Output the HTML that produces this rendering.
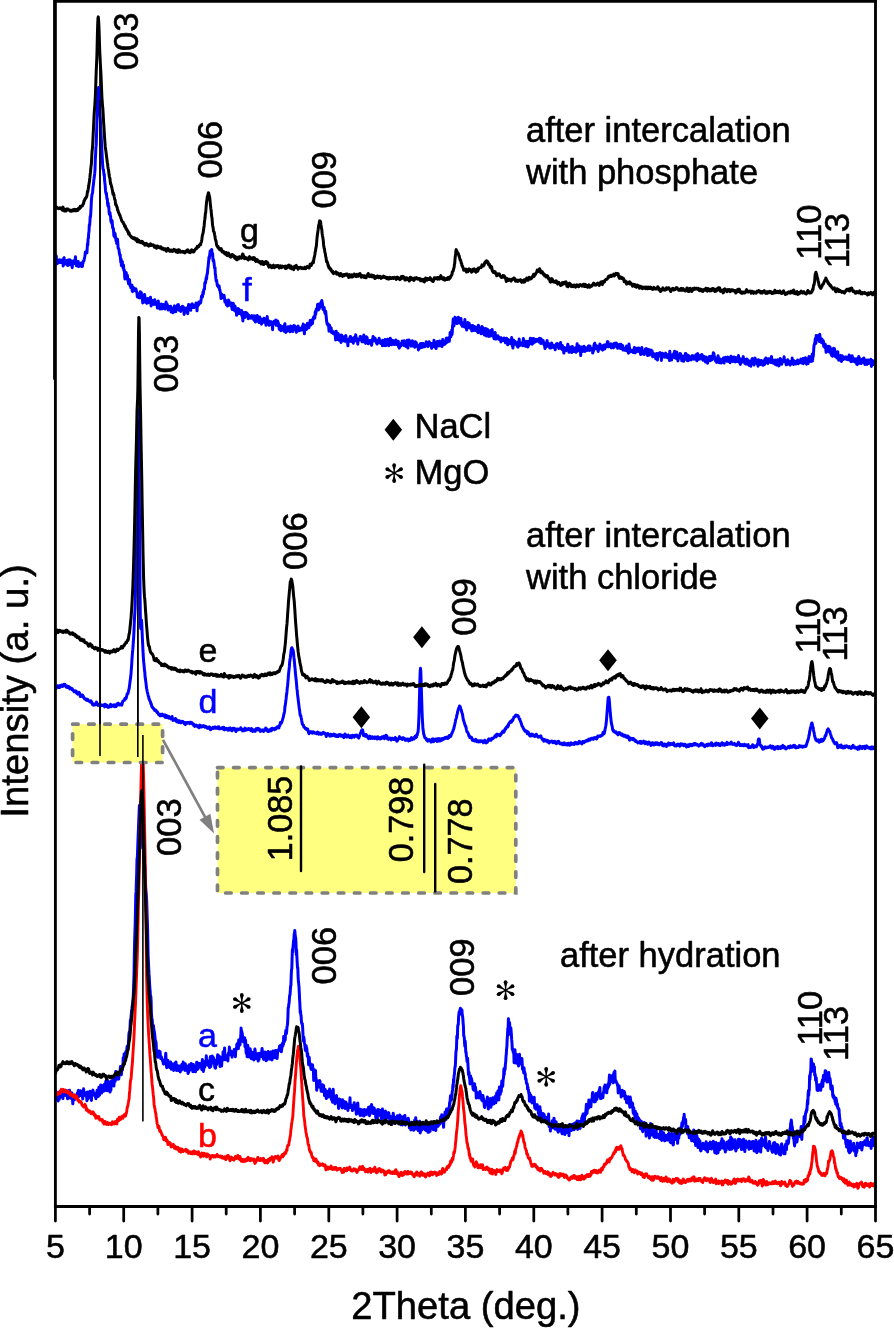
<!DOCTYPE html>
<html><head><meta charset="utf-8"><title>XRD</title>
<style>html,body{margin:0;padding:0;background:#fff}svg{display:block;will-change:transform}text{font-family:"Liberation Sans",sans-serif;stroke-width:0.55px;stroke-linejoin:round}text{stroke:#000}text[fill="#00f"]{stroke:#00f}text[fill="#f00"]{stroke:#f00}</style></head>
<body>
<svg width="894" height="1330" viewBox="0 0 894 1330">
<rect width="894" height="1330" fill="#fff"/>
<g stroke="#000" stroke-width="1.6">
<line x1="100" y1="60" x2="100" y2="756"/>
<line x1="137.8" y1="330" x2="137.8" y2="757"/>
</g>
<g id="top">
<path d="M55.4 261.6L55.7 260.2L56.0 260.0L56.3 256.1L56.6 262.8L56.9 263.9L57.2 261.5L57.5 262.8L57.8 262.3L58.1 260.6L58.4 262.9L58.7 261.3L59.0 260.7L59.3 259.7L59.6 261.7L59.9 261.3L60.2 262.5L60.5 260.7L60.8 261.5L61.1 259.9L61.4 262.6L61.7 262.3L62.0 262.5L62.3 262.8L62.6 260.2L62.9 262.7L63.2 266.0L63.5 260.2L63.8 258.0L64.1 257.7L64.4 262.1L64.7 262.3L65.0 264.1L65.3 264.1L65.6 263.2L65.9 263.0L66.2 262.1L66.5 263.8L66.8 260.6L67.1 260.8L67.4 262.2L67.7 265.6L68.0 262.0L68.3 260.1L68.6 260.5L68.9 263.5L69.2 262.3L69.5 264.8L69.8 259.7L70.1 263.6L70.4 264.7L70.7 260.5L71.0 262.0L71.3 264.6L71.6 263.4L71.9 264.6L72.2 267.7L72.5 264.8L72.8 262.8L73.1 261.1L73.4 263.2L73.7 262.4L74.0 262.1L74.3 262.2L74.6 263.6L74.9 260.9L75.2 259.1L75.5 256.7L75.8 262.9L76.1 262.9L76.4 265.8L76.7 264.0L77.0 262.1L77.3 263.9L77.6 263.6L77.9 261.4L78.2 261.4L78.5 266.6L78.8 265.8L79.1 265.8L79.4 264.6L79.7 263.4L80.0 266.1L80.3 265.1L80.6 263.6L80.9 264.2L81.2 262.9L81.5 264.4L81.8 266.6L82.1 263.5L82.4 266.4L82.7 263.2L83.0 263.3L83.3 261.1L83.6 261.1L83.9 261.0L84.2 259.5L84.5 257.8L84.8 256.5L85.1 254.9L85.4 252.0L85.7 252.5L86.0 252.9L86.3 252.9L86.6 251.2L86.9 252.8L87.2 248.1L87.5 243.7L87.8 245.1L88.1 238.6L88.4 238.5L88.7 233.0L89.0 231.7L89.3 224.9L89.6 225.7L89.9 221.8L90.2 216.5L90.5 217.0L90.8 212.7L91.1 207.0L91.4 200.4L91.7 197.2L92.0 194.3L92.3 193.6L92.6 192.5L92.9 188.3L93.2 186.1L93.5 184.0L93.8 180.2L94.1 178.3L94.4 176.0L94.7 173.4L95.0 169.6L95.3 159.6L95.6 154.8L95.9 147.5L96.2 145.4L96.5 135.5L96.8 126.6L97.1 113.6L97.4 103.7L97.7 98.0L98.0 92.3L98.3 90.8L98.6 87.5L98.9 92.4L99.2 93.9L99.5 103.0L99.8 106.8L100.1 115.8L100.4 119.9L100.7 129.2L101.0 133.1L101.3 138.6L101.6 145.4L101.9 150.5L102.2 156.5L102.5 162.4L102.8 167.0L103.1 169.2L103.4 169.2L103.7 171.8L104.0 175.1L104.3 174.1L104.6 180.8L104.9 183.1L105.2 185.6L105.5 190.2L105.8 192.6L106.1 193.8L106.4 193.1L106.7 196.6L107.0 199.0L107.3 198.8L107.6 203.8L107.9 205.9L108.2 203.1L108.5 207.1L108.8 206.9L109.1 212.2L109.4 214.3L109.7 212.2L110.0 212.7L110.3 215.5L110.6 216.6L110.9 221.1L111.2 222.0L111.5 221.3L111.8 223.6L112.1 220.5L112.4 224.8L112.7 228.2L113.0 228.3L113.3 228.2L113.6 231.3L113.9 235.8L114.2 234.8L114.5 232.7L114.8 237.5L115.1 233.6L115.4 237.4L115.7 237.3L116.0 240.8L116.3 239.2L116.6 243.4L116.9 243.5L117.2 240.3L117.5 239.3L117.8 242.8L118.1 247.8L118.4 248.2L118.7 249.1L119.0 249.8L119.3 252.9L119.6 254.3L119.9 255.6L120.2 254.6L120.5 259.3L120.8 262.3L121.1 259.1L121.4 265.6L121.7 265.7L122.0 264.0L122.3 261.4L122.6 265.9L122.9 267.9L123.2 267.1L123.5 265.1L123.8 270.5L124.1 269.7L124.4 270.2L124.7 277.2L125.0 278.9L125.3 277.7L125.6 275.2L125.9 276.9L126.2 272.5L126.5 276.0L126.8 276.0L127.1 275.5L127.4 275.3L127.7 279.6L128.0 280.7L128.3 281.7L128.6 283.8L128.9 281.7L129.2 280.6L129.5 279.6L129.8 282.4L130.1 285.8L130.4 285.6L130.7 287.4L131.0 284.9L131.3 285.7L131.6 285.8L131.9 285.2L132.2 291.1L132.5 291.6L132.8 288.9L133.1 288.3L133.4 289.6L133.7 287.7L134.0 290.8L134.3 288.8L134.6 290.1L134.9 289.5L135.2 290.5L135.5 289.4L135.8 288.8L136.1 289.8L136.4 290.9L136.7 292.2L137.0 293.5L137.3 296.9L137.6 296.9L137.9 295.0L138.2 296.3L138.5 294.3L138.8 297.7L139.1 297.4L139.4 293.8L139.7 296.7L140.0 297.9L140.3 291.8L140.6 293.5L140.9 294.7L141.2 292.5L141.5 293.5L141.8 294.2L142.1 297.3L142.4 298.1L142.7 302.9L143.0 299.0L143.3 300.6L143.6 299.3L143.9 299.3L144.2 296.7L144.5 294.5L144.8 296.0L145.1 299.5L145.4 302.3L145.7 301.6L146.0 301.3L146.3 298.7L146.6 302.4L146.9 303.4L147.2 300.3L147.5 300.3L147.8 298.5L148.1 302.7L148.4 302.2L148.7 301.2L149.0 301.9L149.3 302.3L149.6 300.9L149.9 298.9L150.2 298.2L150.5 297.2L150.8 301.1L151.1 305.9L151.4 300.2L151.7 301.8L152.0 302.9L152.3 300.8L152.6 302.3L152.9 300.5L153.2 304.3L153.5 302.3L153.8 303.0L154.1 304.4L154.4 302.9L154.7 299.8L155.0 301.2L155.3 304.2L155.6 303.7L155.9 304.2L156.2 302.0L156.5 303.6L156.8 305.3L157.1 304.7L157.4 308.1L157.7 305.3L158.0 302.9L158.3 301.0L158.6 305.6L158.9 305.0L159.2 306.9L159.5 306.6L159.8 308.7L160.1 308.9L160.4 305.9L160.7 306.1L161.0 307.8L161.3 304.1L161.6 307.9L161.9 308.9L162.2 308.9L162.5 306.7L162.8 306.9L163.1 304.4L163.4 305.8L163.7 305.1L164.0 306.2L164.3 305.6L164.6 306.9L164.9 309.1L165.2 305.2L165.5 308.2L165.8 303.7L166.1 301.9L166.4 305.2L166.7 306.7L167.0 308.0L167.3 304.6L167.6 306.5L167.9 307.5L168.2 310.1L168.5 308.5L168.8 309.2L169.1 306.6L169.4 307.2L169.7 307.0L170.0 309.2L170.3 306.8L170.6 306.2L170.9 308.8L171.2 312.0L171.5 310.5L171.8 309.8L172.1 308.4L172.4 310.7L172.7 310.5L173.0 312.7L173.3 310.8L173.6 307.8L173.9 307.4L174.2 306.6L174.5 305.8L174.8 310.3L175.1 311.0L175.4 307.4L175.7 311.8L176.0 310.5L176.3 307.8L176.6 309.4L176.9 309.1L177.2 307.7L177.5 305.0L177.8 307.8L178.1 309.2L178.4 304.4L178.7 308.6L179.0 310.2L179.3 308.7L179.6 309.3L179.9 308.7L180.2 307.5L180.5 308.0L180.8 311.4L181.1 307.3L181.4 309.0L181.7 309.5L182.0 308.0L182.3 308.0L182.6 306.2L182.9 306.5L183.2 308.3L183.5 309.5L183.8 307.6L184.1 314.4L184.4 309.9L184.7 309.6L185.0 308.8L185.3 308.2L185.6 311.2L185.9 308.9L186.2 311.4L186.5 312.0L186.8 308.0L187.1 310.5L187.4 308.1L187.7 313.7L188.0 309.7L188.3 307.2L188.6 304.5L188.9 304.6L189.2 306.0L189.5 305.6L189.8 305.0L190.1 305.7L190.4 306.9L190.7 310.3L191.0 305.5L191.3 306.0L191.6 305.3L191.9 303.9L192.2 303.8L192.5 304.4L192.8 307.6L193.1 306.9L193.4 305.9L193.7 307.6L194.0 307.5L194.3 306.4L194.6 307.1L194.9 304.9L195.2 306.8L195.5 307.0L195.8 305.3L196.1 303.0L196.4 307.3L196.7 305.9L197.0 310.8L197.3 305.4L197.6 306.2L197.9 303.8L198.2 304.1L198.5 305.0L198.8 302.1L199.1 302.1L199.4 302.3L199.7 302.0L200.0 302.5L200.3 303.2L200.6 302.7L200.9 301.1L201.2 299.0L201.5 296.3L201.8 295.7L202.1 295.4L202.4 297.0L202.7 295.0L203.0 292.0L203.3 293.8L203.6 291.1L203.9 289.4L204.2 289.0L204.5 289.3L204.8 283.0L205.1 282.2L205.4 283.3L205.7 281.6L206.0 278.8L206.3 277.2L206.6 279.0L206.9 274.8L207.2 274.1L207.5 272.6L207.8 268.3L208.1 267.0L208.4 263.4L208.7 260.5L209.0 257.2L209.3 258.6L209.6 255.6L209.9 253.4L210.2 250.9L210.5 255.1L210.8 254.4L211.1 252.6L211.4 251.1L211.7 249.5L212.0 253.0L212.3 255.0L212.6 253.4L212.9 258.8L213.2 261.0L213.5 259.8L213.8 261.3L214.1 263.4L214.4 266.5L214.7 268.2L215.0 267.3L215.3 274.0L215.6 275.4L215.9 278.7L216.2 281.0L216.5 280.0L216.8 281.7L217.1 284.0L217.4 285.7L217.7 285.4L218.0 285.2L218.3 287.1L218.6 286.8L218.9 287.9L219.2 286.0L219.5 289.9L219.8 289.7L220.1 291.0L220.4 292.9L220.7 294.6L221.0 298.6L221.3 297.2L221.6 294.0L221.9 296.1L222.2 295.8L222.5 297.8L222.8 296.7L223.1 296.5L223.4 297.1L223.7 297.3L224.0 295.3L224.3 296.9L224.6 298.9L224.9 302.1L225.2 300.5L225.5 300.0L225.8 301.7L226.1 302.4L226.4 304.8L226.7 303.8L227.0 302.5L227.3 304.8L227.6 306.1L227.9 302.9L228.2 303.2L228.5 300.0L228.8 301.5L229.1 301.3L229.4 302.6L229.7 302.8L230.0 303.6L230.3 304.2L230.6 305.7L230.9 305.9L231.2 304.7L231.5 303.0L231.8 307.4L232.1 309.4L232.4 306.8L232.7 307.9L233.0 304.5L233.3 303.4L233.6 305.6L233.9 309.9L234.2 306.8L234.5 306.3L234.8 310.9L235.1 306.1L235.4 309.3L235.7 310.4L236.0 309.6L236.3 310.3L236.6 315.3L236.9 310.1L237.2 310.0L237.5 310.3L237.8 309.7L238.1 308.4L238.4 313.7L238.7 313.1L239.0 309.2L239.3 310.0L239.6 312.5L239.9 313.5L240.2 310.4L240.5 312.0L240.8 313.3L241.1 314.1L241.4 314.5L241.7 310.6L242.0 316.2L242.3 315.1L242.6 317.9L242.9 320.9L243.2 316.3L243.5 312.8L243.8 315.6L244.1 314.7L244.4 313.9L244.7 312.6L245.0 317.4L245.3 315.1L245.6 312.5L245.9 313.5L246.2 312.6L246.5 314.8L246.8 314.5L247.1 313.3L247.4 316.1L247.7 314.7L248.0 316.9L248.3 318.7L248.6 316.4L248.9 315.1L249.2 316.3L249.5 318.0L249.8 317.0L250.1 317.0L250.4 316.7L250.7 317.3L251.0 318.2L251.3 316.0L251.6 315.8L251.9 316.7L252.2 315.8L252.5 317.0L252.8 318.3L253.1 317.7L253.4 316.5L253.7 315.8L254.0 320.3L254.3 320.4L254.6 316.7L254.9 316.0L255.2 320.9L255.5 322.0L255.8 319.8L256.1 321.1L256.4 316.6L256.7 317.9L257.0 319.8L257.3 315.6L257.6 316.3L257.9 319.5L258.2 321.4L258.5 318.8L258.8 319.7L259.1 322.5L259.4 319.8L259.7 317.1L260.0 318.7L260.3 318.6L260.6 321.9L260.9 320.9L261.2 318.9L261.5 324.2L261.8 320.7L262.1 321.4L262.4 322.0L262.7 322.5L263.0 321.6L263.3 322.2L263.6 321.2L263.9 318.3L264.2 319.7L264.5 320.2L264.8 320.5L265.1 321.3L265.4 320.2L265.7 323.5L266.0 325.2L266.3 318.8L266.6 320.8L266.9 320.1L267.2 316.4L267.5 320.9L267.8 320.5L268.1 320.9L268.4 320.6L268.7 323.9L269.0 325.3L269.3 324.1L269.6 324.5L269.9 323.2L270.2 323.3L270.5 321.7L270.8 322.7L271.1 321.7L271.4 323.4L271.7 325.0L272.0 324.6L272.3 326.2L272.6 329.7L272.9 321.9L273.2 323.3L273.5 322.7L273.8 322.8L274.1 321.2L274.4 323.4L274.7 323.6L275.0 323.1L275.3 323.7L275.6 323.3L275.9 320.0L276.2 325.3L276.5 324.7L276.8 323.3L277.1 325.3L277.4 324.2L277.7 321.1L278.0 325.8L278.3 322.7L278.6 324.5L278.9 325.8L279.2 328.6L279.5 329.4L279.8 327.8L280.1 325.6L280.4 325.6L280.7 328.4L281.0 330.8L281.3 329.4L281.6 326.7L281.9 329.0L282.2 327.3L282.5 326.6L282.8 326.7L283.1 328.5L283.4 328.6L283.7 330.0L284.0 331.1L284.3 330.1L284.6 324.5L284.9 323.7L285.2 327.0L285.5 327.8L285.8 332.4L286.1 329.9L286.4 328.8L286.7 330.6L287.0 331.4L287.3 329.4L287.6 330.0L287.9 327.2L288.2 326.7L288.5 330.6L288.8 327.0L289.1 330.2L289.4 330.9L289.7 331.3L290.0 331.8L290.3 331.3L290.6 326.1L290.9 326.4L291.2 327.3L291.5 330.5L291.8 327.7L292.1 327.6L292.4 328.2L292.7 331.6L293.0 327.5L293.3 326.3L293.6 329.6L293.9 325.5L294.2 328.7L294.5 328.3L294.8 326.1L295.1 327.4L295.4 326.8L295.7 328.8L296.0 329.8L296.3 332.3L296.6 330.3L296.9 329.8L297.2 328.3L297.5 328.8L297.8 330.9L298.1 326.1L298.4 329.2L298.7 328.0L299.0 328.7L299.3 329.4L299.6 330.6L299.9 329.8L300.2 328.3L300.5 329.1L300.8 328.7L301.1 328.2L301.4 328.7L301.7 330.1L302.0 329.2L302.3 328.8L302.6 325.9L302.9 327.0L303.2 324.1L303.5 327.9L303.8 326.0L304.1 329.5L304.4 333.8L304.7 328.9L305.0 330.3L305.3 329.0L305.6 326.7L305.9 325.2L306.2 327.3L306.5 329.5L306.8 328.2L307.1 324.1L307.4 323.4L307.7 324.6L308.0 327.9L308.3 326.9L308.6 326.4L308.9 327.8L309.2 325.4L309.5 324.6L309.8 324.0L310.1 320.5L310.4 323.3L310.7 324.0L311.0 325.0L311.3 321.0L311.6 320.0L311.9 322.6L312.2 322.1L312.5 323.5L312.8 319.4L313.1 319.6L313.4 317.6L313.7 318.3L314.0 316.6L314.3 317.5L314.6 318.3L314.9 317.3L315.2 311.8L315.5 314.5L315.8 313.9L316.1 310.4L316.4 308.9L316.7 309.5L317.0 310.2L317.3 307.9L317.6 304.4L317.9 306.2L318.2 306.2L318.5 310.0L318.8 303.9L319.1 308.6L319.4 308.6L319.7 305.6L320.0 307.0L320.3 304.5L320.6 305.4L320.9 302.6L321.2 303.3L321.5 301.8L321.8 300.5L322.1 302.9L322.4 303.5L322.7 306.5L323.0 309.4L323.3 308.3L323.6 309.0L323.9 310.1L324.2 307.6L324.5 311.0L324.8 312.4L325.1 313.5L325.4 312.5L325.7 311.2L326.0 314.6L326.3 317.5L326.6 321.1L326.9 322.5L327.2 324.2L327.5 323.3L327.8 325.1L328.1 323.6L328.4 325.2L328.7 326.8L329.0 331.2L329.3 328.6L329.6 325.2L329.9 329.5L330.2 327.2L330.5 328.2L330.8 328.5L331.1 327.8L331.4 332.1L331.7 332.5L332.0 330.7L332.3 331.6L332.6 331.3L332.9 333.4L333.2 332.5L333.5 331.7L333.8 331.8L334.1 332.5L334.4 334.3L334.7 332.8L335.0 334.1L335.3 335.7L335.6 340.0L335.9 338.8L336.2 331.3L336.5 333.5L336.8 334.6L337.1 336.4L337.4 339.6L337.7 339.2L338.0 333.4L338.3 336.4L338.6 337.2L338.9 338.1L339.2 340.3L339.5 336.5L339.8 339.4L340.1 335.3L340.4 337.1L340.7 338.4L341.0 342.5L341.3 338.4L341.6 335.1L341.9 338.5L342.2 337.2L342.5 340.9L342.8 338.0L343.1 336.7L343.4 340.3L343.7 339.4L344.0 340.8L344.3 336.8L344.6 341.2L344.9 338.6L345.2 340.3L345.5 337.5L345.8 335.5L346.1 337.3L346.4 338.8L346.7 342.0L347.0 340.8L347.3 341.1L347.6 341.1L347.9 345.8L348.2 340.0L348.5 341.9L348.8 339.9L349.1 340.1L349.4 338.6L349.7 341.3L350.0 337.7L350.3 336.4L350.6 338.0L350.9 336.8L351.2 339.9L351.5 341.4L351.8 338.8L352.1 340.8L352.4 338.8L352.7 339.3L353.0 339.5L353.3 343.2L353.6 340.9L353.9 338.4L354.2 337.5L354.5 341.2L354.8 337.1L355.1 338.0L355.4 338.4L355.7 334.7L356.0 337.1L356.3 340.8L356.6 340.6L356.9 338.4L357.2 340.7L357.5 341.1L357.8 344.2L358.1 340.0L358.4 339.2L358.7 339.8L359.0 339.6L359.3 340.0L359.6 339.8L359.9 338.6L360.2 336.5L360.5 337.7L360.8 336.6L361.1 336.9L361.4 337.9L361.7 340.3L362.0 341.8L362.3 338.7L362.6 340.2L362.9 341.7L363.2 340.6L363.5 337.2L363.8 335.1L364.1 339.9L364.4 341.9L364.7 341.3L365.0 338.7L365.3 342.5L365.6 343.4L365.9 341.3L366.2 340.3L366.5 336.7L366.8 340.5L367.1 337.4L367.4 340.7L367.7 342.0L368.0 341.2L368.3 343.8L368.6 341.1L368.9 341.9L369.2 342.6L369.5 341.9L369.8 340.4L370.1 343.0L370.4 342.4L370.7 341.0L371.0 340.6L371.3 341.1L371.6 345.3L371.9 342.7L372.2 341.2L372.5 339.1L372.8 338.1L373.1 336.5L373.4 340.0L373.7 340.9L374.0 339.2L374.3 337.8L374.6 339.5L374.9 339.8L375.2 338.3L375.5 341.0L375.8 341.6L376.1 341.5L376.4 343.0L376.7 340.9L377.0 344.0L377.3 340.6L377.6 342.3L377.9 343.2L378.2 341.8L378.5 342.5L378.8 339.7L379.1 338.3L379.4 340.3L379.7 340.1L380.0 342.5L380.3 342.3L380.6 343.4L380.9 343.2L381.2 342.9L381.5 342.7L381.8 341.7L382.1 341.2L382.4 345.8L382.7 340.3L383.0 341.3L383.3 344.0L383.6 343.8L383.9 345.6L384.2 344.7L384.5 340.9L384.8 341.4L385.1 339.6L385.4 343.5L385.7 345.7L386.0 342.9L386.3 343.9L386.6 342.4L386.9 340.0L387.2 341.0L387.5 339.2L387.8 340.5L388.1 342.5L388.4 344.2L388.7 345.8L389.0 343.4L389.3 343.6L389.6 344.0L389.9 344.5L390.2 338.2L390.5 339.9L390.8 343.5L391.1 341.2L391.4 343.0L391.7 344.7L392.0 340.2L392.3 341.8L392.6 343.2L392.9 343.3L393.2 340.4L393.5 343.0L393.8 342.2L394.1 344.6L394.4 344.6L394.7 342.8L395.0 343.6L395.3 342.3L395.6 341.8L395.9 340.0L396.2 341.9L396.5 344.5L396.8 344.2L397.1 343.8L397.4 342.5L397.7 342.3L398.0 344.6L398.3 341.2L398.6 346.8L398.9 344.7L399.2 348.2L399.5 347.6L399.8 344.4L400.1 345.4L400.4 344.9L400.7 345.2L401.0 345.9L401.3 343.6L401.6 342.7L401.9 342.8L402.2 341.0L402.5 342.5L402.8 344.0L403.1 344.5L403.4 344.6L403.7 343.6L404.0 345.5L404.3 340.8L404.6 342.3L404.9 342.9L405.2 345.5L405.5 346.0L405.8 346.4L406.1 345.1L406.4 346.4L406.7 343.2L407.0 344.1L407.3 340.3L407.6 346.2L407.9 348.0L408.2 344.6L408.5 342.9L408.8 340.0L409.1 340.0L409.4 343.2L409.7 343.8L410.0 341.5L410.3 342.6L410.6 342.6L410.9 344.8L411.2 346.1L411.5 344.8L411.8 344.9L412.1 344.8L412.4 340.8L412.7 343.7L413.0 344.3L413.3 346.0L413.6 341.8L413.9 345.2L414.2 343.8L414.5 345.0L414.8 347.2L415.1 342.9L415.4 341.8L415.7 345.7L416.0 343.1L416.3 342.5L416.6 345.3L416.9 344.7L417.2 346.4L417.5 346.1L417.8 345.4L418.1 347.0L418.4 349.9L418.7 346.6L419.0 348.4L419.3 348.4L419.6 346.5L419.9 346.5L420.2 343.8L420.5 343.5L420.8 345.1L421.1 345.1L421.4 347.6L421.7 343.6L422.0 344.1L422.3 343.6L422.6 344.3L422.9 347.1L423.2 343.6L423.5 346.2L423.8 344.5L424.1 344.3L424.4 346.8L424.7 345.2L425.0 346.5L425.3 345.9L425.6 345.1L425.9 344.5L426.2 341.7L426.5 342.5L426.8 344.6L427.1 345.3L427.4 342.4L427.7 346.1L428.0 346.5L428.3 343.2L428.6 342.4L428.9 345.1L429.2 341.7L429.5 342.5L429.8 344.0L430.1 344.4L430.4 344.7L430.7 345.6L431.0 343.6L431.3 343.5L431.6 348.3L431.9 343.4L432.2 343.4L432.5 344.5L432.8 343.4L433.1 346.5L433.4 345.4L433.7 346.3L434.0 340.2L434.3 345.3L434.6 346.9L434.9 343.9L435.2 346.7L435.5 345.7L435.8 346.5L436.1 348.5L436.4 345.9L436.7 342.8L437.0 343.6L437.3 341.5L437.6 341.6L437.9 341.7L438.2 341.8L438.5 345.3L438.8 345.9L439.1 342.8L439.4 345.5L439.7 341.1L440.0 341.5L440.3 342.5L440.6 345.4L440.9 345.4L441.2 344.9L441.5 346.3L441.8 345.6L442.1 346.5L442.4 342.7L442.7 339.6L443.0 340.9L443.3 343.6L443.6 343.4L443.9 344.4L444.2 344.4L444.5 343.9L444.8 344.2L445.1 341.3L445.4 343.6L445.7 340.3L446.0 340.8L446.3 338.3L446.6 341.0L446.9 337.9L447.2 342.3L447.5 338.5L447.8 340.0L448.1 339.6L448.4 337.9L448.7 341.1L449.0 338.8L449.3 341.3L449.6 337.1L449.9 335.7L450.2 332.5L450.5 335.7L450.8 336.9L451.1 335.3L451.4 333.3L451.7 330.3L452.0 334.5L452.3 332.0L452.6 325.2L452.9 324.6L453.2 319.1L453.5 324.2L453.8 326.0L454.1 325.1L454.4 321.8L454.7 319.6L455.0 317.2L455.3 320.0L455.6 318.5L455.9 318.6L456.2 318.2L456.5 318.6L456.8 321.1L457.1 323.5L457.4 321.5L457.7 320.6L458.0 318.2L458.3 317.2L458.6 317.3L458.9 321.1L459.2 321.3L459.5 322.9L459.8 322.5L460.1 320.9L460.4 318.9L460.7 320.0L461.0 318.5L461.3 324.6L461.6 323.6L461.9 322.1L462.2 326.3L462.5 323.3L462.8 324.2L463.1 323.3L463.4 324.1L463.7 323.1L464.0 324.5L464.3 326.9L464.6 322.8L464.9 319.6L465.2 325.4L465.5 325.3L465.8 326.7L466.1 325.1L466.4 328.2L466.7 329.9L467.0 324.9L467.3 326.7L467.6 325.0L467.9 322.6L468.2 324.4L468.5 326.7L468.8 324.0L469.1 323.2L469.4 327.9L469.7 327.3L470.0 327.9L470.3 325.2L470.6 325.3L470.9 326.9L471.2 327.7L471.5 327.9L471.8 330.9L472.1 329.3L472.4 325.6L472.7 325.6L473.0 327.2L473.3 330.4L473.6 327.8L473.9 327.6L474.2 328.2L474.5 327.2L474.8 326.7L475.1 327.7L475.4 330.5L475.7 330.5L476.0 329.1L476.3 330.0L476.6 327.2L476.9 330.6L477.2 331.4L477.5 330.8L477.8 327.0L478.1 332.7L478.4 325.3L478.7 326.5L479.0 327.1L479.3 330.4L479.6 327.5L479.9 329.8L480.2 329.9L480.5 329.7L480.8 331.9L481.1 333.8L481.4 332.6L481.7 330.9L482.0 326.6L482.3 332.2L482.6 330.9L482.9 327.5L483.2 330.2L483.5 333.7L483.8 331.9L484.1 329.4L484.4 335.1L484.7 334.0L485.0 333.2L485.3 334.2L485.6 328.5L485.9 330.6L486.2 331.2L486.5 336.1L486.8 332.5L487.1 331.3L487.4 329.3L487.7 329.8L488.0 331.2L488.3 332.6L488.6 332.3L488.9 336.4L489.2 335.0L489.5 334.9L489.8 336.3L490.1 335.5L490.4 333.1L490.7 330.4L491.0 333.2L491.3 332.0L491.6 335.8L491.9 333.2L492.2 329.6L492.5 332.8L492.8 336.0L493.1 334.8L493.4 335.2L493.7 335.5L494.0 338.7L494.3 337.2L494.6 336.1L494.9 334.8L495.2 332.5L495.5 337.6L495.8 339.1L496.1 335.7L496.4 337.6L496.7 337.9L497.0 336.7L497.3 336.6L497.6 338.7L497.9 335.8L498.2 336.3L498.5 337.4L498.8 338.0L499.1 338.0L499.4 338.9L499.7 339.9L500.0 337.7L500.3 338.9L500.6 338.2L500.9 342.0L501.2 337.8L501.5 338.7L501.8 340.9L502.1 339.9L502.4 339.5L502.7 339.1L503.0 340.6L503.3 338.4L503.6 339.8L503.9 340.3L504.2 337.9L504.5 340.4L504.8 339.9L505.1 341.3L505.4 342.8L505.7 342.4L506.0 339.4L506.3 341.3L506.6 338.3L506.9 338.8L507.2 343.7L507.5 342.3L507.8 344.8L508.1 342.4L508.4 341.9L508.7 339.7L509.0 342.8L509.3 341.8L509.6 343.0L509.9 343.1L510.2 343.4L510.5 343.1L510.8 342.3L511.1 342.2L511.4 340.8L511.7 337.6L512.0 341.6L512.3 346.0L512.6 345.7L512.9 348.0L513.2 345.3L513.5 341.6L513.8 340.3L514.1 343.2L514.4 343.4L514.7 342.6L515.0 344.0L515.3 341.5L515.6 343.3L515.9 342.4L516.2 342.9L516.5 345.1L516.8 343.3L517.1 345.6L517.4 346.4L517.7 342.6L518.0 347.2L518.3 342.1L518.6 342.4L518.9 344.2L519.2 339.0L519.5 343.6L519.8 345.4L520.1 343.6L520.4 343.7L520.7 343.7L521.0 342.9L521.3 345.0L521.6 343.0L521.9 342.9L522.2 343.7L522.5 344.9L522.8 345.8L523.1 341.1L523.4 338.4L523.7 341.1L524.0 342.2L524.3 340.6L524.6 342.6L524.9 343.9L525.2 343.9L525.5 346.3L525.8 342.0L526.1 342.4L526.4 346.2L526.7 345.1L527.0 341.3L527.3 342.4L527.6 344.7L527.9 347.1L528.2 345.3L528.5 345.5L528.8 341.3L529.1 341.4L529.4 344.2L529.7 341.0L530.0 341.6L530.3 338.3L530.6 343.6L530.9 342.3L531.2 343.2L531.5 339.5L531.8 338.6L532.1 344.2L532.4 342.0L532.7 340.9L533.0 342.5L533.3 343.1L533.6 338.5L533.9 338.7L534.2 340.7L534.5 341.3L534.8 342.2L535.1 340.9L535.4 340.8L535.7 341.6L536.0 340.1L536.3 339.3L536.6 339.5L536.9 340.6L537.2 340.6L537.5 340.0L537.8 340.1L538.1 340.6L538.4 341.4L538.7 341.8L539.0 338.7L539.3 342.0L539.6 338.3L539.9 341.1L540.2 339.8L540.5 341.9L540.8 343.6L541.1 338.7L541.4 341.8L541.7 342.3L542.0 341.2L542.3 342.6L542.6 341.5L542.9 342.4L543.2 340.6L543.5 343.5L543.8 344.3L544.1 345.0L544.4 342.7L544.7 346.7L545.0 348.5L545.3 345.3L545.6 343.7L545.9 343.2L546.2 345.2L546.5 346.7L546.8 343.9L547.1 340.6L547.4 344.2L547.7 344.6L548.0 345.2L548.3 346.2L548.6 343.5L548.9 344.9L549.2 344.7L549.5 346.0L549.8 348.1L550.1 346.6L550.4 344.5L550.7 347.8L551.0 348.0L551.3 346.4L551.6 342.9L551.9 343.4L552.2 345.6L552.5 347.2L552.8 345.8L553.1 347.1L553.4 345.6L553.7 345.5L554.0 347.4L554.3 346.5L554.6 347.1L554.9 348.7L555.2 349.8L555.5 346.9L555.8 346.6L556.1 344.5L556.4 343.8L556.7 346.6L557.0 346.1L557.3 343.4L557.6 347.0L557.9 345.7L558.2 346.3L558.5 347.9L558.8 348.4L559.1 347.8L559.4 343.9L559.7 347.5L560.0 346.5L560.3 344.7L560.6 342.5L560.9 348.5L561.2 348.4L561.5 348.3L561.8 349.3L562.1 348.3L562.4 345.4L562.7 348.5L563.0 350.2L563.3 349.9L563.6 351.8L563.9 353.1L564.2 348.5L564.5 347.6L564.8 349.8L565.1 349.3L565.4 349.2L565.7 350.6L566.0 350.7L566.3 348.5L566.6 348.9L566.9 347.4L567.2 347.9L567.5 346.4L567.8 344.3L568.1 346.3L568.4 346.9L568.7 349.9L569.0 352.3L569.3 350.2L569.6 350.4L569.9 348.3L570.2 347.1L570.5 347.9L570.8 348.2L571.1 349.4L571.4 349.5L571.7 352.5L572.0 350.0L572.3 346.5L572.6 348.6L572.9 347.9L573.2 349.2L573.5 351.5L573.8 349.0L574.1 349.1L574.4 350.3L574.7 348.0L575.0 349.4L575.3 350.5L575.6 351.4L575.9 352.3L576.2 351.6L576.5 351.0L576.8 347.5L577.1 343.8L577.4 345.8L577.7 351.0L578.0 350.3L578.3 345.6L578.6 347.4L578.9 349.6L579.2 346.1L579.5 349.5L579.8 347.4L580.1 350.8L580.4 350.1L580.7 355.6L581.0 349.2L581.3 350.0L581.6 346.9L581.9 350.8L582.2 350.2L582.5 351.5L582.8 350.4L583.1 347.6L583.4 347.5L583.7 346.4L584.0 346.3L584.3 348.5L584.6 351.0L584.9 351.5L585.2 351.0L585.5 348.7L585.8 350.0L586.1 347.8L586.4 349.0L586.7 350.6L587.0 349.2L587.3 348.1L587.6 347.8L587.9 349.6L588.2 348.5L588.5 346.0L588.8 347.0L589.1 346.1L589.4 350.6L589.7 349.3L590.0 346.0L590.3 348.1L590.6 349.7L590.9 349.6L591.2 348.1L591.5 348.6L591.8 348.9L592.1 350.4L592.4 349.7L592.7 353.0L593.0 349.5L593.3 351.5L593.6 349.3L593.9 345.3L594.2 344.9L594.5 343.5L594.8 343.2L595.1 348.6L595.4 346.9L595.7 348.7L596.0 346.5L596.3 347.4L596.6 345.7L596.9 348.7L597.2 347.6L597.5 346.8L597.8 347.1L598.1 351.5L598.4 349.8L598.7 349.9L599.0 346.1L599.3 345.8L599.6 347.4L599.9 343.9L600.2 348.7L600.5 348.3L600.8 347.6L601.1 347.0L601.4 346.7L601.7 346.1L602.0 349.4L602.3 349.2L602.6 350.1L602.9 347.5L603.2 345.5L603.5 348.9L603.8 345.3L604.1 345.1L604.4 347.5L604.7 349.0L605.0 345.0L605.3 345.5L605.6 346.2L605.9 346.1L606.2 344.6L606.5 347.0L606.8 345.5L607.1 345.5L607.4 341.7L607.7 344.3L608.0 341.8L608.3 345.8L608.6 346.8L608.9 345.2L609.2 345.9L609.5 346.0L609.8 345.5L610.1 346.3L610.4 345.6L610.7 344.7L611.0 343.8L611.3 348.0L611.6 346.7L611.9 345.9L612.2 347.0L612.5 345.2L612.8 344.6L613.1 346.4L613.4 347.7L613.7 347.5L614.0 343.4L614.3 344.8L614.6 345.2L614.9 346.3L615.2 344.2L615.5 343.1L615.8 344.5L616.1 343.6L616.4 343.0L616.7 344.7L617.0 347.2L617.3 346.7L617.6 348.3L617.9 345.0L618.2 347.1L618.5 346.6L618.8 344.8L619.1 345.1L619.4 344.4L619.7 345.5L620.0 344.9L620.3 348.5L620.6 346.8L620.9 344.3L621.2 345.8L621.5 347.5L621.8 346.8L622.1 348.9L622.4 346.3L622.7 345.6L623.0 350.1L623.3 348.7L623.6 349.2L623.9 349.4L624.2 349.7L624.5 348.9L624.8 348.2L625.1 350.4L625.4 348.3L625.7 348.8L626.0 350.1L626.3 348.6L626.6 346.0L626.9 348.9L627.2 351.1L627.5 350.4L627.8 346.6L628.1 349.6L628.4 353.2L628.7 348.0L629.0 344.1L629.3 347.3L629.6 349.1L629.9 351.1L630.2 351.9L630.5 350.9L630.8 351.4L631.1 351.3L631.4 350.9L631.7 350.4L632.0 350.1L632.3 351.7L632.6 351.7L632.9 350.2L633.2 352.5L633.5 350.0L633.8 350.1L634.1 350.8L634.4 347.4L634.7 349.0L635.0 351.9L635.3 352.9L635.6 349.5L635.9 349.1L636.2 348.5L636.5 349.9L636.8 350.7L637.1 348.2L637.4 350.9L637.7 351.4L638.0 351.3L638.3 350.2L638.6 350.8L638.9 348.1L639.2 350.8L639.5 351.8L639.8 351.6L640.1 349.6L640.4 353.4L640.7 354.5L641.0 349.4L641.3 351.8L641.6 352.2L641.9 347.4L642.2 351.4L642.5 353.1L642.8 353.8L643.1 353.0L643.4 351.3L643.7 351.0L644.0 352.8L644.3 354.6L644.6 352.3L644.9 351.9L645.2 353.5L645.5 348.9L645.8 352.1L646.1 352.0L646.4 348.4L646.7 352.6L647.0 351.0L647.3 353.6L647.6 355.6L647.9 351.5L648.2 350.2L648.5 351.9L648.8 349.4L649.1 353.1L649.4 353.4L649.7 355.0L650.0 350.4L650.3 352.5L650.6 353.8L650.9 350.1L651.2 353.8L651.5 351.0L651.8 352.8L652.1 350.8L652.4 354.0L652.7 356.8L653.0 354.8L653.3 354.1L653.6 356.2L653.9 353.7L654.2 353.8L654.5 355.3L654.8 355.1L655.1 357.2L655.4 357.3L655.7 358.7L656.0 355.6L656.3 356.7L656.6 353.5L656.9 355.6L657.2 358.0L657.5 359.9L657.8 354.0L658.1 353.9L658.4 355.6L658.7 353.3L659.0 355.1L659.3 355.8L659.6 354.1L659.9 353.5L660.2 352.6L660.5 354.6L660.8 357.0L661.1 356.1L661.4 360.4L661.7 354.1L662.0 353.6L662.3 355.7L662.6 353.2L662.9 355.1L663.2 356.6L663.5 356.0L663.8 355.1L664.1 356.9L664.4 356.6L664.7 357.1L665.0 357.0L665.3 354.7L665.6 353.1L665.9 353.9L666.2 355.3L666.5 355.1L666.8 357.1L667.1 356.6L667.4 357.8L667.7 356.6L668.0 354.7L668.3 356.9L668.6 357.1L668.9 354.7L669.2 354.7L669.5 360.6L669.8 351.3L670.1 356.4L670.4 356.2L670.7 355.9L671.0 355.4L671.3 354.9L671.6 360.0L671.9 356.6L672.2 355.7L672.5 357.5L672.8 357.3L673.1 356.2L673.4 355.7L673.7 353.6L674.0 357.3L674.3 354.7L674.6 351.2L674.9 356.5L675.2 357.8L675.5 357.5L675.8 355.8L676.1 358.4L676.4 355.1L676.7 351.9L677.0 355.2L677.3 357.5L677.6 358.0L677.9 360.9L678.2 359.7L678.5 357.2L678.8 356.5L679.1 358.2L679.4 357.1L679.7 356.6L680.0 353.4L680.3 355.0L680.6 353.7L680.9 356.1L681.2 356.8L681.5 358.2L681.8 360.7L682.1 357.9L682.4 359.9L682.7 355.9L683.0 356.9L683.3 358.7L683.6 361.3L683.9 356.4L684.2 356.4L684.5 357.1L684.8 356.9L685.1 355.2L685.4 353.4L685.7 353.5L686.0 355.8L686.3 354.2L686.6 359.5L686.9 360.4L687.2 354.8L687.5 355.5L687.8 359.2L688.1 360.7L688.4 360.6L688.7 355.8L689.0 356.2L689.3 359.4L689.6 358.3L689.9 356.9L690.2 358.2L690.5 359.6L690.8 358.5L691.1 358.4L691.4 359.9L691.7 357.3L692.0 355.8L692.3 358.4L692.6 355.7L692.9 357.9L693.2 356.4L693.5 358.9L693.8 355.9L694.1 359.3L694.4 358.8L694.7 357.6L695.0 356.1L695.3 357.0L695.6 355.8L695.9 354.9L696.2 358.9L696.5 359.4L696.8 360.8L697.1 356.4L697.4 353.8L697.7 353.5L698.0 357.7L698.3 359.4L698.6 355.1L698.9 359.0L699.2 357.6L699.5 355.7L699.8 357.1L700.1 358.9L700.4 358.0L700.7 357.8L701.0 356.5L701.3 354.9L701.6 356.4L701.9 354.5L702.2 358.1L702.5 356.6L702.8 360.2L703.1 356.0L703.4 360.2L703.7 357.3L704.0 356.4L704.3 358.3L704.6 360.1L704.9 358.9L705.2 358.0L705.5 362.1L705.8 360.7L706.1 357.0L706.4 357.5L706.7 361.4L707.0 360.2L707.3 360.7L707.6 363.2L707.9 359.1L708.2 359.5L708.5 357.7L708.8 358.4L709.1 359.6L709.4 356.5L709.7 358.3L710.0 358.9L710.3 360.8L710.6 358.4L710.9 356.3L711.2 358.7L711.5 356.7L711.8 358.5L712.1 359.8L712.4 357.6L712.7 358.2L713.0 356.7L713.3 352.8L713.6 354.1L713.9 353.3L714.2 357.1L714.5 356.3L714.8 357.8L715.1 358.5L715.4 360.9L715.7 359.1L716.0 358.3L716.3 359.8L716.6 362.4L716.9 360.2L717.2 360.2L717.5 359.2L717.8 357.9L718.1 355.8L718.4 357.9L718.7 358.3L719.0 358.5L719.3 362.8L719.6 359.9L719.9 360.2L720.2 359.0L720.5 361.5L720.8 359.6L721.1 363.0L721.4 360.2L721.7 361.2L722.0 362.0L722.3 359.9L722.6 361.3L722.9 360.3L723.2 358.4L723.5 357.9L723.8 359.6L724.1 363.0L724.4 359.9L724.7 360.8L725.0 358.5L725.3 359.8L725.6 357.3L725.9 357.4L726.2 358.9L726.5 358.0L726.8 358.7L727.1 361.3L727.4 360.1L727.7 358.6L728.0 357.1L728.3 357.9L728.6 361.4L728.9 360.3L729.2 359.8L729.5 361.2L729.8 362.0L730.1 362.6L730.4 360.2L730.7 358.4L731.0 356.3L731.3 357.4L731.6 358.5L731.9 360.9L732.2 361.0L732.5 359.4L732.8 361.5L733.1 358.3L733.4 357.5L733.7 357.0L734.0 357.0L734.3 358.6L734.6 358.1L734.9 358.1L735.2 362.0L735.5 358.1L735.8 357.6L736.1 358.9L736.4 360.7L736.7 361.4L737.0 360.2L737.3 359.7L737.6 359.7L737.9 361.6L738.2 359.1L738.5 355.6L738.8 359.1L739.1 357.8L739.4 359.5L739.7 362.8L740.0 361.5L740.3 364.4L740.6 358.9L740.9 360.5L741.2 361.3L741.5 362.5L741.8 359.9L742.1 360.7L742.4 360.9L742.7 361.0L743.0 358.2L743.3 356.6L743.6 360.4L743.9 361.3L744.2 361.1L744.5 362.1L744.8 363.3L745.1 359.5L745.4 361.9L745.7 364.1L746.0 364.0L746.3 363.1L746.6 363.1L746.9 359.0L747.2 359.4L747.5 362.4L747.8 364.3L748.1 363.1L748.4 360.9L748.7 360.8L749.0 362.6L749.3 365.5L749.6 364.2L749.9 361.3L750.2 362.4L750.5 362.5L750.8 366.2L751.1 364.1L751.4 362.4L751.7 361.6L752.0 359.1L752.3 358.6L752.6 359.5L752.9 359.2L753.2 361.0L753.5 361.5L753.8 363.2L754.1 364.9L754.4 363.0L754.7 361.6L755.0 358.0L755.3 361.0L755.6 362.6L755.9 360.4L756.2 360.4L756.5 359.8L756.8 362.9L757.1 363.2L757.4 364.4L757.7 360.3L758.0 366.2L758.3 361.6L758.6 359.7L758.9 361.3L759.2 360.4L759.5 364.6L759.8 361.9L760.1 360.4L760.4 363.0L760.7 364.4L761.0 361.0L761.3 360.5L761.6 360.6L761.9 361.0L762.2 364.6L762.5 365.1L762.8 364.9L763.1 365.2L763.4 362.9L763.7 363.8L764.0 362.3L764.3 360.5L764.6 364.4L764.9 359.3L765.2 360.9L765.5 360.3L765.8 358.1L766.1 359.7L766.4 361.1L766.7 362.4L767.0 360.4L767.3 362.6L767.6 362.6L767.9 363.5L768.2 358.7L768.5 359.8L768.8 359.9L769.1 362.1L769.4 360.4L769.7 360.3L770.0 359.0L770.3 358.5L770.6 358.8L770.9 362.5L771.2 360.0L771.5 356.5L771.8 360.4L772.1 360.4L772.4 362.3L772.7 362.9L773.0 361.5L773.3 360.8L773.6 360.4L773.9 361.2L774.2 360.1L774.5 361.5L774.8 364.2L775.1 361.3L775.4 360.4L775.7 360.1L776.0 362.3L776.3 363.2L776.6 364.9L776.9 364.2L777.2 362.9L777.5 363.0L777.8 359.7L778.1 362.1L778.4 362.2L778.7 365.9L779.0 365.8L779.3 361.6L779.6 360.7L779.9 363.1L780.2 358.4L780.5 358.9L780.8 361.5L781.1 362.9L781.4 362.6L781.7 364.3L782.0 362.2L782.3 362.1L782.6 361.6L782.9 359.7L783.2 361.2L783.5 360.6L783.8 361.6L784.1 356.8L784.4 360.3L784.7 360.3L785.0 360.2L785.3 361.3L785.6 360.8L785.9 363.2L786.2 364.7L786.5 364.5L786.8 364.6L787.1 363.5L787.4 362.5L787.7 359.7L788.0 360.4L788.3 363.7L788.6 363.9L788.9 361.7L789.2 362.0L789.5 363.9L789.8 362.3L790.1 365.1L790.4 361.6L790.7 363.3L791.0 363.7L791.3 362.8L791.6 362.8L791.9 363.2L792.2 358.1L792.5 361.4L792.8 363.9L793.1 363.3L793.4 364.5L793.7 360.6L794.0 361.3L794.3 362.3L794.6 361.5L794.9 364.0L795.2 363.5L795.5 361.5L795.8 363.3L796.1 363.9L796.4 361.8L796.7 363.0L797.0 363.0L797.3 362.9L797.6 359.9L797.9 363.6L798.2 363.7L798.5 362.4L798.8 362.7L799.1 362.8L799.4 361.6L799.7 360.6L800.0 361.6L800.3 360.6L800.6 360.4L800.9 359.1L801.2 360.3L801.5 363.1L801.8 362.6L802.1 362.1L802.4 361.2L802.7 360.7L803.0 358.5L803.3 363.7L803.6 361.0L803.9 358.6L804.2 361.3L804.5 361.9L804.8 360.7L805.1 358.4L805.4 357.7L805.7 363.0L806.0 361.6L806.3 360.0L806.6 364.2L806.9 361.0L807.2 359.1L807.5 361.1L807.8 361.4L808.1 363.6L808.4 358.4L808.7 359.9L809.0 356.6L809.3 359.3L809.6 358.0L809.9 357.8L810.2 357.0L810.5 359.5L810.8 361.6L811.1 358.8L811.4 357.2L811.7 355.9L812.0 356.9L812.3 353.9L812.6 360.9L812.9 355.6L813.2 356.7L813.5 353.2L813.8 348.2L814.1 345.0L814.4 344.8L814.7 343.0L815.0 342.0L815.3 338.7L815.6 343.0L815.9 343.4L816.2 335.6L816.5 337.3L816.8 339.2L817.1 337.0L817.4 336.5L817.7 338.8L818.0 338.7L818.3 335.6L818.6 339.2L818.9 337.5L819.2 341.5L819.5 337.9L819.8 334.3L820.1 337.9L820.4 341.5L820.7 341.8L821.0 341.5L821.3 339.6L821.6 342.8L821.9 338.9L822.2 342.8L822.5 340.7L822.8 341.4L823.1 340.6L823.4 341.3L823.7 346.4L824.0 343.3L824.3 345.1L824.6 344.1L824.9 347.5L825.2 344.3L825.5 346.1L825.8 348.6L826.1 352.3L826.4 347.2L826.7 346.2L827.0 347.6L827.3 351.3L827.6 347.9L827.9 350.5L828.2 348.8L828.5 347.6L828.8 346.2L829.1 349.2L829.4 352.0L829.7 351.1L830.0 347.1L830.3 348.8L830.6 352.4L830.9 353.7L831.2 353.1L831.5 355.3L831.8 351.0L832.1 349.7L832.4 356.2L832.7 355.4L833.0 353.5L833.3 352.5L833.6 348.2L833.9 353.4L834.2 349.7L834.5 348.7L834.8 352.2L835.1 356.4L835.4 354.4L835.7 355.3L836.0 354.1L836.3 355.4L836.6 352.0L836.9 358.1L837.2 354.4L837.5 356.2L837.8 351.8L838.1 357.7L838.4 357.3L838.7 360.2L839.0 356.2L839.3 358.1L839.6 356.5L839.9 356.3L840.2 358.9L840.5 355.6L840.8 357.7L841.1 360.8L841.4 361.5L841.7 360.6L842.0 358.9L842.3 355.8L842.6 359.5L842.9 356.7L843.2 359.4L843.5 357.5L843.8 357.5L844.1 357.6L844.4 358.8L844.7 357.3L845.0 358.0L845.3 357.0L845.6 358.7L845.9 358.8L846.2 359.2L846.5 357.0L846.8 358.5L847.1 358.5L847.4 359.6L847.7 359.0L848.0 356.9L848.3 359.4L848.6 357.7L848.9 359.0L849.2 354.9L849.5 358.5L849.8 360.1L850.1 357.7L850.4 359.7L850.7 358.7L851.0 361.7L851.3 361.4L851.6 357.7L851.9 358.4L852.2 355.7L852.5 357.6L852.8 359.9L853.1 361.3L853.4 360.0L853.7 359.4L854.0 359.9L854.3 358.7L854.6 360.1L854.9 362.1L855.2 361.0L855.5 362.0L855.8 359.2L856.1 358.8L856.4 360.3L856.7 364.1L857.0 363.5L857.3 364.6L857.6 361.9L857.9 363.2L858.2 358.1L858.5 360.6L858.8 356.5L859.1 361.4L859.4 361.7L859.7 363.2L860.0 362.3L860.3 360.2L860.6 359.1L860.9 360.5L861.2 363.5L861.5 362.9L861.8 360.5L862.1 359.6L862.4 359.1L862.7 359.9L863.0 360.4L863.3 359.8L863.6 360.6L863.9 357.9L864.2 362.9L864.5 362.2L864.8 364.4L865.1 362.8L865.4 361.4L865.7 361.4L866.0 361.7L866.3 360.1L866.6 360.2L866.9 364.5L867.2 364.2L867.5 361.4L867.8 362.4L868.1 360.1L868.4 363.6L868.7 360.3L869.0 362.8L869.3 362.0L869.6 361.7L869.9 360.0L870.2 360.5L870.5 359.7L870.8 359.3L871.1 361.7L871.4 366.4L871.7 362.6L872.0 363.9L872.3 362.4L872.6 360.5L872.9 363.8L873.2 363.6L873.5 364.5L873.8 362.9L874.1 362.4L874.4 360.4" fill="none" stroke="#00f" stroke-width="3.00" stroke-linejoin="round" stroke-linecap="butt"/>
<path d="M55.4 207.7L55.7 208.2L56.0 208.1L56.3 206.9L56.6 207.9L56.9 208.1L57.2 207.6L57.5 208.1L57.8 208.3L58.1 208.4L58.4 208.3L58.7 208.7L59.0 208.0L59.3 208.0L59.6 207.9L59.9 208.6L60.2 208.6L60.5 208.5L60.8 208.0L61.1 208.2L61.4 208.5L61.7 208.5L62.0 209.7L62.3 210.2L62.6 207.9L62.9 207.1L63.2 207.9L63.5 208.2L63.8 208.9L64.1 209.3L64.4 211.0L64.7 209.7L65.0 209.5L65.3 211.1L65.6 211.1L65.9 211.1L66.2 210.3L66.5 209.0L66.8 209.6L67.1 209.9L67.4 209.1L67.7 209.1L68.0 209.5L68.3 209.2L68.6 209.6L68.9 210.0L69.2 210.2L69.5 210.0L69.8 210.6L70.1 211.2L70.4 211.2L70.7 210.4L71.0 211.0L71.3 210.5L71.6 211.2L71.9 210.2L72.2 211.0L72.5 210.9L72.8 209.9L73.1 210.0L73.4 210.3L73.7 210.6L74.0 209.9L74.3 209.3L74.6 209.9L74.9 209.8L75.2 210.2L75.5 210.8L75.8 209.4L76.1 209.9L76.4 210.8L76.7 210.2L77.0 209.5L77.3 210.1L77.6 210.0L77.9 210.4L78.2 209.6L78.5 208.3L78.8 208.4L79.1 208.1L79.4 208.7L79.7 208.5L80.0 206.9L80.3 206.2L80.6 207.0L80.9 207.3L81.2 206.3L81.5 206.0L81.8 206.0L82.1 205.8L82.4 205.8L82.7 205.1L83.0 204.3L83.3 203.4L83.6 203.6L83.9 201.1L84.2 200.9L84.5 200.6L84.8 199.1L85.1 199.2L85.4 198.3L85.7 198.5L86.0 197.5L86.3 197.1L86.6 196.9L86.9 195.7L87.2 193.6L87.5 191.3L87.8 191.7L88.1 189.9L88.4 187.7L88.7 186.1L89.0 184.0L89.3 182.4L89.6 179.9L89.9 177.4L90.2 174.3L90.5 172.2L90.8 168.5L91.1 166.0L91.4 163.5L91.7 158.1L92.0 152.4L92.3 149.3L92.6 146.8L92.9 140.4L93.2 133.9L93.5 128.5L93.8 121.1L94.1 114.9L94.4 110.3L94.7 106.8L95.0 102.2L95.3 97.2L95.6 90.1L95.9 80.5L96.2 72.0L96.5 64.9L96.8 58.2L97.1 48.1L97.4 34.4L97.7 24.6L98.0 18.0L98.3 16.9L98.6 20.4L98.9 25.7L99.2 33.7L99.5 44.2L99.8 52.7L100.1 58.4L100.4 64.8L100.7 69.7L101.0 75.3L101.3 82.6L101.6 89.9L101.9 97.3L102.2 101.1L102.5 105.6L102.8 108.1L103.1 112.8L103.4 118.4L103.7 123.5L104.0 128.2L104.3 133.2L104.6 137.8L104.9 141.8L105.2 146.2L105.5 148.6L105.8 150.4L106.1 152.7L106.4 155.1L106.7 157.5L107.0 159.9L107.3 162.5L107.6 163.7L107.9 167.0L108.2 168.6L108.5 169.7L108.8 172.3L109.1 174.9L109.4 176.5L109.7 177.8L110.0 178.5L110.3 182.3L110.6 183.9L110.9 184.1L111.2 185.1L111.5 186.8L111.8 187.1L112.1 189.0L112.4 190.2L112.7 192.5L113.0 194.1L113.3 192.8L113.6 194.4L113.9 194.6L114.2 197.0L114.5 198.2L114.8 199.7L115.1 199.8L115.4 202.4L115.7 204.7L116.0 204.3L116.3 205.5L116.6 205.9L116.9 207.0L117.2 207.2L117.5 210.0L117.8 209.9L118.1 210.8L118.4 212.2L118.7 212.6L119.0 213.4L119.3 214.0L119.6 215.0L119.9 215.1L120.2 216.0L120.5 217.0L120.8 217.8L121.1 218.8L121.4 219.4L121.7 220.8L122.0 221.1L122.3 221.7L122.6 221.9L122.9 222.3L123.2 222.3L123.5 223.7L123.8 223.7L124.1 224.1L124.4 225.4L124.7 226.5L125.0 226.8L125.3 226.0L125.6 227.5L125.9 228.5L126.2 228.2L126.5 229.7L126.8 229.8L127.1 229.8L127.4 230.8L127.7 231.5L128.0 232.3L128.3 231.7L128.6 234.0L128.9 233.8L129.2 233.2L129.5 234.6L129.8 234.8L130.1 235.6L130.4 235.8L130.7 236.2L131.0 236.7L131.3 236.5L131.6 237.5L131.9 237.3L132.2 237.0L132.5 237.6L132.8 238.3L133.1 238.3L133.4 237.9L133.7 238.8L134.0 237.7L134.3 237.7L134.6 238.5L134.9 238.0L135.2 238.8L135.5 239.3L135.8 240.3L136.1 239.7L136.4 239.6L136.7 240.2L137.0 238.7L137.3 241.8L137.6 241.0L137.9 240.6L138.2 241.5L138.5 241.5L138.8 240.2L139.1 241.3L139.4 242.1L139.7 241.8L140.0 241.7L140.3 242.3L140.6 241.7L140.9 242.3L141.2 242.6L141.5 242.1L141.8 241.4L142.1 241.9L142.4 241.7L142.7 243.0L143.0 243.2L143.3 243.8L143.6 243.8L143.9 243.9L144.2 243.2L144.5 243.9L144.8 245.2L145.1 244.5L145.4 243.9L145.7 243.9L146.0 243.7L146.3 243.4L146.6 243.9L146.9 243.9L147.2 245.2L147.5 245.0L147.8 245.1L148.1 245.7L148.4 245.2L148.7 246.1L149.0 245.3L149.3 244.6L149.6 244.6L149.9 244.8L150.2 244.0L150.5 244.6L150.8 243.8L151.1 245.5L151.4 245.5L151.7 245.2L152.0 244.8L152.3 245.0L152.6 245.2L152.9 244.8L153.2 244.7L153.5 245.2L153.8 245.3L154.1 246.4L154.4 247.2L154.7 247.0L155.0 247.2L155.3 246.0L155.6 246.8L155.9 246.8L156.2 247.2L156.5 248.2L156.8 246.1L157.1 246.7L157.4 246.1L157.7 247.0L158.0 246.2L158.3 246.3L158.6 247.0L158.9 247.6L159.2 247.7L159.5 247.1L159.8 247.0L160.1 248.0L160.4 248.0L160.7 246.8L161.0 247.9L161.3 248.3L161.6 248.9L161.9 248.5L162.2 249.0L162.5 248.0L162.8 248.7L163.1 248.3L163.4 248.9L163.7 249.6L164.0 248.8L164.3 248.8L164.6 248.9L164.9 249.8L165.2 250.0L165.5 248.8L165.8 249.3L166.1 249.9L166.4 251.2L166.7 249.3L167.0 249.0L167.3 250.2L167.6 249.0L167.9 248.4L168.2 249.3L168.5 250.2L168.8 249.6L169.1 250.1L169.4 250.2L169.7 251.2L170.0 250.7L170.3 251.2L170.6 250.2L170.9 250.1L171.2 250.1L171.5 251.0L171.8 251.2L172.1 250.4L172.4 250.9L172.7 251.3L173.0 251.0L173.3 250.7L173.6 250.5L173.9 249.4L174.2 250.1L174.5 250.6L174.8 250.1L175.1 251.0L175.4 250.0L175.7 250.0L176.0 250.1L176.3 252.0L176.6 250.5L176.9 251.2L177.2 251.9L177.5 251.9L177.8 252.5L178.1 251.4L178.4 249.7L178.7 251.0L179.0 250.3L179.3 250.5L179.6 250.1L179.9 251.4L180.2 252.1L180.5 251.3L180.8 252.0L181.1 251.9L181.4 251.7L181.7 251.6L182.0 251.4L182.3 251.9L182.6 251.9L182.9 251.5L183.2 252.2L183.5 251.5L183.8 251.6L184.1 251.8L184.4 252.7L184.7 251.8L185.0 252.9L185.3 252.4L185.6 251.8L185.9 251.1L186.2 251.6L186.5 251.5L186.8 250.5L187.1 250.0L187.4 250.0L187.7 249.9L188.0 251.2L188.3 252.1L188.6 252.2L188.9 252.0L189.2 251.2L189.5 251.1L189.8 251.6L190.1 252.7L190.4 252.5L190.7 251.5L191.0 251.1L191.3 250.5L191.6 249.8L191.9 249.9L192.2 250.1L192.5 251.4L192.8 250.8L193.1 251.4L193.4 252.0L193.7 251.1L194.0 251.6L194.3 251.2L194.6 250.1L194.9 249.8L195.2 249.5L195.5 249.0L195.8 248.6L196.1 248.6L196.4 248.7L196.7 247.7L197.0 247.6L197.3 246.4L197.6 246.8L197.9 247.2L198.2 246.9L198.5 246.7L198.8 246.6L199.1 245.4L199.4 244.8L199.7 244.7L200.0 244.7L200.3 244.0L200.6 244.8L200.9 243.0L201.2 242.3L201.5 241.6L201.8 239.7L202.1 237.4L202.4 235.3L202.7 234.2L203.0 233.6L203.3 231.8L203.6 229.8L203.9 227.2L204.2 225.4L204.5 221.3L204.8 219.5L205.1 217.0L205.4 213.4L205.7 212.6L206.0 208.3L206.3 204.8L206.6 201.6L206.9 200.4L207.2 197.4L207.5 196.2L207.8 195.2L208.1 194.3L208.4 192.8L208.7 193.0L209.0 195.4L209.3 195.5L209.6 196.9L209.9 199.3L210.2 202.6L210.5 205.3L210.8 208.5L211.1 210.2L211.4 213.8L211.7 216.7L212.0 217.9L212.3 221.9L212.6 225.7L212.9 226.6L213.2 228.5L213.5 231.3L213.8 231.6L214.1 232.0L214.4 233.3L214.7 235.1L215.0 236.6L215.3 238.8L215.6 240.3L215.9 240.4L216.2 242.1L216.5 244.4L216.8 245.5L217.1 246.3L217.4 246.3L217.7 247.2L218.0 246.5L218.3 247.5L218.6 247.7L218.9 248.8L219.2 249.1L219.5 248.3L219.8 248.8L220.1 250.0L220.4 249.2L220.7 249.2L221.0 249.1L221.3 248.7L221.6 250.2L221.9 251.5L222.2 252.0L222.5 251.9L222.8 251.8L223.1 251.9L223.4 251.4L223.7 252.3L224.0 253.0L224.3 253.5L224.6 252.7L224.9 252.8L225.2 252.8L225.5 254.2L225.8 254.0L226.1 252.5L226.4 253.3L226.7 255.0L227.0 255.2L227.3 255.6L227.6 255.3L227.9 253.8L228.2 253.0L228.5 253.1L228.8 254.0L229.1 255.0L229.4 255.9L229.7 255.8L230.0 256.8L230.3 256.5L230.6 256.1L230.9 257.1L231.2 256.4L231.5 254.8L231.8 255.0L232.1 256.1L232.4 254.4L232.7 255.4L233.0 256.1L233.3 255.7L233.6 255.4L233.9 256.0L234.2 256.3L234.5 257.8L234.8 258.1L235.1 256.9L235.4 256.7L235.7 257.7L236.0 259.1L236.3 259.0L236.6 258.8L236.9 259.8L237.2 259.1L237.5 258.5L237.8 257.3L238.1 257.2L238.4 259.1L238.7 257.7L239.0 257.8L239.3 256.8L239.6 257.3L239.9 258.1L240.2 257.7L240.5 258.0L240.8 258.0L241.1 257.6L241.4 258.1L241.7 257.4L242.0 256.1L242.3 254.9L242.6 254.0L242.9 254.6L243.2 254.6L243.5 257.1L243.8 258.2L244.1 257.6L244.4 257.4L244.7 258.8L245.0 257.2L245.3 257.3L245.6 258.5L245.9 257.9L246.2 257.8L246.5 257.9L246.8 258.7L247.1 258.8L247.4 259.1L247.7 259.4L248.0 259.2L248.3 259.9L248.6 259.0L248.9 257.9L249.2 257.1L249.5 256.7L249.8 257.2L250.1 258.7L250.4 259.0L250.7 258.6L251.0 258.1L251.3 258.2L251.6 258.3L251.9 258.4L252.2 257.8L252.5 258.1L252.8 259.5L253.1 258.0L253.4 258.5L253.7 257.6L254.0 258.7L254.3 258.7L254.6 257.8L254.9 258.9L255.2 260.8L255.5 260.8L255.8 261.5L256.1 261.2L256.4 259.5L256.7 260.4L257.0 260.4L257.3 259.7L257.6 260.9L257.9 261.4L258.2 261.1L258.5 262.0L258.8 261.3L259.1 262.1L259.4 261.4L259.7 262.1L260.0 261.5L260.3 263.0L260.6 263.0L260.9 264.0L261.2 263.0L261.5 262.7L261.8 263.5L262.1 261.5L262.4 261.5L262.7 263.1L263.0 263.7L263.3 264.4L263.6 264.0L263.9 264.5L264.2 263.8L264.5 263.1L264.8 262.4L265.1 262.9L265.4 263.2L265.7 263.4L266.0 261.4L266.3 261.4L266.6 262.5L266.9 263.8L267.2 264.0L267.5 263.9L267.8 262.8L268.1 265.4L268.4 264.7L268.7 266.3L269.0 267.2L269.3 266.8L269.6 266.0L269.9 266.0L270.2 265.2L270.5 265.7L270.8 265.8L271.1 266.3L271.4 266.9L271.7 267.8L272.0 266.9L272.3 267.4L272.6 266.4L272.9 265.7L273.2 265.5L273.5 265.2L273.8 266.4L274.1 267.1L274.4 267.7L274.7 267.2L275.0 267.2L275.3 266.5L275.6 265.7L275.9 266.4L276.2 266.7L276.5 265.9L276.8 266.7L277.1 265.5L277.4 265.9L277.7 265.8L278.0 265.8L278.3 265.5L278.6 266.7L278.9 267.2L279.2 268.0L279.5 267.7L279.8 266.5L280.1 266.4L280.4 265.8L280.7 266.6L281.0 267.7L281.3 267.7L281.6 267.0L281.9 266.8L282.2 267.1L282.5 266.1L282.8 266.6L283.1 267.0L283.4 266.7L283.7 266.6L284.0 267.0L284.3 266.5L284.6 266.3L284.9 267.2L285.2 267.4L285.5 268.6L285.8 267.4L286.1 266.1L286.4 267.3L286.7 268.1L287.0 267.3L287.3 266.3L287.6 266.7L287.9 265.8L288.2 266.2L288.5 265.2L288.8 266.0L289.1 265.1L289.4 265.9L289.7 267.7L290.0 267.4L290.3 268.1L290.6 267.4L290.9 266.9L291.2 266.1L291.5 267.5L291.8 267.5L292.1 268.8L292.4 267.5L292.7 267.4L293.0 267.6L293.3 268.7L293.6 269.6L293.9 268.4L294.2 267.4L294.5 266.3L294.8 267.9L295.1 267.8L295.4 267.4L295.7 267.5L296.0 265.8L296.3 265.4L296.6 267.1L296.9 267.7L297.2 267.9L297.5 267.2L297.8 267.9L298.1 269.2L298.4 267.9L298.7 267.9L299.0 267.7L299.3 268.1L299.6 268.1L299.9 268.0L300.2 267.4L300.5 267.7L300.8 267.4L301.1 267.6L301.4 267.8L301.7 268.4L302.0 267.8L302.3 267.7L302.6 268.6L302.9 268.3L303.2 268.0L303.5 268.6L303.8 268.6L304.1 268.4L304.4 268.4L304.7 267.3L305.0 267.8L305.3 268.8L305.6 268.8L305.9 267.2L306.2 267.5L306.5 266.9L306.8 266.9L307.1 267.1L307.4 266.3L307.7 267.5L308.0 267.2L308.3 267.6L308.6 267.6L308.9 268.1L309.2 268.1L309.5 266.2L309.8 266.0L310.1 264.2L310.4 264.1L310.7 264.8L311.0 265.2L311.3 265.5L311.6 264.3L311.9 263.8L312.2 263.0L312.5 263.1L312.8 263.1L313.1 261.3L313.4 262.7L313.7 260.4L314.0 258.3L314.3 257.1L314.6 255.9L314.9 254.3L315.2 251.8L315.5 251.0L315.8 248.7L316.1 247.4L316.4 245.6L316.7 241.7L317.0 238.4L317.3 235.5L317.6 233.6L317.9 231.3L318.2 229.2L318.5 226.3L318.8 224.8L319.1 224.2L319.4 221.6L319.7 220.8L320.0 220.9L320.3 221.2L320.6 221.9L320.9 224.5L321.2 226.5L321.5 228.4L321.8 229.5L322.1 233.2L322.4 235.2L322.7 236.7L323.0 238.8L323.3 240.9L323.6 244.9L323.9 246.8L324.2 248.6L324.5 248.9L324.8 251.8L325.1 252.9L325.4 254.1L325.7 256.6L326.0 257.5L326.3 259.8L326.6 261.8L326.9 261.2L327.2 262.5L327.5 262.5L327.8 263.9L328.1 265.7L328.4 265.3L328.7 267.6L329.0 267.7L329.3 267.3L329.6 268.0L329.9 269.2L330.2 268.6L330.5 269.3L330.8 268.8L331.1 270.5L331.4 270.9L331.7 270.8L332.0 271.9L332.3 271.0L332.6 271.1L332.9 272.9L333.2 272.7L333.5 273.6L333.8 273.4L334.1 272.7L334.4 272.7L334.7 273.0L335.0 272.8L335.3 272.5L335.6 272.3L335.9 271.8L336.2 272.7L336.5 273.4L336.8 274.2L337.1 272.8L337.4 273.9L337.7 274.0L338.0 273.1L338.3 273.6L338.6 274.5L338.9 274.8L339.2 275.2L339.5 275.6L339.8 275.8L340.1 275.3L340.4 273.6L340.7 273.5L341.0 274.3L341.3 274.1L341.6 274.9L341.9 275.5L342.2 275.3L342.5 276.5L342.8 275.2L343.1 275.8L343.4 275.2L343.7 274.6L344.0 275.2L344.3 274.8L344.6 275.6L344.9 274.6L345.2 274.9L345.5 274.4L345.8 274.6L346.1 274.6L346.4 274.1L346.7 275.1L347.0 274.3L347.3 274.1L347.6 275.3L347.9 276.0L348.2 276.3L348.5 276.2L348.8 277.6L349.1 275.9L349.4 275.2L349.7 274.7L350.0 275.7L350.3 275.9L350.6 276.6L350.9 276.9L351.2 276.2L351.5 275.4L351.8 274.8L352.1 276.8L352.4 277.0L352.7 276.9L353.0 276.2L353.3 275.9L353.6 275.6L353.9 275.4L354.2 273.9L354.5 274.6L354.8 274.8L355.1 275.4L355.4 275.7L355.7 276.4L356.0 276.2L356.3 276.6L356.6 274.5L356.9 274.3L357.2 276.2L357.5 275.2L357.8 275.3L358.1 276.0L358.4 275.4L358.7 276.1L359.0 275.0L359.3 274.0L359.6 273.9L359.9 273.5L360.2 274.5L360.5 274.9L360.8 275.6L361.1 275.0L361.4 277.2L361.7 276.7L362.0 276.4L362.3 276.6L362.6 276.2L362.9 275.7L363.2 275.9L363.5 276.7L363.8 276.9L364.1 277.3L364.4 276.4L364.7 275.8L365.0 277.4L365.3 276.7L365.6 276.9L365.9 277.1L366.2 277.8L366.5 276.2L366.8 275.9L367.1 275.7L367.4 275.7L367.7 274.2L368.0 275.0L368.3 273.5L368.6 274.8L368.9 275.8L369.2 276.5L369.5 275.6L369.8 276.6L370.1 275.9L370.4 275.3L370.7 275.0L371.0 275.0L371.3 275.7L371.6 276.7L371.9 275.1L372.2 275.3L372.5 276.5L372.8 276.7L373.1 277.0L373.4 275.8L373.7 276.8L374.0 275.7L374.3 276.2L374.6 277.4L374.9 278.5L375.2 278.2L375.5 278.3L375.8 277.2L376.1 276.7L376.4 277.6L376.7 277.3L377.0 277.1L377.3 276.0L377.6 276.5L377.9 277.1L378.2 276.5L378.5 276.3L378.8 277.7L379.1 277.6L379.4 277.2L379.7 276.3L380.0 276.2L380.3 276.4L380.6 277.6L380.9 277.0L381.2 278.4L381.5 277.2L381.8 276.9L382.1 277.7L382.4 277.3L382.7 276.7L383.0 276.8L383.3 277.3L383.6 276.1L383.9 276.4L384.2 276.7L384.5 276.7L384.8 277.5L385.1 277.0L385.4 276.9L385.7 277.1L386.0 277.8L386.3 277.5L386.6 278.6L386.9 277.5L387.2 278.4L387.5 277.4L387.8 277.4L388.1 277.7L388.4 279.1L388.7 279.1L389.0 278.2L389.3 278.9L389.6 278.2L389.9 277.4L390.2 277.8L390.5 277.8L390.8 278.5L391.1 277.8L391.4 278.0L391.7 278.4L392.0 278.3L392.3 278.1L392.6 277.5L392.9 278.2L393.2 278.2L393.5 278.4L393.8 277.9L394.1 277.9L394.4 277.2L394.7 277.5L395.0 278.2L395.3 278.2L395.6 278.7L395.9 278.7L396.2 279.4L396.5 278.7L396.8 277.3L397.1 277.9L397.4 277.9L397.7 277.3L398.0 278.1L398.3 278.3L398.6 278.6L398.9 278.2L399.2 278.3L399.5 278.5L399.8 279.7L400.1 278.6L400.4 278.5L400.7 278.7L401.0 277.3L401.3 276.6L401.6 278.8L401.9 277.4L402.2 278.2L402.5 277.7L402.8 277.4L403.1 276.4L403.4 276.6L403.7 277.9L404.0 277.2L404.3 278.1L404.6 278.5L404.9 280.0L405.2 279.1L405.5 279.8L405.8 280.0L406.1 279.2L406.4 277.8L406.7 279.3L407.0 278.1L407.3 278.0L407.6 278.9L407.9 279.7L408.2 278.7L408.5 278.7L408.8 278.6L409.1 279.5L409.4 281.1L409.7 278.9L410.0 279.5L410.3 277.2L410.6 277.9L410.9 277.5L411.2 279.5L411.5 279.4L411.8 278.7L412.1 278.5L412.4 278.3L412.7 278.7L413.0 278.7L413.3 279.4L413.6 280.4L413.9 280.4L414.2 279.0L414.5 277.9L414.8 277.8L415.1 279.1L415.4 278.9L415.7 278.5L416.0 278.9L416.3 278.0L416.6 277.7L416.9 278.7L417.2 278.7L417.5 278.6L417.8 279.1L418.1 278.8L418.4 278.5L418.7 278.5L419.0 279.3L419.3 279.3L419.6 278.5L419.9 278.6L420.2 279.4L420.5 280.7L420.8 279.4L421.1 279.6L421.4 279.4L421.7 280.0L422.0 280.1L422.3 280.9L422.6 280.7L422.9 279.8L423.2 279.3L423.5 279.7L423.8 279.9L424.1 281.4L424.4 281.9L424.7 280.1L425.0 280.1L425.3 278.9L425.6 278.0L425.9 279.1L426.2 279.7L426.5 278.9L426.8 280.3L427.1 279.3L427.4 278.5L427.7 279.4L428.0 279.6L428.3 279.5L428.6 279.4L428.9 279.6L429.2 279.5L429.5 279.4L429.8 278.1L430.1 277.7L430.4 278.8L430.7 278.6L431.0 279.4L431.3 280.3L431.6 279.7L431.9 279.7L432.2 281.0L432.5 280.7L432.8 281.4L433.1 281.5L433.4 280.9L433.7 279.9L434.0 278.7L434.3 277.7L434.6 278.3L434.9 278.5L435.2 278.1L435.5 278.6L435.8 277.8L436.1 278.5L436.4 278.2L436.7 277.9L437.0 277.7L437.3 277.5L437.6 279.3L437.9 277.4L438.2 277.6L438.5 278.5L438.8 278.6L439.1 278.0L439.4 279.1L439.7 277.8L440.0 276.9L440.3 277.7L440.6 276.8L440.9 275.6L441.2 277.2L441.5 278.1L441.8 278.7L442.1 278.2L442.4 278.4L442.7 277.7L443.0 279.3L443.3 279.5L443.6 279.7L443.9 277.8L444.2 278.7L444.5 279.8L444.8 280.2L445.1 280.1L445.4 279.5L445.7 278.8L446.0 279.1L446.3 279.1L446.6 278.9L446.9 278.4L447.2 279.5L447.5 278.1L447.8 278.0L448.1 277.5L448.4 278.2L448.7 278.9L449.0 279.2L449.3 278.8L449.6 277.0L449.9 278.3L450.2 277.9L450.5 277.0L450.8 276.5L451.1 275.7L451.4 275.6L451.7 275.2L452.0 274.2L452.3 271.7L452.6 271.7L452.9 271.5L453.2 271.0L453.5 269.5L453.8 268.4L454.1 267.3L454.4 264.7L454.7 263.6L455.0 259.4L455.3 256.4L455.6 254.0L455.9 250.8L456.2 249.6L456.5 250.6L456.8 251.6L457.1 251.6L457.4 253.0L457.7 253.1L458.0 253.0L458.3 253.9L458.6 254.6L458.9 256.0L459.2 255.8L459.5 257.8L459.8 258.4L460.1 260.1L460.4 259.7L460.7 260.7L461.0 261.9L461.3 263.6L461.6 263.3L461.9 265.5L462.2 266.2L462.5 266.1L462.8 267.5L463.1 267.7L463.4 268.7L463.7 270.3L464.0 270.3L464.3 269.5L464.6 269.1L464.9 269.8L465.2 270.0L465.5 269.4L465.8 269.2L466.1 270.1L466.4 271.9L466.7 269.5L467.0 270.5L467.3 270.4L467.6 271.1L467.9 271.6L468.2 271.3L468.5 270.4L468.8 269.6L469.1 268.8L469.4 270.6L469.7 270.6L470.0 270.4L470.3 270.4L470.6 269.7L470.9 270.4L471.2 271.6L471.5 272.2L471.8 270.6L472.1 271.7L472.4 270.9L472.7 269.5L473.0 269.2L473.3 269.1L473.6 269.8L473.9 269.4L474.2 268.8L474.5 269.3L474.8 271.2L475.1 270.3L475.4 270.6L475.7 270.5L476.0 272.2L476.3 269.9L476.6 270.6L476.9 269.3L477.2 268.9L477.5 269.0L477.8 271.3L478.1 269.8L478.4 268.0L478.7 269.1L479.0 268.1L479.3 267.9L479.6 267.8L479.9 267.7L480.2 267.4L480.5 267.4L480.8 267.4L481.1 267.6L481.4 266.7L481.7 265.8L482.0 264.9L482.3 265.4L482.6 265.2L482.9 265.3L483.2 265.3L483.5 266.0L483.8 265.3L484.1 265.2L484.4 263.6L484.7 262.7L485.0 262.6L485.3 261.9L485.6 262.8L485.9 261.9L486.2 262.3L486.5 260.8L486.8 260.9L487.1 261.6L487.4 262.1L487.7 261.5L488.0 262.6L488.3 264.0L488.6 264.8L488.9 264.5L489.2 264.5L489.5 264.3L489.8 265.7L490.1 267.3L490.4 267.0L490.7 266.2L491.0 267.2L491.3 268.4L491.6 266.8L491.9 268.1L492.2 270.5L492.5 271.1L492.8 271.5L493.1 271.7L493.4 272.5L493.7 271.7L494.0 271.4L494.3 272.2L494.6 272.0L494.9 272.7L495.2 271.7L495.5 273.1L495.8 274.1L496.1 274.2L496.4 274.5L496.7 275.8L497.0 274.7L497.3 274.2L497.6 273.9L497.9 274.2L498.2 274.1L498.5 274.8L498.8 274.8L499.1 274.3L499.4 273.9L499.7 275.8L500.0 276.0L500.3 276.1L500.6 276.3L500.9 276.5L501.2 277.2L501.5 277.5L501.8 276.9L502.1 276.4L502.4 276.0L502.7 275.6L503.0 277.3L503.3 276.8L503.6 275.6L503.9 275.8L504.2 276.0L504.5 277.0L504.8 276.7L505.1 277.6L505.4 278.1L505.7 279.0L506.0 280.2L506.3 281.5L506.6 281.2L506.9 279.2L507.2 278.6L507.5 278.8L507.8 280.2L508.1 280.1L508.4 280.4L508.7 279.6L509.0 279.7L509.3 279.9L509.6 279.2L509.9 279.7L510.2 280.2L510.5 279.7L510.8 280.2L511.1 281.1L511.4 280.4L511.7 280.0L512.0 279.6L512.3 279.1L512.6 279.4L512.9 279.2L513.2 279.2L513.5 278.8L513.8 278.1L514.1 278.1L514.4 279.1L514.7 278.6L515.0 278.7L515.3 280.4L515.6 281.1L515.9 280.2L516.2 280.6L516.5 280.0L516.8 281.2L517.1 280.4L517.4 280.4L517.7 281.4L518.0 280.4L518.3 281.3L518.6 280.4L518.9 280.6L519.2 280.3L519.5 280.3L519.8 280.5L520.1 280.4L520.4 279.7L520.7 280.7L521.0 281.1L521.3 281.8L521.6 282.3L521.9 280.6L522.2 281.5L522.5 282.0L522.8 281.0L523.1 281.5L523.4 282.1L523.7 281.1L524.0 279.8L524.3 279.7L524.6 282.0L524.9 281.4L525.2 280.1L525.5 279.9L525.8 279.3L526.1 279.3L526.4 279.6L526.7 277.9L527.0 278.9L527.3 280.2L527.6 279.8L527.9 279.4L528.2 280.1L528.5 278.8L528.8 278.0L529.1 277.4L529.4 277.8L529.7 278.4L530.0 278.3L530.3 278.6L530.6 279.0L530.9 278.8L531.2 277.7L531.5 277.4L531.8 278.1L532.1 276.8L532.4 276.5L532.7 276.1L533.0 275.9L533.3 275.0L533.6 274.2L533.9 276.4L534.2 276.4L534.5 275.1L534.8 274.6L535.1 274.8L535.4 274.0L535.7 274.1L536.0 273.1L536.3 272.6L536.6 272.4L536.9 271.9L537.2 270.1L537.5 270.7L537.8 271.1L538.1 271.5L538.4 270.6L538.7 271.0L539.0 271.1L539.3 269.8L539.6 268.7L539.9 270.0L540.2 269.8L540.5 271.1L540.8 272.8L541.1 271.9L541.4 271.4L541.7 271.6L542.0 272.4L542.3 271.7L542.6 273.0L542.9 273.8L543.2 274.1L543.5 273.6L543.8 274.5L544.1 275.1L544.4 274.1L544.7 276.0L545.0 275.5L545.3 275.8L545.6 275.5L545.9 276.1L546.2 277.1L546.5 276.5L546.8 275.6L547.1 276.0L547.4 275.8L547.7 276.1L548.0 276.9L548.3 277.5L548.6 278.9L548.9 278.2L549.2 278.9L549.5 278.7L549.8 280.1L550.1 281.8L550.4 281.3L550.7 282.1L551.0 281.0L551.3 279.7L551.6 279.2L551.9 278.7L552.2 279.0L552.5 279.7L552.8 281.2L553.1 281.8L553.4 282.0L553.7 281.6L554.0 281.2L554.3 281.5L554.6 281.8L554.9 282.1L555.2 282.4L555.5 282.3L555.8 281.0L556.1 280.8L556.4 280.9L556.7 282.8L557.0 282.5L557.3 283.1L557.6 284.1L557.9 283.9L558.2 283.2L558.5 283.0L558.8 282.3L559.1 282.9L559.4 283.9L559.7 284.1L560.0 284.3L560.3 284.5L560.6 285.5L560.9 284.3L561.2 284.1L561.5 284.4L561.8 285.0L562.1 282.8L562.4 282.8L562.7 283.1L563.0 282.7L563.3 283.8L563.6 284.0L563.9 283.8L564.2 282.7L564.5 282.3L564.8 282.4L565.1 283.5L565.4 282.9L565.7 282.0L566.0 281.9L566.3 282.5L566.6 284.5L566.9 286.3L567.2 285.3L567.5 285.7L567.8 286.3L568.1 286.6L568.4 285.8L568.7 284.5L569.0 284.3L569.3 283.2L569.6 284.1L569.9 285.0L570.2 283.7L570.5 284.2L570.8 284.8L571.1 285.9L571.4 286.6L571.7 286.7L572.0 285.7L572.3 285.3L572.6 286.2L572.9 285.5L573.2 285.4L573.5 286.6L573.8 286.3L574.1 285.0L574.4 285.0L574.7 285.7L575.0 285.6L575.3 286.5L575.6 287.1L575.9 286.1L576.2 285.6L576.5 285.6L576.8 284.8L577.1 285.5L577.4 285.5L577.7 286.2L578.0 285.6L578.3 285.0L578.6 286.7L578.9 285.7L579.2 285.3L579.5 285.0L579.8 285.1L580.1 284.7L580.4 285.1L580.7 284.8L581.0 284.9L581.3 285.5L581.6 286.1L581.9 286.2L582.2 285.5L582.5 285.8L582.8 285.7L583.1 285.5L583.4 284.3L583.7 285.3L584.0 285.3L584.3 286.6L584.6 286.6L584.9 285.3L585.2 284.4L585.5 285.6L585.8 284.9L586.1 285.5L586.4 285.2L586.7 286.7L587.0 286.2L587.3 286.9L587.6 287.2L587.9 286.0L588.2 285.4L588.5 286.4L588.8 285.8L589.1 284.9L589.4 285.8L589.7 287.3L590.0 286.4L590.3 286.8L590.6 286.0L590.9 286.5L591.2 285.7L591.5 286.3L591.8 286.1L592.1 285.5L592.4 285.4L592.7 284.7L593.0 283.9L593.3 283.4L593.6 283.9L593.9 283.4L594.2 284.2L594.5 284.7L594.8 284.9L595.1 284.3L595.4 284.4L595.7 284.3L596.0 285.2L596.3 284.2L596.6 283.9L596.9 283.7L597.2 283.7L597.5 283.2L597.8 283.0L598.1 284.0L598.4 283.3L598.7 284.0L599.0 285.2L599.3 285.4L599.6 283.2L599.9 283.7L600.2 283.7L600.5 283.7L600.8 282.1L601.1 282.8L601.4 281.9L601.7 282.9L602.0 283.4L602.3 284.6L602.6 283.2L602.9 281.5L603.2 282.2L603.5 282.4L603.8 281.6L604.1 282.3L604.4 282.1L604.7 280.5L605.0 280.2L605.3 279.8L605.6 279.7L605.9 279.8L606.2 279.2L606.5 279.0L606.8 279.4L607.1 279.1L607.4 278.6L607.7 278.3L608.0 278.1L608.3 276.6L608.6 277.1L608.9 276.4L609.2 276.7L609.5 275.7L609.8 276.7L610.1 276.7L610.4 275.5L610.7 275.8L611.0 275.2L611.3 276.6L611.6 276.4L611.9 275.3L612.2 275.3L612.5 275.1L612.8 275.7L613.1 275.5L613.4 275.4L613.7 274.1L614.0 274.7L614.3 276.0L614.6 275.7L614.9 275.0L615.2 274.8L615.5 273.8L615.8 274.1L616.1 273.4L616.4 273.8L616.7 273.8L617.0 273.5L617.3 274.5L617.6 273.6L617.9 274.2L618.2 273.8L618.5 275.8L618.8 277.3L619.1 277.5L619.4 278.4L619.7 278.2L620.0 278.1L620.3 277.5L620.6 276.9L620.9 277.3L621.2 277.3L621.5 277.4L621.8 278.5L622.1 278.6L622.4 277.7L622.7 278.3L623.0 278.3L623.3 278.8L623.6 278.6L623.9 280.2L624.2 281.8L624.5 280.7L624.8 281.4L625.1 281.9L625.4 281.0L625.7 281.5L626.0 282.7L626.3 283.2L626.6 284.1L626.9 282.7L627.2 282.2L627.5 282.8L627.8 283.2L628.1 283.3L628.4 283.1L628.7 283.0L629.0 282.9L629.3 283.6L629.6 281.8L629.9 283.9L630.2 283.7L630.5 283.0L630.8 284.0L631.1 283.2L631.4 284.1L631.7 284.1L632.0 284.9L632.3 285.5L632.6 286.3L632.9 285.5L633.2 285.2L633.5 285.2L633.8 284.3L634.1 285.2L634.4 285.4L634.7 284.5L635.0 285.8L635.3 286.8L635.6 285.4L635.9 286.0L636.2 286.8L636.5 287.1L636.8 285.9L637.1 285.0L637.4 285.3L637.7 285.3L638.0 285.6L638.3 285.8L638.6 286.4L638.9 286.0L639.2 286.0L639.5 288.3L639.8 287.5L640.1 287.7L640.4 287.5L640.7 287.3L641.0 286.4L641.3 286.9L641.6 286.9L641.9 287.5L642.2 288.7L642.5 288.2L642.8 288.3L643.1 287.1L643.4 287.2L643.7 288.3L644.0 287.9L644.3 287.2L644.6 287.4L644.9 287.3L645.2 287.2L645.5 287.1L645.8 288.7L646.1 287.6L646.4 287.4L646.7 287.1L647.0 288.2L647.3 287.9L647.6 288.8L647.9 288.5L648.2 288.3L648.5 287.1L648.8 288.3L649.1 288.6L649.4 288.6L649.7 288.3L650.0 287.9L650.3 287.1L650.6 288.2L650.9 288.4L651.2 288.0L651.5 287.6L651.8 288.0L652.1 288.0L652.4 289.3L652.7 289.4L653.0 288.6L653.3 287.7L653.6 287.8L653.9 287.4L654.2 287.8L654.5 288.4L654.8 288.8L655.1 289.0L655.4 288.6L655.7 289.0L656.0 288.2L656.3 288.3L656.6 289.0L656.9 289.0L657.2 287.9L657.5 287.4L657.8 286.7L658.1 288.8L658.4 287.6L658.7 287.9L659.0 289.6L659.3 290.0L659.6 290.4L659.9 289.4L660.2 289.7L660.5 291.5L660.8 290.4L661.1 290.1L661.4 289.3L661.7 289.1L662.0 289.3L662.3 290.1L662.6 289.0L662.9 287.9L663.2 288.3L663.5 288.7L663.8 289.8L664.1 290.0L664.4 289.1L664.7 289.5L665.0 290.1L665.3 289.9L665.6 289.3L665.9 289.7L666.2 289.2L666.5 287.8L666.8 289.2L667.1 288.2L667.4 288.3L667.7 288.4L668.0 288.4L668.3 288.5L668.6 287.7L668.9 288.7L669.2 288.9L669.5 289.0L669.8 289.8L670.1 290.4L670.4 290.8L670.7 291.5L671.0 290.9L671.3 289.1L671.6 289.3L671.9 289.3L672.2 289.3L672.5 288.9L672.8 288.4L673.1 289.3L673.4 290.0L673.7 288.9L674.0 289.4L674.3 289.3L674.6 289.0L674.9 289.6L675.2 289.5L675.5 289.0L675.8 289.2L676.1 287.8L676.4 288.0L676.7 288.2L677.0 287.7L677.3 288.5L677.6 289.0L677.9 288.8L678.2 288.9L678.5 289.6L678.8 290.3L679.1 289.4L679.4 289.6L679.7 290.3L680.0 289.9L680.3 289.2L680.6 288.7L680.9 288.8L681.2 288.3L681.5 290.2L681.8 289.5L682.1 289.8L682.4 289.8L682.7 290.1L683.0 289.6L683.3 288.6L683.6 290.2L683.9 289.8L684.2 289.8L684.5 289.8L684.8 290.6L685.1 290.7L685.4 291.1L685.7 291.1L686.0 290.6L686.3 290.4L686.6 289.5L686.9 288.1L687.2 288.5L687.5 288.2L687.8 290.6L688.1 291.3L688.4 291.5L688.7 290.3L689.0 291.5L689.3 289.5L689.6 288.7L689.9 288.5L690.2 288.3L690.5 288.9L690.8 289.3L691.1 290.8L691.4 291.1L691.7 291.4L692.0 291.0L692.3 290.4L692.6 289.6L692.9 288.5L693.2 288.4L693.5 288.6L693.8 289.6L694.1 288.4L694.4 288.0L694.7 288.8L695.0 288.4L695.3 289.2L695.6 289.1L695.9 288.8L696.2 288.2L696.5 288.8L696.8 288.6L697.1 288.6L697.4 288.6L697.7 289.2L698.0 289.5L698.3 288.4L698.6 288.8L698.9 289.5L699.2 290.4L699.5 290.7L699.8 290.5L700.1 289.4L700.4 289.0L700.7 290.0L701.0 289.4L701.3 290.3L701.6 291.0L701.9 289.8L702.2 290.1L702.5 289.9L702.8 291.4L703.1 291.4L703.4 290.4L703.7 290.5L704.0 289.6L704.3 289.6L704.6 289.8L704.9 290.0L705.2 290.2L705.5 289.4L705.8 288.3L706.1 288.7L706.4 288.5L706.7 288.6L707.0 290.6L707.3 291.2L707.6 290.6L707.9 289.3L708.2 288.6L708.5 289.4L708.8 290.4L709.1 290.0L709.4 290.1L709.7 290.2L710.0 290.9L710.3 289.2L710.6 289.6L710.9 290.1L711.2 290.7L711.5 290.7L711.8 289.6L712.1 289.4L712.4 288.5L712.7 289.3L713.0 289.7L713.3 290.2L713.6 289.5L713.9 288.9L714.2 290.4L714.5 290.4L714.8 291.5L715.1 291.3L715.4 289.7L715.7 290.5L716.0 291.2L716.3 290.4L716.6 288.9L716.9 289.9L717.2 289.9L717.5 290.2L717.8 288.2L718.1 289.3L718.4 287.7L718.7 288.1L719.0 289.5L719.3 288.5L719.6 287.8L719.9 288.5L720.2 290.3L720.5 291.4L720.8 290.5L721.1 291.1L721.4 291.2L721.7 291.0L722.0 291.0L722.3 290.2L722.6 290.8L722.9 291.4L723.2 292.9L723.5 292.5L723.8 289.9L724.1 289.2L724.4 289.9L724.7 290.1L725.0 288.9L725.3 289.4L725.6 289.5L725.9 289.8L726.2 290.0L726.5 290.8L726.8 291.7L727.1 291.7L727.4 290.4L727.7 289.8L728.0 289.6L728.3 289.9L728.6 289.9L728.9 289.9L729.2 289.5L729.5 290.6L729.8 291.2L730.1 291.7L730.4 291.2L730.7 291.3L731.0 290.4L731.3 289.8L731.6 289.8L731.9 290.6L732.2 290.5L732.5 289.8L732.8 290.3L733.1 290.8L733.4 290.9L733.7 290.4L734.0 290.6L734.3 290.4L734.6 290.4L734.9 290.5L735.2 291.2L735.5 292.4L735.8 293.0L736.1 292.6L736.4 291.7L736.7 291.2L737.0 290.9L737.3 291.8L737.6 289.5L737.9 290.3L738.2 289.2L738.5 290.0L738.8 291.4L739.1 290.7L739.4 289.2L739.7 291.0L740.0 292.1L740.3 292.1L740.6 292.7L740.9 291.6L741.2 292.3L741.5 293.1L741.8 292.9L742.1 292.5L742.4 293.0L742.7 293.2L743.0 291.9L743.3 292.7L743.6 292.7L743.9 292.4L744.2 292.9L744.5 293.0L744.8 293.0L745.1 292.0L745.4 292.5L745.7 291.3L746.0 291.3L746.3 290.2L746.6 289.6L746.9 290.7L747.2 291.1L747.5 291.4L747.8 291.9L748.1 292.1L748.4 291.3L748.7 291.6L749.0 291.6L749.3 291.3L749.6 291.4L749.9 291.3L750.2 291.1L750.5 291.2L750.8 291.6L751.1 293.2L751.4 292.1L751.7 292.4L752.0 291.2L752.3 292.6L752.6 292.1L752.9 292.2L753.2 293.0L753.5 293.3L753.8 291.8L754.1 292.3L754.4 292.0L754.7 292.5L755.0 292.5L755.3 292.9L755.6 292.8L755.9 292.4L756.2 293.2L756.5 291.7L756.8 291.6L757.1 291.1L757.4 291.5L757.7 291.5L758.0 291.7L758.3 291.5L758.6 291.5L758.9 290.6L759.2 291.3L759.5 291.9L759.8 291.6L760.1 291.4L760.4 291.3L760.7 292.9L761.0 292.8L761.3 292.9L761.6 292.5L761.9 292.1L762.2 291.6L762.5 293.0L762.8 291.5L763.1 292.1L763.4 292.2L763.7 292.1L764.0 291.1L764.3 290.7L764.6 292.1L764.9 291.7L765.2 292.6L765.5 293.0L765.8 293.2L766.1 293.4L766.4 292.2L766.7 291.9L767.0 292.6L767.3 291.7L767.6 293.2L767.9 292.5L768.2 292.4L768.5 291.7L768.8 292.3L769.1 291.8L769.4 291.9L769.7 291.3L770.0 292.7L770.3 291.4L770.6 292.2L770.9 292.5L771.2 292.8L771.5 292.0L771.8 292.9L772.1 293.5L772.4 293.2L772.7 293.2L773.0 292.8L773.3 293.2L773.6 292.3L773.9 292.8L774.2 293.0L774.5 291.8L774.8 290.2L775.1 291.1L775.4 291.6L775.7 292.8L776.0 292.8L776.3 292.3L776.6 291.5L776.9 291.9L777.2 291.7L777.5 291.3L777.8 291.7L778.1 292.8L778.4 292.8L778.7 292.0L779.0 292.5L779.3 291.7L779.6 291.0L779.9 292.0L780.2 291.8L780.5 293.0L780.8 293.1L781.1 292.3L781.4 292.6L781.7 293.5L782.0 293.1L782.3 292.1L782.6 291.9L782.9 291.6L783.2 291.2L783.5 290.8L783.8 291.9L784.1 293.0L784.4 292.6L784.7 293.2L785.0 293.6L785.3 294.5L785.6 293.6L785.9 293.0L786.2 293.2L786.5 293.0L786.8 293.1L787.1 293.9L787.4 293.1L787.7 293.1L788.0 292.2L788.3 292.3L788.6 292.0L788.9 291.7L789.2 291.9L789.5 291.9L789.8 292.5L790.1 293.1L790.4 291.9L790.7 292.9L791.0 291.2L791.3 292.0L791.6 292.8L791.9 292.3L792.2 292.3L792.5 291.9L792.8 292.8L793.1 290.5L793.4 290.7L793.7 290.1L794.0 291.3L794.3 292.8L794.6 293.6L794.9 293.7L795.2 293.5L795.5 292.6L795.8 293.5L796.1 293.6L796.4 292.6L796.7 291.7L797.0 291.6L797.3 292.8L797.6 293.6L797.9 294.4L798.2 293.1L798.5 292.7L798.8 293.6L799.1 293.4L799.4 293.6L799.7 292.3L800.0 292.1L800.3 292.3L800.6 292.2L800.9 292.0L801.2 291.1L801.5 292.8L801.8 292.8L802.1 291.6L802.4 292.8L802.7 292.7L803.0 293.1L803.3 292.7L803.6 292.0L803.9 291.7L804.2 292.2L804.5 292.8L804.8 293.0L805.1 293.2L805.4 293.7L805.7 293.3L806.0 293.6L806.3 293.9L806.6 293.4L806.9 292.8L807.2 292.2L807.5 291.3L807.8 290.5L808.1 292.0L808.4 291.9L808.7 291.5L809.0 292.7L809.3 293.0L809.6 292.5L809.9 292.8L810.2 292.1L810.5 292.0L810.8 292.9L811.1 292.8L811.4 291.7L811.7 291.6L812.0 291.7L812.3 290.6L812.6 289.4L812.9 290.0L813.2 288.2L813.5 285.9L813.8 284.7L814.1 284.7L814.4 282.6L814.7 280.6L815.0 276.2L815.3 273.9L815.6 273.5L815.9 272.2L816.2 273.2L816.5 273.8L816.8 274.9L817.1 277.2L817.4 277.8L817.7 278.8L818.0 280.5L818.3 282.1L818.6 282.1L818.9 284.6L819.2 285.6L819.5 286.1L819.8 287.1L820.1 287.1L820.4 288.2L820.7 288.0L821.0 288.3L821.3 287.2L821.6 286.7L821.9 286.7L822.2 285.5L822.5 284.6L822.8 284.2L823.1 284.4L823.4 283.9L823.7 283.2L824.0 282.1L824.3 281.5L824.6 281.3L824.9 280.2L825.2 279.8L825.5 279.8L825.8 278.1L826.1 278.6L826.4 279.4L826.7 280.4L827.0 280.4L827.3 281.6L827.6 281.4L827.9 281.8L828.2 283.6L828.5 282.8L828.8 283.4L829.1 283.9L829.4 284.5L829.7 284.7L830.0 285.8L830.3 285.5L830.6 285.2L830.9 286.5L831.2 286.2L831.5 287.3L831.8 287.8L832.1 287.6L832.4 287.9L832.7 288.3L833.0 289.1L833.3 288.8L833.6 289.0L833.9 288.3L834.2 288.8L834.5 287.9L834.8 288.8L835.1 289.0L835.4 291.1L835.7 291.7L836.0 291.1L836.3 291.6L836.6 291.4L836.9 290.3L837.2 288.7L837.5 290.3L837.8 290.8L838.1 289.4L838.4 290.5L838.7 291.4L839.0 290.7L839.3 291.4L839.6 290.1L839.9 290.4L840.2 290.7L840.5 291.5L840.8 291.7L841.1 291.7L841.4 292.0L841.7 291.3L842.0 292.4L842.3 291.8L842.6 292.2L842.9 291.9L843.2 291.6L843.5 292.0L843.8 292.2L844.1 292.9L844.4 293.1L844.7 292.0L845.0 292.1L845.3 291.9L845.6 291.0L845.9 290.2L846.2 290.7L846.5 290.3L846.8 289.4L847.1 289.8L847.4 290.2L847.7 290.2L848.0 289.3L848.3 289.1L848.6 290.4L848.9 289.6L849.2 289.4L849.5 291.1L849.8 290.8L850.1 289.9L850.4 288.4L850.7 289.1L851.0 288.4L851.3 289.0L851.6 288.8L851.9 288.1L852.2 290.2L852.5 290.2L852.8 291.1L853.1 291.5L853.4 290.8L853.7 291.1L854.0 291.0L854.3 291.9L854.6 292.2L854.9 291.8L855.2 293.1L855.5 293.2L855.8 293.2L856.1 292.3L856.4 292.7L856.7 291.6L857.0 292.3L857.3 291.8L857.6 292.2L857.9 292.2L858.2 292.6L858.5 292.9L858.8 292.8L859.1 292.8L859.4 291.7L859.7 290.8L860.0 292.6L860.3 293.1L860.6 292.0L860.9 293.8L861.2 293.0L861.5 293.4L861.8 293.6L862.1 293.5L862.4 293.8L862.7 292.5L863.0 292.8L863.3 292.8L863.6 293.0L863.9 292.9L864.2 292.6L864.5 292.4L864.8 293.4L865.1 292.8L865.4 293.3L865.7 293.6L866.0 293.4L866.3 293.7L866.6 294.0L866.9 293.4L867.2 293.7L867.5 295.0L867.8 293.6L868.1 293.4L868.4 292.9L868.7 294.6L869.0 293.2L869.3 293.3L869.6 294.1L869.9 293.3L870.2 293.3L870.5 292.9L870.8 292.3L871.1 292.8L871.4 293.5L871.7 293.3L872.0 293.5L872.3 294.1L872.6 294.8L872.9 293.5L873.2 294.0L873.5 293.4L873.8 292.2L874.1 292.2L874.4 293.3" fill="none" stroke="#000" stroke-width="3.00" stroke-linejoin="round" stroke-linecap="butt"/>
</g>
<g id="mid">
<path d="M55.4 686.8L55.7 686.9L56.0 688.2L56.3 688.2L56.6 686.7L56.9 686.8L57.2 686.5L57.5 686.7L57.8 685.7L58.1 686.2L58.4 686.5L58.7 687.5L59.0 687.2L59.3 687.2L59.6 685.8L59.9 687.4L60.2 685.6L60.5 686.5L60.8 686.1L61.1 685.4L61.4 685.1L61.7 685.0L62.0 685.5L62.3 685.5L62.6 686.5L62.9 685.0L63.2 685.2L63.5 684.8L63.8 685.6L64.1 684.2L64.4 684.6L64.7 685.2L65.0 684.5L65.3 685.7L65.6 686.0L65.9 686.7L66.2 687.1L66.5 686.2L66.8 685.9L67.1 686.1L67.4 686.9L67.7 687.5L68.0 686.9L68.3 686.7L68.6 686.5L68.9 686.6L69.2 686.9L69.5 687.3L69.8 688.9L70.1 688.3L70.4 688.2L70.7 688.6L71.0 688.1L71.3 688.2L71.6 688.6L71.9 689.4L72.2 688.6L72.5 689.9L72.8 689.7L73.1 690.0L73.4 690.6L73.7 691.0L74.0 691.6L74.3 691.5L74.6 691.3L74.9 691.6L75.2 690.9L75.5 692.1L75.8 691.6L76.1 691.1L76.4 693.0L76.7 692.8L77.0 692.1L77.3 693.8L77.6 693.4L77.9 694.2L78.2 693.6L78.5 693.7L78.8 692.9L79.1 692.3L79.4 692.7L79.7 693.6L80.0 694.8L80.3 696.6L80.6 695.6L80.9 696.4L81.2 695.9L81.5 696.0L81.8 695.2L82.1 694.9L82.4 695.2L82.7 695.2L83.0 696.0L83.3 696.1L83.6 697.6L83.9 697.8L84.2 698.0L84.5 698.8L84.8 699.0L85.1 698.8L85.4 698.7L85.7 698.7L86.0 699.6L86.3 700.0L86.6 700.0L86.9 700.4L87.2 699.8L87.5 700.2L87.8 699.3L88.1 700.6L88.4 700.6L88.7 700.8L89.0 701.2L89.3 701.1L89.6 701.0L89.9 701.9L90.2 701.8L90.5 701.2L90.8 701.7L91.1 700.8L91.4 702.4L91.7 702.3L92.0 702.4L92.3 703.9L92.6 704.8L92.9 704.1L93.2 704.1L93.5 704.4L93.8 705.1L94.1 704.3L94.4 704.1L94.7 704.7L95.0 704.5L95.3 704.7L95.6 704.8L95.9 703.8L96.2 703.4L96.5 702.1L96.8 702.8L97.1 704.3L97.4 703.7L97.7 704.9L98.0 705.4L98.3 705.1L98.6 705.0L98.9 705.0L99.2 704.4L99.5 704.4L99.8 704.6L100.1 705.2L100.4 705.7L100.7 705.0L101.0 705.6L101.3 704.9L101.6 704.9L101.9 705.3L102.2 705.3L102.5 705.2L102.8 705.5L103.1 705.1L103.4 704.8L103.7 704.9L104.0 705.8L104.3 705.6L104.6 706.9L104.9 706.5L105.2 704.3L105.5 704.6L105.8 706.1L106.1 706.0L106.4 705.6L106.7 705.2L107.0 706.3L107.3 706.8L107.6 706.9L107.9 706.8L108.2 707.4L108.5 707.3L108.8 706.0L109.1 706.5L109.4 706.4L109.7 706.2L110.0 706.6L110.3 706.4L110.6 704.3L110.9 706.0L111.2 706.6L111.5 706.3L111.8 705.9L112.1 706.1L112.4 705.2L112.7 705.7L113.0 705.6L113.3 705.5L113.6 705.0L113.9 704.9L114.2 705.9L114.5 706.7L114.8 706.6L115.1 706.1L115.4 705.3L115.7 705.8L116.0 706.7L116.3 705.0L116.6 705.8L116.9 704.1L117.2 704.2L117.5 704.7L117.8 703.8L118.1 703.2L118.4 703.8L118.7 704.6L119.0 704.1L119.3 705.0L119.6 704.0L119.9 705.0L120.2 704.5L120.5 704.2L120.8 704.2L121.1 703.9L121.4 704.6L121.7 705.1L122.0 704.3L122.3 703.2L122.6 701.7L122.9 701.0L123.2 701.0L123.5 700.7L123.8 700.5L124.1 700.3L124.4 700.3L124.7 699.0L125.0 698.2L125.3 698.9L125.6 699.0L125.9 697.8L126.2 698.1L126.5 696.6L126.8 695.7L127.1 693.9L127.4 694.1L127.7 693.4L128.0 693.2L128.3 692.3L128.6 690.8L128.9 689.2L129.2 688.2L129.5 685.9L129.8 683.5L130.1 681.2L130.4 679.0L130.7 676.5L131.0 674.0L131.3 669.6L131.6 665.9L131.9 660.6L132.2 656.4L132.5 652.1L132.8 649.4L133.1 645.6L133.4 640.9L133.7 636.5L134.0 630.7L134.3 622.8L134.6 616.6L134.9 611.6L135.2 606.2L135.5 590.6L135.8 568.9L136.1 543.1L136.4 515.8L136.7 488.4L137.0 461.5L137.3 438.2L137.6 419.1L137.9 409.4L138.2 410.5L138.5 420.7L138.8 442.0L139.1 470.1L139.4 505.3L139.7 543.9L140.0 584.4L140.3 614.9L140.6 627.7L140.9 628.8L141.2 622.9L141.5 619.9L141.8 624.7L142.1 631.8L142.4 638.8L142.7 644.9L143.0 651.4L143.3 656.3L143.6 660.8L143.9 663.8L144.2 666.9L144.5 670.3L144.8 672.2L145.1 677.0L145.4 679.1L145.7 680.9L146.0 683.1L146.3 686.0L146.6 688.5L146.9 689.7L147.2 691.5L147.5 692.8L147.8 693.5L148.1 695.1L148.4 696.5L148.7 696.8L149.0 699.0L149.3 699.0L149.6 700.4L149.9 700.7L150.2 701.3L150.5 702.0L150.8 703.6L151.1 703.5L151.4 704.4L151.7 706.4L152.0 706.3L152.3 706.8L152.6 707.8L152.9 707.7L153.2 708.4L153.5 708.3L153.8 709.2L154.1 709.5L154.4 709.1L154.7 710.5L155.0 710.5L155.3 710.4L155.6 710.1L155.9 710.3L156.2 710.8L156.5 711.4L156.8 712.4L157.1 711.6L157.4 711.9L157.7 713.1L158.0 713.3L158.3 713.6L158.6 714.7L158.9 714.5L159.2 714.6L159.5 714.4L159.8 715.5L160.1 715.8L160.4 714.8L160.7 715.1L161.0 714.3L161.3 715.2L161.6 715.6L161.9 715.3L162.2 715.1L162.5 714.1L162.8 715.2L163.1 715.3L163.4 715.3L163.7 716.0L164.0 715.6L164.3 715.5L164.6 715.4L164.9 714.9L165.2 717.2L165.5 716.9L165.8 716.7L166.1 717.5L166.4 715.4L166.7 716.2L167.0 716.8L167.3 716.5L167.6 717.4L167.9 716.3L168.2 717.1L168.5 718.1L168.8 716.8L169.1 716.5L169.4 717.3L169.7 717.8L170.0 717.8L170.3 718.5L170.6 718.8L170.9 718.1L171.2 718.4L171.5 717.9L171.8 717.2L172.1 716.5L172.4 718.4L172.7 718.8L173.0 720.4L173.3 719.2L173.6 719.2L173.9 719.7L174.2 719.7L174.5 720.2L174.8 720.3L175.1 719.9L175.4 718.5L175.7 718.7L176.0 720.5L176.3 721.0L176.6 721.8L176.9 721.0L177.2 720.8L177.5 720.3L177.8 720.8L178.1 721.0L178.4 721.4L178.7 722.5L179.0 721.5L179.3 721.9L179.6 720.9L179.9 721.9L180.2 721.5L180.5 721.5L180.8 721.7L181.1 722.9L181.4 722.5L181.7 722.0L182.0 721.3L182.3 721.8L182.6 721.4L182.9 721.5L183.2 721.8L183.5 722.5L183.8 722.1L184.1 722.7L184.4 723.9L184.7 722.5L185.0 723.5L185.3 724.6L185.6 723.6L185.9 723.8L186.2 722.6L186.5 723.1L186.8 722.9L187.1 723.3L187.4 722.7L187.7 722.5L188.0 722.6L188.3 722.5L188.6 722.5L188.9 722.9L189.2 722.5L189.5 722.9L189.8 723.6L190.1 722.2L190.4 723.1L190.7 723.0L191.0 722.7L191.3 722.4L191.6 722.6L191.9 722.8L192.2 723.7L192.5 723.2L192.8 724.4L193.1 723.9L193.4 724.7L193.7 725.4L194.0 724.4L194.3 725.3L194.6 726.5L194.9 725.7L195.2 725.8L195.5 725.5L195.8 725.5L196.1 725.3L196.4 725.0L196.7 725.7L197.0 726.2L197.3 726.0L197.6 726.9L197.9 727.1L198.2 727.1L198.5 726.1L198.8 727.3L199.1 727.6L199.4 725.6L199.7 725.1L200.0 725.2L200.3 726.2L200.6 727.0L200.9 726.6L201.2 726.6L201.5 727.0L201.8 726.0L202.1 726.6L202.4 726.4L202.7 726.6L203.0 726.6L203.3 725.9L203.6 725.6L203.9 726.1L204.2 726.5L204.5 726.5L204.8 727.3L205.1 726.9L205.4 726.2L205.7 726.3L206.0 726.5L206.3 726.6L206.6 727.6L206.9 727.8L207.2 728.2L207.5 728.2L207.8 727.8L208.1 728.3L208.4 727.7L208.7 727.8L209.0 727.0L209.3 727.2L209.6 727.1L209.9 727.5L210.2 728.7L210.5 729.8L210.8 729.6L211.1 728.8L211.4 728.9L211.7 728.6L212.0 727.9L212.3 727.8L212.6 727.7L212.9 727.3L213.2 728.5L213.5 727.9L213.8 727.6L214.1 728.2L214.4 727.7L214.7 727.1L215.0 726.9L215.3 727.7L215.6 728.1L215.9 728.3L216.2 727.9L216.5 727.5L216.8 728.3L217.1 727.4L217.4 727.6L217.7 727.0L218.0 727.3L218.3 727.6L218.6 728.7L218.9 726.7L219.2 728.3L219.5 727.8L219.8 728.2L220.1 728.8L220.4 728.2L220.7 728.3L221.0 728.7L221.3 728.6L221.6 728.1L221.9 728.4L222.2 728.6L222.5 727.6L222.8 728.9L223.1 729.0L223.4 727.3L223.7 727.3L224.0 729.0L224.3 729.9L224.6 729.6L224.9 728.2L225.2 728.3L225.5 729.2L225.8 729.3L226.1 728.9L226.4 728.4L226.7 729.1L227.0 728.9L227.3 729.1L227.6 729.4L227.9 730.3L228.2 729.9L228.5 729.7L228.8 728.3L229.1 729.3L229.4 729.8L229.7 729.5L230.0 727.9L230.3 728.0L230.6 728.5L230.9 730.1L231.2 730.1L231.5 730.2L231.8 730.4L232.1 730.8L232.4 729.4L232.7 728.8L233.0 728.2L233.3 728.4L233.6 728.6L233.9 728.9L234.2 728.4L234.5 728.8L234.8 728.5L235.1 730.2L235.4 729.5L235.7 731.1L236.0 731.5L236.3 729.9L236.6 730.3L236.9 730.3L237.2 729.0L237.5 729.6L237.8 729.5L238.1 729.7L238.4 729.1L238.7 729.2L239.0 729.6L239.3 729.4L239.6 729.1L239.9 729.2L240.2 728.7L240.5 729.3L240.8 727.7L241.1 729.5L241.4 729.6L241.7 729.9L242.0 730.3L242.3 729.3L242.6 730.9L242.9 729.7L243.2 730.0L243.5 730.1L243.8 730.8L244.1 730.3L244.4 729.2L244.7 729.6L245.0 728.1L245.3 728.6L245.6 728.8L245.9 730.2L246.2 729.8L246.5 729.5L246.8 729.1L247.1 728.9L247.4 728.9L247.7 729.6L248.0 728.9L248.3 729.1L248.6 728.5L248.9 728.9L249.2 729.4L249.5 728.8L249.8 728.9L250.1 729.3L250.4 730.1L250.7 730.6L251.0 730.3L251.3 729.5L251.6 728.6L251.9 729.6L252.2 730.7L252.5 730.6L252.8 731.4L253.1 730.5L253.4 730.0L253.7 731.0L254.0 730.0L254.3 730.4L254.6 730.5L254.9 730.4L255.2 731.4L255.5 730.3L255.8 729.9L256.1 728.6L256.4 728.5L256.7 728.8L257.0 729.0L257.3 729.3L257.6 729.8L257.9 729.5L258.2 728.4L258.5 729.2L258.8 729.8L259.1 729.2L259.4 729.0L259.7 730.6L260.0 731.1L260.3 731.4L260.6 731.3L260.9 730.9L261.2 730.3L261.5 730.6L261.8 730.3L262.1 729.9L262.4 730.0L262.7 730.0L263.0 730.6L263.3 729.8L263.6 731.5L263.9 730.3L264.2 730.0L264.5 730.6L264.8 729.9L265.1 729.7L265.4 729.8L265.7 728.0L266.0 728.5L266.3 728.5L266.6 729.0L266.9 729.7L267.2 730.2L267.5 731.1L267.8 731.6L268.1 731.6L268.4 730.9L268.7 731.2L269.0 730.0L269.3 729.9L269.6 730.8L269.9 730.9L270.2 729.5L270.5 729.2L270.8 730.0L271.1 730.2L271.4 730.7L271.7 729.1L272.0 728.4L272.3 728.6L272.6 728.3L272.9 728.7L273.2 728.9L273.5 729.2L273.8 729.1L274.1 729.4L274.4 729.7L274.7 729.4L275.0 728.3L275.3 729.3L275.6 729.1L275.9 729.0L276.2 728.8L276.5 727.4L276.8 728.0L277.1 727.4L277.4 726.7L277.7 727.7L278.0 727.3L278.3 727.2L278.6 727.5L278.9 728.0L279.2 726.0L279.5 725.3L279.8 725.6L280.1 724.8L280.4 722.4L280.7 722.9L281.0 723.0L281.3 723.2L281.6 722.6L281.9 721.5L282.2 720.8L282.5 719.9L282.8 718.5L283.1 717.7L283.4 716.7L283.7 714.6L284.0 714.0L284.3 712.7L284.6 711.2L284.9 707.1L285.2 705.6L285.5 703.6L285.8 700.8L286.1 699.0L286.4 695.5L286.7 693.9L287.0 691.2L287.3 687.7L287.6 685.5L287.9 682.2L288.2 678.8L288.5 674.4L288.8 671.5L289.1 669.1L289.4 666.2L289.7 661.7L290.0 659.7L290.3 657.8L290.6 655.3L290.9 652.5L291.2 649.7L291.5 648.3L291.8 647.7L292.1 648.2L292.4 649.1L292.7 649.4L293.0 649.9L293.3 651.9L293.6 653.5L293.9 657.4L294.2 659.3L294.5 662.8L294.8 666.5L295.1 668.8L295.4 672.8L295.7 675.8L296.0 678.4L296.3 681.2L296.6 684.7L296.9 688.7L297.2 690.2L297.5 693.9L297.8 696.6L298.1 698.8L298.4 701.4L298.7 703.9L299.0 706.2L299.3 708.9L299.6 710.1L299.9 713.3L300.2 715.1L300.5 715.8L300.8 715.8L301.1 717.6L301.4 718.8L301.7 720.6L302.0 722.1L302.3 724.0L302.6 724.2L302.9 725.1L303.2 725.1L303.5 725.4L303.8 727.0L304.1 727.0L304.4 727.3L304.7 727.4L305.0 728.0L305.3 728.7L305.6 728.8L305.9 728.3L306.2 729.1L306.5 728.9L306.8 729.1L307.1 729.8L307.4 730.2L307.7 728.9L308.0 730.8L308.3 731.4L308.6 732.6L308.9 733.7L309.2 732.2L309.5 731.6L309.8 731.8L310.1 732.4L310.4 731.9L310.7 731.7L311.0 732.6L311.3 731.9L311.6 732.2L311.9 733.0L312.2 732.6L312.5 733.1L312.8 732.9L313.1 731.8L313.4 731.8L313.7 732.1L314.0 732.2L314.3 732.5L314.6 733.0L314.9 733.2L315.2 733.3L315.5 733.0L315.8 732.9L316.1 732.8L316.4 732.7L316.7 733.8L317.0 732.4L317.3 733.0L317.6 732.1L317.9 732.3L318.2 733.3L318.5 733.3L318.8 734.3L319.1 733.5L319.4 733.4L319.7 733.1L320.0 733.4L320.3 733.3L320.6 733.3L320.9 733.6L321.2 734.4L321.5 734.3L321.8 734.2L322.1 733.9L322.4 733.5L322.7 732.7L323.0 732.6L323.3 733.2L323.6 732.3L323.9 733.4L324.2 733.4L324.5 733.1L324.8 733.2L325.1 734.0L325.4 734.3L325.7 734.4L326.0 735.5L326.3 736.5L326.6 734.8L326.9 735.2L327.2 734.4L327.5 733.6L327.8 733.6L328.1 734.7L328.4 734.4L328.7 734.2L329.0 735.3L329.3 735.4L329.6 735.1L329.9 736.2L330.2 736.0L330.5 735.1L330.8 734.3L331.1 734.3L331.4 734.7L331.7 735.5L332.0 735.9L332.3 735.6L332.6 734.7L332.9 735.5L333.2 735.4L333.5 734.6L333.8 734.1L334.1 734.7L334.4 735.1L334.7 735.7L335.0 734.7L335.3 736.2L335.6 734.7L335.9 734.9L336.2 735.9L336.5 736.4L336.8 735.3L337.1 735.7L337.4 736.4L337.7 736.5L338.0 735.4L338.3 736.5L338.6 735.0L338.9 735.2L339.2 734.6L339.5 734.7L339.8 734.8L340.1 735.4L340.4 734.6L340.7 735.1L341.0 736.1L341.3 736.0L341.6 736.2L341.9 736.2L342.2 735.5L342.5 735.3L342.8 735.5L343.1 735.9L343.4 737.1L343.7 737.6L344.0 736.6L344.3 736.0L344.6 735.2L344.9 734.0L345.2 735.6L345.5 736.0L345.8 734.7L346.1 735.2L346.4 737.0L346.7 736.9L347.0 736.9L347.3 736.6L347.6 735.9L347.9 735.2L348.2 735.0L348.5 735.5L348.8 735.6L349.1 736.3L349.4 737.4L349.7 737.3L350.0 737.4L350.3 736.7L350.6 735.7L350.9 737.3L351.2 737.4L351.5 737.7L351.8 736.9L352.1 735.6L352.4 736.8L352.7 735.2L353.0 735.6L353.3 735.6L353.6 736.0L353.9 736.7L354.2 737.2L354.5 735.5L354.8 736.5L355.1 735.3L355.4 736.2L355.7 736.0L356.0 735.4L356.3 735.5L356.6 735.0L356.9 735.6L357.2 736.5L357.5 737.0L357.8 736.8L358.1 737.3L358.4 737.2L358.7 738.1L359.0 737.6L359.3 736.4L359.6 735.6L359.9 734.6L360.2 733.9L360.5 733.1L360.8 732.7L361.1 732.1L361.4 730.9L361.7 730.5L362.0 729.9L362.3 730.3L362.6 729.9L362.9 731.3L363.2 732.6L363.5 735.6L363.8 735.0L364.1 735.6L364.4 735.8L364.7 735.1L365.0 735.9L365.3 736.2L365.6 735.5L365.9 734.5L366.2 735.4L366.5 735.0L366.8 736.2L367.1 736.3L367.4 736.9L367.7 736.7L368.0 737.9L368.3 738.0L368.6 738.6L368.9 738.1L369.2 737.0L369.5 736.1L369.8 736.2L370.1 736.8L370.4 736.5L370.7 738.4L371.0 737.9L371.3 737.9L371.6 737.7L371.9 736.7L372.2 737.7L372.5 738.0L372.8 738.3L373.1 737.3L373.4 737.4L373.7 737.4L374.0 738.2L374.3 737.0L374.6 737.6L374.9 738.4L375.2 737.8L375.5 737.1L375.8 738.2L376.1 738.1L376.4 738.6L376.7 738.7L377.0 739.0L377.3 738.3L377.6 736.7L377.9 737.5L378.2 737.1L378.5 737.8L378.8 737.4L379.1 738.6L379.4 738.1L379.7 738.5L380.0 739.0L380.3 738.5L380.6 738.4L380.9 738.2L381.2 737.4L381.5 738.6L381.8 737.7L382.1 736.8L382.4 736.9L382.7 737.4L383.0 737.7L383.3 737.6L383.6 737.4L383.9 736.2L384.2 737.4L384.5 738.8L384.8 738.0L385.1 736.8L385.4 737.8L385.7 737.8L386.0 735.3L386.3 735.9L386.6 735.8L386.9 736.0L387.2 738.2L387.5 738.8L387.8 738.5L388.1 738.4L388.4 739.4L388.7 738.2L389.0 738.7L389.3 738.1L389.6 738.8L389.9 738.8L390.2 738.1L390.5 738.9L390.8 739.1L391.1 740.0L391.4 739.1L391.7 739.0L392.0 738.3L392.3 739.2L392.6 738.4L392.9 738.5L393.2 739.4L393.5 739.4L393.8 739.3L394.1 739.2L394.4 739.2L394.7 739.4L395.0 738.9L395.3 737.5L395.6 738.9L395.9 738.1L396.2 739.6L396.5 739.4L396.8 741.3L397.1 741.1L397.4 740.4L397.7 740.4L398.0 738.8L398.3 739.0L398.6 738.7L398.9 738.8L399.2 737.5L399.5 736.6L399.8 738.0L400.1 738.4L400.4 738.3L400.7 738.5L401.0 738.3L401.3 738.2L401.6 739.0L401.9 738.9L402.2 739.4L402.5 738.8L402.8 737.7L403.1 737.8L403.4 738.3L403.7 737.9L404.0 738.1L404.3 738.2L404.6 739.2L404.9 739.8L405.2 740.3L405.5 739.4L405.8 739.5L406.1 740.3L406.4 740.0L406.7 739.7L407.0 739.0L407.3 739.7L407.6 739.7L407.9 740.2L408.2 739.8L408.5 741.0L408.8 740.3L409.1 739.1L409.4 739.3L409.7 739.7L410.0 740.4L410.3 739.6L410.6 739.1L410.9 739.0L411.2 738.9L411.5 737.6L411.8 738.7L412.1 739.7L412.4 739.0L412.7 738.3L413.0 738.5L413.3 738.1L413.6 738.9L413.9 738.4L414.2 738.9L414.5 737.8L414.8 737.0L415.1 736.4L415.4 736.0L415.7 736.8L416.0 737.5L416.3 737.2L416.6 736.8L416.9 734.7L417.2 735.2L417.5 733.2L417.8 732.8L418.1 731.8L418.4 727.5L418.7 722.2L419.0 714.8L419.3 704.1L419.6 692.2L419.9 680.3L420.2 671.3L420.5 668.3L420.8 671.5L421.1 680.6L421.4 690.6L421.7 700.3L422.0 710.1L422.3 717.9L422.6 722.9L422.9 728.3L423.2 730.6L423.5 732.5L423.8 734.4L424.1 734.9L424.4 736.4L424.7 737.3L425.0 738.0L425.3 738.3L425.6 738.2L425.9 738.0L426.2 738.7L426.5 739.9L426.8 740.2L427.1 740.2L427.4 740.7L427.7 741.2L428.0 739.8L428.3 739.8L428.6 740.7L428.9 740.0L429.2 739.7L429.5 740.2L429.8 740.0L430.1 740.9L430.4 740.3L430.7 740.7L431.0 742.1L431.3 742.1L431.6 740.4L431.9 739.6L432.2 739.1L432.5 739.5L432.8 738.8L433.1 739.6L433.4 740.9L433.7 741.6L434.0 740.4L434.3 740.1L434.6 739.8L434.9 739.3L435.2 740.6L435.5 739.9L435.8 739.1L436.1 739.6L436.4 739.9L436.7 740.8L437.0 741.4L437.3 740.5L437.6 738.8L437.9 739.5L438.2 740.1L438.5 741.0L438.8 739.3L439.1 738.6L439.4 739.9L439.7 740.8L440.0 741.0L440.3 740.3L440.6 740.7L440.9 739.8L441.2 738.7L441.5 738.8L441.8 739.0L442.1 739.5L442.4 740.0L442.7 738.4L443.0 738.8L443.3 739.1L443.6 738.2L443.9 738.2L444.2 738.4L444.5 738.8L444.8 738.1L445.1 737.8L445.4 737.3L445.7 737.9L446.0 737.8L446.3 737.5L446.6 738.1L446.9 737.9L447.2 737.0L447.5 738.0L447.8 738.4L448.1 738.2L448.4 737.1L448.7 737.7L449.0 736.8L449.3 735.4L449.6 735.5L449.9 736.7L450.2 735.8L450.5 735.8L450.8 736.1L451.1 735.3L451.4 734.3L451.7 733.6L452.0 733.3L452.3 732.1L452.6 731.7L452.9 731.2L453.2 729.9L453.5 729.4L453.8 728.6L454.1 727.1L454.4 725.8L454.7 724.7L455.0 723.4L455.3 722.0L455.6 720.1L455.9 719.1L456.2 718.4L456.5 717.3L456.8 715.2L457.1 714.3L457.4 713.3L457.7 711.3L458.0 710.6L458.3 709.4L458.6 708.4L458.9 708.0L459.2 707.5L459.5 705.9L459.8 706.7L460.1 706.6L460.4 707.4L460.7 708.8L461.0 709.4L461.3 710.1L461.6 711.3L461.9 712.8L462.2 713.4L462.5 714.4L462.8 716.2L463.1 718.6L463.4 719.4L463.7 721.1L464.0 721.5L464.3 722.7L464.6 723.9L464.9 724.2L465.2 725.6L465.5 726.7L465.8 726.3L466.1 727.9L466.4 729.5L466.7 730.7L467.0 731.7L467.3 731.7L467.6 732.2L467.9 733.1L468.2 733.3L468.5 734.0L468.8 735.6L469.1 735.4L469.4 735.8L469.7 737.5L470.0 737.4L470.3 737.0L470.6 737.6L470.9 738.0L471.2 738.3L471.5 737.4L471.8 738.2L472.1 738.8L472.4 740.3L472.7 740.4L473.0 739.8L473.3 740.0L473.6 740.3L473.9 740.1L474.2 740.1L474.5 741.0L474.8 741.0L475.1 741.1L475.4 740.2L475.7 740.6L476.0 739.4L476.3 740.7L476.6 740.4L476.9 740.9L477.2 741.8L477.5 740.7L477.8 741.6L478.1 741.5L478.4 742.0L478.7 741.4L479.0 740.8L479.3 741.8L479.6 741.8L479.9 741.6L480.2 740.7L480.5 741.8L480.8 741.4L481.1 741.2L481.4 740.8L481.7 741.0L482.0 741.5L482.3 741.4L482.6 741.3L482.9 741.0L483.2 742.1L483.5 742.8L483.8 742.0L484.1 741.2L484.4 741.4L484.7 740.3L485.0 740.9L485.3 741.2L485.6 741.3L485.9 742.2L486.2 742.9L486.5 742.4L486.8 741.6L487.1 741.9L487.4 742.1L487.7 740.8L488.0 740.2L488.3 740.1L488.6 739.1L488.9 738.8L489.2 740.3L489.5 739.3L489.8 740.0L490.1 739.3L490.4 739.9L490.7 739.8L491.0 740.1L491.3 738.7L491.6 738.9L491.9 738.4L492.2 738.9L492.5 739.0L492.8 738.7L493.1 738.3L493.4 738.0L493.7 737.9L494.0 737.3L494.3 737.0L494.6 736.5L494.9 735.9L495.2 736.8L495.5 735.8L495.8 736.7L496.1 736.9L496.4 735.3L496.7 734.3L497.0 734.7L497.3 734.3L497.6 734.7L497.9 735.3L498.2 735.3L498.5 734.8L498.8 734.5L499.1 735.3L499.4 734.5L499.7 735.3L500.0 735.8L500.3 734.6L500.6 734.1L500.9 734.7L501.2 733.4L501.5 733.2L501.8 733.4L502.1 732.1L502.4 732.1L502.7 731.8L503.0 731.1L503.3 731.9L503.6 731.2L503.9 732.2L504.2 731.6L504.5 730.3L504.8 729.9L505.1 728.9L505.4 729.2L505.7 729.1L506.0 727.8L506.3 727.3L506.6 727.4L506.9 727.1L507.2 726.1L507.5 726.6L507.8 726.9L508.1 725.2L508.4 725.8L508.7 723.8L509.0 723.6L509.3 723.0L509.6 722.6L509.9 722.6L510.2 721.6L510.5 721.5L510.8 722.4L511.1 722.0L511.4 722.2L511.7 721.8L512.0 719.9L512.3 720.7L512.6 720.5L512.9 720.1L513.2 719.0L513.5 718.2L513.8 717.2L514.1 717.1L514.4 717.1L514.7 716.9L515.0 716.6L515.3 715.3L515.6 715.2L515.9 715.0L516.2 715.6L516.5 715.4L516.8 715.3L517.1 715.6L517.4 715.4L517.7 715.5L518.0 716.6L518.3 716.7L518.6 716.5L518.9 717.6L519.2 718.6L519.5 719.5L519.8 719.0L520.1 720.5L520.4 721.1L520.7 721.8L521.0 722.6L521.3 723.5L521.6 724.4L521.9 725.8L522.2 726.2L522.5 726.4L522.8 727.3L523.1 727.6L523.4 728.7L523.7 729.0L524.0 729.8L524.3 729.6L524.6 730.6L524.9 731.2L525.2 730.7L525.5 730.9L525.8 731.4L526.1 730.9L526.4 730.9L526.7 732.0L527.0 732.7L527.3 733.8L527.6 732.9L527.9 733.0L528.2 732.0L528.5 733.9L528.8 733.2L529.1 733.5L529.4 735.0L529.7 735.7L530.0 734.7L530.3 736.1L530.6 735.8L530.9 734.8L531.2 735.0L531.5 735.4L531.8 735.6L532.1 734.1L532.4 735.7L532.7 734.5L533.0 734.7L533.3 735.8L533.6 735.9L533.9 735.7L534.2 735.2L534.5 735.7L534.8 736.5L535.1 735.8L535.4 736.0L535.7 735.6L536.0 735.4L536.3 734.2L536.6 735.0L536.9 735.9L537.2 735.8L537.5 736.5L537.8 736.5L538.1 737.1L538.4 736.9L538.7 736.5L539.0 736.3L539.3 736.5L539.6 736.9L539.9 736.5L540.2 736.7L540.5 736.2L540.8 735.9L541.1 737.1L541.4 737.7L541.7 738.4L542.0 738.5L542.3 738.7L542.6 739.8L542.9 739.0L543.2 739.2L543.5 740.2L543.8 741.2L544.1 740.9L544.4 740.4L544.7 739.6L545.0 739.7L545.3 740.0L545.6 740.2L545.9 740.6L546.2 741.0L546.5 740.6L546.8 740.2L547.1 740.3L547.4 740.9L547.7 742.0L548.0 740.7L548.3 741.6L548.6 741.3L548.9 742.0L549.2 743.0L549.5 742.7L549.8 741.6L550.1 741.3L550.4 741.7L550.7 741.5L551.0 741.6L551.3 741.2L551.6 741.4L551.9 741.2L552.2 742.1L552.5 742.3L552.8 742.7L553.1 741.5L553.4 741.5L553.7 741.4L554.0 741.5L554.3 741.3L554.6 741.3L554.9 742.7L555.2 742.5L555.5 741.7L555.8 741.9L556.1 743.6L556.4 743.7L556.7 742.7L557.0 742.6L557.3 742.6L557.6 742.7L557.9 741.6L558.2 741.6L558.5 742.0L558.8 741.3L559.1 741.9L559.4 742.4L559.7 743.1L560.0 743.8L560.3 743.4L560.6 743.4L560.9 743.8L561.2 744.2L561.5 743.9L561.8 743.2L562.1 743.6L562.4 744.0L562.7 743.9L563.0 744.1L563.3 744.8L563.6 744.0L563.9 743.4L564.2 742.8L564.5 743.3L564.8 744.1L565.1 743.6L565.4 744.8L565.7 744.0L566.0 744.1L566.3 743.9L566.6 744.7L566.9 744.0L567.2 745.0L567.5 744.4L567.8 743.4L568.1 743.3L568.4 743.5L568.7 744.7L569.0 744.1L569.3 744.1L569.6 745.3L569.9 744.9L570.2 744.2L570.5 743.7L570.8 742.9L571.1 743.6L571.4 744.5L571.7 744.1L572.0 743.4L572.3 743.8L572.6 743.9L572.9 743.9L573.2 744.2L573.5 744.1L573.8 743.8L574.1 744.4L574.4 743.0L574.7 742.6L575.0 742.9L575.3 742.4L575.6 743.8L575.9 742.4L576.2 743.3L576.5 743.7L576.8 743.8L577.1 743.9L577.4 743.3L577.7 742.8L578.0 743.8L578.3 743.4L578.6 742.3L578.9 741.8L579.2 741.3L579.5 742.0L579.8 743.0L580.1 742.6L580.4 742.7L580.7 742.3L581.0 742.8L581.3 743.1L581.6 743.3L581.9 743.9L582.2 742.4L582.5 742.7L582.8 741.4L583.1 742.0L583.4 742.4L583.7 742.5L584.0 742.6L584.3 742.0L584.6 741.3L584.9 741.8L585.2 741.1L585.5 741.5L585.8 740.7L586.1 741.0L586.4 741.1L586.7 740.4L587.0 740.2L587.3 740.9L587.6 740.7L587.9 740.8L588.2 740.2L588.5 740.2L588.8 739.2L589.1 739.0L589.4 740.1L589.7 740.2L590.0 740.0L590.3 739.8L590.6 738.8L590.9 739.3L591.2 738.5L591.5 738.3L591.8 739.0L592.1 738.5L592.4 738.3L592.7 738.4L593.0 738.5L593.3 739.4L593.6 737.9L593.9 737.8L594.2 738.4L594.5 738.0L594.8 737.8L595.1 737.4L595.4 737.4L595.7 738.0L596.0 738.6L596.3 738.4L596.6 738.9L596.9 738.4L597.2 737.0L597.5 737.5L597.8 736.1L598.1 736.4L598.4 736.6L598.7 736.0L599.0 736.1L599.3 735.9L599.6 736.2L599.9 736.0L600.2 736.3L600.5 735.9L600.8 736.1L601.1 735.8L601.4 735.7L601.7 735.4L602.0 734.8L602.3 735.3L602.6 735.1L602.9 733.1L603.2 732.3L603.5 733.4L603.8 732.6L604.1 733.7L604.4 732.6L604.7 731.5L605.0 729.7L605.3 728.2L605.6 726.7L605.9 725.3L606.2 722.8L606.5 719.8L606.8 715.8L607.1 712.0L607.4 707.8L607.7 703.9L608.0 700.0L608.3 697.4L608.6 697.2L608.9 697.2L609.2 699.5L609.5 702.9L609.8 707.3L610.1 710.7L610.4 713.6L610.7 717.3L611.0 719.8L611.3 722.9L611.6 724.3L611.9 725.2L612.2 726.4L612.5 728.6L612.8 730.1L613.1 730.3L613.4 731.2L613.7 730.4L614.0 731.6L614.3 731.9L614.6 731.9L614.9 732.1L615.2 732.4L615.5 732.3L615.8 732.3L616.1 731.8L616.4 733.3L616.7 732.7L617.0 732.8L617.3 733.7L617.6 734.3L617.9 734.8L618.2 734.0L618.5 733.6L618.8 733.6L619.1 732.5L619.4 733.6L619.7 732.7L620.0 733.1L620.3 734.0L620.6 734.5L620.9 734.1L621.2 734.7L621.5 735.2L621.8 733.9L622.1 734.0L622.4 734.6L622.7 735.0L623.0 734.8L623.3 734.8L623.6 736.3L623.9 735.7L624.2 736.2L624.5 735.2L624.8 735.7L625.1 736.4L625.4 735.9L625.7 735.6L626.0 737.0L626.3 736.6L626.6 737.2L626.9 736.2L627.2 737.5L627.5 736.1L627.8 736.0L628.1 736.2L628.4 736.7L628.7 737.2L629.0 738.5L629.3 739.6L629.6 740.2L629.9 740.0L630.2 739.6L630.5 738.0L630.8 738.3L631.1 738.3L631.4 739.0L631.7 738.5L632.0 738.4L632.3 738.5L632.6 739.4L632.9 739.7L633.2 739.2L633.5 738.6L633.8 739.0L634.1 739.2L634.4 739.4L634.7 740.0L635.0 740.8L635.3 741.3L635.6 740.8L635.9 740.5L636.2 741.7L636.5 741.5L636.8 741.9L637.1 741.9L637.4 742.0L637.7 742.9L638.0 742.3L638.3 742.8L638.6 742.8L638.9 742.4L639.2 742.0L639.5 741.7L639.8 742.6L640.1 743.1L640.4 742.3L640.7 742.5L641.0 741.4L641.3 741.9L641.6 743.4L641.9 742.3L642.2 742.6L642.5 742.3L642.8 742.5L643.1 741.9L643.4 742.4L643.7 741.1L644.0 741.7L644.3 742.0L644.6 742.3L644.9 743.8L645.2 742.8L645.5 742.5L645.8 741.9L646.1 742.7L646.4 742.9L646.7 742.3L647.0 743.2L647.3 743.4L647.6 744.2L647.9 744.3L648.2 744.0L648.5 743.3L648.8 742.0L649.1 742.2L649.4 743.4L649.7 743.3L650.0 742.9L650.3 743.3L650.6 743.8L650.9 745.5L651.2 744.1L651.5 743.7L651.8 743.0L652.1 742.8L652.4 743.7L652.7 743.7L653.0 742.8L653.3 744.0L653.6 745.0L653.9 745.0L654.2 743.9L654.5 743.3L654.8 744.3L655.1 743.5L655.4 743.3L655.7 742.7L656.0 744.4L656.3 743.8L656.6 743.8L656.9 743.4L657.2 743.3L657.5 742.9L657.8 744.0L658.1 743.7L658.4 744.7L658.7 743.7L659.0 744.2L659.3 744.8L659.6 743.9L659.9 744.2L660.2 743.8L660.5 743.3L660.8 743.5L661.1 742.6L661.4 743.1L661.7 742.7L662.0 743.8L662.3 745.0L662.6 745.6L662.9 744.7L663.2 744.5L663.5 745.7L663.8 746.0L664.1 745.8L664.4 744.0L664.7 744.0L665.0 745.6L665.3 745.5L665.6 744.9L665.9 744.8L666.2 746.3L666.5 746.5L666.8 745.0L667.1 744.2L667.4 744.4L667.7 745.4L668.0 744.7L668.3 744.4L668.6 742.9L668.9 743.3L669.2 744.3L669.5 744.9L669.8 744.0L670.1 744.8L670.4 744.3L670.7 743.6L671.0 744.4L671.3 743.6L671.6 743.8L671.9 743.7L672.2 744.1L672.5 744.5L672.8 744.4L673.1 744.1L673.4 744.1L673.7 742.9L674.0 743.6L674.3 745.4L674.6 745.5L674.9 746.0L675.2 745.6L675.5 745.4L675.8 745.5L676.1 745.8L676.4 745.9L676.7 745.1L677.0 745.1L677.3 744.2L677.6 745.2L677.9 745.1L678.2 745.0L678.5 744.2L678.8 744.9L679.1 745.6L679.4 745.7L679.7 746.2L680.0 745.3L680.3 745.8L680.6 745.5L680.9 743.7L681.2 744.5L681.5 744.1L681.8 744.4L682.1 744.3L682.4 744.1L682.7 745.2L683.0 744.8L683.3 745.1L683.6 745.6L683.9 745.2L684.2 744.4L684.5 744.7L684.8 744.9L685.1 744.4L685.4 744.8L685.7 745.8L686.0 746.2L686.3 746.8L686.6 747.0L686.9 746.4L687.2 746.0L687.5 745.0L687.8 745.8L688.1 745.2L688.4 745.6L688.7 746.5L689.0 746.0L689.3 744.8L689.6 744.3L689.9 744.4L690.2 745.6L690.5 745.2L690.8 745.1L691.1 744.4L691.4 744.9L691.7 745.0L692.0 745.6L692.3 744.8L692.6 745.3L692.9 744.3L693.2 744.1L693.5 744.1L693.8 744.4L694.1 744.9L694.4 743.4L694.7 744.0L695.0 744.1L695.3 743.6L695.6 743.9L695.9 744.6L696.2 744.4L696.5 744.3L696.8 745.0L697.1 744.4L697.4 745.3L697.7 745.4L698.0 745.4L698.3 745.6L698.6 746.1L698.9 745.1L699.2 745.7L699.5 744.8L699.8 745.0L700.1 745.3L700.4 745.2L700.7 744.3L701.0 743.7L701.3 743.4L701.6 743.9L701.9 744.4L702.2 744.9L702.5 743.8L702.8 744.4L703.1 745.2L703.4 745.1L703.7 744.9L704.0 745.3L704.3 746.1L704.6 746.5L704.9 746.7L705.2 745.1L705.5 745.8L705.8 745.2L706.1 745.5L706.4 744.8L706.7 744.9L707.0 744.4L707.3 744.3L707.6 745.7L707.9 744.5L708.2 745.1L708.5 744.9L708.8 744.1L709.1 745.1L709.4 744.9L709.7 744.4L710.0 744.7L710.3 744.1L710.6 745.3L710.9 744.0L711.2 743.9L711.5 742.8L711.8 743.6L712.1 744.5L712.4 745.1L712.7 745.8L713.0 745.3L713.3 744.6L713.6 745.1L713.9 744.5L714.2 744.7L714.5 744.3L714.8 743.8L715.1 744.0L715.4 744.9L715.7 745.3L716.0 745.0L716.3 743.1L716.6 743.6L716.9 744.1L717.2 744.6L717.5 744.0L717.8 744.8L718.1 744.8L718.4 743.4L718.7 744.3L719.0 745.3L719.3 745.1L719.6 744.3L719.9 745.5L720.2 745.6L720.5 743.9L720.8 744.7L721.1 744.8L721.4 744.8L721.7 743.4L722.0 742.7L722.3 743.4L722.6 745.0L722.9 744.8L723.2 744.6L723.5 744.0L723.8 743.8L724.1 744.6L724.4 743.9L724.7 745.2L725.0 745.1L725.3 744.9L725.6 744.5L725.9 743.9L726.2 743.8L726.5 743.0L726.8 743.4L727.1 742.4L727.4 744.5L727.7 744.2L728.0 743.1L728.3 743.6L728.6 743.8L728.9 743.5L729.2 743.8L729.5 743.3L729.8 743.5L730.1 743.5L730.4 744.0L730.7 743.6L731.0 743.9L731.3 742.1L731.6 743.5L731.9 743.8L732.2 744.2L732.5 744.0L732.8 744.5L733.1 744.3L733.4 744.3L733.7 744.3L734.0 743.9L734.3 743.4L734.6 744.0L734.9 744.5L735.2 744.4L735.5 745.1L735.8 744.9L736.1 745.0L736.4 745.5L736.7 745.5L737.0 745.0L737.3 744.1L737.6 743.8L737.9 743.4L738.2 744.4L738.5 742.2L738.8 744.5L739.1 744.0L739.4 745.0L739.7 745.1L740.0 745.4L740.3 744.4L740.6 745.3L740.9 745.1L741.2 745.5L741.5 744.7L741.8 744.9L742.1 744.5L742.4 745.0L742.7 745.5L743.0 745.3L743.3 745.6L743.6 745.8L743.9 745.6L744.2 745.4L744.5 744.2L744.8 745.4L745.1 745.6L745.4 745.5L745.7 745.7L746.0 745.4L746.3 745.4L746.6 745.9L746.9 744.9L747.2 745.2L747.5 745.7L747.8 744.9L748.1 744.7L748.4 746.2L748.7 747.7L749.0 747.4L749.3 747.5L749.6 746.6L749.9 747.5L750.2 747.2L750.5 747.1L750.8 747.3L751.1 746.8L751.4 746.4L751.7 746.6L752.0 746.1L752.3 746.1L752.6 744.8L752.9 745.1L753.2 746.2L753.5 747.2L753.8 747.6L754.1 746.8L754.4 746.9L754.7 746.3L755.0 745.8L755.3 746.8L755.6 746.5L755.9 746.3L756.2 746.3L756.5 746.6L756.8 746.1L757.1 745.2L757.4 744.6L757.7 743.5L758.0 742.3L758.3 739.9L758.6 739.1L758.9 739.2L759.2 739.0L759.5 741.3L759.8 743.5L760.1 745.0L760.4 744.6L760.7 745.5L761.0 746.2L761.3 746.7L761.6 745.8L761.9 747.0L762.2 748.2L762.5 748.4L762.8 749.3L763.1 748.4L763.4 748.4L763.7 748.9L764.0 747.7L764.3 747.6L764.6 747.1L764.9 747.9L765.2 747.0L765.5 747.5L765.8 747.2L766.1 747.9L766.4 747.5L766.7 747.4L767.0 747.7L767.3 747.2L767.6 747.1L767.9 747.2L768.2 747.0L768.5 747.4L768.8 747.0L769.1 747.3L769.4 747.2L769.7 747.0L770.0 746.5L770.3 745.7L770.6 746.0L770.9 746.9L771.2 746.9L771.5 748.1L771.8 747.2L772.1 747.0L772.4 746.2L772.7 747.4L773.0 746.5L773.3 747.1L773.6 747.4L773.9 749.0L774.2 749.2L774.5 748.9L774.8 748.4L775.1 749.2L775.4 748.2L775.7 747.1L776.0 747.7L776.3 747.5L776.6 747.0L776.9 747.4L777.2 747.7L777.5 746.5L777.8 747.5L778.1 748.7L778.4 747.9L778.7 746.7L779.0 747.1L779.3 747.1L779.6 747.7L779.9 748.1L780.2 747.7L780.5 748.5L780.8 746.8L781.1 746.6L781.4 747.0L781.7 747.4L782.0 747.3L782.3 747.6L782.6 746.6L782.9 745.4L783.2 746.7L783.5 747.8L783.8 747.6L784.1 746.7L784.4 746.5L784.7 747.2L785.0 747.4L785.3 748.2L785.6 748.9L785.9 749.0L786.2 748.2L786.5 748.5L786.8 748.3L787.1 748.0L787.4 747.8L787.7 747.5L788.0 746.8L788.3 747.2L788.6 746.7L788.9 746.9L789.2 747.5L789.5 747.9L789.8 746.4L790.1 746.3L790.4 745.9L790.7 746.6L791.0 746.3L791.3 747.2L791.6 746.9L791.9 747.3L792.2 746.6L792.5 746.3L792.8 746.4L793.1 746.9L793.4 745.6L793.7 746.2L794.0 745.6L794.3 746.2L794.6 745.4L794.9 745.7L795.2 746.9L795.5 747.8L795.8 746.8L796.1 747.9L796.4 747.2L796.7 747.0L797.0 747.2L797.3 747.1L797.6 747.2L797.9 747.1L798.2 747.5L798.5 747.3L798.8 746.7L799.1 746.0L799.4 745.5L799.7 745.9L800.0 746.5L800.3 746.7L800.6 746.4L800.9 746.6L801.2 746.1L801.5 746.2L801.8 746.5L802.1 746.1L802.4 746.9L802.7 747.2L803.0 746.5L803.3 746.6L803.6 746.4L803.9 746.3L804.2 746.1L804.5 746.6L804.8 746.2L805.1 745.9L805.4 746.0L805.7 746.0L806.0 746.3L806.3 744.8L806.6 744.7L806.9 742.8L807.2 742.6L807.5 741.3L807.8 740.2L808.1 739.8L808.4 738.5L808.7 737.7L809.0 734.9L809.3 735.2L809.6 731.9L809.9 730.4L810.2 730.1L810.5 727.2L810.8 726.7L811.1 725.6L811.4 724.0L811.7 723.1L812.0 723.1L812.3 724.0L812.6 725.7L812.9 727.8L813.2 727.5L813.5 729.9L813.8 731.9L814.1 732.4L814.4 734.5L814.7 736.2L815.0 737.5L815.3 738.0L815.6 739.1L815.9 740.2L816.2 739.8L816.5 739.8L816.8 739.8L817.1 741.0L817.4 741.1L817.7 740.7L818.0 740.3L818.3 739.9L818.6 740.6L818.9 741.5L819.2 742.3L819.5 741.3L819.8 740.7L820.1 740.4L820.4 740.2L820.7 739.7L821.0 741.3L821.3 741.5L821.6 741.0L821.9 739.3L822.2 740.7L822.5 741.1L822.8 740.8L823.1 740.8L823.4 739.8L823.7 739.9L824.0 739.0L824.3 738.8L824.6 738.1L824.9 736.6L825.2 735.6L825.5 736.0L825.8 735.8L826.1 734.6L826.4 733.2L826.7 732.1L827.0 731.7L827.3 730.1L827.6 730.5L827.9 729.6L828.2 728.9L828.5 729.4L828.8 731.1L829.1 730.8L829.4 731.1L829.7 731.2L830.0 732.5L830.3 733.7L830.6 734.5L830.9 735.2L831.2 736.3L831.5 737.6L831.8 737.9L832.1 738.5L832.4 738.8L832.7 739.2L833.0 740.8L833.3 740.6L833.6 741.3L833.9 742.5L834.2 742.3L834.5 743.0L834.8 743.7L835.1 742.8L835.4 743.8L835.7 743.3L836.0 743.8L836.3 743.1L836.6 742.7L836.9 743.3L837.2 745.0L837.5 746.6L837.8 747.8L838.1 747.6L838.4 747.5L838.7 747.2L839.0 746.9L839.3 746.2L839.6 745.7L839.9 746.0L840.2 746.3L840.5 745.7L840.8 745.1L841.1 745.0L841.4 747.6L841.7 746.6L842.0 747.3L842.3 747.7L842.6 747.8L842.9 746.9L843.2 748.0L843.5 747.5L843.8 746.7L844.1 746.2L844.4 746.3L844.7 747.8L845.0 746.5L845.3 746.1L845.6 746.4L845.9 746.8L846.2 746.1L846.5 745.8L846.8 745.9L847.1 746.7L847.4 746.7L847.7 746.6L848.0 746.9L848.3 747.0L848.6 747.6L848.9 746.9L849.2 747.0L849.5 746.6L849.8 747.3L850.1 747.8L850.4 747.4L850.7 748.1L851.0 747.6L851.3 748.4L851.6 747.7L851.9 747.2L852.2 746.3L852.5 746.1L852.8 746.3L853.1 745.4L853.4 746.2L853.7 747.2L854.0 747.6L854.3 747.7L854.6 748.0L854.9 747.4L855.2 747.1L855.5 747.8L855.8 747.6L856.1 748.2L856.4 747.6L856.7 748.0L857.0 748.6L857.3 748.1L857.6 749.0L857.9 749.4L858.2 747.1L858.5 749.0L858.8 747.4L859.1 749.1L859.4 747.9L859.7 746.5L860.0 746.1L860.3 747.0L860.6 746.6L860.9 746.7L861.2 747.9L861.5 747.1L861.8 747.7L862.1 748.5L862.4 747.0L862.7 746.5L863.0 747.2L863.3 747.4L863.6 747.7L863.9 746.5L864.2 746.4L864.5 747.2L864.8 747.8L865.1 748.6L865.4 748.1L865.7 747.5L866.0 747.0L866.3 746.7L866.6 745.9L866.9 747.7L867.2 747.5L867.5 747.2L867.8 747.0L868.1 747.7L868.4 747.8L868.7 747.3L869.0 748.2L869.3 748.2L869.6 748.0L869.9 747.9L870.2 748.7L870.5 748.8L870.8 748.4L871.1 748.8L871.4 747.0L871.7 747.8L872.0 747.3L872.3 747.1L872.6 747.3L872.9 748.7L873.2 748.3L873.5 748.0L873.8 748.4L874.1 746.9L874.4 747.1" fill="none" stroke="#00f" stroke-width="3.00" stroke-linejoin="round" stroke-linecap="butt"/>
<path d="M55.4 634.9L55.7 632.1L56.0 632.1L56.3 631.5L56.6 631.2L56.9 631.1L57.2 630.0L57.5 630.3L57.8 630.2L58.1 632.5L58.4 632.1L58.7 631.5L59.0 631.1L59.3 630.7L59.6 630.2L59.9 630.3L60.2 630.8L60.5 630.8L60.8 631.4L61.1 631.1L61.4 631.1L61.7 632.0L62.0 631.9L62.3 631.3L62.6 631.1L62.9 631.4L63.2 632.5L63.5 631.8L63.8 631.4L64.1 631.9L64.4 631.1L64.7 631.0L65.0 631.7L65.3 631.9L65.6 631.8L65.9 632.1L66.2 630.2L66.5 631.5L66.8 631.1L67.1 630.4L67.4 631.3L67.7 632.1L68.0 631.9L68.3 631.5L68.6 632.0L68.9 632.2L69.2 633.3L69.5 633.7L69.8 633.6L70.1 634.1L70.4 633.7L70.7 633.1L71.0 633.7L71.3 634.1L71.6 634.0L71.9 633.6L72.2 634.0L72.5 632.7L72.8 633.9L73.1 634.5L73.4 633.7L73.7 634.3L74.0 634.1L74.3 635.1L74.6 634.1L74.9 634.2L75.2 635.3L75.5 636.3L75.8 635.1L76.1 635.3L76.4 636.1L76.7 636.0L77.0 637.4L77.3 636.6L77.6 637.2L77.9 636.8L78.2 638.0L78.5 638.0L78.8 637.9L79.1 637.1L79.4 638.7L79.7 639.2L80.0 639.6L80.3 640.2L80.6 640.1L80.9 639.6L81.2 639.2L81.5 639.1L81.8 640.4L82.1 639.6L82.4 639.6L82.7 639.9L83.0 640.5L83.3 641.2L83.6 640.5L83.9 639.9L84.2 640.7L84.5 641.9L84.8 642.5L85.1 642.5L85.4 642.3L85.7 642.6L86.0 642.6L86.3 643.2L86.6 642.8L86.9 643.1L87.2 643.2L87.5 643.7L87.8 643.9L88.1 645.5L88.4 645.9L88.7 646.2L89.0 644.4L89.3 644.3L89.6 644.2L89.9 644.9L90.2 643.7L90.5 645.1L90.8 645.9L91.1 645.1L91.4 644.9L91.7 644.9L92.0 645.5L92.3 646.3L92.6 647.6L92.9 647.2L93.2 647.5L93.5 647.5L93.8 648.4L94.1 648.5L94.4 648.9L94.7 647.8L95.0 647.7L95.3 647.3L95.6 648.6L95.9 648.8L96.2 648.5L96.5 648.3L96.8 648.7L97.1 648.4L97.4 648.1L97.7 648.8L98.0 650.4L98.3 649.8L98.6 649.4L98.9 648.8L99.2 648.3L99.5 649.2L99.8 650.0L100.1 650.0L100.4 650.3L100.7 650.3L101.0 650.4L101.3 649.5L101.6 649.6L101.9 650.0L102.2 649.8L102.5 649.9L102.8 649.7L103.1 649.9L103.4 650.8L103.7 650.6L104.0 650.6L104.3 651.2L104.6 651.5L104.9 652.3L105.2 650.5L105.5 651.2L105.8 650.9L106.1 651.0L106.4 651.5L106.7 652.0L107.0 652.2L107.3 651.9L107.6 652.5L107.9 651.8L108.2 651.4L108.5 651.7L108.8 651.2L109.1 652.4L109.4 652.5L109.7 653.2L110.0 652.3L110.3 651.6L110.6 651.5L110.9 651.7L111.2 651.1L111.5 651.3L111.8 651.2L112.1 652.0L112.4 651.2L112.7 651.7L113.0 651.0L113.3 650.4L113.6 650.1L113.9 649.7L114.2 650.2L114.5 651.0L114.8 650.9L115.1 651.2L115.4 651.9L115.7 651.4L116.0 651.1L116.3 650.6L116.6 649.5L116.9 650.2L117.2 649.1L117.5 649.8L117.8 649.8L118.1 650.4L118.4 650.0L118.7 649.3L119.0 649.5L119.3 649.0L119.6 648.8L119.9 648.8L120.2 648.6L120.5 648.4L120.8 647.8L121.1 647.8L121.4 646.5L121.7 646.9L122.0 646.4L122.3 647.4L122.6 648.0L122.9 646.4L123.2 646.5L123.5 646.3L123.8 645.5L124.1 645.8L124.4 645.3L124.7 644.0L125.0 643.9L125.3 643.6L125.6 643.4L125.9 642.4L126.2 642.7L126.5 642.8L126.8 641.6L127.1 641.0L127.4 640.7L127.7 639.9L128.0 640.4L128.3 639.3L128.6 637.2L128.9 635.3L129.2 633.6L129.5 632.9L129.8 629.9L130.1 627.0L130.4 624.2L130.7 620.8L131.0 618.6L131.3 613.9L131.6 610.0L131.9 605.1L132.2 599.9L132.5 593.1L132.8 587.5L133.1 579.3L133.4 570.2L133.7 559.5L134.0 548.3L134.3 536.7L134.6 523.6L134.9 508.7L135.2 493.0L135.5 476.6L135.8 463.6L136.1 453.4L136.4 442.1L136.7 427.0L137.0 411.6L137.3 405.1L137.6 399.2L137.9 386.6L138.2 360.8L138.5 332.6L138.8 317.4L139.1 318.1L139.4 332.9L139.7 361.0L140.0 384.2L140.3 399.3L140.6 414.6L140.9 433.5L141.2 450.4L141.5 464.7L141.8 480.9L142.1 500.2L142.4 517.9L142.7 534.9L143.0 551.6L143.3 564.7L143.6 577.6L143.9 585.8L144.2 592.5L144.5 596.9L144.8 599.4L145.1 603.6L145.4 608.8L145.7 612.9L146.0 616.9L146.3 622.0L146.6 626.0L146.9 629.2L147.2 633.0L147.5 637.1L147.8 639.6L148.1 642.4L148.4 644.9L148.7 645.9L149.0 646.1L149.3 646.6L149.6 648.0L149.9 649.9L150.2 650.9L150.5 652.0L150.8 652.2L151.1 653.0L151.4 653.2L151.7 653.7L152.0 653.6L152.3 653.7L152.6 654.8L152.9 655.2L153.2 655.8L153.5 657.2L153.8 657.8L154.1 660.0L154.4 660.3L154.7 659.6L155.0 660.1L155.3 660.3L155.6 659.8L155.9 660.7L156.2 660.1L156.5 658.5L156.8 659.9L157.1 659.9L157.4 661.3L157.7 660.9L158.0 660.4L158.3 661.8L158.6 661.2L158.9 661.7L159.2 662.8L159.5 662.8L159.8 662.9L160.1 663.1L160.4 663.7L160.7 663.2L161.0 663.8L161.3 664.2L161.6 665.6L161.9 664.9L162.2 664.2L162.5 664.8L162.8 664.6L163.1 664.9L163.4 665.0L163.7 665.8L164.0 665.2L164.3 665.3L164.6 663.9L164.9 664.1L165.2 665.7L165.5 665.4L165.8 665.2L166.1 664.9L166.4 665.8L166.7 666.1L167.0 665.6L167.3 666.4L167.6 666.7L167.9 667.2L168.2 666.7L168.5 667.9L168.8 667.9L169.1 667.6L169.4 667.3L169.7 667.2L170.0 667.9L170.3 667.7L170.6 668.5L170.9 668.6L171.2 669.2L171.5 669.3L171.8 668.9L172.1 667.6L172.4 668.1L172.7 668.8L173.0 668.8L173.3 669.1L173.6 668.7L173.9 668.6L174.2 668.2L174.5 669.3L174.8 669.4L175.1 669.0L175.4 668.3L175.7 668.6L176.0 669.8L176.3 670.0L176.6 669.4L176.9 670.3L177.2 670.9L177.5 671.0L177.8 671.0L178.1 671.2L178.4 671.0L178.7 671.1L179.0 670.2L179.3 671.0L179.6 670.8L179.9 671.8L180.2 670.0L180.5 670.5L180.8 671.0L181.1 670.6L181.4 670.8L181.7 671.1L182.0 671.3L182.3 670.7L182.6 670.6L182.9 671.3L183.2 671.8L183.5 671.5L183.8 671.3L184.1 671.3L184.4 671.8L184.7 670.8L185.0 670.1L185.3 670.6L185.6 670.1L185.9 670.2L186.2 670.7L186.5 671.2L186.8 670.6L187.1 671.4L187.4 670.3L187.7 671.1L188.0 670.3L188.3 670.0L188.6 671.0L188.9 671.0L189.2 670.7L189.5 670.8L189.8 671.4L190.1 671.5L190.4 671.5L190.7 672.2L191.0 671.6L191.3 671.4L191.6 671.3L191.9 672.2L192.2 672.7L192.5 673.1L192.8 672.6L193.1 672.3L193.4 672.7L193.7 672.2L194.0 672.6L194.3 672.8L194.6 672.1L194.9 672.1L195.2 672.1L195.5 673.1L195.8 674.3L196.1 673.4L196.4 673.0L196.7 671.4L197.0 671.9L197.3 672.1L197.6 671.6L197.9 672.4L198.2 671.5L198.5 671.8L198.8 672.2L199.1 671.6L199.4 672.6L199.7 673.3L200.0 672.3L200.3 671.6L200.6 672.5L200.9 672.7L201.2 672.1L201.5 672.3L201.8 672.5L202.1 672.7L202.4 673.4L202.7 673.5L203.0 674.5L203.3 674.8L203.6 674.7L203.9 674.8L204.2 675.1L204.5 674.9L204.8 673.6L205.1 674.1L205.4 674.0L205.7 674.9L206.0 674.5L206.3 674.5L206.6 674.5L206.9 675.3L207.2 674.8L207.5 674.4L207.8 674.4L208.1 674.0L208.4 674.2L208.7 674.2L209.0 674.4L209.3 675.5L209.6 674.8L209.9 674.7L210.2 674.4L210.5 674.9L210.8 674.0L211.1 673.8L211.4 674.1L211.7 674.6L212.0 674.6L212.3 674.3L212.6 674.0L212.9 674.6L213.2 675.5L213.5 675.4L213.8 675.3L214.1 675.4L214.4 674.7L214.7 674.6L215.0 674.6L215.3 675.0L215.6 675.0L215.9 674.3L216.2 675.3L216.5 676.3L216.8 675.7L217.1 675.8L217.4 675.7L217.7 676.1L218.0 674.9L218.3 676.1L218.6 675.5L218.9 676.3L219.2 676.0L219.5 675.6L219.8 675.5L220.1 676.1L220.4 675.4L220.7 675.3L221.0 675.2L221.3 674.4L221.6 675.7L221.9 676.1L222.2 676.0L222.5 676.6L222.8 675.8L223.1 675.8L223.4 676.9L223.7 677.1L224.0 675.4L224.3 673.6L224.6 674.0L224.9 675.5L225.2 675.4L225.5 675.6L225.8 676.2L226.1 675.6L226.4 676.0L226.7 676.5L227.0 676.7L227.3 676.7L227.6 676.2L227.9 676.5L228.2 676.2L228.5 677.0L228.8 678.2L229.1 677.0L229.4 675.4L229.7 675.5L230.0 676.1L230.3 676.8L230.6 677.2L230.9 676.4L231.2 675.9L231.5 676.8L231.8 676.0L232.1 676.8L232.4 676.5L232.7 676.9L233.0 677.1L233.3 677.2L233.6 677.4L233.9 676.4L234.2 676.5L234.5 676.5L234.8 676.6L235.1 677.2L235.4 676.7L235.7 676.2L236.0 675.8L236.3 675.8L236.6 676.5L236.9 676.0L237.2 676.8L237.5 676.8L237.8 676.5L238.1 675.6L238.4 676.1L238.7 676.6L239.0 675.5L239.3 676.5L239.6 677.4L239.9 677.2L240.2 677.2L240.5 678.3L240.8 678.2L241.1 676.9L241.4 676.7L241.7 676.5L242.0 676.3L242.3 674.9L242.6 675.9L242.9 675.7L243.2 676.1L243.5 676.1L243.8 676.7L244.1 676.4L244.4 675.9L244.7 676.4L245.0 677.2L245.3 676.6L245.6 677.3L245.9 677.0L246.2 676.4L246.5 677.3L246.8 676.4L247.1 676.9L247.4 676.4L247.7 676.6L248.0 675.7L248.3 675.4L248.6 676.4L248.9 676.4L249.2 676.4L249.5 676.0L249.8 676.4L250.1 675.5L250.4 675.1L250.7 675.4L251.0 675.2L251.3 675.2L251.6 675.5L251.9 675.7L252.2 675.7L252.5 676.8L252.8 677.1L253.1 677.4L253.4 676.9L253.7 676.2L254.0 675.3L254.3 675.4L254.6 674.4L254.9 674.7L255.2 675.6L255.5 676.7L255.8 677.0L256.1 676.0L256.4 676.3L256.7 675.6L257.0 676.2L257.3 676.0L257.6 676.4L257.9 677.7L258.2 677.4L258.5 678.1L258.8 677.3L259.1 676.4L259.4 676.9L259.7 677.4L260.0 676.3L260.3 676.0L260.6 675.0L260.9 675.0L261.2 675.7L261.5 675.5L261.8 675.1L262.1 674.3L262.4 674.9L262.7 675.5L263.0 675.7L263.3 675.6L263.6 674.7L263.9 675.9L264.2 675.5L264.5 675.2L264.8 675.5L265.1 674.0L265.4 674.3L265.7 674.4L266.0 674.8L266.3 675.6L266.6 675.5L266.9 674.1L267.2 674.1L267.5 674.4L267.8 674.5L268.1 673.7L268.4 673.0L268.7 673.9L269.0 674.3L269.3 674.3L269.6 673.3L269.9 674.7L270.2 672.8L270.5 673.1L270.8 674.7L271.1 674.4L271.4 674.4L271.7 673.5L272.0 674.5L272.3 673.4L272.6 673.7L272.9 673.8L273.2 673.1L273.5 673.8L273.8 672.8L274.1 672.7L274.4 672.9L274.7 672.8L275.0 673.2L275.3 673.7L275.6 673.2L275.9 672.7L276.2 672.4L276.5 672.2L276.8 672.7L277.1 672.4L277.4 672.4L277.7 672.1L278.0 671.4L278.3 671.8L278.6 670.8L278.9 670.7L279.2 671.4L279.5 670.1L279.8 669.7L280.1 668.3L280.4 667.9L280.7 666.8L281.0 666.4L281.3 665.8L281.6 665.4L281.9 665.5L282.2 664.3L282.5 663.3L282.8 661.6L283.1 659.8L283.4 657.6L283.7 654.8L284.0 653.3L284.3 652.4L284.6 650.1L284.9 646.9L285.2 645.0L285.5 641.4L285.8 637.7L286.1 633.6L286.4 629.8L286.7 626.3L287.0 623.9L287.3 619.5L287.6 614.7L287.9 610.4L288.2 606.3L288.5 601.4L288.8 598.0L289.1 594.9L289.4 591.5L289.7 588.6L290.0 584.8L290.3 581.7L290.6 581.2L290.9 580.7L291.2 579.0L291.5 579.5L291.8 580.4L292.1 582.1L292.4 584.0L292.7 586.0L293.0 589.0L293.3 592.3L293.6 595.8L293.9 598.4L294.2 600.9L294.5 605.4L294.8 609.3L295.1 614.4L295.4 619.3L295.7 623.5L296.0 627.1L296.3 631.0L296.6 635.3L296.9 638.1L297.2 641.9L297.5 645.3L297.8 648.0L298.1 651.4L298.4 653.1L298.7 655.9L299.0 657.2L299.3 658.9L299.6 660.3L299.9 662.7L300.2 663.8L300.5 665.5L300.8 666.3L301.1 668.5L301.4 670.6L301.7 671.3L302.0 672.8L302.3 673.3L302.6 674.8L302.9 674.7L303.2 673.9L303.5 675.3L303.8 675.4L304.1 675.1L304.4 675.2L304.7 674.9L305.0 675.6L305.3 675.7L305.6 677.3L305.9 677.9L306.2 676.9L306.5 676.5L306.8 676.9L307.1 676.4L307.4 677.2L307.7 677.8L308.0 677.8L308.3 677.9L308.6 678.7L308.9 679.7L309.2 680.4L309.5 680.0L309.8 680.3L310.1 679.6L310.4 679.8L310.7 679.2L311.0 679.8L311.3 679.1L311.6 678.8L311.9 679.2L312.2 679.8L312.5 679.0L312.8 679.1L313.1 679.5L313.4 679.9L313.7 679.5L314.0 679.8L314.3 679.7L314.6 680.7L314.9 680.8L315.2 679.8L315.5 678.6L315.8 679.3L316.1 680.4L316.4 680.4L316.7 680.9L317.0 680.4L317.3 679.5L317.6 680.3L317.9 680.4L318.2 680.8L318.5 679.8L318.8 680.2L319.1 679.9L319.4 680.6L319.7 680.2L320.0 680.0L320.3 679.9L320.6 680.9L320.9 680.8L321.2 680.3L321.5 679.9L321.8 679.6L322.1 680.9L322.4 679.8L322.7 679.7L323.0 680.5L323.3 681.4L323.6 681.1L323.9 681.5L324.2 681.7L324.5 682.0L324.8 681.6L325.1 682.4L325.4 682.0L325.7 682.5L326.0 681.3L326.3 681.8L326.6 680.8L326.9 680.1L327.2 680.8L327.5 680.5L327.8 681.1L328.1 680.5L328.4 681.8L328.7 681.6L329.0 680.9L329.3 681.2L329.6 681.8L329.9 681.2L330.2 681.6L330.5 682.8L330.8 682.8L331.1 682.3L331.4 681.7L331.7 682.0L332.0 680.9L332.3 679.4L332.6 679.9L332.9 680.0L333.2 681.7L333.5 681.8L333.8 681.2L334.1 680.7L334.4 681.5L334.7 681.1L335.0 681.0L335.3 681.3L335.6 681.6L335.9 681.8L336.2 681.9L336.5 682.7L336.8 683.4L337.1 681.8L337.4 683.4L337.7 682.9L338.0 683.3L338.3 682.3L338.6 682.4L338.9 682.4L339.2 682.3L339.5 682.7L339.8 682.9L340.1 682.0L340.4 682.0L340.7 682.5L341.0 682.7L341.3 682.3L341.6 682.1L341.9 682.0L342.2 681.4L342.5 681.0L342.8 682.4L343.1 682.1L343.4 682.2L343.7 681.8L344.0 682.7L344.3 683.6L344.6 682.9L344.9 683.0L345.2 682.3L345.5 683.3L345.8 683.5L346.1 682.5L346.4 683.2L346.7 683.1L347.0 683.0L347.3 683.0L347.6 682.3L347.9 682.0L348.2 682.5L348.5 682.5L348.8 681.9L349.1 683.3L349.4 682.8L349.7 682.3L350.0 682.0L350.3 682.6L350.6 683.1L350.9 683.0L351.2 683.3L351.5 682.1L351.8 682.0L352.1 681.9L352.4 682.1L352.7 682.6L353.0 681.3L353.3 683.7L353.6 682.7L353.9 682.8L354.2 683.2L354.5 683.4L354.8 683.2L355.1 681.2L355.4 681.1L355.7 682.1L356.0 681.7L356.3 681.4L356.6 680.5L356.9 682.0L357.2 682.5L357.5 682.0L357.8 682.1L358.1 682.2L358.4 681.7L358.7 681.9L359.0 682.3L359.3 682.7L359.6 683.4L359.9 683.1L360.2 682.6L360.5 682.8L360.8 682.3L361.1 681.6L361.4 682.6L361.7 682.3L362.0 682.4L362.3 682.8L362.6 681.9L362.9 682.5L363.2 682.6L363.5 682.4L363.8 682.5L364.1 681.9L364.4 680.6L364.7 681.0L365.0 680.8L365.3 681.8L365.6 682.0L365.9 681.6L366.2 681.7L366.5 682.5L366.8 682.8L367.1 682.6L367.4 682.4L367.7 681.9L368.0 681.7L368.3 681.9L368.6 681.7L368.9 681.8L369.2 681.0L369.5 680.2L369.8 679.6L370.1 680.1L370.4 681.4L370.7 682.1L371.0 681.3L371.3 680.4L371.6 681.3L371.9 681.7L372.2 680.9L372.5 681.8L372.8 681.9L373.1 682.6L373.4 682.5L373.7 682.8L374.0 682.6L374.3 681.8L374.6 681.8L374.9 681.5L375.2 682.3L375.5 681.7L375.8 681.1L376.1 682.0L376.4 682.9L376.7 683.6L377.0 683.9L377.3 682.5L377.6 682.2L377.9 682.1L378.2 682.4L378.5 681.3L378.8 682.0L379.1 682.5L379.4 682.2L379.7 682.6L380.0 683.5L380.3 683.4L380.6 683.9L380.9 684.2L381.2 684.0L381.5 683.9L381.8 683.4L382.1 684.1L382.4 683.5L382.7 683.0L383.0 683.5L383.3 683.0L383.6 683.4L383.9 684.0L384.2 683.8L384.5 683.7L384.8 684.2L385.1 684.3L385.4 683.1L385.7 682.5L386.0 683.7L386.3 683.8L386.6 682.5L386.9 682.1L387.2 682.7L387.5 682.5L387.8 683.2L388.1 683.4L388.4 683.8L388.7 683.1L389.0 683.7L389.3 684.9L389.6 683.9L389.9 684.6L390.2 684.9L390.5 684.8L390.8 684.4L391.1 683.4L391.4 683.1L391.7 683.8L392.0 684.4L392.3 684.9L392.6 685.1L392.9 685.1L393.2 684.4L393.5 683.5L393.8 683.8L394.1 684.2L394.4 684.1L394.7 683.2L395.0 683.2L395.3 682.7L395.6 683.3L395.9 683.0L396.2 683.3L396.5 683.8L396.8 684.0L397.1 684.9L397.4 683.9L397.7 682.7L398.0 683.9L398.3 684.8L398.6 685.4L398.9 685.1L399.2 685.1L399.5 684.8L399.8 683.8L400.1 683.7L400.4 684.2L400.7 683.9L401.0 685.2L401.3 683.9L401.6 683.8L401.9 684.7L402.2 684.2L402.5 683.6L402.8 683.1L403.1 683.2L403.4 684.6L403.7 684.8L404.0 685.0L404.3 684.5L404.6 685.0L404.9 684.8L405.2 684.2L405.5 684.0L405.8 684.4L406.1 685.1L406.4 684.9L406.7 685.1L407.0 686.1L407.3 685.0L407.6 684.1L407.9 684.9L408.2 685.1L408.5 684.8L408.8 684.9L409.1 684.6L409.4 685.0L409.7 684.7L410.0 685.2L410.3 684.3L410.6 684.0L410.9 684.4L411.2 684.2L411.5 684.9L411.8 684.8L412.1 684.5L412.4 684.7L412.7 684.5L413.0 683.7L413.3 683.5L413.6 683.6L413.9 683.8L414.2 684.3L414.5 685.1L414.8 685.3L415.1 686.2L415.4 686.5L415.7 685.7L416.0 686.4L416.3 686.5L416.6 685.6L416.9 685.6L417.2 686.0L417.5 685.7L417.8 686.1L418.1 685.9L418.4 686.0L418.7 685.4L419.0 685.5L419.3 685.1L419.6 685.5L419.9 684.3L420.2 684.8L420.5 685.7L420.8 685.8L421.1 685.5L421.4 685.7L421.7 685.0L422.0 684.5L422.3 684.6L422.6 684.7L422.9 685.5L423.2 684.8L423.5 685.6L423.8 684.5L424.1 684.3L424.4 684.6L424.7 685.5L425.0 685.0L425.3 683.8L425.6 684.6L425.9 684.9L426.2 684.4L426.5 684.1L426.8 684.1L427.1 684.6L427.4 685.3L427.7 684.4L428.0 686.1L428.3 685.7L428.6 685.3L428.9 685.7L429.2 685.6L429.5 686.8L429.8 686.8L430.1 686.0L430.4 685.5L430.7 685.1L431.0 684.9L431.3 685.5L431.6 685.0L431.9 686.0L432.2 685.7L432.5 685.4L432.8 685.9L433.1 684.4L433.4 684.2L433.7 684.9L434.0 685.0L434.3 685.1L434.6 685.3L434.9 684.9L435.2 684.9L435.5 684.2L435.8 683.4L436.1 684.8L436.4 684.4L436.7 684.2L437.0 685.4L437.3 685.8L437.6 685.2L437.9 684.8L438.2 684.8L438.5 684.3L438.8 684.8L439.1 684.9L439.4 684.9L439.7 685.3L440.0 685.5L440.3 686.3L440.6 686.5L440.9 684.7L441.2 685.2L441.5 684.2L441.8 683.5L442.1 684.3L442.4 683.9L442.7 683.8L443.0 684.6L443.3 684.0L443.6 683.5L443.9 683.8L444.2 684.5L444.5 684.5L444.8 683.2L445.1 682.9L445.4 682.9L445.7 684.1L446.0 684.2L446.3 684.1L446.6 684.1L446.9 683.1L447.2 682.9L447.5 682.6L447.8 681.4L448.1 681.1L448.4 681.1L448.7 679.9L449.0 680.1L449.3 679.9L449.6 679.7L449.9 678.2L450.2 677.4L450.5 677.4L450.8 676.7L451.1 674.8L451.4 673.9L451.7 673.5L452.0 671.9L452.3 670.6L452.6 670.6L452.9 668.4L453.2 666.4L453.5 664.0L453.8 662.1L454.1 661.6L454.4 659.6L454.7 657.2L455.0 655.2L455.3 653.9L455.6 653.0L455.9 651.1L456.2 650.3L456.5 648.8L456.8 648.1L457.1 647.6L457.4 647.4L457.7 646.6L458.0 646.6L458.3 647.1L458.6 646.7L458.9 647.8L459.2 649.1L459.5 650.7L459.8 651.5L460.1 652.5L460.4 654.0L460.7 654.9L461.0 656.4L461.3 658.3L461.6 659.9L461.9 660.8L462.2 662.3L462.5 662.7L462.8 665.2L463.1 666.4L463.4 668.1L463.7 668.8L464.0 670.3L464.3 671.9L464.6 673.6L464.9 673.5L465.2 675.2L465.5 675.9L465.8 676.2L466.1 677.4L466.4 678.0L466.7 678.5L467.0 678.8L467.3 679.7L467.6 680.3L467.9 680.7L468.2 680.6L468.5 681.0L468.8 681.8L469.1 683.0L469.4 683.0L469.7 683.9L470.0 683.7L470.3 683.0L470.6 683.7L470.9 683.2L471.2 683.8L471.5 684.6L471.8 684.3L472.1 684.3L472.4 685.9L472.7 685.5L473.0 685.3L473.3 685.6L473.6 685.2L473.9 685.1L474.2 685.3L474.5 683.8L474.8 685.1L475.1 684.5L475.4 684.2L475.7 684.9L476.0 685.1L476.3 684.5L476.6 685.0L476.9 684.5L477.2 684.5L477.5 684.0L477.8 684.1L478.1 684.9L478.4 685.3L478.7 685.6L479.0 686.1L479.3 685.9L479.6 685.4L479.9 685.4L480.2 686.5L480.5 686.2L480.8 686.2L481.1 686.0L481.4 686.0L481.7 686.2L482.0 686.0L482.3 685.8L482.6 685.3L482.9 685.0L483.2 685.6L483.5 686.1L483.8 686.5L484.1 686.3L484.4 685.6L484.7 686.0L485.0 686.3L485.3 685.2L485.6 685.8L485.9 686.1L486.2 686.9L486.5 685.6L486.8 684.8L487.1 685.5L487.4 684.3L487.7 684.2L488.0 683.9L488.3 683.7L488.6 683.0L488.9 683.5L489.2 684.5L489.5 684.7L489.8 684.8L490.1 684.3L490.4 685.0L490.7 684.8L491.0 685.0L491.3 683.5L491.6 683.6L491.9 682.8L492.2 683.1L492.5 683.1L492.8 682.2L493.1 682.4L493.4 683.1L493.7 683.0L494.0 682.9L494.3 682.0L494.6 681.4L494.9 680.8L495.2 681.1L495.5 681.8L495.8 681.7L496.1 681.3L496.4 680.4L496.7 680.7L497.0 680.4L497.3 679.1L497.6 678.4L497.9 678.8L498.2 678.6L498.5 679.9L498.8 679.7L499.1 678.9L499.4 678.7L499.7 679.7L500.0 678.8L500.3 679.2L500.6 679.2L500.9 679.7L501.2 679.4L501.5 678.6L501.8 678.6L502.1 678.3L502.4 678.6L502.7 678.0L503.0 678.8L503.3 678.0L503.6 677.7L503.9 676.9L504.2 676.7L504.5 676.5L504.8 676.3L505.1 676.5L505.4 675.7L505.7 675.0L506.0 675.6L506.3 675.0L506.6 674.3L506.9 674.8L507.2 674.8L507.5 672.7L507.8 672.6L508.1 673.2L508.4 673.4L508.7 672.6L509.0 673.2L509.3 672.1L509.6 671.6L509.9 671.4L510.2 671.0L510.5 671.2L510.8 671.2L511.1 670.5L511.4 670.8L511.7 669.6L512.0 669.0L512.3 669.7L512.6 669.0L512.9 669.0L513.2 668.0L513.5 667.4L513.8 667.0L514.1 666.8L514.4 666.3L514.7 666.0L515.0 666.2L515.3 666.5L515.6 666.0L515.9 665.9L516.2 665.9L516.5 664.7L516.8 663.6L517.1 664.8L517.4 665.3L517.7 664.8L518.0 664.7L518.3 663.9L518.6 663.1L518.9 663.7L519.2 663.1L519.5 664.4L519.8 664.4L520.1 665.2L520.4 666.9L520.7 668.2L521.0 668.0L521.3 669.0L521.6 668.7L521.9 669.0L522.2 670.1L522.5 671.6L522.8 671.7L523.1 672.6L523.4 673.2L523.7 673.0L524.0 673.7L524.3 675.4L524.6 675.6L524.9 676.3L525.2 677.1L525.5 676.8L525.8 678.0L526.1 679.0L526.4 679.7L526.7 680.2L527.0 679.5L527.3 679.1L527.6 678.8L527.9 678.7L528.2 678.8L528.5 679.9L528.8 681.0L529.1 680.4L529.4 681.0L529.7 680.1L530.0 680.2L530.3 680.0L530.6 679.4L530.9 680.2L531.2 680.6L531.5 680.7L531.8 680.7L532.1 680.4L532.4 680.8L532.7 680.7L533.0 681.2L533.3 680.7L533.6 681.2L533.9 681.8L534.2 682.5L534.5 682.9L534.8 682.6L535.1 681.9L535.4 680.9L535.7 681.3L536.0 682.4L536.3 683.3L536.6 681.3L536.9 681.2L537.2 681.4L537.5 681.1L537.8 681.7L538.1 682.0L538.4 681.9L538.7 682.2L539.0 681.5L539.3 681.4L539.6 681.5L539.9 682.7L540.2 681.9L540.5 682.3L540.8 683.2L541.1 683.3L541.4 684.0L541.7 683.5L542.0 684.0L542.3 684.5L542.6 685.7L542.9 685.6L543.2 686.0L543.5 685.5L543.8 685.2L544.1 686.0L544.4 686.0L544.7 686.5L545.0 686.4L545.3 687.3L545.6 688.0L545.9 686.5L546.2 687.3L546.5 686.9L546.8 686.8L547.1 686.4L547.4 686.7L547.7 685.8L548.0 685.5L548.3 685.3L548.6 685.9L548.9 686.6L549.2 686.9L549.5 686.9L549.8 686.4L550.1 685.4L550.4 686.1L550.7 686.4L551.0 686.7L551.3 687.6L551.6 687.1L551.9 686.9L552.2 685.5L552.5 686.4L552.8 686.6L553.1 686.3L553.4 686.8L553.7 686.3L554.0 686.3L554.3 687.8L554.6 688.0L554.9 688.3L555.2 688.3L555.5 688.3L555.8 688.0L556.1 689.1L556.4 688.4L556.7 688.5L557.0 687.9L557.3 687.6L557.6 686.1L557.9 685.6L558.2 687.3L558.5 688.3L558.8 687.8L559.1 687.7L559.4 688.1L559.7 687.4L560.0 688.6L560.3 687.6L560.6 687.3L560.9 685.9L561.2 687.6L561.5 687.7L561.8 688.8L562.1 687.8L562.4 688.1L562.7 688.1L563.0 688.2L563.3 689.4L563.6 690.2L563.9 690.2L564.2 689.1L564.5 689.3L564.8 689.6L565.1 689.4L565.4 689.3L565.7 689.1L566.0 688.3L566.3 688.4L566.6 689.3L566.9 688.3L567.2 688.4L567.5 688.9L567.8 687.9L568.1 688.0L568.4 687.2L568.7 687.3L569.0 686.9L569.3 687.0L569.6 687.3L569.9 687.6L570.2 687.9L570.5 686.7L570.8 688.4L571.1 688.3L571.4 687.8L571.7 687.7L572.0 688.3L572.3 687.8L572.6 687.9L572.9 687.9L573.2 688.5L573.5 688.2L573.8 688.6L574.1 688.9L574.4 688.7L574.7 689.4L575.0 689.2L575.3 688.3L575.6 688.6L575.9 688.7L576.2 688.7L576.5 688.9L576.8 690.2L577.1 689.8L577.4 689.6L577.7 689.1L578.0 689.7L578.3 689.3L578.6 688.6L578.9 687.9L579.2 688.5L579.5 689.0L579.8 688.0L580.1 687.8L580.4 688.5L580.7 689.2L581.0 688.2L581.3 688.1L581.6 688.8L581.9 688.3L582.2 688.1L582.5 687.9L582.8 687.4L583.1 687.8L583.4 688.2L583.7 687.4L584.0 687.8L584.3 688.6L584.6 688.5L584.9 688.9L585.2 688.3L585.5 689.0L585.8 688.1L586.1 689.1L586.4 688.3L586.7 687.7L587.0 687.2L587.3 687.1L587.6 687.0L587.9 686.8L588.2 686.9L588.5 687.5L588.8 687.9L589.1 687.5L589.4 688.1L589.7 687.1L590.0 686.5L590.3 686.0L590.6 686.7L590.9 685.9L591.2 685.4L591.5 686.7L591.8 687.7L592.1 688.0L592.4 686.5L592.7 686.5L593.0 686.9L593.3 686.7L593.6 685.5L593.9 685.6L594.2 684.7L594.5 684.5L594.8 686.3L595.1 686.5L595.4 685.3L595.7 684.6L596.0 685.2L596.3 685.0L596.6 685.5L596.9 685.0L597.2 685.0L597.5 685.2L597.8 684.5L598.1 683.6L598.4 683.4L598.7 683.6L599.0 683.9L599.3 684.2L599.6 684.3L599.9 684.7L600.2 684.1L600.5 685.0L600.8 685.9L601.1 685.4L601.4 685.0L601.7 685.3L602.0 685.1L602.3 684.7L602.6 684.1L602.9 683.4L603.2 682.7L603.5 683.3L603.8 684.0L604.1 682.9L604.4 682.9L604.7 682.9L605.0 682.6L605.3 682.1L605.6 681.9L605.9 680.8L606.2 681.3L606.5 681.3L606.8 682.7L607.1 682.8L607.4 682.0L607.7 681.7L608.0 682.4L608.3 682.7L608.6 682.0L608.9 681.3L609.2 680.0L609.5 679.9L609.8 679.8L610.1 679.3L610.4 680.4L610.7 678.9L611.0 678.9L611.3 679.2L611.6 679.2L611.9 680.0L612.2 678.5L612.5 677.9L612.8 678.0L613.1 678.0L613.4 677.6L613.7 677.0L614.0 677.7L614.3 676.8L614.6 676.5L614.9 677.4L615.2 678.1L615.5 677.9L615.8 676.7L616.1 675.9L616.4 675.4L616.7 674.9L617.0 674.9L617.3 675.9L617.6 675.9L617.9 675.2L618.2 674.8L618.5 674.3L618.8 675.4L619.1 674.1L619.4 674.7L619.7 674.0L620.0 673.8L620.3 673.5L620.6 674.8L620.9 675.0L621.2 676.9L621.5 675.9L621.8 675.3L622.1 676.1L622.4 676.7L622.7 676.6L623.0 675.7L623.3 677.3L623.6 677.9L623.9 678.3L624.2 678.1L624.5 678.8L624.8 678.6L625.1 679.0L625.4 679.3L625.7 680.4L626.0 680.2L626.3 680.2L626.6 681.2L626.9 681.4L627.2 681.5L627.5 681.5L627.8 682.3L628.1 682.0L628.4 682.5L628.7 683.8L629.0 683.7L629.3 683.1L629.6 682.5L629.9 683.0L630.2 682.6L630.5 682.1L630.8 682.5L631.1 682.5L631.4 683.7L631.7 683.2L632.0 684.6L632.3 684.2L632.6 684.5L632.9 685.0L633.2 685.1L633.5 685.5L633.8 684.8L634.1 683.6L634.4 684.1L634.7 683.6L635.0 684.0L635.3 685.1L635.6 685.1L635.9 685.0L636.2 684.5L636.5 684.8L636.8 685.0L637.1 684.4L637.4 685.1L637.7 684.7L638.0 685.3L638.3 685.3L638.6 686.1L638.9 686.5L639.2 686.3L639.5 686.1L639.8 686.3L640.1 687.0L640.4 687.3L640.7 686.9L641.0 686.8L641.3 687.5L641.6 686.1L641.9 686.5L642.2 685.9L642.5 686.9L642.8 686.5L643.1 686.4L643.4 685.9L643.7 686.2L644.0 686.9L644.3 687.8L644.6 686.7L644.9 686.5L645.2 689.0L645.5 688.8L645.8 688.1L646.1 688.0L646.4 686.1L646.7 687.5L647.0 687.5L647.3 686.6L647.6 687.6L647.9 687.2L648.2 686.7L648.5 687.4L648.8 687.7L649.1 687.5L649.4 687.5L649.7 686.8L650.0 686.4L650.3 687.5L650.6 688.5L650.9 688.6L651.2 688.6L651.5 688.2L651.8 688.1L652.1 687.6L652.4 688.9L652.7 688.3L653.0 688.6L653.3 688.5L653.6 687.6L653.9 689.1L654.2 688.6L654.5 688.1L654.8 688.3L655.1 687.9L655.4 688.2L655.7 687.8L656.0 688.5L656.3 688.6L656.6 687.8L656.9 688.8L657.2 688.9L657.5 688.2L657.8 688.6L658.1 689.0L658.4 690.0L658.7 689.1L659.0 689.5L659.3 689.2L659.6 689.5L659.9 689.1L660.2 689.0L660.5 689.3L660.8 688.5L661.1 687.5L661.4 688.1L661.7 688.3L662.0 688.7L662.3 689.2L662.6 689.1L662.9 689.9L663.2 689.6L663.5 689.5L663.8 689.9L664.1 690.0L664.4 689.7L664.7 689.6L665.0 689.1L665.3 688.8L665.6 689.1L665.9 689.7L666.2 689.4L666.5 689.9L666.8 690.9L667.1 691.6L667.4 690.8L667.7 691.0L668.0 690.8L668.3 690.8L668.6 690.8L668.9 690.7L669.2 690.8L669.5 690.5L669.8 690.0L670.1 690.0L670.4 690.2L670.7 690.8L671.0 690.6L671.3 690.7L671.6 691.2L671.9 690.1L672.2 689.8L672.5 690.2L672.8 690.1L673.1 689.4L673.4 690.2L673.7 690.0L674.0 689.4L674.3 690.7L674.6 689.7L674.9 689.8L675.2 689.5L675.5 689.7L675.8 690.2L676.1 689.6L676.4 689.7L676.7 689.8L677.0 689.3L677.3 690.3L677.6 690.3L677.9 690.0L678.2 689.6L678.5 689.6L678.8 689.9L679.1 689.7L679.4 690.6L679.7 688.9L680.0 688.1L680.3 688.8L680.6 688.2L680.9 688.9L681.2 689.0L681.5 689.8L681.8 690.2L682.1 691.0L682.4 691.2L682.7 691.6L683.0 691.3L683.3 691.5L683.6 691.3L683.9 690.5L684.2 689.7L684.5 689.2L684.8 689.9L685.1 688.6L685.4 689.4L685.7 689.3L686.0 690.1L686.3 690.3L686.6 689.9L686.9 690.1L687.2 688.8L687.5 689.6L687.8 690.2L688.1 689.1L688.4 690.1L688.7 690.2L689.0 690.3L689.3 689.5L689.6 690.2L689.9 690.6L690.2 690.5L690.5 689.9L690.8 690.6L691.1 691.2L691.4 691.2L691.7 691.5L692.0 690.7L692.3 690.7L692.6 690.8L692.9 690.8L693.2 692.3L693.5 691.9L693.8 691.0L694.1 691.3L694.4 690.3L694.7 690.6L695.0 691.1L695.3 690.6L695.6 690.4L695.9 689.9L696.2 690.3L696.5 690.0L696.8 691.3L697.1 691.4L697.4 690.9L697.7 690.0L698.0 691.5L698.3 691.9L698.6 691.7L698.9 691.4L699.2 691.2L699.5 690.7L699.8 691.8L700.1 691.5L700.4 690.3L700.7 690.1L701.0 688.8L701.3 689.9L701.6 690.7L701.9 691.8L702.2 692.6L702.5 691.4L702.8 691.4L703.1 691.7L703.4 691.8L703.7 691.1L704.0 691.4L704.3 691.4L704.6 692.0L704.9 691.5L705.2 691.0L705.5 690.6L705.8 690.5L706.1 690.1L706.4 690.2L706.7 690.7L707.0 691.0L707.3 691.7L707.6 692.0L707.9 691.9L708.2 690.7L708.5 691.1L708.8 691.7L709.1 690.5L709.4 690.0L709.7 689.7L710.0 689.5L710.3 689.8L710.6 689.7L710.9 690.3L711.2 689.8L711.5 690.1L711.8 690.1L712.1 689.8L712.4 690.8L712.7 690.8L713.0 691.1L713.3 690.8L713.6 691.2L713.9 691.4L714.2 691.1L714.5 689.9L714.8 690.7L715.1 691.2L715.4 691.1L715.7 691.1L716.0 691.1L716.3 691.1L716.6 690.4L716.9 690.5L717.2 690.8L717.5 690.4L717.8 690.0L718.1 691.4L718.4 691.5L718.7 691.0L719.0 690.6L719.3 689.1L719.6 688.9L719.9 689.5L720.2 690.8L720.5 689.6L720.8 689.6L721.1 691.2L721.4 691.4L721.7 691.4L722.0 691.9L722.3 691.3L722.6 691.0L722.9 691.3L723.2 691.6L723.5 690.6L723.8 691.6L724.1 690.2L724.4 690.0L724.7 692.1L725.0 691.2L725.3 691.4L725.6 690.5L725.9 690.4L726.2 690.1L726.5 690.1L726.8 690.7L727.1 691.7L727.4 691.8L727.7 692.2L728.0 691.3L728.3 691.9L728.6 691.7L728.9 692.0L729.2 691.2L729.5 690.8L729.8 691.5L730.1 691.5L730.4 691.1L730.7 690.5L731.0 690.4L731.3 690.7L731.6 691.0L731.9 690.4L732.2 690.2L732.5 690.5L732.8 689.8L733.1 690.6L733.4 690.5L733.7 690.3L734.0 688.9L734.3 688.5L734.6 688.5L734.9 688.8L735.2 688.7L735.5 689.5L735.8 689.8L736.1 689.8L736.4 688.7L736.7 690.1L737.0 689.9L737.3 690.3L737.6 689.8L737.9 689.9L738.2 690.3L738.5 690.3L738.8 690.7L739.1 690.2L739.4 691.2L739.7 689.5L740.0 689.2L740.3 689.9L740.6 689.6L740.9 689.3L741.2 688.3L741.5 689.4L741.8 688.2L742.1 688.9L742.4 689.1L742.7 689.6L743.0 690.2L743.3 689.3L743.6 688.6L743.9 688.5L744.2 687.6L744.5 688.5L744.8 688.4L745.1 688.6L745.4 687.9L745.7 688.2L746.0 688.0L746.3 688.2L746.6 687.8L746.9 688.8L747.2 688.4L747.5 687.0L747.8 688.1L748.1 688.3L748.4 688.0L748.7 689.9L749.0 689.6L749.3 688.6L749.6 688.5L749.9 689.0L750.2 689.1L750.5 690.0L750.8 690.4L751.1 689.6L751.4 689.7L751.7 690.1L752.0 689.8L752.3 689.6L752.6 690.3L752.9 690.5L753.2 689.5L753.5 689.5L753.8 689.6L754.1 689.8L754.4 689.6L754.7 690.8L755.0 690.1L755.3 689.6L755.6 690.1L755.9 689.0L756.2 689.0L756.5 690.0L756.8 689.5L757.1 689.4L757.4 690.6L757.7 690.9L758.0 690.9L758.3 691.0L758.6 690.5L758.9 690.8L759.2 690.7L759.5 692.2L759.8 692.0L760.1 691.3L760.4 691.1L760.7 691.1L761.0 690.2L761.3 690.0L761.6 691.3L761.9 690.3L762.2 690.2L762.5 691.1L762.8 692.0L763.1 691.0L763.4 691.9L763.7 691.3L764.0 692.2L764.3 692.1L764.6 691.5L764.9 691.8L765.2 691.8L765.5 691.1L765.8 692.4L766.1 691.7L766.4 692.2L766.7 691.5L767.0 690.3L767.3 690.0L767.6 690.4L767.9 691.1L768.2 692.2L768.5 691.9L768.8 691.5L769.1 690.7L769.4 690.9L769.7 691.2L770.0 689.9L770.3 691.3L770.6 692.0L770.9 693.1L771.2 691.8L771.5 691.7L771.8 691.5L772.1 690.7L772.4 690.4L772.7 690.2L773.0 691.0L773.3 691.4L773.6 692.2L773.9 691.6L774.2 690.7L774.5 691.3L774.8 691.5L775.1 691.9L775.4 692.4L775.7 691.7L776.0 692.1L776.3 691.2L776.6 691.4L776.9 691.8L777.2 691.6L777.5 691.7L777.8 690.8L778.1 690.7L778.4 691.1L778.7 690.5L779.0 690.4L779.3 692.3L779.6 692.1L779.9 691.4L780.2 690.8L780.5 691.9L780.8 690.1L781.1 690.5L781.4 691.2L781.7 691.0L782.0 691.5L782.3 690.9L782.6 691.1L782.9 691.3L783.2 691.4L783.5 691.5L783.8 691.5L784.1 692.2L784.4 691.7L784.7 691.3L785.0 691.2L785.3 691.1L785.6 690.4L785.9 689.7L786.2 689.6L786.5 690.5L786.8 690.5L787.1 690.7L787.4 692.7L787.7 692.9L788.0 692.2L788.3 691.6L788.6 692.4L788.9 691.6L789.2 692.3L789.5 692.3L789.8 692.8L790.1 691.9L790.4 692.3L790.7 690.9L791.0 691.0L791.3 691.9L791.6 692.2L791.9 690.8L792.2 691.5L792.5 691.8L792.8 691.6L793.1 691.2L793.4 691.1L793.7 690.9L794.0 691.7L794.3 691.9L794.6 692.4L794.9 692.4L795.2 691.3L795.5 691.4L795.8 692.7L796.1 691.6L796.4 691.7L796.7 691.1L797.0 690.7L797.3 691.1L797.6 691.8L797.9 692.1L798.2 692.1L798.5 692.3L798.8 690.9L799.1 691.6L799.4 691.7L799.7 691.4L800.0 691.3L800.3 690.7L800.6 691.6L800.9 690.9L801.2 690.1L801.5 690.5L801.8 690.3L802.1 690.5L802.4 691.5L802.7 691.1L803.0 691.0L803.3 692.2L803.6 690.7L803.9 690.8L804.2 691.3L804.5 691.7L804.8 692.4L805.1 691.0L805.4 690.8L805.7 690.2L806.0 689.5L806.3 688.8L806.6 687.7L806.9 688.0L807.2 688.2L807.5 686.9L807.8 686.9L808.1 685.6L808.4 684.0L808.7 681.4L809.0 681.3L809.3 680.1L809.6 677.6L809.9 675.0L810.2 671.6L810.5 669.5L810.8 666.8L811.1 664.9L811.4 663.3L811.7 661.7L812.0 661.5L812.3 663.7L812.6 664.9L812.9 668.0L813.2 671.4L813.5 673.0L813.8 676.0L814.1 678.2L814.4 680.3L814.7 681.4L815.0 682.8L815.3 684.2L815.6 686.1L815.9 686.8L816.2 687.3L816.5 686.6L816.8 687.2L817.1 687.1L817.4 687.4L817.7 687.9L818.0 688.6L818.3 688.9L818.6 688.8L818.9 688.7L819.2 689.4L819.5 688.6L819.8 688.6L820.1 689.5L820.4 689.0L820.7 689.4L821.0 689.6L821.3 690.4L821.6 690.4L821.9 688.6L822.2 688.6L822.5 688.7L822.8 689.0L823.1 688.9L823.4 689.7L823.7 689.6L824.0 688.1L824.3 687.4L824.6 686.0L824.9 687.3L825.2 686.7L825.5 686.1L825.8 684.6L826.1 684.0L826.4 683.8L826.7 682.7L827.0 681.5L827.3 680.0L827.6 680.1L827.9 677.9L828.2 675.3L828.5 673.7L828.8 672.2L829.1 670.9L829.4 669.7L829.7 668.5L830.0 668.5L830.3 669.2L830.6 669.2L830.9 671.8L831.2 673.9L831.5 673.8L831.8 675.2L832.1 677.6L832.4 679.7L832.7 681.8L833.0 681.4L833.3 681.9L833.6 683.0L833.9 684.6L834.2 684.8L834.5 686.1L834.8 687.1L835.1 688.0L835.4 687.5L835.7 688.3L836.0 688.7L836.3 688.8L836.6 690.0L836.9 689.8L837.2 690.8L837.5 690.2L837.8 691.3L838.1 692.0L838.4 691.0L838.7 691.1L839.0 691.2L839.3 690.5L839.6 691.2L839.9 691.6L840.2 690.9L840.5 691.1L840.8 691.8L841.1 691.6L841.4 691.1L841.7 692.3L842.0 691.4L842.3 691.8L842.6 692.4L842.9 692.7L843.2 691.2L843.5 691.3L843.8 691.5L844.1 691.6L844.4 692.1L844.7 692.4L845.0 692.4L845.3 692.5L845.6 693.0L845.9 693.4L846.2 691.8L846.5 693.4L846.8 692.6L847.1 693.0L847.4 691.8L847.7 691.7L848.0 691.3L848.3 692.4L848.6 693.0L848.9 692.8L849.2 692.6L849.5 692.9L849.8 692.2L850.1 692.0L850.4 691.8L850.7 692.7L851.0 692.7L851.3 692.0L851.6 692.5L851.9 692.9L852.2 693.7L852.5 693.0L852.8 693.2L853.1 694.3L853.4 693.6L853.7 693.1L854.0 693.3L854.3 692.9L854.6 692.9L854.9 692.6L855.2 692.3L855.5 693.1L855.8 692.9L856.1 692.3L856.4 692.5L856.7 692.6L857.0 693.0L857.3 693.6L857.6 694.5L857.9 693.2L858.2 693.1L858.5 692.0L858.8 692.6L859.1 693.2L859.4 692.8L859.7 692.4L860.0 692.2L860.3 691.7L860.6 692.7L860.9 694.1L861.2 693.1L861.5 694.1L861.8 693.7L862.1 692.7L862.4 693.3L862.7 693.8L863.0 693.8L863.3 693.5L863.6 694.5L863.9 693.9L864.2 694.1L864.5 694.2L864.8 693.3L865.1 692.3L865.4 691.7L865.7 692.2L866.0 692.9L866.3 692.1L866.6 692.2L866.9 693.6L867.2 692.5L867.5 693.2L867.8 693.5L868.1 694.0L868.4 692.9L868.7 693.4L869.0 692.6L869.3 693.8L869.6 693.2L869.9 693.6L870.2 693.1L870.5 693.4L870.8 692.6L871.1 693.2L871.4 693.7L871.7 693.7L872.0 694.7L872.3 694.5L872.6 694.6L872.9 694.6L873.2 695.4L873.5 694.3L873.8 693.9L874.1 693.7L874.4 694.1" fill="none" stroke="#000" stroke-width="3.00" stroke-linejoin="round" stroke-linecap="butt"/>
</g>
<g id="bot">
<path d="M55.4 1092.2L55.7 1090.7L56.0 1093.3L56.3 1096.1L56.6 1099.2L56.9 1097.3L57.2 1094.8L57.5 1093.2L57.8 1097.1L58.1 1101.0L58.4 1098.4L58.7 1093.3L59.0 1092.2L59.3 1099.2L59.6 1097.7L59.9 1091.6L60.2 1094.2L60.5 1092.0L60.8 1092.8L61.1 1093.5L61.4 1093.1L61.7 1096.6L62.0 1096.0L62.3 1094.3L62.6 1096.6L62.9 1098.6L63.2 1092.2L63.5 1094.0L63.8 1092.5L64.1 1094.3L64.4 1091.8L64.7 1094.6L65.0 1095.4L65.3 1095.0L65.6 1092.7L65.9 1093.7L66.2 1092.1L66.5 1090.8L66.8 1094.9L67.1 1092.5L67.4 1098.1L67.7 1098.8L68.0 1091.3L68.3 1095.2L68.6 1092.6L68.9 1094.9L69.2 1095.8L69.5 1090.2L69.8 1093.3L70.1 1094.3L70.4 1098.2L70.7 1093.4L71.0 1097.2L71.3 1093.2L71.6 1094.0L71.9 1092.9L72.2 1099.0L72.5 1098.6L72.8 1103.8L73.1 1100.5L73.4 1099.9L73.7 1099.7L74.0 1095.4L74.3 1095.5L74.6 1099.6L74.9 1096.0L75.2 1096.4L75.5 1095.9L75.8 1097.5L76.1 1095.3L76.4 1095.1L76.7 1096.2L77.0 1096.1L77.3 1093.3L77.6 1097.4L77.9 1092.5L78.2 1091.1L78.5 1090.3L78.8 1096.5L79.1 1094.8L79.4 1092.5L79.7 1091.2L80.0 1095.2L80.3 1092.4L80.6 1090.7L80.9 1095.6L81.2 1092.0L81.5 1093.3L81.8 1094.7L82.1 1093.9L82.4 1094.7L82.7 1099.0L83.0 1095.2L83.3 1091.7L83.6 1088.8L83.9 1092.5L84.2 1093.3L84.5 1095.4L84.8 1094.0L85.1 1093.5L85.4 1092.6L85.7 1092.9L86.0 1094.9L86.3 1094.1L86.6 1095.1L86.9 1100.7L87.2 1098.5L87.5 1091.9L87.8 1099.0L88.1 1097.5L88.4 1093.3L88.7 1097.1L89.0 1095.8L89.3 1093.6L89.6 1092.7L89.9 1091.3L90.2 1093.8L90.5 1097.6L90.8 1094.9L91.1 1096.0L91.4 1100.5L91.7 1093.2L92.0 1094.8L92.3 1093.6L92.6 1091.0L92.9 1090.1L93.2 1092.6L93.5 1094.6L93.8 1092.5L94.1 1093.3L94.4 1095.4L94.7 1094.9L95.0 1096.2L95.3 1095.4L95.6 1095.1L95.9 1098.7L96.2 1096.4L96.5 1094.0L96.8 1094.8L97.1 1090.2L97.4 1090.2L97.7 1093.3L98.0 1093.8L98.3 1096.5L98.6 1092.9L98.9 1087.3L99.2 1095.0L99.5 1095.2L99.8 1088.9L100.1 1093.6L100.4 1091.3L100.7 1085.1L101.0 1086.8L101.3 1087.1L101.6 1093.1L101.9 1088.2L102.2 1088.0L102.5 1087.7L102.8 1087.2L103.1 1085.4L103.4 1087.9L103.7 1091.2L104.0 1090.9L104.3 1086.2L104.6 1083.9L104.9 1086.5L105.2 1085.0L105.5 1084.6L105.8 1081.3L106.1 1090.4L106.4 1090.5L106.7 1085.0L107.0 1088.4L107.3 1090.7L107.6 1080.6L107.9 1082.3L108.2 1083.2L108.5 1086.3L108.8 1085.1L109.1 1084.2L109.4 1084.2L109.7 1089.5L110.0 1092.1L110.3 1085.2L110.6 1081.4L110.9 1090.3L111.2 1082.7L111.5 1081.0L111.8 1082.0L112.1 1083.5L112.4 1085.3L112.7 1084.0L113.0 1079.6L113.3 1081.9L113.6 1081.7L113.9 1086.1L114.2 1081.9L114.5 1076.4L114.8 1075.1L115.1 1081.5L115.4 1077.7L115.7 1071.6L116.0 1073.5L116.3 1075.5L116.6 1079.3L116.9 1074.0L117.2 1076.6L117.5 1077.5L117.8 1073.2L118.1 1072.8L118.4 1077.9L118.7 1079.1L119.0 1076.7L119.3 1074.0L119.6 1074.9L119.9 1071.2L120.2 1069.6L120.5 1066.4L120.8 1067.4L121.1 1067.0L121.4 1074.7L121.7 1068.4L122.0 1069.9L122.3 1070.2L122.6 1065.5L122.9 1067.2L123.2 1057.7L123.5 1060.4L123.8 1062.9L124.1 1053.9L124.4 1053.7L124.7 1059.4L125.0 1056.9L125.3 1053.0L125.6 1052.9L125.9 1051.6L126.2 1054.0L126.5 1053.1L126.8 1049.8L127.1 1046.5L127.4 1046.1L127.7 1048.8L128.0 1045.8L128.3 1044.3L128.6 1040.3L128.9 1034.2L129.2 1032.3L129.5 1034.0L129.8 1031.3L130.1 1025.8L130.4 1019.9L130.7 1020.8L131.0 1017.6L131.3 1014.2L131.6 1010.5L131.9 1008.7L132.2 1005.9L132.5 1004.6L132.8 1001.6L133.1 998.8L133.4 993.0L133.7 983.5L134.0 976.0L134.3 956.9L134.6 942.8L134.9 932.9L135.2 924.2L135.5 909.0L135.8 894.7L136.1 891.9L136.4 881.4L136.7 873.6L137.0 858.9L137.3 858.2L137.6 851.4L137.9 842.8L138.2 834.5L138.5 827.3L138.8 819.2L139.1 812.6L139.4 805.5L139.7 808.6L140.0 806.1L140.3 806.8L140.6 809.3L140.9 806.3L141.2 817.5L141.5 823.7L141.8 831.3L142.1 838.5L142.4 840.5L142.7 848.2L143.0 847.9L143.3 848.4L143.6 850.1L143.9 855.5L144.2 861.8L144.5 863.9L144.8 866.1L145.1 877.5L145.4 878.7L145.7 888.8L146.0 892.0L146.3 894.7L146.6 899.5L146.9 908.3L147.2 917.8L147.5 925.5L147.8 939.5L148.1 955.3L148.4 961.0L148.7 967.8L149.0 973.9L149.3 977.8L149.6 984.3L149.9 989.0L150.2 991.4L150.5 999.9L150.8 996.0L151.1 1000.4L151.4 1013.5L151.7 1017.2L152.0 1018.9L152.3 1021.1L152.6 1027.2L152.9 1027.4L153.2 1027.7L153.5 1025.5L153.8 1029.5L154.1 1030.4L154.4 1032.2L154.7 1034.1L155.0 1038.1L155.3 1039.8L155.6 1045.0L155.9 1041.6L156.2 1044.7L156.5 1052.4L156.8 1050.6L157.1 1053.9L157.4 1055.6L157.7 1057.3L158.0 1056.9L158.3 1051.2L158.6 1053.0L158.9 1053.7L159.2 1051.1L159.5 1053.8L159.8 1052.8L160.1 1051.7L160.4 1057.0L160.7 1058.5L161.0 1057.4L161.3 1056.6L161.6 1057.7L161.9 1058.8L162.2 1059.3L162.5 1060.7L162.8 1060.2L163.1 1062.6L163.4 1063.9L163.7 1064.1L164.0 1061.3L164.3 1060.6L164.6 1063.4L164.9 1062.7L165.2 1063.0L165.5 1056.1L165.8 1053.2L166.1 1060.9L166.4 1063.7L166.7 1067.7L167.0 1067.3L167.3 1065.7L167.6 1064.6L167.9 1060.2L168.2 1065.3L168.5 1062.9L168.8 1065.3L169.1 1065.3L169.4 1065.6L169.7 1067.6L170.0 1064.3L170.3 1063.6L170.6 1062.0L170.9 1062.9L171.2 1069.2L171.5 1065.6L171.8 1068.8L172.1 1069.0L172.4 1068.8L172.7 1069.0L173.0 1063.9L173.3 1066.2L173.6 1070.5L173.9 1065.5L174.2 1065.7L174.5 1063.9L174.8 1066.2L175.1 1063.1L175.4 1069.7L175.7 1066.4L176.0 1061.9L176.3 1069.9L176.6 1070.4L176.9 1069.3L177.2 1069.0L177.5 1066.4L177.8 1065.9L178.1 1068.4L178.4 1069.9L178.7 1070.5L179.0 1068.6L179.3 1066.1L179.6 1066.0L179.9 1069.7L180.2 1071.9L180.5 1067.6L180.8 1065.8L181.1 1070.1L181.4 1070.1L181.7 1070.0L182.0 1064.3L182.3 1064.9L182.6 1064.8L182.9 1066.8L183.2 1062.1L183.5 1068.9L183.8 1068.6L184.1 1068.8L184.4 1064.3L184.7 1066.0L185.0 1070.5L185.3 1063.8L185.6 1066.8L185.9 1069.0L186.2 1065.8L186.5 1069.0L186.8 1066.8L187.1 1070.5L187.4 1069.8L187.7 1068.7L188.0 1073.4L188.3 1071.7L188.6 1072.4L188.9 1065.5L189.2 1064.7L189.5 1068.6L189.8 1070.2L190.1 1067.9L190.4 1069.5L190.7 1064.8L191.0 1066.8L191.3 1063.6L191.6 1066.7L191.9 1065.4L192.2 1064.4L192.5 1066.1L192.8 1071.7L193.1 1065.5L193.4 1064.5L193.7 1068.9L194.0 1066.1L194.3 1071.4L194.6 1068.8L194.9 1067.5L195.2 1067.8L195.5 1071.8L195.8 1070.1L196.1 1069.0L196.4 1067.9L196.7 1062.2L197.0 1062.2L197.3 1068.9L197.6 1069.3L197.9 1068.5L198.2 1068.6L198.5 1065.2L198.8 1066.5L199.1 1063.4L199.4 1065.9L199.7 1063.6L200.0 1064.2L200.3 1066.3L200.6 1064.7L200.9 1067.0L201.2 1067.1L201.5 1066.9L201.8 1069.5L202.1 1062.4L202.4 1059.5L202.7 1064.8L203.0 1067.5L203.3 1071.5L203.6 1069.3L203.9 1068.6L204.2 1063.5L204.5 1066.3L204.8 1067.0L205.1 1062.3L205.4 1061.0L205.7 1062.8L206.0 1064.5L206.3 1055.8L206.6 1061.4L206.9 1063.7L207.2 1063.3L207.5 1064.4L207.8 1065.3L208.1 1061.4L208.4 1064.1L208.7 1063.1L209.0 1060.7L209.3 1063.1L209.6 1067.6L209.9 1060.7L210.2 1057.7L210.5 1056.6L210.8 1066.6L211.1 1063.7L211.4 1063.2L211.7 1060.9L212.0 1059.7L212.3 1056.1L212.6 1061.1L212.9 1063.1L213.2 1057.3L213.5 1058.0L213.8 1059.0L214.1 1061.4L214.4 1063.0L214.7 1066.0L215.0 1067.7L215.3 1067.4L215.6 1068.1L215.9 1061.0L216.2 1060.3L216.5 1064.8L216.8 1063.9L217.1 1062.7L217.4 1056.6L217.7 1054.7L218.0 1061.3L218.3 1062.5L218.6 1061.0L218.9 1060.0L219.2 1055.9L219.5 1060.3L219.8 1063.7L220.1 1066.5L220.4 1062.9L220.7 1060.8L221.0 1057.4L221.3 1062.8L221.6 1065.9L221.9 1060.3L222.2 1060.8L222.5 1060.3L222.8 1058.2L223.1 1051.8L223.4 1055.6L223.7 1059.6L224.0 1055.0L224.3 1055.0L224.6 1047.9L224.9 1058.4L225.2 1059.7L225.5 1058.7L225.8 1057.4L226.1 1055.7L226.4 1056.6L226.7 1056.1L227.0 1055.9L227.3 1056.3L227.6 1056.8L227.9 1060.9L228.2 1053.6L228.5 1055.8L228.8 1053.8L229.1 1051.6L229.4 1047.1L229.7 1053.9L230.0 1051.6L230.3 1051.3L230.6 1054.6L230.9 1051.1L231.2 1053.0L231.5 1053.2L231.8 1055.7L232.1 1057.1L232.4 1052.1L232.7 1055.3L233.0 1053.4L233.3 1053.3L233.6 1052.2L233.9 1054.5L234.2 1049.4L234.5 1051.7L234.8 1054.9L235.1 1051.6L235.4 1056.8L235.7 1050.5L236.0 1050.6L236.3 1048.3L236.6 1046.7L236.9 1044.2L237.2 1044.5L237.5 1045.4L237.8 1043.0L238.1 1046.3L238.4 1048.6L238.7 1039.9L239.0 1042.8L239.3 1041.2L239.6 1040.0L239.9 1045.1L240.2 1042.5L240.5 1038.5L240.8 1036.0L241.1 1028.1L241.4 1033.5L241.7 1030.9L242.0 1032.9L242.3 1033.6L242.6 1036.7L242.9 1041.4L243.2 1040.6L243.5 1041.9L243.8 1038.7L244.1 1040.3L244.4 1042.5L244.7 1037.7L245.0 1046.7L245.3 1042.7L245.6 1040.3L245.9 1048.4L246.2 1053.3L246.5 1047.4L246.8 1046.1L247.1 1056.8L247.4 1052.4L247.7 1045.3L248.0 1047.0L248.3 1055.5L248.6 1054.9L248.9 1055.2L249.2 1056.9L249.5 1056.2L249.8 1053.2L250.1 1048.7L250.4 1053.2L250.7 1050.4L251.0 1052.6L251.3 1058.7L251.6 1057.4L251.9 1055.7L252.2 1055.2L252.5 1057.1L252.8 1058.3L253.1 1052.4L253.4 1054.8L253.7 1060.0L254.0 1059.2L254.3 1054.6L254.6 1053.3L254.9 1049.0L255.2 1051.1L255.5 1058.8L255.8 1056.8L256.1 1053.9L256.4 1053.7L256.7 1055.0L257.0 1055.5L257.3 1055.0L257.6 1053.7L257.9 1057.3L258.2 1061.1L258.5 1056.5L258.8 1054.9L259.1 1059.4L259.4 1053.3L259.7 1053.7L260.0 1054.5L260.3 1056.3L260.6 1055.7L260.9 1053.7L261.2 1056.4L261.5 1053.1L261.8 1050.4L262.1 1048.6L262.4 1055.9L262.7 1051.3L263.0 1056.0L263.3 1058.2L263.6 1059.4L263.9 1057.0L264.2 1055.0L264.5 1056.1L264.8 1054.6L265.1 1052.0L265.4 1058.4L265.7 1054.4L266.0 1060.7L266.3 1059.2L266.6 1055.8L266.9 1057.2L267.2 1059.9L267.5 1053.3L267.8 1052.3L268.1 1051.5L268.4 1054.7L268.7 1056.4L269.0 1055.9L269.3 1053.5L269.6 1053.2L269.9 1057.9L270.2 1059.3L270.5 1056.9L270.8 1051.9L271.1 1055.6L271.4 1055.8L271.7 1055.7L272.0 1059.9L272.3 1058.6L272.6 1052.9L272.9 1050.9L273.2 1056.8L273.5 1055.4L273.8 1056.8L274.1 1054.3L274.4 1050.9L274.7 1053.3L275.0 1057.7L275.3 1055.6L275.6 1050.5L275.9 1051.0L276.2 1050.5L276.5 1052.1L276.8 1055.0L277.1 1058.5L277.4 1054.7L277.7 1051.3L278.0 1051.4L278.3 1051.0L278.6 1049.5L278.9 1050.0L279.2 1049.9L279.5 1046.3L279.8 1049.7L280.1 1048.1L280.4 1045.5L280.7 1048.5L281.0 1046.4L281.3 1051.8L281.6 1049.7L281.9 1047.5L282.2 1043.9L282.5 1043.2L282.8 1046.1L283.1 1042.3L283.4 1044.5L283.7 1036.6L284.0 1039.8L284.3 1042.0L284.6 1040.7L284.9 1038.5L285.2 1039.8L285.5 1034.0L285.8 1030.6L286.1 1031.4L286.4 1033.7L286.7 1031.1L287.0 1027.0L287.3 1025.5L287.6 1023.7L287.9 1016.5L288.2 1007.7L288.5 1007.6L288.8 1004.1L289.1 1003.2L289.4 998.5L289.7 995.2L290.0 995.0L290.3 990.9L290.6 986.0L290.9 985.9L291.2 976.4L291.5 969.8L291.8 968.8L292.1 958.2L292.4 949.7L292.7 952.1L293.0 947.3L293.3 944.0L293.6 940.9L293.9 939.3L294.2 934.0L294.5 933.2L294.8 930.5L295.1 934.1L295.4 937.0L295.7 937.9L296.0 943.7L296.3 954.8L296.6 949.7L296.9 956.6L297.2 962.4L297.5 968.0L297.8 967.8L298.1 976.6L298.4 981.3L298.7 983.8L299.0 987.1L299.3 992.8L299.6 999.6L299.9 1004.5L300.2 1012.8L300.5 1010.5L300.8 1014.8L301.1 1015.5L301.4 1021.3L301.7 1023.4L302.0 1023.9L302.3 1023.7L302.6 1026.8L302.9 1032.4L303.2 1039.3L303.5 1041.1L303.8 1037.3L304.1 1039.2L304.4 1042.5L304.7 1044.3L305.0 1046.4L305.3 1050.1L305.6 1050.7L305.9 1049.1L306.2 1045.8L306.5 1050.0L306.8 1048.3L307.1 1052.8L307.4 1056.3L307.7 1053.5L308.0 1056.5L308.3 1057.5L308.6 1064.8L308.9 1063.7L309.2 1057.2L309.5 1062.1L309.8 1064.2L310.1 1063.8L310.4 1063.7L310.7 1067.0L311.0 1068.9L311.3 1069.4L311.6 1066.1L311.9 1067.6L312.2 1065.0L312.5 1064.8L312.8 1068.0L313.1 1068.2L313.4 1070.7L313.7 1080.4L314.0 1078.6L314.3 1074.5L314.6 1069.9L314.9 1072.6L315.2 1072.3L315.5 1070.4L315.8 1078.5L316.1 1078.3L316.4 1081.3L316.7 1090.3L317.0 1085.7L317.3 1083.9L317.6 1084.3L317.9 1082.9L318.2 1081.1L318.5 1082.5L318.8 1087.1L319.1 1084.9L319.4 1081.3L319.7 1080.6L320.0 1081.2L320.3 1084.6L320.6 1087.4L320.9 1088.6L321.2 1091.3L321.5 1088.5L321.8 1090.7L322.1 1090.2L322.4 1091.4L322.7 1084.7L323.0 1091.4L323.3 1086.0L323.6 1085.5L323.9 1091.0L324.2 1089.7L324.5 1095.6L324.8 1093.3L325.1 1089.3L325.4 1091.4L325.7 1090.7L326.0 1096.2L326.3 1098.6L326.6 1097.0L326.9 1093.3L327.2 1093.6L327.5 1096.6L327.8 1092.5L328.1 1091.2L328.4 1095.6L328.7 1097.0L329.0 1094.8L329.3 1094.1L329.6 1089.1L329.9 1096.5L330.2 1095.5L330.5 1091.5L330.8 1091.1L331.1 1091.8L331.4 1099.6L331.7 1099.6L332.0 1093.9L332.3 1101.1L332.6 1102.3L332.9 1096.0L333.2 1089.3L333.5 1097.5L333.8 1096.0L334.1 1096.9L334.4 1096.3L334.7 1101.3L335.0 1103.8L335.3 1102.8L335.6 1099.9L335.9 1100.2L336.2 1101.4L336.5 1095.6L336.8 1101.8L337.1 1099.6L337.4 1100.6L337.7 1100.7L338.0 1103.1L338.3 1104.5L338.6 1108.4L338.9 1102.5L339.2 1099.0L339.5 1100.8L339.8 1099.3L340.1 1103.2L340.4 1099.9L340.7 1101.6L341.0 1104.6L341.3 1105.9L341.6 1104.2L341.9 1107.2L342.2 1107.9L342.5 1099.7L342.8 1102.9L343.1 1103.6L343.4 1102.5L343.7 1101.3L344.0 1102.9L344.3 1104.5L344.6 1104.9L344.9 1108.2L345.2 1108.4L345.5 1104.1L345.8 1102.1L346.1 1106.1L346.4 1103.2L346.7 1104.8L347.0 1106.3L347.3 1108.5L347.6 1107.8L347.9 1110.4L348.2 1105.9L348.5 1107.6L348.8 1104.5L349.1 1105.9L349.4 1106.3L349.7 1103.5L350.0 1097.8L350.3 1106.1L350.6 1107.4L350.9 1107.3L351.2 1104.9L351.5 1105.2L351.8 1107.7L352.1 1107.4L352.4 1110.6L352.7 1108.8L353.0 1105.6L353.3 1108.6L353.6 1106.2L353.9 1107.9L354.2 1102.8L354.5 1105.2L354.8 1108.8L355.1 1106.6L355.4 1107.8L355.7 1110.0L356.0 1109.4L356.3 1114.2L356.6 1110.1L356.9 1108.9L357.2 1108.7L357.5 1103.4L357.8 1103.0L358.1 1108.8L358.4 1108.4L358.7 1113.3L359.0 1110.9L359.3 1109.8L359.6 1113.0L359.9 1112.0L360.2 1115.5L360.5 1109.2L360.8 1111.3L361.1 1112.8L361.4 1113.0L361.7 1114.8L362.0 1115.2L362.3 1112.5L362.6 1109.9L362.9 1113.4L363.2 1112.0L363.5 1114.2L363.8 1116.1L364.1 1113.5L364.4 1109.5L364.7 1109.9L365.0 1113.1L365.3 1111.3L365.6 1114.7L365.9 1112.6L366.2 1112.2L366.5 1109.9L366.8 1110.5L367.1 1114.2L367.4 1111.3L367.7 1110.4L368.0 1108.7L368.3 1112.6L368.6 1107.3L368.9 1107.9L369.2 1112.6L369.5 1115.7L369.8 1112.0L370.1 1114.1L370.4 1106.4L370.7 1111.5L371.0 1111.9L371.3 1107.7L371.6 1104.6L371.9 1107.2L372.2 1110.2L372.5 1111.6L372.8 1111.3L373.1 1113.1L373.4 1113.5L373.7 1107.7L374.0 1108.5L374.3 1108.4L374.6 1112.8L374.9 1110.0L375.2 1113.4L375.5 1111.9L375.8 1117.9L376.1 1113.3L376.4 1111.8L376.7 1111.1L377.0 1111.6L377.3 1118.5L377.6 1112.5L377.9 1109.5L378.2 1110.5L378.5 1113.4L378.8 1109.8L379.1 1113.8L379.4 1115.2L379.7 1113.1L380.0 1112.3L380.3 1110.6L380.6 1111.6L380.9 1110.6L381.2 1116.2L381.5 1119.4L381.8 1115.1L382.1 1114.5L382.4 1109.0L382.7 1111.2L383.0 1114.5L383.3 1115.6L383.6 1115.6L383.9 1117.8L384.2 1116.5L384.5 1114.8L384.8 1119.9L385.1 1111.7L385.4 1111.1L385.7 1112.1L386.0 1112.6L386.3 1112.7L386.6 1114.3L386.9 1113.6L387.2 1115.2L387.5 1117.7L387.8 1117.0L388.1 1117.1L388.4 1114.2L388.7 1112.6L389.0 1114.5L389.3 1118.7L389.6 1118.7L389.9 1120.7L390.2 1121.2L390.5 1121.8L390.8 1116.6L391.1 1120.6L391.4 1120.7L391.7 1124.5L392.0 1121.7L392.3 1120.0L392.6 1118.1L392.9 1118.4L393.2 1113.3L393.5 1115.6L393.8 1117.0L394.1 1120.5L394.4 1117.1L394.7 1118.2L395.0 1123.4L395.3 1118.6L395.6 1120.9L395.9 1117.8L396.2 1118.0L396.5 1119.7L396.8 1121.5L397.1 1118.3L397.4 1115.7L397.7 1122.1L398.0 1120.6L398.3 1121.8L398.6 1122.7L398.9 1122.6L399.2 1119.7L399.5 1119.1L399.8 1114.9L400.1 1118.4L400.4 1117.9L400.7 1119.0L401.0 1124.8L401.3 1123.6L401.6 1121.4L401.9 1116.7L402.2 1121.0L402.5 1124.9L402.8 1119.6L403.1 1121.4L403.4 1119.4L403.7 1119.9L404.0 1119.5L404.3 1115.9L404.6 1117.8L404.9 1115.4L405.2 1123.2L405.5 1125.0L405.8 1122.9L406.1 1122.9L406.4 1122.3L406.7 1122.6L407.0 1122.8L407.3 1121.7L407.6 1121.6L407.9 1118.3L408.2 1118.2L408.5 1119.4L408.8 1122.2L409.1 1121.6L409.4 1127.9L409.7 1124.3L410.0 1122.6L410.3 1124.3L410.6 1126.7L410.9 1129.9L411.2 1128.7L411.5 1123.9L411.8 1123.5L412.1 1126.8L412.4 1125.9L412.7 1127.1L413.0 1125.2L413.3 1129.3L413.6 1130.3L413.9 1129.9L414.2 1127.1L414.5 1121.2L414.8 1119.9L415.1 1124.3L415.4 1126.8L415.7 1117.7L416.0 1121.4L416.3 1127.4L416.6 1129.0L416.9 1125.5L417.2 1127.6L417.5 1126.7L417.8 1125.7L418.1 1129.2L418.4 1130.6L418.7 1126.5L419.0 1123.9L419.3 1122.1L419.6 1121.2L419.9 1128.7L420.2 1132.9L420.5 1129.8L420.8 1131.1L421.1 1126.8L421.4 1127.1L421.7 1130.0L422.0 1129.4L422.3 1128.3L422.6 1123.4L422.9 1122.3L423.2 1124.9L423.5 1125.4L423.8 1127.0L424.1 1126.0L424.4 1126.9L424.7 1128.0L425.0 1129.7L425.3 1129.0L425.6 1127.1L425.9 1127.2L426.2 1130.6L426.5 1128.6L426.8 1125.8L427.1 1124.7L427.4 1127.9L427.7 1129.8L428.0 1132.3L428.3 1128.8L428.6 1132.3L428.9 1128.7L429.2 1127.7L429.5 1126.3L429.8 1128.9L430.1 1131.2L430.4 1128.9L430.7 1126.8L431.0 1123.0L431.3 1126.4L431.6 1126.1L431.9 1126.4L432.2 1125.2L432.5 1124.0L432.8 1124.8L433.1 1127.4L433.4 1129.7L433.7 1127.7L434.0 1127.8L434.3 1126.4L434.6 1125.9L434.9 1122.3L435.2 1127.1L435.5 1127.9L435.8 1130.5L436.1 1125.6L436.4 1125.8L436.7 1122.8L437.0 1124.9L437.3 1124.5L437.6 1126.5L437.9 1124.8L438.2 1126.2L438.5 1123.5L438.8 1125.4L439.1 1123.4L439.4 1122.2L439.7 1123.1L440.0 1124.0L440.3 1119.3L440.6 1117.1L440.9 1121.0L441.2 1121.4L441.5 1115.9L441.8 1114.7L442.1 1116.6L442.4 1120.1L442.7 1120.7L443.0 1122.9L443.3 1123.9L443.6 1127.3L443.9 1117.6L444.2 1117.8L444.5 1120.6L444.8 1114.8L445.1 1112.0L445.4 1115.1L445.7 1118.3L446.0 1119.4L446.3 1111.0L446.6 1109.1L446.9 1111.1L447.2 1110.1L447.5 1111.6L447.8 1111.0L448.1 1114.8L448.4 1110.4L448.7 1108.8L449.0 1107.3L449.3 1108.9L449.6 1102.5L449.9 1103.6L450.2 1099.8L450.5 1095.8L450.8 1100.5L451.1 1099.3L451.4 1100.2L451.7 1096.1L452.0 1094.5L452.3 1091.1L452.6 1089.7L452.9 1084.9L453.2 1087.5L453.5 1079.5L453.8 1082.1L454.1 1075.7L454.4 1074.5L454.7 1069.9L455.0 1066.9L455.3 1066.5L455.6 1060.1L455.9 1052.4L456.2 1050.5L456.5 1048.3L456.8 1036.3L457.1 1039.0L457.4 1037.6L457.7 1026.6L458.0 1024.7L458.3 1024.5L458.6 1016.7L458.9 1014.1L459.2 1011.8L459.5 1012.2L459.8 1013.0L460.1 1009.4L460.4 1008.3L460.7 1010.5L461.0 1010.7L461.3 1009.7L461.6 1014.5L461.9 1009.8L462.2 1014.1L462.5 1015.7L462.8 1017.9L463.1 1022.6L463.4 1025.8L463.7 1035.8L464.0 1036.3L464.3 1037.8L464.6 1044.0L464.9 1046.4L465.2 1041.1L465.5 1046.7L465.8 1052.3L466.1 1052.2L466.4 1056.4L466.7 1057.3L467.0 1061.5L467.3 1058.8L467.6 1058.3L467.9 1063.3L468.2 1068.5L468.5 1074.6L468.8 1073.2L469.1 1072.4L469.4 1077.7L469.7 1078.0L470.0 1083.9L470.3 1081.4L470.6 1076.0L470.9 1078.0L471.2 1078.8L471.5 1078.5L471.8 1080.6L472.1 1082.1L472.4 1084.2L472.7 1084.7L473.0 1087.9L473.3 1089.5L473.6 1089.7L473.9 1090.2L474.2 1084.7L474.5 1083.7L474.8 1085.9L475.1 1090.1L475.4 1087.0L475.7 1089.1L476.0 1091.9L476.3 1098.1L476.6 1095.5L476.9 1092.6L477.2 1096.4L477.5 1095.4L477.8 1093.8L478.1 1097.4L478.4 1093.1L478.7 1094.9L479.0 1095.4L479.3 1098.0L479.6 1093.4L479.9 1091.5L480.2 1093.6L480.5 1094.8L480.8 1096.4L481.1 1095.9L481.4 1098.2L481.7 1100.0L482.0 1099.5L482.3 1095.9L482.6 1101.1L482.9 1095.5L483.2 1097.4L483.5 1101.5L483.8 1098.8L484.1 1103.4L484.4 1107.0L484.7 1107.5L485.0 1104.5L485.3 1105.2L485.6 1101.4L485.9 1102.8L486.2 1103.6L486.5 1102.9L486.8 1103.0L487.1 1102.1L487.4 1096.9L487.7 1101.8L488.0 1103.4L488.3 1108.9L488.6 1107.1L488.9 1104.6L489.2 1106.1L489.5 1105.9L489.8 1104.0L490.1 1102.3L490.4 1098.6L490.7 1101.8L491.0 1107.2L491.3 1099.1L491.6 1098.8L491.9 1103.5L492.2 1103.5L492.5 1104.1L492.8 1097.7L493.1 1099.1L493.4 1102.6L493.7 1103.9L494.0 1103.4L494.3 1099.8L494.6 1102.4L494.9 1098.2L495.2 1097.2L495.5 1096.0L495.8 1102.8L496.1 1099.7L496.4 1099.6L496.7 1092.9L497.0 1099.6L497.3 1099.9L497.6 1093.6L497.9 1091.1L498.2 1099.2L498.5 1094.3L498.8 1100.0L499.1 1095.0L499.4 1087.1L499.7 1094.1L500.0 1094.3L500.3 1094.3L500.6 1090.4L500.9 1089.3L501.2 1091.6L501.5 1086.6L501.8 1080.9L502.1 1086.3L502.4 1083.0L502.7 1086.3L503.0 1081.4L503.3 1078.7L503.6 1077.0L503.9 1069.0L504.2 1074.7L504.5 1069.9L504.8 1067.6L505.1 1069.5L505.4 1064.1L505.7 1062.1L506.0 1057.2L506.3 1054.0L506.6 1048.7L506.9 1046.5L507.2 1039.0L507.5 1035.6L507.8 1028.6L508.1 1029.5L508.4 1018.7L508.7 1020.8L509.0 1021.9L509.3 1022.6L509.6 1023.0L509.9 1028.5L510.2 1034.4L510.5 1030.7L510.8 1027.7L511.1 1031.0L511.4 1034.8L511.7 1039.9L512.0 1043.5L512.3 1049.4L512.6 1048.5L512.9 1050.4L513.2 1052.4L513.5 1051.1L513.8 1052.9L514.1 1062.8L514.4 1058.3L514.7 1054.5L515.0 1049.7L515.3 1057.3L515.6 1056.1L515.9 1054.8L516.2 1063.2L516.5 1063.3L516.8 1054.5L517.1 1055.6L517.4 1060.1L517.7 1061.4L518.0 1056.5L518.3 1063.2L518.6 1066.0L518.9 1058.7L519.2 1054.5L519.5 1054.3L519.8 1060.3L520.1 1063.8L520.4 1062.6L520.7 1060.3L521.0 1061.4L521.3 1064.2L521.6 1060.6L521.9 1058.6L522.2 1063.2L522.5 1069.3L522.8 1069.1L523.1 1069.8L523.4 1068.3L523.7 1073.0L524.0 1067.7L524.3 1071.3L524.6 1071.8L524.9 1074.0L525.2 1073.5L525.5 1078.9L525.8 1079.4L526.1 1079.0L526.4 1082.9L526.7 1083.6L527.0 1083.5L527.3 1084.1L527.6 1089.2L527.9 1086.9L528.2 1089.0L528.5 1090.4L528.8 1093.3L529.1 1093.6L529.4 1101.1L529.7 1093.1L530.0 1097.5L530.3 1097.7L530.6 1101.4L530.9 1095.3L531.2 1101.7L531.5 1096.8L531.8 1101.5L532.1 1102.9L532.4 1102.4L532.7 1100.4L533.0 1099.8L533.3 1102.5L533.6 1101.3L533.9 1097.8L534.2 1097.3L534.5 1104.9L534.8 1107.9L535.1 1108.3L535.4 1107.4L535.7 1108.3L536.0 1109.2L536.3 1109.1L536.6 1106.3L536.9 1105.8L537.2 1104.6L537.5 1108.2L537.8 1106.4L538.1 1108.4L538.4 1113.5L538.7 1110.7L539.0 1113.8L539.3 1116.8L539.6 1108.3L539.9 1106.7L540.2 1111.8L540.5 1110.4L540.8 1113.7L541.1 1115.5L541.4 1112.9L541.7 1116.0L542.0 1119.9L542.3 1119.2L542.6 1113.9L542.9 1114.3L543.2 1113.6L543.5 1119.5L543.8 1116.8L544.1 1114.6L544.4 1116.1L544.7 1118.2L545.0 1116.6L545.3 1117.5L545.6 1117.8L545.9 1120.2L546.2 1121.8L546.5 1120.6L546.8 1118.2L547.1 1120.1L547.4 1117.2L547.7 1122.0L548.0 1121.7L548.3 1121.5L548.6 1114.0L548.9 1125.2L549.2 1126.7L549.5 1126.8L549.8 1123.8L550.1 1124.4L550.4 1131.1L550.7 1123.4L551.0 1125.0L551.3 1125.2L551.6 1124.2L551.9 1124.6L552.2 1121.0L552.5 1124.6L552.8 1120.4L553.1 1128.0L553.4 1127.9L553.7 1123.3L554.0 1118.2L554.3 1122.9L554.6 1125.8L554.9 1122.6L555.2 1129.3L555.5 1127.8L555.8 1125.2L556.1 1121.8L556.4 1124.4L556.7 1125.3L557.0 1128.1L557.3 1130.4L557.6 1128.4L557.9 1129.1L558.2 1132.2L558.5 1131.1L558.8 1128.4L559.1 1130.1L559.4 1127.5L559.7 1129.5L560.0 1129.2L560.3 1125.9L560.6 1129.7L560.9 1129.6L561.2 1131.6L561.5 1126.4L561.8 1131.7L562.1 1133.7L562.4 1130.1L562.7 1129.7L563.0 1129.9L563.3 1129.9L563.6 1132.3L563.9 1128.7L564.2 1126.2L564.5 1127.9L564.8 1134.6L565.1 1130.4L565.4 1127.1L565.7 1126.2L566.0 1128.9L566.3 1132.8L566.6 1128.6L566.9 1129.7L567.2 1130.1L567.5 1131.0L567.8 1130.3L568.1 1132.6L568.4 1132.3L568.7 1128.5L569.0 1135.8L569.3 1127.4L569.6 1124.6L569.9 1130.3L570.2 1129.8L570.5 1128.3L570.8 1129.0L571.1 1130.6L571.4 1127.9L571.7 1126.3L572.0 1124.5L572.3 1124.3L572.6 1124.3L572.9 1129.8L573.2 1129.2L573.5 1129.6L573.8 1126.4L574.1 1129.8L574.4 1123.4L574.7 1126.9L575.0 1128.6L575.3 1125.3L575.6 1122.8L575.9 1126.2L576.2 1123.7L576.5 1122.1L576.8 1123.8L577.1 1121.1L577.4 1122.8L577.7 1129.4L578.0 1124.5L578.3 1126.4L578.6 1121.3L578.9 1122.5L579.2 1121.7L579.5 1121.6L579.8 1123.9L580.1 1128.5L580.4 1123.4L580.7 1125.5L581.0 1123.3L581.3 1123.4L581.6 1119.7L581.9 1117.4L582.2 1117.7L582.5 1115.8L582.8 1117.0L583.1 1114.0L583.4 1115.7L583.7 1116.3L584.0 1120.8L584.3 1121.7L584.6 1118.1L584.9 1113.5L585.2 1114.7L585.5 1115.2L585.8 1112.0L586.1 1108.6L586.4 1104.2L586.7 1107.3L587.0 1113.5L587.3 1109.1L587.6 1108.9L587.9 1108.3L588.2 1108.0L588.5 1108.3L588.8 1100.0L589.1 1102.0L589.4 1103.8L589.7 1102.8L590.0 1105.8L590.3 1101.9L590.6 1104.0L590.9 1106.8L591.2 1101.7L591.5 1100.5L591.8 1098.9L592.1 1101.1L592.4 1093.4L592.7 1092.5L593.0 1095.4L593.3 1099.6L593.6 1100.2L593.9 1096.3L594.2 1101.9L594.5 1099.5L594.8 1096.5L595.1 1098.7L595.4 1101.7L595.7 1098.7L596.0 1093.4L596.3 1094.3L596.6 1096.4L596.9 1099.5L597.2 1094.9L597.5 1096.9L597.8 1093.3L598.1 1095.6L598.4 1092.2L598.7 1093.4L599.0 1090.7L599.3 1091.2L599.6 1089.5L599.9 1087.6L600.2 1096.0L600.5 1098.6L600.8 1097.4L601.1 1094.4L601.4 1098.4L601.7 1094.6L602.0 1095.1L602.3 1097.1L602.6 1094.9L602.9 1097.6L603.2 1093.6L603.5 1091.9L603.8 1091.9L604.1 1087.9L604.4 1086.5L604.7 1091.0L605.0 1085.1L605.3 1090.9L605.6 1090.2L605.9 1092.2L606.2 1091.4L606.5 1090.3L606.8 1092.8L607.1 1088.2L607.4 1086.1L607.7 1088.6L608.0 1084.0L608.3 1087.2L608.6 1086.6L608.9 1082.7L609.2 1078.8L609.5 1074.9L609.8 1084.5L610.1 1077.8L610.4 1076.0L610.7 1081.1L611.0 1081.5L611.3 1080.7L611.6 1079.8L611.9 1077.9L612.2 1075.7L612.5 1075.3L612.8 1078.9L613.1 1081.5L613.4 1082.8L613.7 1079.7L614.0 1072.4L614.3 1077.9L614.6 1078.1L614.9 1071.1L615.2 1080.6L615.5 1080.9L615.8 1080.6L616.1 1081.5L616.4 1082.0L616.7 1083.0L617.0 1083.4L617.3 1083.7L617.6 1085.8L617.9 1086.4L618.2 1093.0L618.5 1089.2L618.8 1086.5L619.1 1085.8L619.4 1088.8L619.7 1089.6L620.0 1090.6L620.3 1090.2L620.6 1090.5L620.9 1093.7L621.2 1097.0L621.5 1095.6L621.8 1094.2L622.1 1091.0L622.4 1090.3L622.7 1093.8L623.0 1094.5L623.3 1095.5L623.6 1093.2L623.9 1095.5L624.2 1091.4L624.5 1092.3L624.8 1094.0L625.1 1098.8L625.4 1097.3L625.7 1096.0L626.0 1099.2L626.3 1099.5L626.6 1102.7L626.9 1102.3L627.2 1102.0L627.5 1100.8L627.8 1103.0L628.1 1100.0L628.4 1096.8L628.7 1102.9L629.0 1101.4L629.3 1102.6L629.6 1104.9L629.9 1107.2L630.2 1097.0L630.5 1099.1L630.8 1106.7L631.1 1101.3L631.4 1106.1L631.7 1105.7L632.0 1104.5L632.3 1106.6L632.6 1103.3L632.9 1108.6L633.2 1113.1L633.5 1107.6L633.8 1108.3L634.1 1114.3L634.4 1114.5L634.7 1113.0L635.0 1118.0L635.3 1111.2L635.6 1113.3L635.9 1115.5L636.2 1115.5L636.5 1119.1L636.8 1113.7L637.1 1117.2L637.4 1116.4L637.7 1122.2L638.0 1124.1L638.3 1120.0L638.6 1117.9L638.9 1120.5L639.2 1119.4L639.5 1120.1L639.8 1123.5L640.1 1122.4L640.4 1128.7L640.7 1126.1L641.0 1123.7L641.3 1121.3L641.6 1122.4L641.9 1127.6L642.2 1127.9L642.5 1130.8L642.8 1131.6L643.1 1129.8L643.4 1125.8L643.7 1126.1L644.0 1126.9L644.3 1122.4L644.6 1126.7L644.9 1124.4L645.2 1126.4L645.5 1126.0L645.8 1129.2L646.1 1136.3L646.4 1127.9L646.7 1128.5L647.0 1134.7L647.3 1128.5L647.6 1128.4L647.9 1128.8L648.2 1130.3L648.5 1125.4L648.8 1129.3L649.1 1131.6L649.4 1138.1L649.7 1133.0L650.0 1129.8L650.3 1130.9L650.6 1123.4L650.9 1129.4L651.2 1135.1L651.5 1132.6L651.8 1131.8L652.1 1131.1L652.4 1132.0L652.7 1128.4L653.0 1135.3L653.3 1132.0L653.6 1131.0L653.9 1136.8L654.2 1134.2L654.5 1132.1L654.8 1137.5L655.1 1135.2L655.4 1136.7L655.7 1133.0L656.0 1128.3L656.3 1132.4L656.6 1137.5L656.9 1134.0L657.2 1135.2L657.5 1136.8L657.8 1136.1L658.1 1135.5L658.4 1137.3L658.7 1136.5L659.0 1134.2L659.3 1138.0L659.6 1138.7L659.9 1137.9L660.2 1138.7L660.5 1129.4L660.8 1134.6L661.1 1135.8L661.4 1130.5L661.7 1140.4L662.0 1139.0L662.3 1136.4L662.6 1135.7L662.9 1137.4L663.2 1137.2L663.5 1132.7L663.8 1134.6L664.1 1137.8L664.4 1139.5L664.7 1140.8L665.0 1135.8L665.3 1135.4L665.6 1138.1L665.9 1136.3L666.2 1138.1L666.5 1135.7L666.8 1139.0L667.1 1138.7L667.4 1140.1L667.7 1139.0L668.0 1136.3L668.3 1134.0L668.6 1136.9L668.9 1136.0L669.2 1133.1L669.5 1134.7L669.8 1139.1L670.1 1141.8L670.4 1141.3L670.7 1142.8L671.0 1138.2L671.3 1137.2L671.6 1134.4L671.9 1133.9L672.2 1140.4L672.5 1139.2L672.8 1139.3L673.1 1144.9L673.4 1144.8L673.7 1136.6L674.0 1139.0L674.3 1134.7L674.6 1138.1L674.9 1131.0L675.2 1131.1L675.5 1131.2L675.8 1139.5L676.1 1131.5L676.4 1137.0L676.7 1138.7L677.0 1136.6L677.3 1137.8L677.6 1143.3L677.9 1138.4L678.2 1135.1L678.5 1138.6L678.8 1138.1L679.1 1132.3L679.4 1133.9L679.7 1134.6L680.0 1130.5L680.3 1129.4L680.6 1129.5L680.9 1127.5L681.2 1131.3L681.5 1131.3L681.8 1123.3L682.1 1124.9L682.4 1126.3L682.7 1121.5L683.0 1122.1L683.3 1123.2L683.6 1117.4L683.9 1119.2L684.2 1114.2L684.5 1122.0L684.8 1121.3L685.1 1119.9L685.4 1119.1L685.7 1120.3L686.0 1130.1L686.3 1128.0L686.6 1128.7L686.9 1129.9L687.2 1127.6L687.5 1133.7L687.8 1126.6L688.1 1134.2L688.4 1132.2L688.7 1134.0L689.0 1135.5L689.3 1137.7L689.6 1132.5L689.9 1136.2L690.2 1135.6L690.5 1135.1L690.8 1134.7L691.1 1138.7L691.4 1138.4L691.7 1140.8L692.0 1140.8L692.3 1132.5L692.6 1135.3L692.9 1139.7L693.2 1136.0L693.5 1132.6L693.8 1129.9L694.1 1141.6L694.4 1137.5L694.7 1139.5L695.0 1136.8L695.3 1140.4L695.6 1145.5L695.9 1138.5L696.2 1140.2L696.5 1139.0L696.8 1135.4L697.1 1137.2L697.4 1140.6L697.7 1145.5L698.0 1147.5L698.3 1144.6L698.6 1138.9L698.9 1143.9L699.2 1143.8L699.5 1143.9L699.8 1140.8L700.1 1142.7L700.4 1149.7L700.7 1150.9L701.0 1150.8L701.3 1149.2L701.6 1145.6L701.9 1145.6L702.2 1146.1L702.5 1147.1L702.8 1145.4L703.1 1143.3L703.4 1148.5L703.7 1146.0L704.0 1148.7L704.3 1146.7L704.6 1148.5L704.9 1148.7L705.2 1149.4L705.5 1149.5L705.8 1144.7L706.1 1141.8L706.4 1144.7L706.7 1150.7L707.0 1145.5L707.3 1143.4L707.6 1152.0L707.9 1143.8L708.2 1143.8L708.5 1144.3L708.8 1143.7L709.1 1143.6L709.4 1148.5L709.7 1147.7L710.0 1147.4L710.3 1141.9L710.6 1147.1L710.9 1147.1L711.2 1147.1L711.5 1149.0L711.8 1148.2L712.1 1146.9L712.4 1147.7L712.7 1144.7L713.0 1143.1L713.3 1141.2L713.6 1147.3L713.9 1144.7L714.2 1146.2L714.5 1149.5L714.8 1152.7L715.1 1147.4L715.4 1147.1L715.7 1146.8L716.0 1142.6L716.3 1143.6L716.6 1153.4L716.9 1148.5L717.2 1152.2L717.5 1150.5L717.8 1152.8L718.1 1152.4L718.4 1149.0L718.7 1143.5L719.0 1149.4L719.3 1149.3L719.6 1148.6L719.9 1149.5L720.2 1145.0L720.5 1146.1L720.8 1146.0L721.1 1141.7L721.4 1141.0L721.7 1143.9L722.0 1138.8L722.3 1145.6L722.6 1148.1L722.9 1146.5L723.2 1147.0L723.5 1141.0L723.8 1144.7L724.1 1147.7L724.4 1148.0L724.7 1149.3L725.0 1146.9L725.3 1152.0L725.6 1149.2L725.9 1149.3L726.2 1150.2L726.5 1145.1L726.8 1142.2L727.1 1146.8L727.4 1142.4L727.7 1142.8L728.0 1147.5L728.3 1143.1L728.6 1141.9L728.9 1140.7L729.2 1140.8L729.5 1149.4L729.8 1148.5L730.1 1149.4L730.4 1141.2L730.7 1137.0L731.0 1139.1L731.3 1146.3L731.6 1149.2L731.9 1140.9L732.2 1138.7L732.5 1144.9L732.8 1145.9L733.1 1146.8L733.4 1147.7L733.7 1143.2L734.0 1144.9L734.3 1144.3L734.6 1148.5L734.9 1145.4L735.2 1139.7L735.5 1146.9L735.8 1151.0L736.1 1150.0L736.4 1145.9L736.7 1142.6L737.0 1147.1L737.3 1144.2L737.6 1146.3L737.9 1147.7L738.2 1145.6L738.5 1139.3L738.8 1144.5L739.1 1141.9L739.4 1139.3L739.7 1142.8L740.0 1144.6L740.3 1144.5L740.6 1146.6L740.9 1139.9L741.2 1144.8L741.5 1149.6L741.8 1146.3L742.1 1143.9L742.4 1144.0L742.7 1148.1L743.0 1145.5L743.3 1142.8L743.6 1139.2L743.9 1147.0L744.2 1149.8L744.5 1146.6L744.8 1151.6L745.1 1146.1L745.4 1147.4L745.7 1142.0L746.0 1141.0L746.3 1143.6L746.6 1145.9L746.9 1147.1L747.2 1143.2L747.5 1142.9L747.8 1144.0L748.1 1143.9L748.4 1144.0L748.7 1147.1L749.0 1149.3L749.3 1141.3L749.6 1147.7L749.9 1146.7L750.2 1146.8L750.5 1146.8L750.8 1148.6L751.1 1148.6L751.4 1142.1L751.7 1146.9L752.0 1142.7L752.3 1145.7L752.6 1146.3L752.9 1141.4L753.2 1144.3L753.5 1144.5L753.8 1143.4L754.1 1150.9L754.4 1148.1L754.7 1145.6L755.0 1150.9L755.3 1147.6L755.6 1146.2L755.9 1140.3L756.2 1145.8L756.5 1149.0L756.8 1152.7L757.1 1145.6L757.4 1149.1L757.7 1151.4L758.0 1150.2L758.3 1147.7L758.6 1142.1L758.9 1145.5L759.2 1144.5L759.5 1140.8L759.8 1146.3L760.1 1146.1L760.4 1145.8L760.7 1152.1L761.0 1147.0L761.3 1140.8L761.6 1138.2L761.9 1145.3L762.2 1145.6L762.5 1144.2L762.8 1139.7L763.1 1141.9L763.4 1141.9L763.7 1144.8L764.0 1143.7L764.3 1143.2L764.6 1145.5L764.9 1144.1L765.2 1146.9L765.5 1137.0L765.8 1139.8L766.1 1148.0L766.4 1147.9L766.7 1144.1L767.0 1145.4L767.3 1144.8L767.6 1145.1L767.9 1150.5L768.2 1147.0L768.5 1147.6L768.8 1144.8L769.1 1144.1L769.4 1141.5L769.7 1143.2L770.0 1144.5L770.3 1145.3L770.6 1146.6L770.9 1147.2L771.2 1149.1L771.5 1147.2L771.8 1151.0L772.1 1150.2L772.4 1152.3L772.7 1148.8L773.0 1151.3L773.3 1148.9L773.6 1143.0L773.9 1145.7L774.2 1146.2L774.5 1142.6L774.8 1142.8L775.1 1143.9L775.4 1152.7L775.7 1150.1L776.0 1153.5L776.3 1152.1L776.6 1152.1L776.9 1151.3L777.2 1144.4L777.5 1149.9L777.8 1145.3L778.1 1147.8L778.4 1147.2L778.7 1151.9L779.0 1152.3L779.3 1154.3L779.6 1151.1L779.9 1148.6L780.2 1149.9L780.5 1155.1L780.8 1151.5L781.1 1148.8L781.4 1144.2L781.7 1143.9L782.0 1145.7L782.3 1148.5L782.6 1149.3L782.9 1147.5L783.2 1147.5L783.5 1151.5L783.8 1153.8L784.1 1152.6L784.4 1153.1L784.7 1152.4L785.0 1153.7L785.3 1145.2L785.6 1144.2L785.9 1145.9L786.2 1146.7L786.5 1149.6L786.8 1141.1L787.1 1143.6L787.4 1144.3L787.7 1141.3L788.0 1141.1L788.3 1143.4L788.6 1141.5L788.9 1137.8L789.2 1136.0L789.5 1132.7L789.8 1132.9L790.1 1128.3L790.4 1128.4L790.7 1123.2L791.0 1122.8L791.3 1120.1L791.6 1122.9L791.9 1128.4L792.2 1126.5L792.5 1129.2L792.8 1132.8L793.1 1133.8L793.4 1138.5L793.7 1134.8L794.0 1140.0L794.3 1143.5L794.6 1145.9L794.9 1141.9L795.2 1138.4L795.5 1134.9L795.8 1140.2L796.1 1142.3L796.4 1141.5L796.7 1141.2L797.0 1141.9L797.3 1139.0L797.6 1134.6L797.9 1132.9L798.2 1134.0L798.5 1133.7L798.8 1131.3L799.1 1133.5L799.4 1132.2L799.7 1136.2L800.0 1135.1L800.3 1136.8L800.6 1130.9L800.9 1129.0L801.2 1126.4L801.5 1130.4L801.8 1139.4L802.1 1133.7L802.4 1129.2L802.7 1128.8L803.0 1127.4L803.3 1129.0L803.6 1126.1L803.9 1121.7L804.2 1116.4L804.5 1120.2L804.8 1122.4L805.1 1119.7L805.4 1114.7L805.7 1113.1L806.0 1111.6L806.3 1112.4L806.6 1109.4L806.9 1110.3L807.2 1105.1L807.5 1100.3L807.8 1104.0L808.1 1095.2L808.4 1090.8L808.7 1095.5L809.0 1089.9L809.3 1090.1L809.6 1075.8L809.9 1079.5L810.2 1075.2L810.5 1072.1L810.8 1070.5L811.1 1059.1L811.4 1059.4L811.7 1062.6L812.0 1071.3L812.3 1062.7L812.6 1069.1L812.9 1067.0L813.2 1068.3L813.5 1064.1L813.8 1068.4L814.1 1067.0L814.4 1066.8L814.7 1075.3L815.0 1073.8L815.3 1075.0L815.6 1080.1L815.9 1078.5L816.2 1077.6L816.5 1082.5L816.8 1085.1L817.1 1090.2L817.4 1084.9L817.7 1088.9L818.0 1090.6L818.3 1088.2L818.6 1088.4L818.9 1089.2L819.2 1086.6L819.5 1084.8L819.8 1090.1L820.1 1086.8L820.4 1085.7L820.7 1090.3L821.0 1087.8L821.3 1087.0L821.6 1083.4L821.9 1082.2L822.2 1080.9L822.5 1079.9L822.8 1086.5L823.1 1081.9L823.4 1075.6L823.7 1076.3L824.0 1081.0L824.3 1076.6L824.6 1077.6L824.9 1074.7L825.2 1070.7L825.5 1072.3L825.8 1071.0L826.1 1073.7L826.4 1076.1L826.7 1074.6L827.0 1082.1L827.3 1074.3L827.6 1078.8L827.9 1078.1L828.2 1081.2L828.5 1080.3L828.8 1072.5L829.1 1076.1L829.4 1081.9L829.7 1081.7L830.0 1078.5L830.3 1080.4L830.6 1084.3L830.9 1089.1L831.2 1086.2L831.5 1088.0L831.8 1086.5L832.1 1085.9L832.4 1088.4L832.7 1095.4L833.0 1096.7L833.3 1095.0L833.6 1095.8L833.9 1098.3L834.2 1097.9L834.5 1097.5L834.8 1098.3L835.1 1101.9L835.4 1100.6L835.7 1104.1L836.0 1098.2L836.3 1099.8L836.6 1101.8L836.9 1105.9L837.2 1103.6L837.5 1104.5L837.8 1108.0L838.1 1108.7L838.4 1108.1L838.7 1109.7L839.0 1109.4L839.3 1115.1L839.6 1117.0L839.9 1119.8L840.2 1125.7L840.5 1125.8L840.8 1124.6L841.1 1123.4L841.4 1130.6L841.7 1128.2L842.0 1126.9L842.3 1131.5L842.6 1131.4L842.9 1130.1L843.2 1132.3L843.5 1138.1L843.8 1135.6L844.1 1136.1L844.4 1133.3L844.7 1134.2L845.0 1139.2L845.3 1138.8L845.6 1140.0L845.9 1143.8L846.2 1141.7L846.5 1147.0L846.8 1143.1L847.1 1142.0L847.4 1142.0L847.7 1140.4L848.0 1146.2L848.3 1147.0L848.6 1151.4L848.9 1147.2L849.2 1150.1L849.5 1152.8L849.8 1149.3L850.1 1148.2L850.4 1141.1L850.7 1151.4L851.0 1149.0L851.3 1150.5L851.6 1147.6L851.9 1149.0L852.2 1145.2L852.5 1149.3L852.8 1148.8L853.1 1147.3L853.4 1149.0L853.7 1143.2L854.0 1146.7L854.3 1146.2L854.6 1151.4L854.9 1151.2L855.2 1148.3L855.5 1147.0L855.8 1155.8L856.1 1147.5L856.4 1152.8L856.7 1151.8L857.0 1151.0L857.3 1142.9L857.6 1147.9L857.9 1145.8L858.2 1143.8L858.5 1147.4L858.8 1144.8L859.1 1147.5L859.4 1144.1L859.7 1147.2L860.0 1147.8L860.3 1144.3L860.6 1142.6L860.9 1142.8L861.2 1143.2L861.5 1143.1L861.8 1150.0L862.1 1148.3L862.4 1145.4L862.7 1144.4L863.0 1142.6L863.3 1145.0L863.6 1144.8L863.9 1142.9L864.2 1142.1L864.5 1142.5L864.8 1140.8L865.1 1143.4L865.4 1141.3L865.7 1144.7L866.0 1143.3L866.3 1145.2L866.6 1142.6L866.9 1137.9L867.2 1137.8L867.5 1140.6L867.8 1143.4L868.1 1144.4L868.4 1145.0L868.7 1145.6L869.0 1144.8L869.3 1144.6L869.6 1142.6L869.9 1144.0L870.2 1142.5L870.5 1142.0L870.8 1142.4L871.1 1148.5L871.4 1139.8L871.7 1139.5L872.0 1139.9L872.3 1141.9L872.6 1141.3L872.9 1145.7L873.2 1137.9L873.5 1144.8L873.8 1138.3L874.1 1137.4L874.4 1140.7" fill="none" stroke="#00f" stroke-width="3.00" stroke-linejoin="round" stroke-linecap="butt"/>
<path d="M55.4 1095.4L55.7 1095.5L56.0 1094.9L56.3 1093.9L56.6 1093.6L56.9 1092.8L57.2 1093.3L57.5 1094.8L57.8 1093.9L58.1 1093.1L58.4 1093.7L58.7 1093.9L59.0 1093.7L59.3 1092.5L59.6 1092.7L59.9 1093.4L60.2 1091.9L60.5 1091.8L60.8 1090.3L61.1 1090.0L61.4 1089.2L61.7 1090.3L62.0 1089.9L62.3 1091.2L62.6 1091.8L62.9 1091.8L63.2 1089.5L63.5 1090.1L63.8 1090.9L64.1 1091.5L64.4 1090.2L64.7 1090.5L65.0 1090.2L65.3 1090.1L65.6 1091.9L65.9 1091.2L66.2 1091.5L66.5 1092.5L66.8 1091.7L67.1 1091.8L67.4 1092.0L67.7 1092.2L68.0 1091.0L68.3 1091.7L68.6 1093.4L68.9 1091.6L69.2 1092.9L69.5 1093.1L69.8 1092.5L70.1 1094.8L70.4 1095.1L70.7 1093.4L71.0 1093.7L71.3 1094.5L71.6 1094.2L71.9 1095.1L72.2 1094.9L72.5 1095.6L72.8 1096.8L73.1 1095.6L73.4 1095.8L73.7 1095.3L74.0 1095.7L74.3 1094.8L74.6 1094.9L74.9 1095.5L75.2 1097.0L75.5 1098.3L75.8 1096.8L76.1 1096.5L76.4 1097.9L76.7 1096.2L77.0 1096.9L77.3 1097.8L77.6 1099.8L77.9 1100.5L78.2 1100.1L78.5 1100.0L78.8 1100.1L79.1 1102.1L79.4 1101.5L79.7 1101.4L80.0 1102.1L80.3 1102.2L80.6 1102.4L80.9 1101.6L81.2 1102.4L81.5 1102.6L81.8 1104.4L82.1 1105.1L82.4 1105.0L82.7 1105.7L83.0 1105.3L83.3 1106.6L83.6 1106.4L83.9 1107.0L84.2 1105.7L84.5 1106.6L84.8 1105.3L85.1 1104.3L85.4 1105.5L85.7 1105.8L86.0 1107.2L86.3 1110.2L86.6 1109.1L86.9 1108.7L87.2 1109.5L87.5 1110.3L87.8 1110.3L88.1 1110.4L88.4 1111.4L88.7 1112.0L89.0 1110.9L89.3 1111.3L89.6 1111.8L89.9 1111.1L90.2 1112.0L90.5 1111.6L90.8 1113.3L91.1 1113.6L91.4 1113.7L91.7 1113.3L92.0 1113.5L92.3 1111.9L92.6 1111.9L92.9 1113.4L93.2 1112.0L93.5 1114.1L93.8 1112.9L94.1 1114.8L94.4 1114.4L94.7 1115.8L95.0 1116.1L95.3 1114.7L95.6 1116.7L95.9 1118.2L96.2 1117.7L96.5 1117.2L96.8 1117.2L97.1 1116.4L97.4 1118.0L97.7 1117.5L98.0 1117.7L98.3 1117.2L98.6 1117.2L98.9 1116.6L99.2 1118.8L99.5 1118.9L99.8 1120.1L100.1 1120.0L100.4 1119.4L100.7 1119.4L101.0 1119.4L101.3 1120.0L101.6 1120.1L101.9 1120.4L102.2 1119.6L102.5 1119.8L102.8 1122.4L103.1 1121.9L103.4 1121.2L103.7 1122.3L104.0 1124.1L104.3 1122.5L104.6 1122.8L104.9 1122.6L105.2 1121.5L105.5 1123.3L105.8 1123.7L106.1 1124.1L106.4 1123.5L106.7 1124.4L107.0 1124.0L107.3 1124.1L107.6 1123.2L107.9 1122.5L108.2 1124.6L108.5 1123.9L108.8 1124.3L109.1 1124.2L109.4 1123.7L109.7 1123.3L110.0 1124.1L110.3 1123.6L110.6 1123.5L110.9 1123.5L111.2 1124.6L111.5 1124.7L111.8 1124.4L112.1 1123.3L112.4 1121.7L112.7 1123.1L113.0 1123.8L113.3 1123.1L113.6 1123.3L113.9 1123.6L114.2 1123.8L114.5 1123.9L114.8 1122.6L115.1 1123.7L115.4 1121.5L115.7 1122.3L116.0 1122.3L116.3 1122.6L116.6 1123.7L116.9 1123.9L117.2 1121.4L117.5 1119.3L117.8 1120.5L118.1 1119.4L118.4 1119.7L118.7 1120.7L119.0 1118.9L119.3 1117.3L119.6 1118.6L119.9 1119.2L120.2 1119.2L120.5 1119.5L120.8 1118.7L121.1 1117.5L121.4 1118.0L121.7 1117.5L122.0 1116.3L122.3 1117.7L122.6 1117.8L122.9 1118.1L123.2 1116.8L123.5 1116.2L123.8 1115.3L124.1 1114.7L124.4 1115.2L124.7 1114.4L125.0 1114.8L125.3 1114.8L125.6 1116.2L125.9 1113.5L126.2 1113.8L126.5 1112.5L126.8 1111.2L127.1 1108.4L127.4 1106.9L127.7 1106.5L128.0 1104.7L128.3 1103.0L128.6 1100.9L128.9 1100.1L129.2 1097.5L129.5 1092.7L129.8 1090.2L130.1 1086.2L130.4 1081.4L130.7 1079.8L131.0 1079.4L131.3 1076.2L131.6 1071.6L131.9 1067.3L132.2 1065.0L132.5 1060.8L132.8 1056.2L133.1 1051.3L133.4 1046.4L133.7 1041.8L134.0 1036.2L134.3 1030.0L134.6 1022.3L134.9 1016.5L135.2 1009.2L135.5 1003.6L135.8 994.8L136.1 987.4L136.4 979.7L136.7 970.3L137.0 964.1L137.3 955.9L137.6 943.8L137.9 930.2L138.2 915.7L138.5 900.5L138.8 889.5L139.1 877.3L139.4 864.4L139.7 849.0L140.0 833.8L140.3 818.3L140.6 804.2L140.9 789.3L141.2 775.4L141.5 765.3L141.8 755.3L142.1 749.4L142.4 746.2L142.7 750.7L143.0 757.2L143.3 766.6L143.6 778.2L143.9 791.5L144.2 806.6L144.5 822.3L144.8 838.9L145.1 855.9L145.4 874.6L145.7 892.5L146.0 911.2L146.3 946.9L146.6 975.3L146.9 989.4L147.2 1000.4L147.5 1009.8L147.8 1017.7L148.1 1023.6L148.4 1029.8L148.7 1036.0L149.0 1040.0L149.3 1044.4L149.6 1049.3L149.9 1054.4L150.2 1057.4L150.5 1062.2L150.8 1065.9L151.1 1071.3L151.4 1074.3L151.7 1078.6L152.0 1083.4L152.3 1085.5L152.6 1087.8L152.9 1091.2L153.2 1094.4L153.5 1096.4L153.8 1100.1L154.1 1104.7L154.4 1106.1L154.7 1107.9L155.0 1109.0L155.3 1111.7L155.6 1112.6L155.9 1113.9L156.2 1117.6L156.5 1118.2L156.8 1121.0L157.1 1123.5L157.4 1124.2L157.7 1125.2L158.0 1127.6L158.3 1127.3L158.6 1127.0L158.9 1126.4L159.2 1127.7L159.5 1130.2L159.8 1131.5L160.1 1130.6L160.4 1130.5L160.7 1131.0L161.0 1132.3L161.3 1132.8L161.6 1133.8L161.9 1134.7L162.2 1134.8L162.5 1135.4L162.8 1136.2L163.1 1136.5L163.4 1137.5L163.7 1139.6L164.0 1139.8L164.3 1139.5L164.6 1137.8L164.9 1139.0L165.2 1137.5L165.5 1137.3L165.8 1139.6L166.1 1140.9L166.4 1141.0L166.7 1139.6L167.0 1140.3L167.3 1140.4L167.6 1142.0L167.9 1144.6L168.2 1144.3L168.5 1143.2L168.8 1142.3L169.1 1142.9L169.4 1143.3L169.7 1142.6L170.0 1143.6L170.3 1143.0L170.6 1145.0L170.9 1146.2L171.2 1147.0L171.5 1146.1L171.8 1146.6L172.1 1146.3L172.4 1145.9L172.7 1145.9L173.0 1144.9L173.3 1144.3L173.6 1146.2L173.9 1146.4L174.2 1147.1L174.5 1148.3L174.8 1146.3L175.1 1146.2L175.4 1147.1L175.7 1147.9L176.0 1147.7L176.3 1149.0L176.6 1149.1L176.9 1147.7L177.2 1147.3L177.5 1148.7L177.8 1149.3L178.1 1147.4L178.4 1149.5L178.7 1150.1L179.0 1151.2L179.3 1150.2L179.6 1149.7L179.9 1148.7L180.2 1151.7L180.5 1150.9L180.8 1152.2L181.1 1150.8L181.4 1150.8L181.7 1149.0L182.0 1149.3L182.3 1150.8L182.6 1149.6L182.9 1151.1L183.2 1151.4L183.5 1150.2L183.8 1150.1L184.1 1150.1L184.4 1150.5L184.7 1150.4L185.0 1150.0L185.3 1150.3L185.6 1149.8L185.9 1149.3L186.2 1150.3L186.5 1151.8L186.8 1150.3L187.1 1151.0L187.4 1150.8L187.7 1150.4L188.0 1152.0L188.3 1151.6L188.6 1153.4L188.9 1152.3L189.2 1152.8L189.5 1152.5L189.8 1151.8L190.1 1152.8L190.4 1152.7L190.7 1153.4L191.0 1153.2L191.3 1152.1L191.6 1152.4L191.9 1152.8L192.2 1153.9L192.5 1152.8L192.8 1153.0L193.1 1151.5L193.4 1153.0L193.7 1152.2L194.0 1151.0L194.3 1152.1L194.6 1153.9L194.9 1152.4L195.2 1152.0L195.5 1152.1L195.8 1151.8L196.1 1153.1L196.4 1152.8L196.7 1152.7L197.0 1154.0L197.3 1153.4L197.6 1154.3L197.9 1153.5L198.2 1152.8L198.5 1151.7L198.8 1154.8L199.1 1154.5L199.4 1154.9L199.7 1154.9L200.0 1155.1L200.3 1155.2L200.6 1157.1L200.9 1155.3L201.2 1153.8L201.5 1153.4L201.8 1152.9L202.1 1154.7L202.4 1155.8L202.7 1154.8L203.0 1153.8L203.3 1154.2L203.6 1156.2L203.9 1153.2L204.2 1154.8L204.5 1154.2L204.8 1155.9L205.1 1154.9L205.4 1155.1L205.7 1154.0L206.0 1153.9L206.3 1156.2L206.6 1157.0L206.9 1156.3L207.2 1155.5L207.5 1154.0L207.8 1154.5L208.1 1155.3L208.4 1155.7L208.7 1155.9L209.0 1155.1L209.3 1155.6L209.6 1156.0L209.9 1157.5L210.2 1159.0L210.5 1158.0L210.8 1156.7L211.1 1156.7L211.4 1156.1L211.7 1155.7L212.0 1156.1L212.3 1155.4L212.6 1156.6L212.9 1156.7L213.2 1157.0L213.5 1156.9L213.8 1156.2L214.1 1155.6L214.4 1156.0L214.7 1155.9L215.0 1156.6L215.3 1156.9L215.6 1155.7L215.9 1156.4L216.2 1155.4L216.5 1155.5L216.8 1156.0L217.1 1154.5L217.4 1155.7L217.7 1156.5L218.0 1156.7L218.3 1156.6L218.6 1156.6L218.9 1156.0L219.2 1156.3L219.5 1156.2L219.8 1156.9L220.1 1156.0L220.4 1156.8L220.7 1157.3L221.0 1157.3L221.3 1157.0L221.6 1157.8L221.9 1156.1L222.2 1157.2L222.5 1157.7L222.8 1158.0L223.1 1158.3L223.4 1157.4L223.7 1157.3L224.0 1158.2L224.3 1158.5L224.6 1158.4L224.9 1156.7L225.2 1157.7L225.5 1159.0L225.8 1159.6L226.1 1159.2L226.4 1157.2L226.7 1158.4L227.0 1158.1L227.3 1155.6L227.6 1157.0L227.9 1155.9L228.2 1155.5L228.5 1155.9L228.8 1158.1L229.1 1157.7L229.4 1158.2L229.7 1159.9L230.0 1160.8L230.3 1159.7L230.6 1158.9L230.9 1157.4L231.2 1157.0L231.5 1158.0L231.8 1158.5L232.1 1158.5L232.4 1159.4L232.7 1158.3L233.0 1158.3L233.3 1159.0L233.6 1159.4L233.9 1160.1L234.2 1159.8L234.5 1159.0L234.8 1159.1L235.1 1157.9L235.4 1156.5L235.7 1157.9L236.0 1158.1L236.3 1158.6L236.6 1157.0L236.9 1157.3L237.2 1157.2L237.5 1157.0L237.8 1155.4L238.1 1156.4L238.4 1158.2L238.7 1158.8L239.0 1158.2L239.3 1158.4L239.6 1159.4L239.9 1156.4L240.2 1157.3L240.5 1158.5L240.8 1159.3L241.1 1160.9L241.4 1161.2L241.7 1160.6L242.0 1160.3L242.3 1160.6L242.6 1159.4L242.9 1159.2L243.2 1160.1L243.5 1161.6L243.8 1160.5L244.1 1159.9L244.4 1159.8L244.7 1160.9L245.0 1160.2L245.3 1161.3L245.6 1159.5L245.9 1159.2L246.2 1159.1L246.5 1159.9L246.8 1160.7L247.1 1158.7L247.4 1158.1L247.7 1158.9L248.0 1158.5L248.3 1157.3L248.6 1159.2L248.9 1159.8L249.2 1160.2L249.5 1159.4L249.8 1160.5L250.1 1159.9L250.4 1160.8L250.7 1159.4L251.0 1158.6L251.3 1159.2L251.6 1158.7L251.9 1159.7L252.2 1160.0L252.5 1158.9L252.8 1159.3L253.1 1159.1L253.4 1160.3L253.7 1159.4L254.0 1159.1L254.3 1160.6L254.6 1162.5L254.9 1163.4L255.2 1162.0L255.5 1161.3L255.8 1162.3L256.1 1161.2L256.4 1159.7L256.7 1159.9L257.0 1160.3L257.3 1159.3L257.6 1157.9L257.9 1157.3L258.2 1159.0L258.5 1158.6L258.8 1159.0L259.1 1159.6L259.4 1160.4L259.7 1159.9L260.0 1160.4L260.3 1159.4L260.6 1159.3L260.9 1158.6L261.2 1160.3L261.5 1160.1L261.8 1159.4L262.1 1159.3L262.4 1159.4L262.7 1160.3L263.0 1158.6L263.3 1158.2L263.6 1158.6L263.9 1161.6L264.2 1161.9L264.5 1161.1L264.8 1161.4L265.1 1162.9L265.4 1161.5L265.7 1160.5L266.0 1161.5L266.3 1161.4L266.6 1161.5L266.9 1160.4L267.2 1162.1L267.5 1163.0L267.8 1162.3L268.1 1162.0L268.4 1159.2L268.7 1160.1L269.0 1159.8L269.3 1160.3L269.6 1160.8L269.9 1160.0L270.2 1158.3L270.5 1159.2L270.8 1158.7L271.1 1158.8L271.4 1158.5L271.7 1158.6L272.0 1156.7L272.3 1159.1L272.6 1159.5L272.9 1160.6L273.2 1162.1L273.5 1161.0L273.8 1158.5L274.1 1157.9L274.4 1157.2L274.7 1157.5L275.0 1158.2L275.3 1156.5L275.6 1157.8L275.9 1156.7L276.2 1157.8L276.5 1158.0L276.8 1157.9L277.1 1158.1L277.4 1157.6L277.7 1157.3L278.0 1155.9L278.3 1156.7L278.6 1159.0L278.9 1160.4L279.2 1160.6L279.5 1160.0L279.8 1158.2L280.1 1159.2L280.4 1158.2L280.7 1157.5L281.0 1156.8L281.3 1156.7L281.6 1156.0L281.9 1155.8L282.2 1154.6L282.5 1154.5L282.8 1156.9L283.1 1156.0L283.4 1155.1L283.7 1155.2L284.0 1155.2L284.3 1153.3L284.6 1152.9L284.9 1153.6L285.2 1153.1L285.5 1152.5L285.8 1153.3L286.1 1151.4L286.4 1150.7L286.7 1149.4L287.0 1150.3L287.3 1147.1L287.6 1146.1L287.9 1145.2L288.2 1145.4L288.5 1145.1L288.8 1145.1L289.1 1141.6L289.4 1141.3L289.7 1139.3L290.0 1137.1L290.3 1136.2L290.6 1133.4L290.9 1129.6L291.2 1128.1L291.5 1125.0L291.8 1122.8L292.1 1121.3L292.4 1119.0L292.7 1117.5L293.0 1113.4L293.3 1107.9L293.6 1103.8L293.9 1099.4L294.2 1094.6L294.5 1091.4L294.8 1086.5L295.1 1080.3L295.4 1077.2L295.7 1072.7L296.0 1068.5L296.3 1064.1L296.6 1060.5L296.9 1056.4L297.2 1054.1L297.5 1051.3L297.8 1049.4L298.1 1048.3L298.4 1046.3L298.7 1047.1L299.0 1048.6L299.3 1051.3L299.6 1052.9L299.9 1058.5L300.2 1062.2L300.5 1065.0L300.8 1068.1L301.1 1073.3L301.4 1078.5L301.7 1082.9L302.0 1088.1L302.3 1092.2L302.6 1097.5L302.9 1101.0L303.2 1105.2L303.5 1110.2L303.8 1116.0L304.1 1117.2L304.4 1119.6L304.7 1121.8L305.0 1125.7L305.3 1127.0L305.6 1129.3L305.9 1132.0L306.2 1133.4L306.5 1134.9L306.8 1137.0L307.1 1137.2L307.4 1138.5L307.7 1140.8L308.0 1143.2L308.3 1144.8L308.6 1144.6L308.9 1146.1L309.2 1148.6L309.5 1150.2L309.8 1150.9L310.1 1150.7L310.4 1152.4L310.7 1152.5L311.0 1152.2L311.3 1152.6L311.6 1155.3L311.9 1155.8L312.2 1157.3L312.5 1156.7L312.8 1158.0L313.1 1157.4L313.4 1157.6L313.7 1160.5L314.0 1160.6L314.3 1159.6L314.6 1159.5L314.9 1160.0L315.2 1161.3L315.5 1160.5L315.8 1158.9L316.1 1159.5L316.4 1160.2L316.7 1160.8L317.0 1162.5L317.3 1162.6L317.6 1163.2L317.9 1161.8L318.2 1163.0L318.5 1165.0L318.8 1165.0L319.1 1164.5L319.4 1164.2L319.7 1165.7L320.0 1164.0L320.3 1163.9L320.6 1164.4L320.9 1165.1L321.2 1164.4L321.5 1164.8L321.8 1164.5L322.1 1164.7L322.4 1164.7L322.7 1163.8L323.0 1164.4L323.3 1165.7L323.6 1164.7L323.9 1164.9L324.2 1165.9L324.5 1164.9L324.8 1165.5L325.1 1164.8L325.4 1166.5L325.7 1168.8L326.0 1169.9L326.3 1168.4L326.6 1168.5L326.9 1168.0L327.2 1167.7L327.5 1169.0L327.8 1167.0L328.1 1168.1L328.4 1167.8L328.7 1169.0L329.0 1168.6L329.3 1167.6L329.6 1167.9L329.9 1168.6L330.2 1168.3L330.5 1168.7L330.8 1167.9L331.1 1165.9L331.4 1167.7L331.7 1168.6L332.0 1168.6L332.3 1168.5L332.6 1169.5L332.9 1168.6L333.2 1167.8L333.5 1167.9L333.8 1169.3L334.1 1167.6L334.4 1169.2L334.7 1168.3L335.0 1167.4L335.3 1169.1L335.6 1168.9L335.9 1167.5L336.2 1167.7L336.5 1169.0L336.8 1170.1L337.1 1169.2L337.4 1169.5L337.7 1169.9L338.0 1168.9L338.3 1169.3L338.6 1169.1L338.9 1168.5L339.2 1168.2L339.5 1168.6L339.8 1168.8L340.1 1168.4L340.4 1168.2L340.7 1169.7L341.0 1169.7L341.3 1170.3L341.6 1171.1L341.9 1170.9L342.2 1172.5L342.5 1170.3L342.8 1170.7L343.1 1169.8L343.4 1171.4L343.7 1172.2L344.0 1169.1L344.3 1168.3L344.6 1169.3L344.9 1170.1L345.2 1170.5L345.5 1170.0L345.8 1170.2L346.1 1170.5L346.4 1170.0L346.7 1170.8L347.0 1168.0L347.3 1169.2L347.6 1168.3L347.9 1169.7L348.2 1169.4L348.5 1168.6L348.8 1169.3L349.1 1168.5L349.4 1168.0L349.7 1167.1L350.0 1168.1L350.3 1169.2L350.6 1170.3L350.9 1169.9L351.2 1170.8L351.5 1170.4L351.8 1170.0L352.1 1170.4L352.4 1171.1L352.7 1170.2L353.0 1169.8L353.3 1169.6L353.6 1169.7L353.9 1168.8L354.2 1170.2L354.5 1169.6L354.8 1170.1L355.1 1169.1L355.4 1169.7L355.7 1170.1L356.0 1169.6L356.3 1171.6L356.6 1171.3L356.9 1172.4L357.2 1172.3L357.5 1170.6L357.8 1169.9L358.1 1170.3L358.4 1170.2L358.7 1170.1L359.0 1169.7L359.3 1168.0L359.6 1168.5L359.9 1166.8L360.2 1168.4L360.5 1168.3L360.8 1168.2L361.1 1168.7L361.4 1169.4L361.7 1168.2L362.0 1167.1L362.3 1167.2L362.6 1166.3L362.9 1166.8L363.2 1169.6L363.5 1168.7L363.8 1169.8L364.1 1168.5L364.4 1169.4L364.7 1169.3L365.0 1169.5L365.3 1170.2L365.6 1171.9L365.9 1171.3L366.2 1170.9L366.5 1169.6L366.8 1170.3L367.1 1169.9L367.4 1170.8L367.7 1170.4L368.0 1172.0L368.3 1169.2L368.6 1169.3L368.9 1170.4L369.2 1169.9L369.5 1169.2L369.8 1169.3L370.1 1168.3L370.4 1169.1L370.7 1171.9L371.0 1172.4L371.3 1170.4L371.6 1169.4L371.9 1169.4L372.2 1170.7L372.5 1169.7L372.8 1169.3L373.1 1170.6L373.4 1171.3L373.7 1170.6L374.0 1169.4L374.3 1168.3L374.6 1168.4L374.9 1167.1L375.2 1169.2L375.5 1169.1L375.8 1170.2L376.1 1172.2L376.4 1172.7L376.7 1170.8L377.0 1171.6L377.3 1172.4L377.6 1171.0L377.9 1170.0L378.2 1170.2L378.5 1168.9L378.8 1171.1L379.1 1168.7L379.4 1168.5L379.7 1169.2L380.0 1169.7L380.3 1170.4L380.6 1171.0L380.9 1170.9L381.2 1172.1L381.5 1169.7L381.8 1170.3L382.1 1170.0L382.4 1170.7L382.7 1171.2L383.0 1170.4L383.3 1170.2L383.6 1171.5L383.9 1171.9L384.2 1171.1L384.5 1173.3L384.8 1175.0L385.1 1172.2L385.4 1172.3L385.7 1174.6L386.0 1174.3L386.3 1173.6L386.6 1172.7L386.9 1171.9L387.2 1171.7L387.5 1171.3L387.8 1172.4L388.1 1171.9L388.4 1171.6L388.7 1170.7L389.0 1171.3L389.3 1170.8L389.6 1171.2L389.9 1172.7L390.2 1173.0L390.5 1173.3L390.8 1173.3L391.1 1173.1L391.4 1172.8L391.7 1172.4L392.0 1173.3L392.3 1172.0L392.6 1173.6L392.9 1173.3L393.2 1172.4L393.5 1172.1L393.8 1171.7L394.1 1172.4L394.4 1171.9L394.7 1173.5L395.0 1172.5L395.3 1170.5L395.6 1170.8L395.9 1169.7L396.2 1171.1L396.5 1173.0L396.8 1173.7L397.1 1172.2L397.4 1171.9L397.7 1174.2L398.0 1174.1L398.3 1173.8L398.6 1174.7L398.9 1176.6L399.2 1176.6L399.5 1175.5L399.8 1175.0L400.1 1175.0L400.4 1173.8L400.7 1172.6L401.0 1173.0L401.3 1172.3L401.6 1172.7L401.9 1173.2L402.2 1175.6L402.5 1174.0L402.8 1173.7L403.1 1173.5L403.4 1174.0L403.7 1174.9L404.0 1173.9L404.3 1173.0L404.6 1171.7L404.9 1171.6L405.2 1173.0L405.5 1173.3L405.8 1172.5L406.1 1172.6L406.4 1173.1L406.7 1173.9L407.0 1173.3L407.3 1173.3L407.6 1171.7L407.9 1171.4L408.2 1174.0L408.5 1171.8L408.8 1172.3L409.1 1173.2L409.4 1173.1L409.7 1172.7L410.0 1173.1L410.3 1173.5L410.6 1173.6L410.9 1171.9L411.2 1172.6L411.5 1172.3L411.8 1172.5L412.1 1173.3L412.4 1174.3L412.7 1175.1L413.0 1174.2L413.3 1175.1L413.6 1175.8L413.9 1176.3L414.2 1176.8L414.5 1175.6L414.8 1174.8L415.1 1175.4L415.4 1173.5L415.7 1174.0L416.0 1173.5L416.3 1173.4L416.6 1172.0L416.9 1172.0L417.2 1172.9L417.5 1174.3L417.8 1175.2L418.1 1174.7L418.4 1174.3L418.7 1173.5L419.0 1174.2L419.3 1173.9L419.6 1174.7L419.9 1176.2L420.2 1175.4L420.5 1173.4L420.8 1172.9L421.1 1172.0L421.4 1171.7L421.7 1174.0L422.0 1174.3L422.3 1172.8L422.6 1174.0L422.9 1175.3L423.2 1174.5L423.5 1173.7L423.8 1173.6L424.1 1174.1L424.4 1174.7L424.7 1175.7L425.0 1176.3L425.3 1176.6L425.6 1176.9L425.9 1176.4L426.2 1174.0L426.5 1173.9L426.8 1174.3L427.1 1173.8L427.4 1174.8L427.7 1174.1L428.0 1173.1L428.3 1174.9L428.6 1175.2L428.9 1174.9L429.2 1175.4L429.5 1175.8L429.8 1175.4L430.1 1172.3L430.4 1172.2L430.7 1172.4L431.0 1171.9L431.3 1172.8L431.6 1174.3L431.9 1173.5L432.2 1172.4L432.5 1174.8L432.8 1173.8L433.1 1172.4L433.4 1173.0L433.7 1173.6L434.0 1172.7L434.3 1173.7L434.6 1173.0L434.9 1172.1L435.2 1172.6L435.5 1173.5L435.8 1172.6L436.1 1173.0L436.4 1172.8L436.7 1175.5L437.0 1173.7L437.3 1174.6L437.6 1173.7L437.9 1173.0L438.2 1173.4L438.5 1173.8L438.8 1174.4L439.1 1173.7L439.4 1172.4L439.7 1171.6L440.0 1172.2L440.3 1172.5L440.6 1173.5L440.9 1173.0L441.2 1173.4L441.5 1174.0L441.8 1172.9L442.1 1170.6L442.4 1169.5L442.7 1168.5L443.0 1170.9L443.3 1169.8L443.6 1171.1L443.9 1171.2L444.2 1172.3L444.5 1172.2L444.8 1171.0L445.1 1170.1L445.4 1169.7L445.7 1169.5L446.0 1168.6L446.3 1168.4L446.6 1169.9L446.9 1167.3L447.2 1167.7L447.5 1166.6L447.8 1166.9L448.1 1167.6L448.4 1166.9L448.7 1167.2L449.0 1164.9L449.3 1166.0L449.6 1164.8L449.9 1165.1L450.2 1164.6L450.5 1161.3L450.8 1160.9L451.1 1161.3L451.4 1162.6L451.7 1161.8L452.0 1160.9L452.3 1158.3L452.6 1159.1L452.9 1159.5L453.2 1157.4L453.5 1155.4L453.8 1152.1L454.1 1151.9L454.4 1152.8L454.7 1150.6L455.0 1148.9L455.3 1146.2L455.6 1142.0L455.9 1140.6L456.2 1136.0L456.5 1133.0L456.8 1130.3L457.1 1127.9L457.4 1124.4L457.7 1120.8L458.0 1115.9L458.3 1110.8L458.6 1107.6L458.9 1103.5L459.2 1099.0L459.5 1095.2L459.8 1092.7L460.1 1089.2L460.4 1087.2L460.7 1085.6L461.0 1086.8L461.3 1088.3L461.6 1091.5L461.9 1091.0L462.2 1092.7L462.5 1096.7L462.8 1099.3L463.1 1102.3L463.4 1107.5L463.7 1110.1L464.0 1112.3L464.3 1114.9L464.6 1119.4L464.9 1123.3L465.2 1125.2L465.5 1127.8L465.8 1131.9L466.1 1135.4L466.4 1137.2L466.7 1140.3L467.0 1143.0L467.3 1142.9L467.6 1145.0L467.9 1147.5L468.2 1148.6L468.5 1148.2L468.8 1150.3L469.1 1153.0L469.4 1155.7L469.7 1154.0L470.0 1158.1L470.3 1157.1L470.6 1158.8L470.9 1160.3L471.2 1161.2L471.5 1161.1L471.8 1160.0L472.1 1161.2L472.4 1160.8L472.7 1158.9L473.0 1163.1L473.3 1163.7L473.6 1165.3L473.9 1163.7L474.2 1165.1L474.5 1166.2L474.8 1166.9L475.1 1165.8L475.4 1164.1L475.7 1164.2L476.0 1162.3L476.3 1161.7L476.6 1163.2L476.9 1163.1L477.2 1163.8L477.5 1164.4L477.8 1166.8L478.1 1167.7L478.4 1167.0L478.7 1167.8L479.0 1166.3L479.3 1166.0L479.6 1167.0L479.9 1165.5L480.2 1165.6L480.5 1164.7L480.8 1165.6L481.1 1167.7L481.4 1166.6L481.7 1166.9L482.0 1166.0L482.3 1165.3L482.6 1164.8L482.9 1167.2L483.2 1169.6L483.5 1169.3L483.8 1167.9L484.1 1168.6L484.4 1168.0L484.7 1168.9L485.0 1169.0L485.3 1169.1L485.6 1169.5L485.9 1168.7L486.2 1168.5L486.5 1167.1L486.8 1167.6L487.1 1167.0L487.4 1168.0L487.7 1167.9L488.0 1168.9L488.3 1170.0L488.6 1168.8L488.9 1168.8L489.2 1168.7L489.5 1170.4L489.8 1172.4L490.1 1172.8L490.4 1171.9L490.7 1173.3L491.0 1171.1L491.3 1172.9L491.6 1171.8L491.9 1169.1L492.2 1172.9L492.5 1174.1L492.8 1172.3L493.1 1172.3L493.4 1172.0L493.7 1172.1L494.0 1170.6L494.3 1170.5L494.6 1171.5L494.9 1171.9L495.2 1173.1L495.5 1172.7L495.8 1174.6L496.1 1172.8L496.4 1172.6L496.7 1170.4L497.0 1169.6L497.3 1171.7L497.6 1170.7L497.9 1171.5L498.2 1171.4L498.5 1170.4L498.8 1170.4L499.1 1170.2L499.4 1170.1L499.7 1171.2L500.0 1171.8L500.3 1170.8L500.6 1169.9L500.9 1170.5L501.2 1170.4L501.5 1171.5L501.8 1173.7L502.1 1173.1L502.4 1171.9L502.7 1171.0L503.0 1169.7L503.3 1168.8L503.6 1168.1L503.9 1168.3L504.2 1168.2L504.5 1169.3L504.8 1168.7L505.1 1168.5L505.4 1167.3L505.7 1169.3L506.0 1169.3L506.3 1170.5L506.6 1170.1L506.9 1170.4L507.2 1168.8L507.5 1168.7L507.8 1170.4L508.1 1167.4L508.4 1167.9L508.7 1168.5L509.0 1167.4L509.3 1167.0L509.6 1167.0L509.9 1164.9L510.2 1164.5L510.5 1162.7L510.8 1161.6L511.1 1160.8L511.4 1160.5L511.7 1160.3L512.0 1160.3L512.3 1158.0L512.6 1159.8L512.9 1159.7L513.2 1158.8L513.5 1156.9L513.8 1155.6L514.1 1155.0L514.4 1154.2L514.7 1151.1L515.0 1151.3L515.3 1153.2L515.6 1149.0L515.9 1149.0L516.2 1147.8L516.5 1146.2L516.8 1146.2L517.1 1143.2L517.4 1142.3L517.7 1142.7L518.0 1140.8L518.3 1139.0L518.6 1138.1L518.9 1136.7L519.2 1137.6L519.5 1135.4L519.8 1135.7L520.1 1133.6L520.4 1134.2L520.7 1133.7L521.0 1131.0L521.3 1132.1L521.6 1131.9L521.9 1132.7L522.2 1135.5L522.5 1135.0L522.8 1135.1L523.1 1138.2L523.4 1139.2L523.7 1141.8L524.0 1142.6L524.3 1142.4L524.6 1143.7L524.9 1146.2L525.2 1148.0L525.5 1148.5L525.8 1149.4L526.1 1150.2L526.4 1150.6L526.7 1153.9L527.0 1154.2L527.3 1153.7L527.6 1154.3L527.9 1156.3L528.2 1157.7L528.5 1158.0L528.8 1158.0L529.1 1158.9L529.4 1157.9L529.7 1158.0L530.0 1160.3L530.3 1160.6L530.6 1161.9L530.9 1163.6L531.2 1164.3L531.5 1164.1L531.8 1166.4L532.1 1166.3L532.4 1165.4L532.7 1166.1L533.0 1166.3L533.3 1165.2L533.6 1165.6L533.9 1165.7L534.2 1164.1L534.5 1165.0L534.8 1165.5L535.1 1165.7L535.4 1164.7L535.7 1165.5L536.0 1166.4L536.3 1167.2L536.6 1166.4L536.9 1167.9L537.2 1166.9L537.5 1167.5L537.8 1169.4L538.1 1168.6L538.4 1168.4L538.7 1169.9L539.0 1169.4L539.3 1169.3L539.6 1169.8L539.9 1171.0L540.2 1168.5L540.5 1168.5L540.8 1168.3L541.1 1168.2L541.4 1168.4L541.7 1168.7L542.0 1170.0L542.3 1169.7L542.6 1170.5L542.9 1171.4L543.2 1170.8L543.5 1171.4L543.8 1173.3L544.1 1173.2L544.4 1172.2L544.7 1172.2L545.0 1171.4L545.3 1172.2L545.6 1173.3L545.9 1172.3L546.2 1172.3L546.5 1173.7L546.8 1173.0L547.1 1173.2L547.4 1172.2L547.7 1171.8L548.0 1171.9L548.3 1174.7L548.6 1173.8L548.9 1173.2L549.2 1172.9L549.5 1173.1L549.8 1174.0L550.1 1174.2L550.4 1176.2L550.7 1175.6L551.0 1176.4L551.3 1175.8L551.6 1175.8L551.9 1173.8L552.2 1174.0L552.5 1174.1L552.8 1174.1L553.1 1172.2L553.4 1174.1L553.7 1174.0L554.0 1174.0L554.3 1174.1L554.6 1174.3L554.9 1175.0L555.2 1173.9L555.5 1173.5L555.8 1174.5L556.1 1175.0L556.4 1174.9L556.7 1174.6L557.0 1174.2L557.3 1174.7L557.6 1176.3L557.9 1175.1L558.2 1176.9L558.5 1177.4L558.8 1176.4L559.1 1177.0L559.4 1175.2L559.7 1173.9L560.0 1173.6L560.3 1174.3L560.6 1174.8L560.9 1175.0L561.2 1175.7L561.5 1173.9L561.8 1175.5L562.1 1174.6L562.4 1174.8L562.7 1175.2L563.0 1174.7L563.3 1174.2L563.6 1174.3L563.9 1175.4L564.2 1176.6L564.5 1177.4L564.8 1176.3L565.1 1175.9L565.4 1175.5L565.7 1176.7L566.0 1174.9L566.3 1177.1L566.6 1176.8L566.9 1176.3L567.2 1177.1L567.5 1178.3L567.8 1178.3L568.1 1179.1L568.4 1178.6L568.7 1179.5L569.0 1180.0L569.3 1179.0L569.6 1179.9L569.9 1179.2L570.2 1178.8L570.5 1177.5L570.8 1177.4L571.1 1178.3L571.4 1176.9L571.7 1177.9L572.0 1178.3L572.3 1178.4L572.6 1176.1L572.9 1176.7L573.2 1177.9L573.5 1177.2L573.8 1177.6L574.1 1175.4L574.4 1177.1L574.7 1176.8L575.0 1178.2L575.3 1176.3L575.6 1177.7L575.9 1177.6L576.2 1178.6L576.5 1177.4L576.8 1177.0L577.1 1179.6L577.4 1178.2L577.7 1177.4L578.0 1177.3L578.3 1176.6L578.6 1178.3L578.9 1179.8L579.2 1178.3L579.5 1176.4L579.8 1178.1L580.1 1179.0L580.4 1179.2L580.7 1179.7L581.0 1177.9L581.3 1177.6L581.6 1176.1L581.9 1175.2L582.2 1176.9L582.5 1176.3L582.8 1178.9L583.1 1178.2L583.4 1177.0L583.7 1177.7L584.0 1179.1L584.3 1178.6L584.6 1176.5L584.9 1176.9L585.2 1178.0L585.5 1176.8L585.8 1175.8L586.1 1176.9L586.4 1176.6L586.7 1175.2L587.0 1175.0L587.3 1174.5L587.6 1175.2L587.9 1175.4L588.2 1176.5L588.5 1176.6L588.8 1174.4L589.1 1175.0L589.4 1175.8L589.7 1175.8L590.0 1176.3L590.3 1175.0L590.6 1173.8L590.9 1174.9L591.2 1173.5L591.5 1171.5L591.8 1173.5L592.1 1172.8L592.4 1172.8L592.7 1171.7L593.0 1171.0L593.3 1170.8L593.6 1171.3L593.9 1172.3L594.2 1170.2L594.5 1171.9L594.8 1171.0L595.1 1170.5L595.4 1171.9L595.7 1171.9L596.0 1170.4L596.3 1172.8L596.6 1171.5L596.9 1171.8L597.2 1171.8L597.5 1173.0L597.8 1171.8L598.1 1172.4L598.4 1171.0L598.7 1171.9L599.0 1170.6L599.3 1170.0L599.6 1171.9L599.9 1171.4L600.2 1170.7L600.5 1172.4L600.8 1171.4L601.1 1169.6L601.4 1169.9L601.7 1168.1L602.0 1169.2L602.3 1169.9L602.6 1168.4L602.9 1167.3L603.2 1167.4L603.5 1167.1L603.8 1165.8L604.1 1166.5L604.4 1164.1L604.7 1164.2L605.0 1164.1L605.3 1164.0L605.6 1164.4L605.9 1163.0L606.2 1163.8L606.5 1163.3L606.8 1162.4L607.1 1161.0L607.4 1160.1L607.7 1161.0L608.0 1160.0L608.3 1160.3L608.6 1161.2L608.9 1161.6L609.2 1162.1L609.5 1160.4L609.8 1158.4L610.1 1159.1L610.4 1158.6L610.7 1158.9L611.0 1157.8L611.3 1158.1L611.6 1157.7L611.9 1157.2L612.2 1156.4L612.5 1155.7L612.8 1154.9L613.1 1154.2L613.4 1154.4L613.7 1152.8L614.0 1153.9L614.3 1152.5L614.6 1152.6L614.9 1151.5L615.2 1150.4L615.5 1151.9L615.8 1150.4L616.1 1148.4L616.4 1147.6L616.7 1147.4L617.0 1149.6L617.3 1149.0L617.6 1149.2L617.9 1147.4L618.2 1147.6L618.5 1148.0L618.8 1149.4L619.1 1147.7L619.4 1148.0L619.7 1148.0L620.0 1146.7L620.3 1147.1L620.6 1147.3L620.9 1145.6L621.2 1147.6L621.5 1149.1L621.8 1149.2L622.1 1148.7L622.4 1151.4L622.7 1152.2L623.0 1153.7L623.3 1155.3L623.6 1154.6L623.9 1155.8L624.2 1155.8L624.5 1156.3L624.8 1156.9L625.1 1157.6L625.4 1159.4L625.7 1159.8L626.0 1160.0L626.3 1160.3L626.6 1161.3L626.9 1160.9L627.2 1161.3L627.5 1162.2L627.8 1162.5L628.1 1163.3L628.4 1163.5L628.7 1166.3L629.0 1167.6L629.3 1167.6L629.6 1167.3L629.9 1169.5L630.2 1169.1L630.5 1168.5L630.8 1168.7L631.1 1169.0L631.4 1170.3L631.7 1169.8L632.0 1171.7L632.3 1170.0L632.6 1170.7L632.9 1169.5L633.2 1171.6L633.5 1170.9L633.8 1170.8L634.1 1171.8L634.4 1172.8L634.7 1171.1L635.0 1170.9L635.3 1169.9L635.6 1170.8L635.9 1171.2L636.2 1171.3L636.5 1171.0L636.8 1171.2L637.1 1171.1L637.4 1172.3L637.7 1174.1L638.0 1171.8L638.3 1172.3L638.6 1172.3L638.9 1173.3L639.2 1172.5L639.5 1172.9L639.8 1172.3L640.1 1173.7L640.4 1174.0L640.7 1174.0L641.0 1174.6L641.3 1174.3L641.6 1173.0L641.9 1174.3L642.2 1174.9L642.5 1174.8L642.8 1175.9L643.1 1176.9L643.4 1175.2L643.7 1174.6L644.0 1176.5L644.3 1177.6L644.6 1176.2L644.9 1174.9L645.2 1174.7L645.5 1174.8L645.8 1173.8L646.1 1174.8L646.4 1174.2L646.7 1173.9L647.0 1175.9L647.3 1175.5L647.6 1175.9L647.9 1176.8L648.2 1177.6L648.5 1177.0L648.8 1177.0L649.1 1176.2L649.4 1178.2L649.7 1178.4L650.0 1176.8L650.3 1177.0L650.6 1177.8L650.9 1178.1L651.2 1179.6L651.5 1180.1L651.8 1178.5L652.1 1178.1L652.4 1176.6L652.7 1177.3L653.0 1177.6L653.3 1180.4L653.6 1179.5L653.9 1176.8L654.2 1176.6L654.5 1177.3L654.8 1176.4L655.1 1176.2L655.4 1176.6L655.7 1177.6L656.0 1177.7L656.3 1177.1L656.6 1178.4L656.9 1177.9L657.2 1177.6L657.5 1176.7L657.8 1176.7L658.1 1178.1L658.4 1176.8L658.7 1177.5L659.0 1178.7L659.3 1178.4L659.6 1178.9L659.9 1177.8L660.2 1179.6L660.5 1180.5L660.8 1180.2L661.1 1178.0L661.4 1177.5L661.7 1179.2L662.0 1180.9L662.3 1180.6L662.6 1181.3L662.9 1180.0L663.2 1179.6L663.5 1179.6L663.8 1180.0L664.1 1178.3L664.4 1179.8L664.7 1181.1L665.0 1179.4L665.3 1178.2L665.6 1179.2L665.9 1178.8L666.2 1176.9L666.5 1178.9L666.8 1179.5L667.1 1179.2L667.4 1181.7L667.7 1181.2L668.0 1180.0L668.3 1180.2L668.6 1179.2L668.9 1178.8L669.2 1179.8L669.5 1179.5L669.8 1179.4L670.1 1181.4L670.4 1181.9L670.7 1182.1L671.0 1182.0L671.3 1181.8L671.6 1182.7L671.9 1181.8L672.2 1183.2L672.5 1181.2L672.8 1180.7L673.1 1179.3L673.4 1179.5L673.7 1180.5L674.0 1182.0L674.3 1180.9L674.6 1180.8L674.9 1180.5L675.2 1179.9L675.5 1179.1L675.8 1179.8L676.1 1178.5L676.4 1179.6L676.7 1180.1L677.0 1179.8L677.3 1179.2L677.6 1178.5L677.9 1181.3L678.2 1179.9L678.5 1181.8L678.8 1182.1L679.1 1181.3L679.4 1180.0L679.7 1181.4L680.0 1183.0L680.3 1181.3L680.6 1180.9L680.9 1182.0L681.2 1181.9L681.5 1183.5L681.8 1181.9L682.1 1182.1L682.4 1180.4L682.7 1182.7L683.0 1181.2L683.3 1178.9L683.6 1179.5L683.9 1179.9L684.2 1182.1L684.5 1181.2L684.8 1180.9L685.1 1181.4L685.4 1182.6L685.7 1181.7L686.0 1182.2L686.3 1181.9L686.6 1181.0L686.9 1180.7L687.2 1180.5L687.5 1179.4L687.8 1180.8L688.1 1179.1L688.4 1180.5L688.7 1181.2L689.0 1180.5L689.3 1179.4L689.6 1179.2L689.9 1179.8L690.2 1180.4L690.5 1180.3L690.8 1180.9L691.1 1179.7L691.4 1179.7L691.7 1178.0L692.0 1179.2L692.3 1179.3L692.6 1178.8L692.9 1180.1L693.2 1180.3L693.5 1177.0L693.8 1177.9L694.1 1176.9L694.4 1178.8L694.7 1181.3L695.0 1179.9L695.3 1179.6L695.6 1179.1L695.9 1179.4L696.2 1179.9L696.5 1180.8L696.8 1179.2L697.1 1180.7L697.4 1179.1L697.7 1179.4L698.0 1180.5L698.3 1180.7L698.6 1179.2L698.9 1178.5L699.2 1178.4L699.5 1178.7L699.8 1180.1L700.1 1178.5L700.4 1179.4L700.7 1180.0L701.0 1180.4L701.3 1180.5L701.6 1181.6L701.9 1181.3L702.2 1181.5L702.5 1181.4L702.8 1182.5L703.1 1179.6L703.4 1181.0L703.7 1180.3L704.0 1179.9L704.3 1179.0L704.6 1177.6L704.9 1178.2L705.2 1178.3L705.5 1179.6L705.8 1178.4L706.1 1180.6L706.4 1180.8L706.7 1180.4L707.0 1179.8L707.3 1179.3L707.6 1178.7L707.9 1179.0L708.2 1179.7L708.5 1180.0L708.8 1178.9L709.1 1179.5L709.4 1179.2L709.7 1180.1L710.0 1182.3L710.3 1182.4L710.6 1181.6L710.9 1179.9L711.2 1179.0L711.5 1178.3L711.8 1180.2L712.1 1180.0L712.4 1180.6L712.7 1180.4L713.0 1180.9L713.3 1182.6L713.6 1181.5L713.9 1181.3L714.2 1180.7L714.5 1182.0L714.8 1180.9L715.1 1180.2L715.4 1179.5L715.7 1179.1L716.0 1180.7L716.3 1183.8L716.6 1182.1L716.9 1183.0L717.2 1182.9L717.5 1181.5L717.8 1181.5L718.1 1181.5L718.4 1181.1L718.7 1183.5L719.0 1181.1L719.3 1181.9L719.6 1182.4L719.9 1181.8L720.2 1182.1L720.5 1183.1L720.8 1182.9L721.1 1183.1L721.4 1183.5L721.7 1181.0L722.0 1183.0L722.3 1184.9L722.6 1184.8L722.9 1184.8L723.2 1182.4L723.5 1182.2L723.8 1181.4L724.1 1181.2L724.4 1182.5L724.7 1181.6L725.0 1181.7L725.3 1180.0L725.6 1180.7L725.9 1181.4L726.2 1181.0L726.5 1180.7L726.8 1183.1L727.1 1181.5L727.4 1180.6L727.7 1180.4L728.0 1182.2L728.3 1184.2L728.6 1183.6L728.9 1182.2L729.2 1181.6L729.5 1182.7L729.8 1181.5L730.1 1183.0L730.4 1183.9L730.7 1183.1L731.0 1183.1L731.3 1183.3L731.6 1184.1L731.9 1182.1L732.2 1183.0L732.5 1182.0L732.8 1181.1L733.1 1181.3L733.4 1181.1L733.7 1180.3L734.0 1179.1L734.3 1179.0L734.6 1181.3L734.9 1183.2L735.2 1183.0L735.5 1183.4L735.8 1181.9L736.1 1181.4L736.4 1181.5L736.7 1180.1L737.0 1179.4L737.3 1180.0L737.6 1179.9L737.9 1179.1L738.2 1180.0L738.5 1179.9L738.8 1181.1L739.1 1180.7L739.4 1180.2L739.7 1180.3L740.0 1180.0L740.3 1179.4L740.6 1179.2L740.9 1180.2L741.2 1180.7L741.5 1181.7L741.8 1179.3L742.1 1179.1L742.4 1179.0L742.7 1179.5L743.0 1179.1L743.3 1178.9L743.6 1180.0L743.9 1180.1L744.2 1178.9L744.5 1180.6L744.8 1181.3L745.1 1180.2L745.4 1181.0L745.7 1179.9L746.0 1181.2L746.3 1180.6L746.6 1179.7L746.9 1179.7L747.2 1179.3L747.5 1180.0L747.8 1180.5L748.1 1180.7L748.4 1180.2L748.7 1176.9L749.0 1178.7L749.3 1177.9L749.6 1179.5L749.9 1181.4L750.2 1181.7L750.5 1181.3L750.8 1181.3L751.1 1181.3L751.4 1181.0L751.7 1180.8L752.0 1180.3L752.3 1182.2L752.6 1182.1L752.9 1183.0L753.2 1182.4L753.5 1182.4L753.8 1182.1L754.1 1182.6L754.4 1183.3L754.7 1183.1L755.0 1182.1L755.3 1181.4L755.6 1183.4L755.9 1182.7L756.2 1182.3L756.5 1183.8L756.8 1184.4L757.1 1184.1L757.4 1183.1L757.7 1185.2L758.0 1184.5L758.3 1184.3L758.6 1183.5L758.9 1181.8L759.2 1180.8L759.5 1182.0L759.8 1182.7L760.1 1182.5L760.4 1181.4L760.7 1180.6L761.0 1181.1L761.3 1180.4L761.6 1182.3L761.9 1183.6L762.2 1186.1L762.5 1185.7L762.8 1184.0L763.1 1182.7L763.4 1179.4L763.7 1180.2L764.0 1181.2L764.3 1182.8L764.6 1183.5L764.9 1183.9L765.2 1183.8L765.5 1184.1L765.8 1185.1L766.1 1183.2L766.4 1182.7L766.7 1181.5L767.0 1183.7L767.3 1184.8L767.6 1184.8L767.9 1183.0L768.2 1183.2L768.5 1183.0L768.8 1183.1L769.1 1182.9L769.4 1183.6L769.7 1183.0L770.0 1183.9L770.3 1183.9L770.6 1183.3L770.9 1183.2L771.2 1182.8L771.5 1183.8L771.8 1183.3L772.1 1183.6L772.4 1183.1L772.7 1181.7L773.0 1183.2L773.3 1182.2L773.6 1183.3L773.9 1183.7L774.2 1181.9L774.5 1181.6L774.8 1181.8L775.1 1181.6L775.4 1181.1L775.7 1182.8L776.0 1182.8L776.3 1183.4L776.6 1183.0L776.9 1183.4L777.2 1182.7L777.5 1182.9L777.8 1183.7L778.1 1183.6L778.4 1183.1L778.7 1182.2L779.0 1182.8L779.3 1183.4L779.6 1183.2L779.9 1182.5L780.2 1183.4L780.5 1185.9L780.8 1184.6L781.1 1184.5L781.4 1184.5L781.7 1181.5L782.0 1182.4L782.3 1182.2L782.6 1184.1L782.9 1183.6L783.2 1182.8L783.5 1182.9L783.8 1183.3L784.1 1182.8L784.4 1183.0L784.7 1181.9L785.0 1182.3L785.3 1183.6L785.6 1185.5L785.9 1185.4L786.2 1184.9L786.5 1185.5L786.8 1185.7L787.1 1186.5L787.4 1186.4L787.7 1185.1L788.0 1184.7L788.3 1184.4L788.6 1184.4L788.9 1184.2L789.2 1183.2L789.5 1181.2L789.8 1181.5L790.1 1180.3L790.4 1181.6L790.7 1182.4L791.0 1181.2L791.3 1182.8L791.6 1183.9L791.9 1183.8L792.2 1185.3L792.5 1186.4L792.8 1184.0L793.1 1184.8L793.4 1184.7L793.7 1184.6L794.0 1185.0L794.3 1183.7L794.6 1183.0L794.9 1182.3L795.2 1182.0L795.5 1182.4L795.8 1181.3L796.1 1181.1L796.4 1182.5L796.7 1182.8L797.0 1183.3L797.3 1181.4L797.6 1181.4L797.9 1181.5L798.2 1182.2L798.5 1182.0L798.8 1183.4L799.1 1183.2L799.4 1183.1L799.7 1183.1L800.0 1183.7L800.3 1182.9L800.6 1184.0L800.9 1184.0L801.2 1183.6L801.5 1183.3L801.8 1183.5L802.1 1184.1L802.4 1184.3L802.7 1183.8L803.0 1184.0L803.3 1183.3L803.6 1183.9L803.9 1183.0L804.2 1180.3L804.5 1182.1L804.8 1181.8L805.1 1180.3L805.4 1180.2L805.7 1179.5L806.0 1181.8L806.3 1181.5L806.6 1179.2L806.9 1179.8L807.2 1179.0L807.5 1180.6L807.8 1178.5L808.1 1175.8L808.4 1176.2L808.7 1175.7L809.0 1175.0L809.3 1172.4L809.6 1172.9L809.9 1173.9L810.2 1170.3L810.5 1170.5L810.8 1168.0L811.1 1168.5L811.4 1165.9L811.7 1162.7L812.0 1161.0L812.3 1158.3L812.6 1154.5L812.9 1152.6L813.2 1149.6L813.5 1146.1L813.8 1147.8L814.1 1146.8L814.4 1146.6L814.7 1148.2L815.0 1148.3L815.3 1149.5L815.6 1152.1L815.9 1154.6L816.2 1157.5L816.5 1161.1L816.8 1162.4L817.1 1164.7L817.4 1166.7L817.7 1166.8L818.0 1168.4L818.3 1168.6L818.6 1171.0L818.9 1172.0L819.2 1172.4L819.5 1171.5L819.8 1172.4L820.1 1172.2L820.4 1173.7L820.7 1173.8L821.0 1173.2L821.3 1174.6L821.6 1175.2L821.9 1174.3L822.2 1175.5L822.5 1174.8L822.8 1174.3L823.1 1174.4L823.4 1173.6L823.7 1173.3L824.0 1173.4L824.3 1175.0L824.6 1175.8L824.9 1174.5L825.2 1175.3L825.5 1174.0L825.8 1173.5L826.1 1173.4L826.4 1172.4L826.7 1173.6L827.0 1171.8L827.3 1168.9L827.6 1169.1L827.9 1167.1L828.2 1165.4L828.5 1161.1L828.8 1161.9L829.1 1161.5L829.4 1160.5L829.7 1159.5L830.0 1158.9L830.3 1156.3L830.6 1155.3L830.9 1152.7L831.2 1151.4L831.5 1152.0L831.8 1152.0L832.1 1150.7L832.4 1152.1L832.7 1152.9L833.0 1153.5L833.3 1155.8L833.6 1157.0L833.9 1157.3L834.2 1158.5L834.5 1162.8L834.8 1162.7L835.1 1164.9L835.4 1167.1L835.7 1168.9L836.0 1168.6L836.3 1169.7L836.6 1171.1L836.9 1173.0L837.2 1172.9L837.5 1172.6L837.8 1174.8L838.1 1176.4L838.4 1176.9L838.7 1176.3L839.0 1177.1L839.3 1177.5L839.6 1178.5L839.9 1177.2L840.2 1177.8L840.5 1178.0L840.8 1177.3L841.1 1178.2L841.4 1178.7L841.7 1178.6L842.0 1179.4L842.3 1178.2L842.6 1178.9L842.9 1179.8L843.2 1180.3L843.5 1181.4L843.8 1180.0L844.1 1178.8L844.4 1179.9L844.7 1180.9L845.0 1183.1L845.3 1183.1L845.6 1181.6L845.9 1182.5L846.2 1181.4L846.5 1180.2L846.8 1183.6L847.1 1183.4L847.4 1183.7L847.7 1183.8L848.0 1185.2L848.3 1184.5L848.6 1185.1L848.9 1183.3L849.2 1181.9L849.5 1183.9L849.8 1185.2L850.1 1185.1L850.4 1184.7L850.7 1184.5L851.0 1183.6L851.3 1185.3L851.6 1185.5L851.9 1185.5L852.2 1185.4L852.5 1186.0L852.8 1185.9L853.1 1186.0L853.4 1184.3L853.7 1184.9L854.0 1187.0L854.3 1185.6L854.6 1185.1L854.9 1185.9L855.2 1186.4L855.5 1186.4L855.8 1184.2L856.1 1184.9L856.4 1183.7L856.7 1183.4L857.0 1184.5L857.3 1184.3L857.6 1185.4L857.9 1188.3L858.2 1187.7L858.5 1187.3L858.8 1185.4L859.1 1184.6L859.4 1183.7L859.7 1183.6L860.0 1183.1L860.3 1183.2L860.6 1183.7L860.9 1183.2L861.2 1182.5L861.5 1182.1L861.8 1183.7L862.1 1184.3L862.4 1185.6L862.7 1186.4L863.0 1185.5L863.3 1185.9L863.6 1184.1L863.9 1186.7L864.2 1187.2L864.5 1186.1L864.8 1184.5L865.1 1185.1L865.4 1183.2L865.7 1183.2L866.0 1184.6L866.3 1184.9L866.6 1184.4L866.9 1185.6L867.2 1184.4L867.5 1184.9L867.8 1184.5L868.1 1183.9L868.4 1184.8L868.7 1183.9L869.0 1186.2L869.3 1185.2L869.6 1187.1L869.9 1185.2L870.2 1185.7L870.5 1184.3L870.8 1183.2L871.1 1184.1L871.4 1185.1L871.7 1183.8L872.0 1185.5L872.3 1184.5L872.6 1184.8L872.9 1185.3L873.2 1185.8L873.5 1183.7L873.8 1185.8L874.1 1186.0L874.4 1185.2" fill="none" stroke="#f00" stroke-width="2.90" stroke-linejoin="round" stroke-linecap="butt"/>
<path d="M55.4 1073.0L55.7 1073.1L56.0 1069.7L56.3 1069.3L56.6 1069.8L56.9 1070.1L57.2 1069.7L57.5 1069.8L57.8 1068.9L58.1 1068.4L58.4 1067.7L58.7 1066.2L59.0 1065.3L59.3 1065.6L59.6 1065.0L59.9 1065.9L60.2 1066.4L60.5 1067.0L60.8 1065.9L61.1 1066.3L61.4 1064.7L61.7 1063.8L62.0 1063.8L62.3 1064.0L62.6 1062.6L62.9 1061.6L63.2 1062.5L63.5 1062.1L63.8 1063.4L64.1 1063.5L64.4 1063.4L64.7 1063.3L65.0 1063.7L65.3 1063.1L65.6 1063.7L65.9 1062.8L66.2 1062.4L66.5 1061.9L66.8 1062.5L67.1 1062.4L67.4 1061.7L67.7 1063.5L68.0 1062.7L68.3 1062.5L68.6 1062.7L68.9 1063.9L69.2 1063.3L69.5 1063.5L69.8 1063.3L70.1 1062.0L70.4 1062.9L70.7 1063.7L71.0 1063.3L71.3 1063.2L71.6 1062.1L71.9 1061.5L72.2 1062.0L72.5 1063.2L72.8 1063.1L73.1 1063.6L73.4 1064.5L73.7 1064.5L74.0 1064.8L74.3 1065.8L74.6 1064.3L74.9 1065.0L75.2 1063.5L75.5 1064.4L75.8 1064.8L76.1 1064.5L76.4 1064.0L76.7 1064.5L77.0 1064.6L77.3 1065.1L77.6 1064.7L77.9 1065.7L78.2 1065.1L78.5 1065.4L78.8 1065.5L79.1 1066.9L79.4 1065.8L79.7 1066.0L80.0 1067.4L80.3 1066.9L80.6 1066.2L80.9 1067.0L81.2 1067.2L81.5 1068.2L81.8 1067.5L82.1 1068.0L82.4 1068.8L82.7 1069.6L83.0 1068.5L83.3 1069.9L83.6 1069.0L83.9 1068.1L84.2 1068.0L84.5 1068.9L84.8 1069.1L85.1 1069.9L85.4 1070.5L85.7 1070.8L86.0 1070.6L86.3 1072.1L86.6 1070.0L86.9 1069.2L87.2 1069.7L87.5 1069.5L87.8 1068.5L88.1 1069.2L88.4 1069.8L88.7 1068.9L89.0 1070.9L89.3 1072.5L89.6 1073.4L89.9 1072.7L90.2 1072.9L90.5 1072.0L90.8 1072.6L91.1 1072.3L91.4 1073.0L91.7 1072.8L92.0 1073.9L92.3 1074.4L92.6 1075.0L92.9 1073.3L93.2 1072.1L93.5 1073.2L93.8 1073.1L94.1 1073.8L94.4 1074.2L94.7 1074.4L95.0 1075.1L95.3 1075.3L95.6 1075.3L95.9 1074.4L96.2 1075.8L96.5 1075.5L96.8 1076.1L97.1 1075.9L97.4 1076.5L97.7 1076.1L98.0 1075.9L98.3 1075.7L98.6 1075.0L98.9 1074.7L99.2 1074.9L99.5 1075.0L99.8 1074.5L100.1 1076.7L100.4 1075.6L100.7 1075.4L101.0 1077.4L101.3 1076.3L101.6 1076.7L101.9 1076.9L102.2 1076.3L102.5 1075.1L102.8 1074.3L103.1 1075.0L103.4 1075.7L103.7 1074.3L104.0 1075.1L104.3 1075.0L104.6 1076.2L104.9 1076.3L105.2 1075.7L105.5 1075.6L105.8 1075.9L106.1 1077.0L106.4 1079.0L106.7 1078.2L107.0 1077.5L107.3 1077.5L107.6 1077.0L107.9 1077.2L108.2 1077.2L108.5 1076.8L108.8 1076.0L109.1 1076.2L109.4 1076.9L109.7 1076.7L110.0 1077.6L110.3 1077.7L110.6 1076.9L110.9 1077.8L111.2 1076.2L111.5 1076.9L111.8 1077.8L112.1 1076.8L112.4 1076.2L112.7 1076.6L113.0 1077.2L113.3 1076.8L113.6 1076.3L113.9 1076.5L114.2 1076.1L114.5 1074.7L114.8 1074.6L115.1 1074.6L115.4 1073.5L115.7 1074.2L116.0 1073.7L116.3 1074.5L116.6 1073.2L116.9 1072.8L117.2 1072.1L117.5 1073.7L117.8 1074.5L118.1 1075.1L118.4 1075.3L118.7 1075.0L119.0 1074.6L119.3 1072.3L119.6 1072.4L119.9 1071.6L120.2 1071.2L120.5 1070.1L120.8 1071.2L121.1 1070.8L121.4 1069.2L121.7 1069.5L122.0 1069.1L122.3 1067.9L122.6 1067.5L122.9 1066.7L123.2 1064.7L123.5 1063.9L123.8 1064.6L124.1 1064.6L124.4 1064.2L124.7 1062.4L125.0 1061.4L125.3 1060.9L125.6 1060.6L125.9 1058.8L126.2 1057.0L126.5 1057.1L126.8 1055.7L127.1 1054.0L127.4 1052.0L127.7 1050.2L128.0 1050.1L128.3 1048.8L128.6 1046.0L128.9 1042.6L129.2 1041.7L129.5 1040.0L129.8 1037.5L130.1 1034.7L130.4 1029.8L130.7 1026.3L131.0 1024.5L131.3 1021.5L131.6 1018.8L131.9 1015.2L132.2 1011.5L132.5 1008.7L132.8 1005.2L133.1 1002.2L133.4 999.2L133.7 995.8L134.0 992.7L134.3 988.9L134.6 982.0L134.9 975.8L135.2 968.3L135.5 961.2L135.8 952.0L136.1 944.4L136.4 937.0L136.7 929.7L137.0 921.1L137.3 913.0L137.6 903.6L137.9 895.6L138.2 887.3L138.5 876.2L138.8 866.5L139.1 858.0L139.4 849.2L139.7 841.5L140.0 831.3L140.3 820.5L140.6 808.9L140.9 801.7L141.2 795.3L141.5 792.0L141.8 790.8L142.1 790.6L142.4 793.9L142.7 800.0L143.0 809.4L143.3 819.3L143.6 830.4L143.9 841.1L144.2 851.6L144.5 862.8L144.8 873.4L145.1 883.3L145.4 894.5L145.7 907.4L146.0 917.1L146.3 928.5L146.6 939.2L146.9 947.6L147.2 957.0L147.5 964.6L147.8 973.7L148.1 980.0L148.4 984.8L148.7 989.5L149.0 993.2L149.3 996.3L149.6 999.7L149.9 1002.6L150.2 1005.4L150.5 1010.3L150.8 1016.5L151.1 1020.4L151.4 1023.7L151.7 1027.0L152.0 1031.5L152.3 1034.7L152.6 1038.0L152.9 1039.5L153.2 1042.1L153.5 1044.6L153.8 1048.7L154.1 1051.2L154.4 1052.0L154.7 1055.6L155.0 1059.2L155.3 1062.3L155.6 1061.8L155.9 1064.4L156.2 1067.0L156.5 1069.1L156.8 1070.2L157.1 1070.3L157.4 1071.9L157.7 1073.4L158.0 1075.5L158.3 1077.3L158.6 1078.1L158.9 1079.8L159.2 1079.8L159.5 1080.4L159.8 1081.6L160.1 1083.0L160.4 1083.5L160.7 1085.2L161.0 1085.9L161.3 1085.5L161.6 1086.3L161.9 1086.2L162.2 1086.3L162.5 1086.3L162.8 1088.5L163.1 1089.7L163.4 1088.7L163.7 1090.3L164.0 1091.3L164.3 1091.1L164.6 1091.8L164.9 1093.6L165.2 1093.4L165.5 1093.5L165.8 1094.3L166.1 1093.2L166.4 1092.5L166.7 1092.1L167.0 1093.0L167.3 1094.4L167.6 1094.1L167.9 1093.6L168.2 1094.6L168.5 1094.9L168.8 1095.9L169.1 1096.1L169.4 1096.2L169.7 1096.5L170.0 1096.8L170.3 1096.4L170.6 1096.1L170.9 1098.1L171.2 1100.5L171.5 1100.5L171.8 1098.5L172.1 1098.7L172.4 1099.7L172.7 1098.3L173.0 1098.4L173.3 1098.6L173.6 1098.4L173.9 1098.4L174.2 1099.9L174.5 1099.7L174.8 1099.9L175.1 1101.5L175.4 1100.6L175.7 1099.3L176.0 1100.5L176.3 1102.4L176.6 1102.2L176.9 1102.2L177.2 1101.0L177.5 1100.6L177.8 1102.3L178.1 1103.2L178.4 1103.3L178.7 1102.4L179.0 1101.5L179.3 1101.2L179.6 1100.9L179.9 1102.2L180.2 1101.9L180.5 1102.0L180.8 1103.0L181.1 1103.6L181.4 1103.6L181.7 1103.9L182.0 1103.8L182.3 1102.3L182.6 1102.8L182.9 1102.9L183.2 1103.1L183.5 1103.7L183.8 1103.4L184.1 1104.7L184.4 1104.4L184.7 1104.6L185.0 1104.8L185.3 1104.6L185.6 1105.2L185.9 1105.6L186.2 1105.8L186.5 1104.9L186.8 1104.3L187.1 1104.2L187.4 1104.6L187.7 1103.5L188.0 1103.6L188.3 1103.5L188.6 1103.8L188.9 1103.8L189.2 1105.2L189.5 1105.7L189.8 1106.5L190.1 1105.5L190.4 1105.1L190.7 1105.2L191.0 1106.8L191.3 1107.8L191.6 1106.7L191.9 1107.0L192.2 1108.3L192.5 1106.8L192.8 1106.5L193.1 1107.5L193.4 1107.7L193.7 1106.5L194.0 1107.7L194.3 1108.1L194.6 1108.1L194.9 1106.7L195.2 1106.6L195.5 1107.8L195.8 1107.8L196.1 1108.1L196.4 1107.5L196.7 1108.5L197.0 1107.8L197.3 1108.3L197.6 1108.1L197.9 1107.1L198.2 1108.3L198.5 1107.0L198.8 1106.7L199.1 1107.1L199.4 1106.2L199.7 1105.4L200.0 1106.2L200.3 1106.5L200.6 1106.8L200.9 1107.6L201.2 1109.4L201.5 1108.5L201.8 1110.1L202.1 1109.4L202.4 1108.8L202.7 1106.4L203.0 1105.9L203.3 1107.0L203.6 1107.9L203.9 1107.3L204.2 1107.9L204.5 1108.7L204.8 1108.1L205.1 1106.9L205.4 1106.7L205.7 1107.1L206.0 1107.9L206.3 1108.7L206.6 1107.9L206.9 1108.1L207.2 1108.1L207.5 1108.3L207.8 1109.2L208.1 1109.9L208.4 1109.1L208.7 1108.4L209.0 1108.0L209.3 1107.9L209.6 1107.9L209.9 1108.1L210.2 1108.0L210.5 1107.5L210.8 1107.2L211.1 1107.9L211.4 1110.1L211.7 1110.1L212.0 1110.1L212.3 1109.9L212.6 1109.4L212.9 1110.8L213.2 1109.8L213.5 1108.8L213.8 1108.0L214.1 1108.6L214.4 1108.0L214.7 1107.8L215.0 1107.7L215.3 1107.3L215.6 1108.2L215.9 1107.3L216.2 1109.8L216.5 1107.5L216.8 1107.2L217.1 1108.1L217.4 1108.9L217.7 1108.8L218.0 1109.3L218.3 1109.4L218.6 1109.5L218.9 1109.9L219.2 1109.9L219.5 1109.7L219.8 1109.5L220.1 1110.2L220.4 1109.8L220.7 1110.2L221.0 1111.1L221.3 1110.8L221.6 1111.3L221.9 1110.3L222.2 1110.3L222.5 1110.5L222.8 1110.4L223.1 1110.5L223.4 1111.3L223.7 1110.5L224.0 1109.8L224.3 1110.1L224.6 1108.9L224.9 1109.3L225.2 1110.5L225.5 1110.3L225.8 1110.6L226.1 1110.7L226.4 1111.4L226.7 1111.3L227.0 1111.0L227.3 1108.2L227.6 1108.6L227.9 1109.8L228.2 1109.9L228.5 1109.5L228.8 1110.5L229.1 1109.8L229.4 1109.7L229.7 1110.5L230.0 1110.1L230.3 1110.3L230.6 1110.4L230.9 1109.5L231.2 1109.5L231.5 1109.6L231.8 1109.5L232.1 1110.7L232.4 1110.6L232.7 1110.1L233.0 1109.3L233.3 1109.5L233.6 1111.0L233.9 1110.6L234.2 1111.2L234.5 1111.3L234.8 1110.7L235.1 1110.0L235.4 1110.7L235.7 1109.4L236.0 1110.4L236.3 1109.6L236.6 1110.7L236.9 1110.5L237.2 1110.5L237.5 1111.5L237.8 1110.5L238.1 1110.7L238.4 1110.5L238.7 1111.1L239.0 1111.5L239.3 1111.5L239.6 1111.4L239.9 1111.0L240.2 1111.4L240.5 1111.1L240.8 1111.1L241.1 1111.2L241.4 1110.1L241.7 1109.6L242.0 1110.4L242.3 1110.6L242.6 1111.8L242.9 1109.7L243.2 1110.4L243.5 1111.5L243.8 1111.4L244.1 1111.9L244.4 1111.6L244.7 1111.4L245.0 1112.0L245.3 1110.7L245.6 1109.2L245.9 1110.4L246.2 1110.8L246.5 1111.1L246.8 1111.4L247.1 1111.8L247.4 1111.2L247.7 1111.6L248.0 1111.7L248.3 1110.7L248.6 1110.8L248.9 1111.2L249.2 1110.7L249.5 1111.7L249.8 1111.4L250.1 1112.0L250.4 1112.8L250.7 1111.1L251.0 1110.3L251.3 1111.2L251.6 1111.1L251.9 1111.6L252.2 1112.9L252.5 1111.9L252.8 1112.4L253.1 1111.8L253.4 1111.2L253.7 1111.7L254.0 1111.8L254.3 1112.5L254.6 1112.4L254.9 1112.7L255.2 1112.6L255.5 1110.9L255.8 1110.9L256.1 1110.9L256.4 1111.9L256.7 1111.0L257.0 1111.4L257.3 1111.2L257.6 1110.0L257.9 1110.5L258.2 1111.4L258.5 1111.2L258.8 1112.1L259.1 1112.2L259.4 1112.2L259.7 1111.6L260.0 1111.5L260.3 1111.9L260.6 1111.8L260.9 1110.8L261.2 1111.0L261.5 1111.6L261.8 1112.4L262.1 1112.7L262.4 1111.6L262.7 1112.1L263.0 1110.7L263.3 1110.6L263.6 1110.4L263.9 1112.0L264.2 1112.3L264.5 1112.2L264.8 1111.5L265.1 1112.4L265.4 1111.9L265.7 1112.1L266.0 1112.7L266.3 1111.9L266.6 1112.1L266.9 1110.3L267.2 1111.2L267.5 1110.0L267.8 1110.8L268.1 1111.2L268.4 1111.6L268.7 1113.2L269.0 1110.5L269.3 1111.1L269.6 1110.8L269.9 1111.5L270.2 1111.5L270.5 1111.4L270.8 1110.8L271.1 1110.3L271.4 1110.8L271.7 1109.6L272.0 1110.9L272.3 1110.3L272.6 1110.8L272.9 1109.8L273.2 1110.4L273.5 1110.2L273.8 1110.8L274.1 1111.5L274.4 1110.5L274.7 1110.4L275.0 1110.4L275.3 1111.2L275.6 1109.6L275.9 1110.0L276.2 1109.8L276.5 1108.7L276.8 1108.6L277.1 1108.3L277.4 1109.3L277.7 1108.4L278.0 1109.2L278.3 1108.5L278.6 1108.9L278.9 1107.2L279.2 1106.9L279.5 1107.3L279.8 1106.6L280.1 1105.6L280.4 1106.1L280.7 1106.9L281.0 1106.6L281.3 1106.2L281.6 1106.3L281.9 1105.5L282.2 1106.0L282.5 1106.2L282.8 1104.4L283.1 1104.8L283.4 1104.7L283.7 1104.0L284.0 1103.8L284.3 1103.9L284.6 1104.1L284.9 1103.7L285.2 1101.8L285.5 1101.5L285.8 1098.8L286.1 1098.7L286.4 1098.1L286.7 1097.6L287.0 1095.4L287.3 1095.4L287.6 1094.8L287.9 1093.0L288.2 1090.2L288.5 1089.2L288.8 1087.1L289.1 1084.6L289.4 1083.1L289.7 1083.7L290.0 1080.3L290.3 1078.3L290.6 1076.6L290.9 1075.2L291.2 1071.9L291.5 1069.0L291.8 1067.5L292.1 1065.1L292.4 1063.2L292.7 1059.1L293.0 1056.3L293.3 1054.2L293.6 1051.1L293.9 1047.1L294.2 1044.6L294.5 1040.4L294.8 1037.7L295.1 1036.3L295.4 1034.7L295.7 1032.7L296.0 1031.1L296.3 1028.1L296.6 1026.7L296.9 1027.1L297.2 1028.4L297.5 1028.1L297.8 1027.2L298.1 1027.3L298.4 1029.6L298.7 1031.7L299.0 1032.1L299.3 1034.3L299.6 1037.6L299.9 1040.6L300.2 1042.1L300.5 1044.4L300.8 1047.4L301.1 1049.1L301.4 1050.9L301.7 1053.7L302.0 1057.9L302.3 1061.4L302.6 1064.1L302.9 1065.4L303.2 1066.5L303.5 1068.8L303.8 1071.9L304.1 1075.3L304.4 1076.7L304.7 1079.0L305.0 1079.7L305.3 1080.6L305.6 1083.3L305.9 1084.7L306.2 1086.2L306.5 1086.7L306.8 1089.9L307.1 1090.3L307.4 1092.4L307.7 1092.9L308.0 1094.5L308.3 1097.1L308.6 1098.3L308.9 1099.2L309.2 1100.7L309.5 1101.6L309.8 1103.1L310.1 1102.1L310.4 1103.9L310.7 1104.3L311.0 1103.9L311.3 1105.1L311.6 1106.0L311.9 1106.4L312.2 1107.4L312.5 1106.6L312.8 1106.0L313.1 1106.6L313.4 1108.4L313.7 1109.2L314.0 1109.4L314.3 1109.2L314.6 1109.7L314.9 1111.0L315.2 1110.6L315.5 1110.5L315.8 1111.3L316.1 1112.0L316.4 1112.2L316.7 1113.3L317.0 1113.2L317.3 1112.3L317.6 1111.0L317.9 1112.8L318.2 1112.9L318.5 1113.5L318.8 1114.0L319.1 1115.0L319.4 1115.5L319.7 1115.8L320.0 1115.6L320.3 1115.1L320.6 1115.2L320.9 1114.6L321.2 1115.1L321.5 1116.0L321.8 1116.4L322.1 1116.2L322.4 1115.4L322.7 1114.9L323.0 1114.8L323.3 1115.0L323.6 1115.9L323.9 1116.4L324.2 1116.9L324.5 1117.5L324.8 1116.5L325.1 1116.4L325.4 1117.0L325.7 1117.6L326.0 1116.9L326.3 1116.5L326.6 1117.6L326.9 1118.0L327.2 1118.1L327.5 1117.7L327.8 1116.9L328.1 1117.2L328.4 1117.6L328.7 1118.1L329.0 1118.7L329.3 1118.5L329.6 1119.2L329.9 1118.5L330.2 1118.6L330.5 1118.5L330.8 1117.1L331.1 1116.6L331.4 1116.9L331.7 1117.7L332.0 1118.3L332.3 1119.4L332.6 1119.1L332.9 1118.7L333.2 1119.0L333.5 1118.0L333.8 1118.2L334.1 1117.7L334.4 1118.3L334.7 1118.0L335.0 1118.1L335.3 1119.9L335.6 1120.5L335.9 1121.8L336.2 1120.9L336.5 1120.1L336.8 1119.2L337.1 1119.2L337.4 1118.0L337.7 1118.6L338.0 1118.5L338.3 1117.9L338.6 1117.2L338.9 1117.5L339.2 1118.0L339.5 1118.6L339.8 1117.8L340.1 1118.6L340.4 1119.3L340.7 1121.1L341.0 1120.9L341.3 1121.2L341.6 1120.1L341.9 1120.0L342.2 1119.5L342.5 1119.0L342.8 1119.8L343.1 1119.7L343.4 1121.0L343.7 1120.6L344.0 1120.7L344.3 1119.6L344.6 1119.1L344.9 1120.0L345.2 1119.6L345.5 1120.8L345.8 1120.0L346.1 1119.5L346.4 1121.3L346.7 1119.6L347.0 1119.6L347.3 1120.3L347.6 1120.8L347.9 1119.8L348.2 1121.7L348.5 1120.9L348.8 1119.3L349.1 1120.5L349.4 1120.2L349.7 1120.4L350.0 1121.0L350.3 1120.2L350.6 1119.8L350.9 1120.1L351.2 1121.0L351.5 1119.9L351.8 1121.3L352.1 1121.4L352.4 1120.3L352.7 1120.5L353.0 1121.0L353.3 1121.9L353.6 1122.1L353.9 1122.5L354.2 1121.7L354.5 1121.9L354.8 1119.5L355.1 1120.8L355.4 1120.8L355.7 1122.1L356.0 1121.2L356.3 1120.7L356.6 1120.9L356.9 1121.5L357.2 1121.6L357.5 1122.1L357.8 1121.8L358.1 1122.3L358.4 1123.9L358.7 1123.7L359.0 1123.2L359.3 1121.3L359.6 1121.7L359.9 1122.3L360.2 1121.7L360.5 1122.3L360.8 1120.2L361.1 1120.1L361.4 1119.9L361.7 1120.8L362.0 1120.4L362.3 1120.0L362.6 1121.7L362.9 1120.4L363.2 1121.2L363.5 1122.1L363.8 1121.6L364.1 1120.8L364.4 1120.9L364.7 1120.7L365.0 1120.4L365.3 1121.0L365.6 1121.1L365.9 1123.6L366.2 1123.7L366.5 1123.0L366.8 1122.8L367.1 1123.6L367.4 1123.6L367.7 1122.9L368.0 1121.8L368.3 1123.0L368.6 1122.5L368.9 1122.3L369.2 1123.1L369.5 1122.6L369.8 1123.2L370.1 1122.4L370.4 1122.3L370.7 1121.9L371.0 1123.4L371.3 1121.6L371.6 1121.5L371.9 1121.0L372.2 1120.7L372.5 1120.2L372.8 1120.2L373.1 1121.7L373.4 1122.9L373.7 1121.9L374.0 1121.0L374.3 1120.9L374.6 1122.5L374.9 1122.2L375.2 1120.5L375.5 1121.7L375.8 1121.7L376.1 1122.2L376.4 1122.4L376.7 1121.2L377.0 1122.3L377.3 1122.7L377.6 1121.9L377.9 1120.2L378.2 1120.0L378.5 1120.0L378.8 1121.3L379.1 1121.1L379.4 1121.2L379.7 1121.5L380.0 1121.4L380.3 1122.0L380.6 1122.3L380.9 1122.9L381.2 1121.7L381.5 1122.1L381.8 1121.9L382.1 1123.6L382.4 1124.2L382.7 1123.1L383.0 1123.5L383.3 1121.6L383.6 1121.1L383.9 1121.4L384.2 1121.9L384.5 1121.2L384.8 1121.7L385.1 1122.9L385.4 1121.5L385.7 1120.8L386.0 1120.0L386.3 1121.8L386.6 1121.2L386.9 1121.4L387.2 1121.1L387.5 1121.6L387.8 1121.7L388.1 1122.1L388.4 1122.4L388.7 1123.6L389.0 1122.4L389.3 1122.6L389.6 1122.5L389.9 1121.8L390.2 1122.7L390.5 1124.0L390.8 1122.6L391.1 1124.4L391.4 1123.6L391.7 1123.1L392.0 1120.9L392.3 1121.6L392.6 1121.9L392.9 1122.0L393.2 1122.7L393.5 1122.6L393.8 1122.9L394.1 1122.3L394.4 1121.6L394.7 1122.1L395.0 1122.8L395.3 1123.3L395.6 1123.1L395.9 1122.4L396.2 1122.6L396.5 1122.4L396.8 1121.6L397.1 1122.3L397.4 1122.4L397.7 1121.7L398.0 1121.9L398.3 1122.7L398.6 1123.9L398.9 1122.1L399.2 1122.1L399.5 1122.8L399.8 1123.7L400.1 1123.7L400.4 1122.6L400.7 1122.3L401.0 1122.5L401.3 1122.1L401.6 1121.6L401.9 1121.2L402.2 1123.8L402.5 1123.5L402.8 1123.1L403.1 1123.6L403.4 1123.4L403.7 1123.1L404.0 1123.3L404.3 1122.6L404.6 1122.5L404.9 1123.4L405.2 1123.8L405.5 1122.7L405.8 1124.0L406.1 1123.3L406.4 1122.1L406.7 1123.0L407.0 1123.6L407.3 1123.7L407.6 1122.8L407.9 1123.9L408.2 1124.0L408.5 1124.0L408.8 1123.9L409.1 1123.9L409.4 1125.4L409.7 1124.2L410.0 1124.1L410.3 1124.6L410.6 1124.7L410.9 1123.6L411.2 1123.4L411.5 1123.2L411.8 1122.2L412.1 1122.5L412.4 1123.6L412.7 1123.8L413.0 1124.5L413.3 1124.4L413.6 1123.5L413.9 1123.9L414.2 1122.4L414.5 1123.8L414.8 1123.4L415.1 1124.7L415.4 1123.2L415.7 1122.6L416.0 1122.6L416.3 1122.7L416.6 1121.8L416.9 1121.5L417.2 1122.7L417.5 1122.4L417.8 1123.5L418.1 1124.7L418.4 1123.1L418.7 1122.9L419.0 1124.5L419.3 1124.9L419.6 1123.3L419.9 1123.6L420.2 1124.8L420.5 1122.6L420.8 1123.2L421.1 1124.1L421.4 1123.5L421.7 1123.0L422.0 1123.7L422.3 1122.4L422.6 1123.2L422.9 1124.2L423.2 1124.0L423.5 1122.5L423.8 1124.1L424.1 1123.8L424.4 1124.0L424.7 1123.1L425.0 1123.1L425.3 1124.0L425.6 1122.5L425.9 1121.8L426.2 1120.8L426.5 1122.1L426.8 1122.8L427.1 1122.3L427.4 1122.9L427.7 1123.0L428.0 1124.5L428.3 1123.0L428.6 1123.2L428.9 1122.7L429.2 1124.2L429.5 1124.0L429.8 1122.7L430.1 1123.1L430.4 1122.8L430.7 1122.1L431.0 1122.6L431.3 1122.8L431.6 1121.8L431.9 1121.8L432.2 1123.0L432.5 1123.6L432.8 1123.0L433.1 1122.5L433.4 1122.7L433.7 1122.5L434.0 1121.5L434.3 1122.3L434.6 1121.6L434.9 1123.0L435.2 1123.1L435.5 1123.2L435.8 1122.5L436.1 1122.4L436.4 1121.8L436.7 1121.5L437.0 1120.8L437.3 1122.3L437.6 1121.2L437.9 1122.6L438.2 1122.7L438.5 1121.5L438.8 1122.5L439.1 1122.3L439.4 1121.3L439.7 1121.4L440.0 1121.0L440.3 1120.4L440.6 1120.5L440.9 1120.8L441.2 1120.5L441.5 1120.5L441.8 1121.0L442.1 1120.6L442.4 1120.2L442.7 1119.1L443.0 1119.4L443.3 1119.2L443.6 1119.2L443.9 1119.9L444.2 1120.3L444.5 1119.8L444.8 1119.0L445.1 1119.0L445.4 1119.0L445.7 1118.9L446.0 1117.5L446.3 1117.8L446.6 1116.9L446.9 1117.3L447.2 1117.4L447.5 1117.2L447.8 1117.7L448.1 1117.0L448.4 1116.6L448.7 1115.3L449.0 1114.9L449.3 1114.4L449.6 1114.1L449.9 1113.5L450.2 1111.3L450.5 1112.0L450.8 1112.1L451.1 1109.8L451.4 1109.8L451.7 1110.0L452.0 1109.6L452.3 1108.9L452.6 1107.4L452.9 1105.7L453.2 1106.1L453.5 1104.7L453.8 1104.2L454.1 1102.0L454.4 1100.8L454.7 1099.4L455.0 1097.9L455.3 1094.7L455.6 1094.7L455.9 1092.5L456.2 1089.8L456.5 1087.9L456.8 1084.4L457.1 1083.8L457.4 1081.3L457.7 1079.5L458.0 1077.6L458.3 1074.3L458.6 1072.7L458.9 1072.3L459.2 1070.1L459.5 1069.1L459.8 1068.9L460.1 1069.0L460.4 1067.2L460.7 1067.7L461.0 1068.0L461.3 1068.3L461.6 1069.2L461.9 1070.1L462.2 1069.9L462.5 1071.5L462.8 1072.4L463.1 1074.3L463.4 1075.6L463.7 1078.5L464.0 1080.6L464.3 1082.3L464.6 1083.2L464.9 1085.3L465.2 1086.1L465.5 1087.4L465.8 1088.3L466.1 1091.4L466.4 1092.8L466.7 1095.3L467.0 1097.5L467.3 1099.3L467.6 1099.8L467.9 1101.9L468.2 1103.5L468.5 1103.0L468.8 1104.3L469.1 1104.6L469.4 1105.7L469.7 1107.6L470.0 1108.4L470.3 1110.2L470.6 1110.8L470.9 1111.5L471.2 1112.8L471.5 1113.5L471.8 1113.8L472.1 1114.6L472.4 1115.2L472.7 1113.7L473.0 1113.2L473.3 1114.0L473.6 1115.3L473.9 1114.8L474.2 1114.0L474.5 1114.8L474.8 1114.9L475.1 1116.7L475.4 1114.9L475.7 1116.4L476.0 1117.2L476.3 1115.2L476.6 1115.4L476.9 1116.1L477.2 1117.1L477.5 1117.5L477.8 1118.2L478.1 1118.4L478.4 1117.8L478.7 1119.3L479.0 1119.2L479.3 1118.4L479.6 1118.9L479.9 1118.8L480.2 1118.6L480.5 1118.3L480.8 1117.5L481.1 1117.5L481.4 1117.3L481.7 1116.6L482.0 1118.1L482.3 1118.9L482.6 1119.0L482.9 1118.4L483.2 1118.3L483.5 1120.1L483.8 1119.3L484.1 1120.2L484.4 1120.3L484.7 1120.5L485.0 1120.0L485.3 1119.8L485.6 1119.9L485.9 1119.2L486.2 1120.6L486.5 1119.9L486.8 1120.3L487.1 1121.7L487.4 1122.5L487.7 1121.4L488.0 1121.6L488.3 1122.2L488.6 1120.4L488.9 1122.4L489.2 1122.5L489.5 1122.0L489.8 1121.9L490.1 1120.3L490.4 1121.5L490.7 1123.0L491.0 1122.6L491.3 1123.8L491.6 1123.8L491.9 1122.3L492.2 1122.9L492.5 1121.2L492.8 1120.4L493.1 1121.8L493.4 1122.5L493.7 1122.5L494.0 1122.4L494.3 1121.3L494.6 1122.6L494.9 1122.5L495.2 1122.3L495.5 1125.1L495.8 1124.2L496.1 1123.4L496.4 1124.5L496.7 1123.8L497.0 1122.8L497.3 1123.7L497.6 1123.0L497.9 1122.0L498.2 1121.7L498.5 1121.8L498.8 1122.5L499.1 1123.2L499.4 1121.6L499.7 1122.5L500.0 1121.6L500.3 1121.1L500.6 1119.2L500.9 1121.2L501.2 1121.5L501.5 1121.0L501.8 1120.7L502.1 1121.4L502.4 1121.0L502.7 1118.4L503.0 1119.2L503.3 1119.4L503.6 1119.5L503.9 1119.5L504.2 1120.0L504.5 1119.0L504.8 1120.6L505.1 1119.8L505.4 1118.6L505.7 1118.3L506.0 1116.7L506.3 1116.8L506.6 1116.2L506.9 1115.6L507.2 1116.5L507.5 1116.4L507.8 1115.3L508.1 1114.7L508.4 1115.0L508.7 1116.4L509.0 1115.3L509.3 1114.4L509.6 1114.2L509.9 1112.5L510.2 1112.2L510.5 1112.5L510.8 1112.1L511.1 1111.7L511.4 1110.1L511.7 1109.8L512.0 1110.5L512.3 1111.6L512.6 1110.8L512.9 1108.9L513.2 1107.5L513.5 1106.7L513.8 1107.8L514.1 1105.5L514.4 1104.7L514.7 1102.9L515.0 1102.6L515.3 1102.2L515.6 1102.6L515.9 1102.6L516.2 1101.9L516.5 1100.9L516.8 1100.0L517.1 1100.9L517.4 1099.8L517.7 1098.3L518.0 1097.5L518.3 1097.5L518.6 1096.8L518.9 1095.6L519.2 1096.8L519.5 1096.2L519.8 1096.2L520.1 1096.4L520.4 1096.2L520.7 1096.3L521.0 1094.5L521.3 1095.6L521.6 1096.1L521.9 1096.5L522.2 1097.1L522.5 1099.4L522.8 1100.5L523.1 1100.7L523.4 1101.7L523.7 1101.0L524.0 1101.1L524.3 1101.8L524.6 1102.8L524.9 1103.6L525.2 1105.1L525.5 1104.8L525.8 1105.9L526.1 1105.4L526.4 1106.2L526.7 1105.7L527.0 1107.4L527.3 1107.3L527.6 1108.8L527.9 1107.5L528.2 1109.8L528.5 1109.9L528.8 1110.6L529.1 1111.0L529.4 1110.0L529.7 1110.3L530.0 1110.7L530.3 1111.5L530.6 1111.0L530.9 1111.5L531.2 1112.6L531.5 1114.1L531.8 1114.9L532.1 1114.0L532.4 1115.1L532.7 1116.5L533.0 1116.8L533.3 1116.2L533.6 1115.5L533.9 1115.6L534.2 1117.3L534.5 1116.4L534.8 1114.8L535.1 1116.5L535.4 1116.4L535.7 1116.8L536.0 1116.9L536.3 1118.2L536.6 1117.8L536.9 1117.4L537.2 1117.2L537.5 1119.1L537.8 1120.0L538.1 1119.3L538.4 1118.8L538.7 1118.8L539.0 1119.4L539.3 1118.8L539.6 1120.2L539.9 1120.2L540.2 1118.1L540.5 1118.0L540.8 1118.6L541.1 1121.1L541.4 1122.0L541.7 1121.6L542.0 1120.4L542.3 1120.5L542.6 1120.7L542.9 1120.5L543.2 1120.9L543.5 1121.6L543.8 1121.2L544.1 1120.5L544.4 1121.1L544.7 1120.3L545.0 1120.6L545.3 1122.1L545.6 1122.3L545.9 1121.5L546.2 1121.9L546.5 1122.0L546.8 1122.4L547.1 1123.4L547.4 1122.9L547.7 1122.1L548.0 1123.8L548.3 1123.0L548.6 1123.7L548.9 1124.0L549.2 1123.7L549.5 1124.3L549.8 1124.5L550.1 1124.6L550.4 1125.1L550.7 1124.3L551.0 1125.2L551.3 1124.4L551.6 1125.3L551.9 1126.2L552.2 1125.2L552.5 1126.7L552.8 1125.6L553.1 1125.5L553.4 1124.8L553.7 1124.9L554.0 1125.2L554.3 1124.9L554.6 1126.0L554.9 1125.3L555.2 1125.7L555.5 1124.9L555.8 1124.6L556.1 1125.2L556.4 1125.7L556.7 1125.5L557.0 1125.9L557.3 1126.2L557.6 1125.6L557.9 1125.7L558.2 1125.2L558.5 1124.5L558.8 1124.6L559.1 1125.0L559.4 1126.3L559.7 1126.5L560.0 1126.4L560.3 1124.6L560.6 1124.5L560.9 1125.5L561.2 1126.1L561.5 1126.1L561.8 1125.2L562.1 1124.1L562.4 1123.6L562.7 1124.7L563.0 1125.6L563.3 1127.1L563.6 1126.2L563.9 1126.4L564.2 1125.7L564.5 1125.7L564.8 1126.0L565.1 1125.6L565.4 1126.9L565.7 1125.8L566.0 1126.5L566.3 1126.2L566.6 1125.8L566.9 1126.7L567.2 1126.1L567.5 1126.3L567.8 1126.3L568.1 1126.8L568.4 1125.6L568.7 1126.0L569.0 1126.5L569.3 1125.8L569.6 1125.2L569.9 1124.8L570.2 1125.3L570.5 1125.0L570.8 1125.9L571.1 1125.9L571.4 1125.8L571.7 1125.9L572.0 1126.0L572.3 1126.1L572.6 1126.5L572.9 1127.2L573.2 1127.1L573.5 1127.1L573.8 1127.8L574.1 1128.3L574.4 1127.4L574.7 1126.1L575.0 1126.9L575.3 1125.9L575.6 1125.4L575.9 1125.0L576.2 1125.0L576.5 1123.6L576.8 1124.0L577.1 1125.5L577.4 1127.5L577.7 1127.0L578.0 1127.0L578.3 1127.0L578.6 1125.9L578.9 1124.9L579.2 1125.2L579.5 1126.0L579.8 1125.7L580.1 1125.6L580.4 1125.2L580.7 1124.9L581.0 1124.3L581.3 1125.2L581.6 1125.4L581.9 1124.8L582.2 1124.7L582.5 1124.9L582.8 1125.3L583.1 1126.1L583.4 1126.4L583.7 1125.2L584.0 1124.7L584.3 1123.9L584.6 1124.1L584.9 1124.5L585.2 1122.6L585.5 1122.7L585.8 1123.7L586.1 1122.1L586.4 1123.3L586.7 1123.7L587.0 1122.6L587.3 1121.5L587.6 1122.9L587.9 1122.1L588.2 1120.8L588.5 1121.1L588.8 1120.0L589.1 1119.6L589.4 1121.4L589.7 1120.8L590.0 1120.6L590.3 1119.2L590.6 1119.0L590.9 1120.2L591.2 1120.4L591.5 1121.0L591.8 1121.2L592.1 1120.7L592.4 1119.9L592.7 1118.0L593.0 1119.3L593.3 1119.3L593.6 1121.1L593.9 1120.1L594.2 1119.5L594.5 1118.8L594.8 1117.8L595.1 1118.1L595.4 1118.4L595.7 1118.6L596.0 1118.2L596.3 1117.6L596.6 1118.6L596.9 1119.1L597.2 1118.2L597.5 1117.1L597.8 1116.9L598.1 1116.7L598.4 1117.8L598.7 1117.1L599.0 1117.5L599.3 1116.7L599.6 1116.9L599.9 1119.0L600.2 1117.8L600.5 1117.8L600.8 1117.1L601.1 1117.9L601.4 1117.7L601.7 1117.3L602.0 1118.1L602.3 1118.1L602.6 1117.9L602.9 1116.3L603.2 1115.6L603.5 1116.8L603.8 1115.6L604.1 1116.8L604.4 1117.5L604.7 1116.5L605.0 1115.4L605.3 1114.3L605.6 1115.2L605.9 1115.4L606.2 1114.5L606.5 1113.7L606.8 1114.3L607.1 1113.8L607.4 1113.8L607.7 1112.7L608.0 1113.4L608.3 1113.5L608.6 1113.1L608.9 1112.2L609.2 1112.5L609.5 1112.9L609.8 1113.1L610.1 1113.0L610.4 1112.2L610.7 1112.7L611.0 1113.3L611.3 1112.3L611.6 1111.1L611.9 1112.4L612.2 1112.2L612.5 1110.4L612.8 1111.3L613.1 1111.3L613.4 1110.6L613.7 1110.7L614.0 1109.8L614.3 1109.4L614.6 1108.5L614.9 1110.0L615.2 1109.6L615.5 1109.9L615.8 1110.1L616.1 1108.0L616.4 1108.8L616.7 1108.2L617.0 1109.7L617.3 1108.7L617.6 1109.6L617.9 1110.8L618.2 1110.4L618.5 1110.8L618.8 1111.3L619.1 1110.7L619.4 1110.1L619.7 1108.8L620.0 1110.6L620.3 1111.1L620.6 1111.2L620.9 1109.6L621.2 1110.8L621.5 1110.5L621.8 1110.9L622.1 1111.3L622.4 1112.3L622.7 1111.9L623.0 1111.6L623.3 1112.4L623.6 1112.8L623.9 1112.5L624.2 1114.6L624.5 1115.2L624.8 1113.6L625.1 1112.3L625.4 1111.9L625.7 1112.9L626.0 1114.3L626.3 1116.2L626.6 1116.3L626.9 1115.8L627.2 1116.3L627.5 1116.6L627.8 1116.2L628.1 1116.8L628.4 1115.8L628.7 1116.4L629.0 1117.5L629.3 1117.7L629.6 1118.5L629.9 1119.5L630.2 1119.8L630.5 1120.2L630.8 1120.4L631.1 1120.0L631.4 1120.8L631.7 1120.8L632.0 1119.9L632.3 1120.9L632.6 1120.8L632.9 1118.5L633.2 1120.8L633.5 1121.1L633.8 1120.6L634.1 1121.6L634.4 1122.0L634.7 1122.1L635.0 1123.4L635.3 1123.8L635.6 1123.1L635.9 1122.4L636.2 1121.6L636.5 1122.4L636.8 1122.7L637.1 1123.7L637.4 1123.7L637.7 1124.1L638.0 1124.9L638.3 1124.0L638.6 1123.2L638.9 1123.5L639.2 1122.7L639.5 1123.1L639.8 1123.4L640.1 1124.8L640.4 1124.4L640.7 1125.3L641.0 1124.8L641.3 1124.7L641.6 1124.4L641.9 1124.5L642.2 1124.3L642.5 1123.8L642.8 1123.4L643.1 1124.8L643.4 1125.1L643.7 1126.4L644.0 1127.2L644.3 1125.8L644.6 1127.2L644.9 1126.3L645.2 1124.9L645.5 1124.4L645.8 1124.6L646.1 1123.4L646.4 1124.8L646.7 1125.1L647.0 1126.0L647.3 1126.4L647.6 1126.5L647.9 1127.0L648.2 1127.2L648.5 1125.8L648.8 1127.3L649.1 1126.7L649.4 1126.7L649.7 1127.2L650.0 1126.5L650.3 1126.2L650.6 1125.1L650.9 1126.3L651.2 1127.1L651.5 1126.7L651.8 1126.3L652.1 1124.6L652.4 1125.9L652.7 1125.7L653.0 1125.9L653.3 1126.2L653.6 1126.3L653.9 1126.8L654.2 1127.5L654.5 1127.5L654.8 1126.7L655.1 1126.9L655.4 1127.1L655.7 1126.6L656.0 1126.8L656.3 1127.8L656.6 1128.3L656.9 1128.5L657.2 1128.7L657.5 1127.0L657.8 1127.5L658.1 1128.8L658.4 1128.3L658.7 1128.0L659.0 1127.5L659.3 1128.0L659.6 1128.1L659.9 1127.5L660.2 1127.9L660.5 1128.1L660.8 1128.5L661.1 1128.8L661.4 1128.2L661.7 1128.7L662.0 1128.6L662.3 1128.6L662.6 1128.4L662.9 1128.6L663.2 1128.2L663.5 1127.7L663.8 1129.0L664.1 1128.0L664.4 1128.6L664.7 1129.3L665.0 1129.3L665.3 1129.0L665.6 1128.9L665.9 1127.8L666.2 1128.6L666.5 1128.1L666.8 1128.4L667.1 1128.1L667.4 1129.2L667.7 1128.9L668.0 1129.0L668.3 1130.2L668.6 1129.1L668.9 1129.1L669.2 1127.6L669.5 1128.1L669.8 1128.3L670.1 1128.3L670.4 1129.3L670.7 1130.5L671.0 1130.7L671.3 1130.8L671.6 1131.1L671.9 1130.1L672.2 1129.4L672.5 1129.8L672.8 1131.1L673.1 1130.2L673.4 1129.0L673.7 1129.4L674.0 1130.4L674.3 1130.7L674.6 1130.8L674.9 1130.4L675.2 1130.9L675.5 1130.3L675.8 1131.2L676.1 1131.8L676.4 1131.8L676.7 1132.6L677.0 1133.5L677.3 1131.7L677.6 1131.1L677.9 1130.1L678.2 1129.1L678.5 1128.8L678.8 1129.4L679.1 1130.2L679.4 1130.7L679.7 1128.8L680.0 1129.5L680.3 1129.1L680.6 1130.2L680.9 1129.8L681.2 1130.8L681.5 1132.1L681.8 1132.9L682.1 1131.9L682.4 1131.6L682.7 1131.1L683.0 1131.0L683.3 1132.2L683.6 1130.4L683.9 1130.2L684.2 1130.5L684.5 1130.4L684.8 1129.8L685.1 1131.1L685.4 1131.0L685.7 1130.7L686.0 1129.9L686.3 1130.3L686.6 1131.3L686.9 1131.1L687.2 1132.0L687.5 1131.5L687.8 1130.8L688.1 1131.0L688.4 1130.5L688.7 1129.7L689.0 1130.8L689.3 1131.8L689.6 1132.9L689.9 1130.9L690.2 1131.9L690.5 1132.2L690.8 1132.1L691.1 1132.3L691.4 1132.5L691.7 1132.6L692.0 1132.7L692.3 1132.1L692.6 1133.3L692.9 1132.7L693.2 1133.2L693.5 1132.4L693.8 1132.1L694.1 1132.0L694.4 1132.1L694.7 1133.1L695.0 1131.5L695.3 1132.6L695.6 1131.9L695.9 1133.5L696.2 1132.2L696.5 1132.3L696.8 1132.7L697.1 1131.3L697.4 1131.7L697.7 1131.9L698.0 1132.4L698.3 1132.2L698.6 1131.5L698.9 1130.4L699.2 1130.8L699.5 1131.1L699.8 1131.3L700.1 1132.4L700.4 1132.5L700.7 1131.2L701.0 1131.1L701.3 1132.5L701.6 1133.0L701.9 1132.9L702.2 1132.5L702.5 1133.4L702.8 1132.5L703.1 1132.0L703.4 1133.1L703.7 1131.6L704.0 1132.9L704.3 1132.5L704.6 1132.9L704.9 1132.5L705.2 1131.2L705.5 1132.1L705.8 1131.9L706.1 1132.2L706.4 1132.8L706.7 1132.9L707.0 1133.0L707.3 1133.4L707.6 1132.2L707.9 1134.0L708.2 1132.4L708.5 1132.5L708.8 1132.7L709.1 1132.4L709.4 1133.2L709.7 1132.7L710.0 1132.9L710.3 1134.9L710.6 1133.8L710.9 1135.3L711.2 1133.3L711.5 1133.7L711.8 1133.6L712.1 1133.9L712.4 1131.8L712.7 1130.8L713.0 1132.2L713.3 1133.2L713.6 1133.6L713.9 1133.1L714.2 1133.4L714.5 1133.6L714.8 1132.9L715.1 1134.4L715.4 1133.8L715.7 1133.2L716.0 1133.4L716.3 1133.0L716.6 1133.2L716.9 1132.4L717.2 1132.0L717.5 1132.0L717.8 1133.2L718.1 1132.9L718.4 1134.2L718.7 1134.8L719.0 1133.7L719.3 1133.0L719.6 1133.9L719.9 1133.3L720.2 1132.9L720.5 1134.2L720.8 1134.7L721.1 1134.4L721.4 1132.4L721.7 1132.7L722.0 1131.5L722.3 1132.2L722.6 1132.7L722.9 1134.1L723.2 1132.6L723.5 1132.8L723.8 1133.0L724.1 1133.2L724.4 1133.4L724.7 1134.0L725.0 1133.9L725.3 1133.1L725.6 1132.7L725.9 1133.5L726.2 1132.9L726.5 1131.3L726.8 1130.6L727.1 1130.5L727.4 1130.3L727.7 1131.4L728.0 1131.9L728.3 1130.8L728.6 1130.7L728.9 1131.7L729.2 1132.2L729.5 1132.2L729.8 1133.8L730.1 1132.6L730.4 1133.3L730.7 1133.0L731.0 1131.1L731.3 1130.7L731.6 1131.3L731.9 1131.0L732.2 1131.1L732.5 1131.3L732.8 1131.8L733.1 1131.6L733.4 1132.2L733.7 1131.9L734.0 1131.1L734.3 1131.0L734.6 1130.4L734.9 1131.5L735.2 1130.5L735.5 1130.5L735.8 1130.6L736.1 1131.4L736.4 1132.6L736.7 1131.3L737.0 1131.1L737.3 1130.9L737.6 1130.6L737.9 1129.7L738.2 1130.5L738.5 1129.4L738.8 1131.4L739.1 1132.0L739.4 1132.6L739.7 1133.6L740.0 1132.6L740.3 1131.6L740.6 1130.1L740.9 1131.5L741.2 1132.0L741.5 1131.4L741.8 1130.6L742.1 1131.1L742.4 1131.4L742.7 1130.5L743.0 1132.0L743.3 1131.3L743.6 1131.8L743.9 1130.2L744.2 1129.8L744.5 1130.5L744.8 1130.1L745.1 1131.9L745.4 1130.2L745.7 1130.3L746.0 1129.3L746.3 1129.9L746.6 1131.4L746.9 1131.7L747.2 1131.4L747.5 1132.4L747.8 1130.9L748.1 1130.2L748.4 1129.5L748.7 1131.2L749.0 1130.1L749.3 1131.8L749.6 1131.2L749.9 1131.3L750.2 1131.2L750.5 1132.1L750.8 1131.7L751.1 1131.6L751.4 1131.5L751.7 1131.7L752.0 1131.1L752.3 1131.6L752.6 1131.0L752.9 1131.9L753.2 1131.7L753.5 1133.1L753.8 1131.7L754.1 1132.1L754.4 1132.2L754.7 1133.7L755.0 1133.6L755.3 1133.1L755.6 1132.8L755.9 1132.2L756.2 1134.0L756.5 1135.2L756.8 1134.2L757.1 1133.1L757.4 1133.4L757.7 1133.8L758.0 1132.7L758.3 1132.5L758.6 1132.3L758.9 1132.4L759.2 1133.1L759.5 1132.3L759.8 1131.2L760.1 1133.6L760.4 1133.2L760.7 1133.6L761.0 1133.1L761.3 1133.3L761.6 1133.5L761.9 1133.3L762.2 1135.3L762.5 1135.0L762.8 1134.1L763.1 1133.9L763.4 1133.7L763.7 1133.4L764.0 1134.2L764.3 1134.7L764.6 1134.2L764.9 1134.0L765.2 1132.8L765.5 1133.4L765.8 1133.3L766.1 1132.7L766.4 1132.7L766.7 1134.1L767.0 1133.1L767.3 1132.5L767.6 1133.1L767.9 1133.6L768.2 1133.4L768.5 1132.6L768.8 1132.4L769.1 1134.3L769.4 1132.9L769.7 1133.2L770.0 1134.0L770.3 1134.3L770.6 1135.7L770.9 1135.1L771.2 1134.1L771.5 1133.3L771.8 1133.1L772.1 1134.3L772.4 1133.1L772.7 1133.4L773.0 1132.8L773.3 1132.9L773.6 1134.6L773.9 1134.3L774.2 1134.3L774.5 1133.5L774.8 1132.3L775.1 1132.1L775.4 1132.2L775.7 1132.7L776.0 1131.4L776.3 1132.1L776.6 1133.7L776.9 1133.2L777.2 1133.8L777.5 1133.8L777.8 1133.6L778.1 1133.3L778.4 1133.9L778.7 1135.0L779.0 1133.0L779.3 1133.9L779.6 1133.4L779.9 1133.7L780.2 1134.4L780.5 1134.1L780.8 1135.3L781.1 1135.4L781.4 1134.3L781.7 1134.6L782.0 1133.0L782.3 1133.3L782.6 1132.9L782.9 1132.5L783.2 1133.6L783.5 1133.7L783.8 1133.2L784.1 1133.5L784.4 1133.4L784.7 1133.3L785.0 1132.1L785.3 1132.2L785.6 1133.1L785.9 1133.5L786.2 1133.5L786.5 1132.5L786.8 1132.2L787.1 1130.8L787.4 1131.0L787.7 1132.9L788.0 1134.3L788.3 1134.0L788.6 1133.7L788.9 1132.4L789.2 1132.9L789.5 1132.6L789.8 1134.5L790.1 1134.4L790.4 1133.8L790.7 1132.4L791.0 1133.8L791.3 1133.6L791.6 1135.0L791.9 1134.8L792.2 1134.0L792.5 1134.2L792.8 1134.4L793.1 1133.5L793.4 1134.4L793.7 1135.4L794.0 1133.9L794.3 1131.8L794.6 1132.9L794.9 1133.0L795.2 1133.1L795.5 1132.3L795.8 1133.8L796.1 1131.8L796.4 1133.2L796.7 1132.7L797.0 1131.1L797.3 1131.1L797.6 1131.7L797.9 1133.6L798.2 1134.0L798.5 1133.3L798.8 1132.9L799.1 1133.7L799.4 1133.7L799.7 1134.8L800.0 1133.1L800.3 1132.9L800.6 1132.0L800.9 1132.0L801.2 1130.7L801.5 1131.0L801.8 1130.0L802.1 1130.7L802.4 1131.9L802.7 1131.7L803.0 1131.4L803.3 1130.9L803.6 1129.7L803.9 1129.3L804.2 1129.2L804.5 1128.6L804.8 1129.8L805.1 1128.2L805.4 1127.7L805.7 1127.4L806.0 1127.5L806.3 1126.8L806.6 1126.1L806.9 1125.5L807.2 1125.4L807.5 1124.6L807.8 1125.7L808.1 1125.3L808.4 1125.7L808.7 1124.2L809.0 1123.8L809.3 1122.7L809.6 1121.7L809.9 1121.7L810.2 1120.6L810.5 1119.0L810.8 1117.2L811.1 1114.4L811.4 1113.4L811.7 1112.1L812.0 1112.9L812.3 1111.4L812.6 1111.1L812.9 1110.7L813.2 1110.4L813.5 1111.7L813.8 1111.3L814.1 1112.7L814.4 1112.1L814.7 1113.2L815.0 1116.0L815.3 1116.6L815.6 1117.6L815.9 1118.6L816.2 1119.4L816.5 1118.0L816.8 1118.3L817.1 1120.5L817.4 1121.4L817.7 1120.9L818.0 1120.8L818.3 1122.9L818.6 1122.8L818.9 1123.1L819.2 1123.1L819.5 1122.9L819.8 1123.7L820.1 1124.4L820.4 1124.2L820.7 1124.2L821.0 1123.7L821.3 1125.0L821.6 1123.6L821.9 1124.1L822.2 1124.7L822.5 1125.3L822.8 1124.9L823.1 1124.8L823.4 1124.2L823.7 1123.3L824.0 1123.4L824.3 1124.0L824.6 1123.9L824.9 1122.3L825.2 1122.1L825.5 1122.7L825.8 1122.2L826.1 1122.5L826.4 1121.3L826.7 1120.1L827.0 1116.7L827.3 1117.9L827.6 1116.0L827.9 1115.4L828.2 1114.4L828.5 1113.6L828.8 1114.1L829.1 1112.4L829.4 1112.7L829.7 1111.6L830.0 1112.0L830.3 1112.7L830.6 1112.9L830.9 1113.2L831.2 1113.8L831.5 1114.5L831.8 1115.9L832.1 1117.0L832.4 1117.4L832.7 1120.1L833.0 1119.8L833.3 1121.9L833.6 1122.0L833.9 1123.5L834.2 1124.5L834.5 1124.4L834.8 1125.4L835.1 1127.2L835.4 1125.7L835.7 1125.2L836.0 1125.5L836.3 1127.8L836.6 1128.4L836.9 1127.9L837.2 1128.2L837.5 1128.8L837.8 1128.4L838.1 1128.7L838.4 1129.3L838.7 1130.0L839.0 1130.8L839.3 1130.3L839.6 1130.3L839.9 1129.5L840.2 1130.0L840.5 1130.5L840.8 1130.7L841.1 1131.2L841.4 1130.5L841.7 1131.7L842.0 1131.8L842.3 1132.6L842.6 1131.5L842.9 1131.5L843.2 1131.7L843.5 1131.4L843.8 1132.5L844.1 1132.3L844.4 1131.2L844.7 1132.4L845.0 1131.9L845.3 1132.4L845.6 1133.1L845.9 1132.1L846.2 1133.4L846.5 1133.7L846.8 1132.2L847.1 1133.4L847.4 1132.6L847.7 1132.2L848.0 1133.8L848.3 1132.5L848.6 1130.8L848.9 1131.9L849.2 1132.3L849.5 1132.0L849.8 1133.3L850.1 1132.2L850.4 1132.0L850.7 1133.2L851.0 1132.8L851.3 1132.4L851.6 1132.6L851.9 1132.1L852.2 1131.8L852.5 1132.5L852.8 1132.6L853.1 1133.0L853.4 1132.7L853.7 1133.3L854.0 1133.8L854.3 1134.4L854.6 1133.8L854.9 1133.3L855.2 1132.7L855.5 1133.4L855.8 1134.2L856.1 1134.8L856.4 1135.0L856.7 1135.5L857.0 1136.1L857.3 1135.4L857.6 1135.3L857.9 1134.2L858.2 1134.5L858.5 1135.0L858.8 1134.1L859.1 1135.6L859.4 1135.4L859.7 1135.5L860.0 1135.2L860.3 1136.2L860.6 1135.6L860.9 1135.7L861.2 1135.3L861.5 1134.5L861.8 1134.3L862.1 1133.9L862.4 1133.8L862.7 1134.6L863.0 1133.9L863.3 1133.8L863.6 1134.5L863.9 1135.3L864.2 1134.9L864.5 1134.4L864.8 1133.4L865.1 1134.2L865.4 1133.6L865.7 1133.4L866.0 1134.3L866.3 1133.9L866.6 1134.4L866.9 1134.7L867.2 1134.0L867.5 1133.9L867.8 1135.0L868.1 1134.9L868.4 1134.8L868.7 1133.5L869.0 1133.7L869.3 1134.8L869.6 1134.3L869.9 1134.6L870.2 1135.1L870.5 1136.5L870.8 1134.3L871.1 1135.0L871.4 1135.5L871.7 1135.0L872.0 1136.1L872.3 1134.4L872.6 1133.2L872.9 1133.5L873.2 1134.2L873.5 1133.4L873.8 1133.7L874.1 1133.4L874.4 1135.2" fill="none" stroke="#000" stroke-width="3.00" stroke-linejoin="round" stroke-linecap="butt"/>
</g>
<g stroke="#000" stroke-width="1.6">
<line x1="100" y1="100" x2="100" y2="756"/>
<line x1="137.8" y1="420" x2="137.8" y2="757"/>
</g>
<g fill="#ffff80" stroke="#808080" stroke-width="3.7" stroke-linecap="round" stroke-dasharray="5.5 10.6">
<rect x="72.6" y="724.2" width="90.0" height="38.3"/>
<rect x="217.5" y="767.6" width="298.3" height="125.4"/>
</g>
<line x1="163.0" y1="739.8" x2="207.3" y2="821.1" stroke="#808080" stroke-width="2.7"/>
<path d="M214.0 833.4 L199.5 819.7 L210.4 813.7 Z" fill="#808080"/>
<g stroke="#000" stroke-width="1.6">
<line x1="100" y1="720" x2="100" y2="756"/>
<line x1="137.8" y1="720" x2="137.8" y2="757"/>
<line x1="142.9" y1="735" x2="142.9" y2="1121.5"/>
</g>
<g stroke="#000" stroke-width="2.4" stroke-linecap="round">
<line x1="301.0" y1="766.5" x2="301.0" y2="871"/>
<line x1="424.2" y1="764.7" x2="424.2" y2="872"/>
<line x1="435.2" y1="784" x2="435.2" y2="891.4"/>
</g>
<text transform="translate(291.7 861.3) rotate(-90)" font-size="34.2" fill="#000">1.085</text><text transform="translate(412.9 862.3) rotate(-90)" font-size="34.2" fill="#000">0.798</text><text transform="translate(472.1 884.0) rotate(-90)" font-size="34.2" fill="#000">0.778</text>
<g stroke="#000" stroke-width="2.85" fill="none" stroke-linecap="square">
<line x1="55.4" y1="1.4" x2="875.5" y2="1.4"/>
<line x1="55.4" y1="1206.5" x2="875.5" y2="1206.5"/>
<line x1="55.4" y1="1.4" x2="55.4" y2="1206.5"/>
<line x1="875.5" y1="1.4" x2="875.5" y2="1206.5"/>
</g>
<line x1="53.6" y1="0" x2="53.6" y2="379.7" stroke="#000" stroke-width="1"/>
<g stroke="#000" stroke-width="2.75" stroke-linecap="round">
<line x1="55.4" y1="1206.5" x2="55.4" y2="1221.0"/><line x1="123.7" y1="1206.5" x2="123.7" y2="1221.0"/><line x1="192.1" y1="1206.5" x2="192.1" y2="1221.0"/><line x1="260.4" y1="1206.5" x2="260.4" y2="1221.0"/><line x1="328.8" y1="1206.5" x2="328.8" y2="1221.0"/><line x1="397.1" y1="1206.5" x2="397.1" y2="1221.0"/><line x1="465.4" y1="1206.5" x2="465.4" y2="1221.0"/><line x1="533.8" y1="1206.5" x2="533.8" y2="1221.0"/><line x1="602.1" y1="1206.5" x2="602.1" y2="1221.0"/><line x1="670.5" y1="1206.5" x2="670.5" y2="1221.0"/><line x1="738.8" y1="1206.5" x2="738.8" y2="1221.0"/><line x1="807.1" y1="1206.5" x2="807.1" y2="1221.0"/><line x1="875.5" y1="1206.5" x2="875.5" y2="1221.0"/><line x1="89.6" y1="1206.5" x2="89.6" y2="1214.0"/><line x1="157.9" y1="1206.5" x2="157.9" y2="1214.0"/><line x1="226.2" y1="1206.5" x2="226.2" y2="1214.0"/><line x1="294.6" y1="1206.5" x2="294.6" y2="1214.0"/><line x1="362.9" y1="1206.5" x2="362.9" y2="1214.0"/><line x1="431.3" y1="1206.5" x2="431.3" y2="1214.0"/><line x1="499.6" y1="1206.5" x2="499.6" y2="1214.0"/><line x1="567.9" y1="1206.5" x2="567.9" y2="1214.0"/><line x1="636.3" y1="1206.5" x2="636.3" y2="1214.0"/><line x1="704.6" y1="1206.5" x2="704.6" y2="1214.0"/><line x1="773.0" y1="1206.5" x2="773.0" y2="1214.0"/><line x1="841.3" y1="1206.5" x2="841.3" y2="1214.0"/>
</g>
<g font-size="34" text-anchor="middle">
<text x="55.4" y="1258.2">5</text><text x="123.7" y="1258.2">10</text><text x="192.1" y="1258.2">15</text><text x="260.4" y="1258.2">20</text><text x="328.8" y="1258.2">25</text><text x="397.1" y="1258.2">30</text><text x="465.4" y="1258.2">35</text><text x="533.8" y="1258.2">40</text><text x="602.1" y="1258.2">45</text><text x="670.5" y="1258.2">50</text><text x="738.8" y="1258.2">55</text><text x="807.1" y="1258.2">60</text><text x="875.5" y="1258.2">65</text>
</g>
<text x="465.9" y="1319.4" font-size="38.2" fill="#000" text-anchor="middle">2Theta (deg.)</text><text transform="translate(28.3 691) rotate(-90)" font-size="38.3" text-anchor="middle">Intensity (a. u.)</text>
<text x="526.0" y="142.0" font-size="34.5" fill="#000" text-anchor="start">after intercalation</text><text x="526.0" y="183.8" font-size="34.5" fill="#000" text-anchor="start">with phosphate</text><text x="526.0" y="546.5" font-size="34.5" fill="#000" text-anchor="start">after intercalation</text><text x="526.0" y="588.5" font-size="34.5" fill="#000" text-anchor="start">with chloride</text><text x="560.0" y="966.8" font-size="34.5" fill="#000" text-anchor="start">after hydration</text><text x="414.5" y="438.3" font-size="34.5" fill="#000" text-anchor="start">NaCl</text><text x="414.5" y="484.0" font-size="34.5" fill="#000" text-anchor="start">MgO</text><path d="M393.3 418.8L402.1 429.8L393.3 440.8L384.6 429.8Z" fill="#000"/><path d="M394.70 473.05 L394.95 469.43 L396.00 465.00 L392.30 465.00 L393.35 469.43 L393.60 473.05 Z" fill="#000"/><circle cx="394.15" cy="465.00" r="1.85" fill="#000"/><path d="M394.42 472.57 L391.41 470.55 L388.10 467.42 L386.25 470.63 L390.61 471.93 L393.88 473.53 Z" fill="#000"/><circle cx="387.18" cy="469.03" r="1.85" fill="#000"/><path d="M393.88 472.57 L390.61 474.17 L386.25 475.47 L388.10 478.68 L391.41 475.55 L394.42 473.53 Z" fill="#000"/><circle cx="387.18" cy="477.07" r="1.85" fill="#000"/><path d="M393.60 473.05 L393.35 476.67 L392.30 481.10 L396.00 481.10 L394.95 476.67 L394.70 473.05 Z" fill="#000"/><circle cx="394.15" cy="481.10" r="1.85" fill="#000"/><path d="M393.88 473.53 L396.89 475.55 L400.20 478.68 L402.05 475.47 L397.69 474.17 L394.42 472.57 Z" fill="#000"/><circle cx="401.12" cy="477.07" r="1.85" fill="#000"/><path d="M394.42 473.53 L397.69 471.93 L402.05 470.63 L400.20 467.42 L396.89 470.55 L393.88 472.57 Z" fill="#000"/><circle cx="401.12" cy="469.03" r="1.85" fill="#000"/><circle cx="394.15" cy="473.05" r="1.5" fill="#000"/>
<text x="240.0" y="242.0" font-size="34.0" fill="#000" text-anchor="start">g</text><text x="242.3" y="301.0" font-size="34.0" fill="#00f" text-anchor="start">f</text><text x="198.5" y="662.0" font-size="34.0" fill="#000" text-anchor="start">e</text><text x="198.5" y="712.6" font-size="34.0" fill="#00f" text-anchor="start">d</text><text x="198.0" y="1047.0" font-size="34.0" fill="#00f" text-anchor="start">a</text><text x="198.0" y="1100.5" font-size="34.0" fill="#000" text-anchor="start">c</text><text x="198.0" y="1147.0" font-size="34.0" fill="#f00" text-anchor="start">b</text>
<text transform="translate(137.7 70.2) rotate(-90)" font-size="34.6" fill="#000">003</text><text transform="translate(222.0 178.5) rotate(-90)" font-size="34.6" fill="#000">006</text><text transform="translate(336.1 208.6) rotate(-90)" font-size="34.6" fill="#000">009</text><text transform="translate(820.9 259.7) rotate(-90)" font-size="34.6" fill="#000">110</text><text transform="translate(848.7 268.2) rotate(-90)" font-size="34.6" fill="#000">113</text><text transform="translate(178.0 392.4) rotate(-90)" font-size="34.6" fill="#000">003</text><text transform="translate(306.9 570.0) rotate(-90)" font-size="34.6" fill="#000">006</text><text transform="translate(475.6 635.7) rotate(-90)" font-size="34.6" fill="#000">009</text><text transform="translate(820.4 653.4) rotate(-90)" font-size="34.6" fill="#000">110</text><text transform="translate(846.5 661.4) rotate(-90)" font-size="34.6" fill="#000">113</text><text transform="translate(181.4 856.0) rotate(-90)" font-size="34.6" fill="#000">003</text><text transform="translate(336.0 984.5) rotate(-90)" font-size="34.6" fill="#000">006</text><text transform="translate(473.6 996.0) rotate(-90)" font-size="34.6" fill="#000">009</text><text transform="translate(821.5 1045.8) rotate(-90)" font-size="34.6" fill="#000">110</text><text transform="translate(848.2 1061.0) rotate(-90)" font-size="34.6" fill="#000">113</text>
<path d="M421.9 626.3L430.6 637.3L421.9 648.3L413.1 637.3Z" fill="#000"/><path d="M361.4 706.2L370.1 717.2L361.4 728.2L352.6 717.2Z" fill="#000"/><path d="M608.0 649.2L616.8 660.2L608.0 671.2L599.2 660.2Z" fill="#000"/><path d="M759.8 707.4L768.5 718.4L759.8 729.4L751.0 718.4Z" fill="#000"/><path d="M242.35 1003.00 L242.60 999.38 L243.65 994.95 L239.95 994.95 L241.00 999.38 L241.25 1003.00 Z" fill="#000"/><circle cx="241.80" cy="994.95" r="1.85" fill="#000"/><path d="M242.08 1002.52 L239.06 1000.50 L235.75 997.37 L233.90 1000.58 L238.26 1001.88 L241.53 1003.48 Z" fill="#000"/><circle cx="234.83" cy="998.98" r="1.85" fill="#000"/><path d="M241.53 1002.52 L238.26 1004.12 L233.90 1005.42 L235.75 1008.63 L239.06 1005.50 L242.08 1003.48 Z" fill="#000"/><circle cx="234.83" cy="1007.02" r="1.85" fill="#000"/><path d="M241.25 1003.00 L241.00 1006.62 L239.95 1011.05 L243.65 1011.05 L242.60 1006.62 L242.35 1003.00 Z" fill="#000"/><circle cx="241.80" cy="1011.05" r="1.85" fill="#000"/><path d="M241.53 1003.48 L244.54 1005.50 L247.85 1008.63 L249.70 1005.42 L245.34 1004.12 L242.08 1002.52 Z" fill="#000"/><circle cx="248.77" cy="1007.02" r="1.85" fill="#000"/><path d="M242.08 1003.48 L245.34 1001.88 L249.70 1000.58 L247.85 997.37 L244.54 1000.50 L241.53 1002.52 Z" fill="#000"/><circle cx="248.77" cy="998.98" r="1.85" fill="#000"/><circle cx="241.80" cy="1003.00" r="1.5" fill="#000"/><path d="M506.15 990.20 L506.40 986.58 L507.45 982.15 L503.75 982.15 L504.80 986.58 L505.05 990.20 Z" fill="#000"/><circle cx="505.60" cy="982.15" r="1.85" fill="#000"/><path d="M505.88 989.72 L502.86 987.70 L499.55 984.57 L497.70 987.78 L502.06 989.08 L505.33 990.68 Z" fill="#000"/><circle cx="498.63" cy="986.18" r="1.85" fill="#000"/><path d="M505.33 989.72 L502.06 991.32 L497.70 992.62 L499.55 995.83 L502.86 992.70 L505.88 990.68 Z" fill="#000"/><circle cx="498.63" cy="994.23" r="1.85" fill="#000"/><path d="M505.05 990.20 L504.80 993.82 L503.75 998.25 L507.45 998.25 L506.40 993.82 L506.15 990.20 Z" fill="#000"/><circle cx="505.60" cy="998.25" r="1.85" fill="#000"/><path d="M505.33 990.68 L508.34 992.70 L511.65 995.83 L513.50 992.62 L509.14 991.32 L505.88 989.72 Z" fill="#000"/><circle cx="512.57" cy="994.23" r="1.85" fill="#000"/><path d="M505.88 990.68 L509.14 989.08 L513.50 987.78 L511.65 984.57 L508.34 987.70 L505.33 989.72 Z" fill="#000"/><circle cx="512.57" cy="986.18" r="1.85" fill="#000"/><circle cx="505.60" cy="990.20" r="1.5" fill="#000"/><path d="M546.75 1076.80 L547.00 1073.18 L548.05 1068.75 L544.35 1068.75 L545.40 1073.18 L545.65 1076.80 Z" fill="#000"/><circle cx="546.20" cy="1068.75" r="1.85" fill="#000"/><path d="M546.48 1076.32 L543.46 1074.30 L540.15 1071.17 L538.30 1074.38 L542.66 1075.68 L545.93 1077.28 Z" fill="#000"/><circle cx="539.23" cy="1072.77" r="1.85" fill="#000"/><path d="M545.93 1076.32 L542.66 1077.92 L538.30 1079.22 L540.15 1082.43 L543.46 1079.30 L546.48 1077.28 Z" fill="#000"/><circle cx="539.23" cy="1080.83" r="1.85" fill="#000"/><path d="M545.65 1076.80 L545.40 1080.42 L544.35 1084.85 L548.05 1084.85 L547.00 1080.42 L546.75 1076.80 Z" fill="#000"/><circle cx="546.20" cy="1084.85" r="1.85" fill="#000"/><path d="M545.93 1077.28 L548.94 1079.30 L552.25 1082.43 L554.10 1079.22 L549.74 1077.92 L546.48 1076.32 Z" fill="#000"/><circle cx="553.17" cy="1080.83" r="1.85" fill="#000"/><path d="M546.48 1077.28 L549.74 1075.68 L554.10 1074.38 L552.25 1071.17 L548.94 1074.30 L545.93 1076.32 Z" fill="#000"/><circle cx="553.17" cy="1072.77" r="1.85" fill="#000"/><circle cx="546.20" cy="1076.80" r="1.5" fill="#000"/>
</svg>
</body></html>
